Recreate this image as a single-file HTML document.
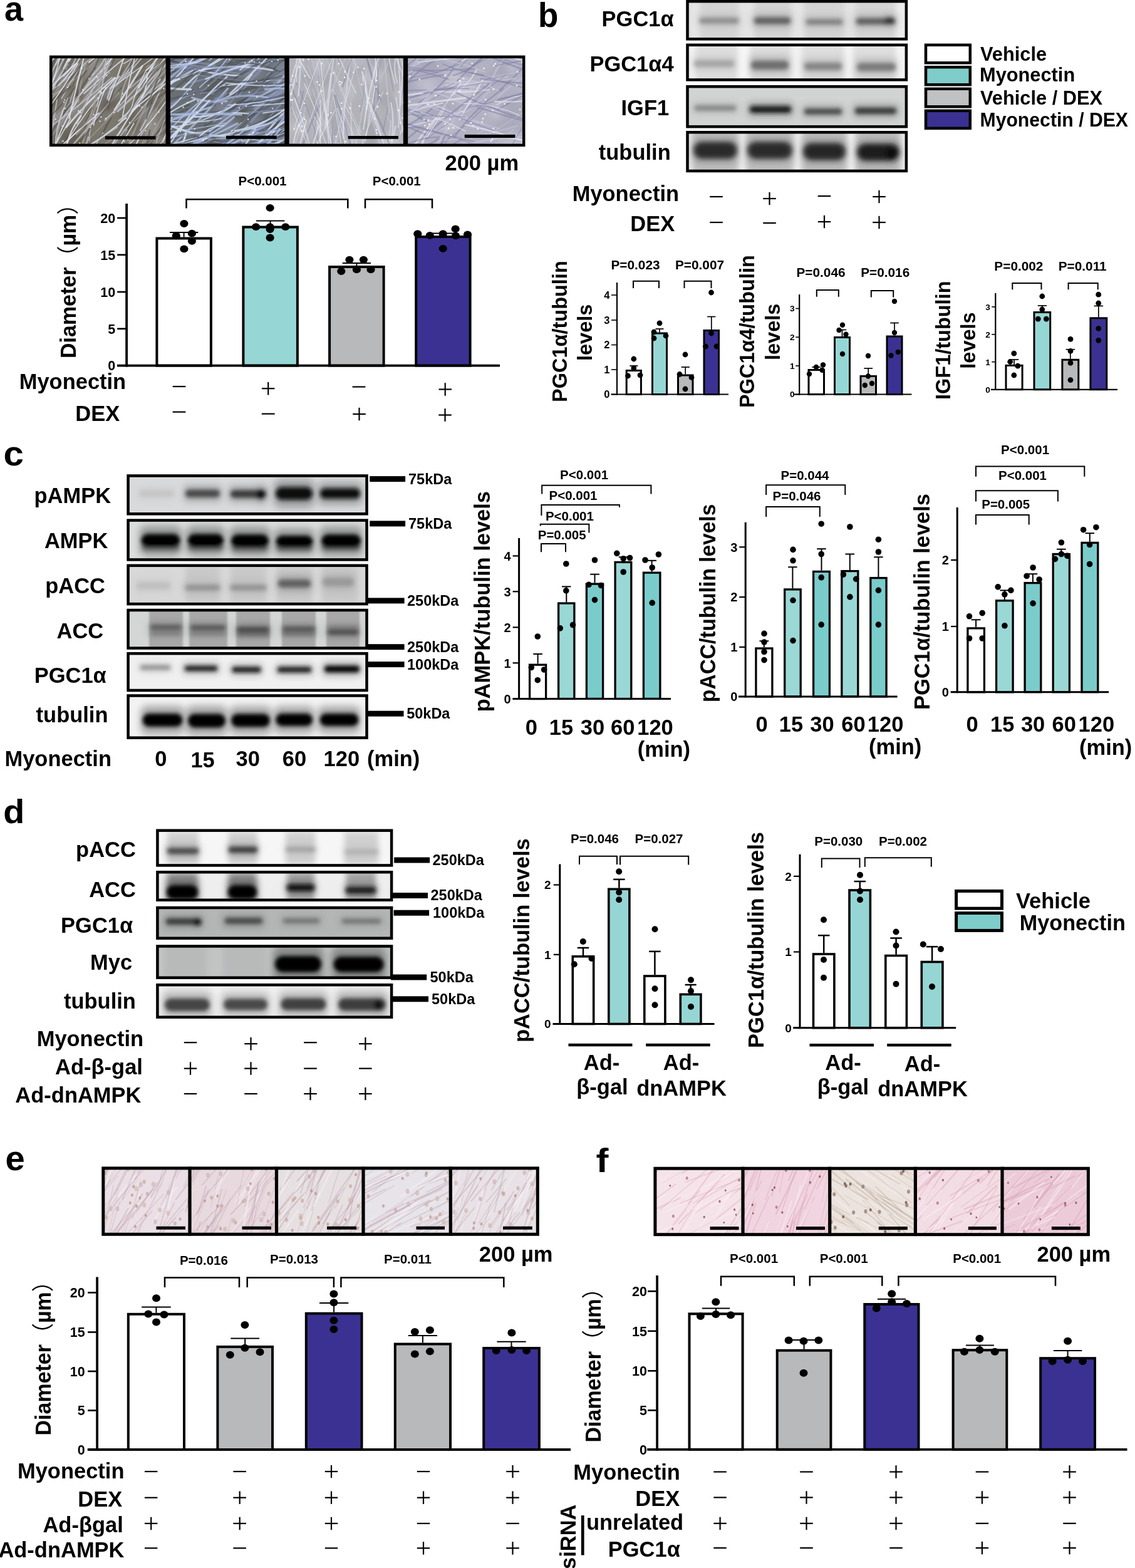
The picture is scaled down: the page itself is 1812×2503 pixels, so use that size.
<!DOCTYPE html>
<html><head><meta charset="utf-8"><title>Figure</title>
<style>
html,body{margin:0;padding:0;background:#fff;}
body{width:1812px;height:2503px;overflow:hidden;}
svg{display:block;}
text{font-family:"Liberation Sans", "Noto Sans CJK SC", sans-serif;}
</style></head><body>
<svg width="1812" height="2503" viewBox="0 0 1812 2503">
<defs>
<filter id="bl" x="-20%" y="-50%" width="140%" height="200%"><feGaussianBlur stdDeviation="3"/></filter>
<filter id="bl5" x="-20%" y="-50%" width="140%" height="200%"><feGaussianBlur stdDeviation="4"/></filter>
<filter id="blur4" x="-20%" y="-20%" width="140%" height="140%"><feGaussianBlur stdDeviation="4"/></filter>
<filter id="bl6" x="-30%" y="-100%" width="160%" height="300%"><feGaussianBlur stdDeviation="6"/></filter>
<filter id="fb" x="-5%" y="-5%" width="110%" height="110%"><feGaussianBlur stdDeviation="0.7"/></filter>
<filter id="bl2" x="-20%" y="-50%" width="140%" height="200%"><feGaussianBlur stdDeviation="1.5"/></filter>
</defs>
<rect x="0" y="0" width="1812" height="2503" fill="#fff"/>
<text x="7.0" y="32.5" font-size="54" text-anchor="start" font-weight="bold" fill="#000" transform="translate(7.0 32.5) scale(1.0 1.035) translate(-7.0 -32.5)">a</text>
<clipPath id="clip1"><rect x="81.0" y="91.0" width="186.0" height="141.0"/></clipPath>
<g clip-path="url(#clip1)">
<rect x="81.0" y="91.0" width="186.0" height="141.0" fill="#7c786e"/>
<g filter="url(#bl6)">
<ellipse cx="106.0" cy="210.5" rx="21.5" ry="13.8" fill="#5a5248" fill-opacity="0.5"/>
<ellipse cx="173.2" cy="154.4" rx="19.8" ry="21.8" fill="#5a5248" fill-opacity="0.5"/>
<ellipse cx="98.5" cy="95.0" rx="22.5" ry="16.5" fill="#5a5248" fill-opacity="0.5"/>
<ellipse cx="222.8" cy="91.3" rx="16.7" ry="20.8" fill="#5a5248" fill-opacity="0.5"/>
<ellipse cx="123.5" cy="224.3" rx="23.5" ry="10.5" fill="#5a5248" fill-opacity="0.5"/>
<ellipse cx="85.7" cy="167.3" rx="24.1" ry="15.7" fill="#5a5248" fill-opacity="0.5"/>
<ellipse cx="121.3" cy="150.5" rx="10.4" ry="13.3" fill="#5a5248" fill-opacity="0.5"/>
<ellipse cx="162.4" cy="160.9" rx="13.5" ry="13.5" fill="#5a5248" fill-opacity="0.5"/>
<ellipse cx="121.7" cy="155.8" rx="14.3" ry="10.3" fill="#5a5248" fill-opacity="0.5"/>
<ellipse cx="236.8" cy="169.5" rx="19.6" ry="12.8" fill="#5a5248" fill-opacity="0.5"/>
<ellipse cx="265.6" cy="212.3" rx="11.8" ry="15.0" fill="#5a5248" fill-opacity="0.5"/>
<ellipse cx="215.2" cy="191.3" rx="24.0" ry="16.3" fill="#5a5248" fill-opacity="0.5"/>
<ellipse cx="235.4" cy="185.5" rx="13.0" ry="15.9" fill="#b0b0b4" fill-opacity="0.4"/>
<ellipse cx="245.1" cy="210.3" rx="15.1" ry="15.9" fill="#b0b0b4" fill-opacity="0.4"/>
<ellipse cx="87.4" cy="125.2" rx="18.0" ry="14.1" fill="#b0b0b4" fill-opacity="0.4"/>
<ellipse cx="113.2" cy="168.4" rx="17.0" ry="16.7" fill="#b0b0b4" fill-opacity="0.4"/>
<ellipse cx="150.7" cy="152.9" rx="15.1" ry="17.8" fill="#b0b0b4" fill-opacity="0.4"/>
<ellipse cx="177.9" cy="146.4" rx="14.9" ry="10.3" fill="#b0b0b4" fill-opacity="0.4"/>
<ellipse cx="89.1" cy="190.2" rx="19.8" ry="15.9" fill="#b0b0b4" fill-opacity="0.4"/>
<ellipse cx="154.2" cy="115.0" rx="15.0" ry="19.8" fill="#b0b0b4" fill-opacity="0.4"/>
</g>
<g filter="url(#fb)">
<path d="M75.6 219.6 Q114.5 164.7 151.4 108.4" fill="none" stroke="#54504a" stroke-opacity="0.6" stroke-width="2.9" stroke-linecap="round"/>
<path d="M154.9 238.5 Q202.2 207.5 242.3 167.6" fill="none" stroke="#a8a4a0" stroke-opacity="0.6" stroke-width="1.9" stroke-linecap="round"/>
<path d="M129.3 123.7 Q158.2 81.8 185.3 38.7" fill="none" stroke="#54504a" stroke-opacity="0.6" stroke-width="2.8" stroke-linecap="round"/>
<path d="M211.0 172.1 Q245.2 146.5 278.7 119.9" fill="none" stroke="#54504a" stroke-opacity="0.6" stroke-width="1.2" stroke-linecap="round"/>
<path d="M101.9 121.6 Q117.9 106.0 123.9 84.5" fill="none" stroke="#c4c8d4" stroke-opacity="0.75" stroke-width="2.3" stroke-linecap="round"/>
<path d="M62.6 298.6 Q80.9 228.9 91.2 157.7" fill="none" stroke="#c4c8d4" stroke-opacity="0.75" stroke-width="2.0" stroke-linecap="round"/>
<path d="M192.8 157.6 Q197.1 131.4 211.6 109.1" fill="none" stroke="#c4c8d4" stroke-opacity="0.75" stroke-width="1.3" stroke-linecap="round"/>
<path d="M92.1 241.1 Q122.8 194.2 163.0 155.3" fill="none" stroke="#54504a" stroke-opacity="0.6" stroke-width="2.1" stroke-linecap="round"/>
<path d="M83.6 129.0 Q103.6 90.8 123.4 52.4" fill="none" stroke="#c4c8d4" stroke-opacity="0.75" stroke-width="2.8" stroke-linecap="round"/>
<path d="M246.3 137.8 Q277.0 105.8 316.6 85.7" fill="none" stroke="#54504a" stroke-opacity="0.6" stroke-width="1.9" stroke-linecap="round"/>
<path d="M133.5 263.1 Q159.2 222.7 181.4 180.2" fill="none" stroke="#54504a" stroke-opacity="0.6" stroke-width="3.0" stroke-linecap="round"/>
<path d="M131.2 227.5 Q152.2 175.9 169.3 122.9" fill="none" stroke="#a8a4a0" stroke-opacity="0.6" stroke-width="1.8" stroke-linecap="round"/>
<path d="M90.5 99.2 Q104.0 74.9 127.4 60.0" fill="none" stroke="#e2e6f0" stroke-opacity="0.85" stroke-width="1.3" stroke-linecap="round"/>
<path d="M88.5 103.7 Q112.7 67.4 147.5 41.4" fill="none" stroke="#c4c8d4" stroke-opacity="0.75" stroke-width="2.8" stroke-linecap="round"/>
<path d="M58.6 258.8 Q101.7 230.7 140.9 197.4" fill="none" stroke="#54504a" stroke-opacity="0.6" stroke-width="3.0" stroke-linecap="round"/>
<path d="M89.8 227.8 Q103.1 190.8 125.2 158.2" fill="none" stroke="#e2e6f0" stroke-opacity="0.85" stroke-width="2.0" stroke-linecap="round"/>
<path d="M142.2 99.5 Q174.0 72.9 207.7 48.7" fill="none" stroke="#e2e6f0" stroke-opacity="0.85" stroke-width="2.3" stroke-linecap="round"/>
<path d="M129.2 280.2 Q132.5 249.2 140.9 219.2" fill="none" stroke="#c4c8d4" stroke-opacity="0.75" stroke-width="2.6" stroke-linecap="round"/>
<path d="M137.2 193.6 Q151.7 172.1 156.2 146.7" fill="none" stroke="#54504a" stroke-opacity="0.6" stroke-width="2.8" stroke-linecap="round"/>
<path d="M41.2 113.4 Q72.0 74.6 110.3 43.2" fill="none" stroke="#a8a4a0" stroke-opacity="0.6" stroke-width="1.4" stroke-linecap="round"/>
<path d="M161.0 152.7 Q169.6 114.9 189.7 81.7" fill="none" stroke="#54504a" stroke-opacity="0.6" stroke-width="1.8" stroke-linecap="round"/>
<path d="M236.5 266.5 Q277.2 232.2 316.9 196.7" fill="none" stroke="#54504a" stroke-opacity="0.6" stroke-width="1.4" stroke-linecap="round"/>
<path d="M129.4 289.0 Q141.5 247.9 164.5 211.8" fill="none" stroke="#e2e6f0" stroke-opacity="0.85" stroke-width="1.5" stroke-linecap="round"/>
<path d="M107.9 224.2 Q141.1 170.2 185.0 124.4" fill="none" stroke="#e2e6f0" stroke-opacity="0.85" stroke-width="1.6" stroke-linecap="round"/>
<path d="M165.6 124.2 Q176.1 88.9 197.9 59.2" fill="none" stroke="#c4c8d4" stroke-opacity="0.75" stroke-width="2.8" stroke-linecap="round"/>
<path d="M197.3 101.6 Q216.7 92.1 227.7 73.6" fill="none" stroke="#e2e6f0" stroke-opacity="0.85" stroke-width="1.4" stroke-linecap="round"/>
<path d="M173.6 160.3 Q196.4 101.2 213.6 40.4" fill="none" stroke="#e2e6f0" stroke-opacity="0.85" stroke-width="2.0" stroke-linecap="round"/>
<path d="M249.2 158.1 Q271.6 144.0 284.5 120.9" fill="none" stroke="#54504a" stroke-opacity="0.6" stroke-width="2.9" stroke-linecap="round"/>
<path d="M98.4 157.2 Q125.9 104.3 165.8 60.0" fill="none" stroke="#c4c8d4" stroke-opacity="0.75" stroke-width="1.8" stroke-linecap="round"/>
<path d="M123.9 170.8 Q147.3 141.2 174.9 115.5" fill="none" stroke="#c4c8d4" stroke-opacity="0.75" stroke-width="1.3" stroke-linecap="round"/>
<path d="M192.4 279.1 Q203.5 249.2 208.9 217.6" fill="none" stroke="#a8a4a0" stroke-opacity="0.6" stroke-width="2.2" stroke-linecap="round"/>
<path d="M112.1 161.9 Q127.2 114.3 148.8 69.3" fill="none" stroke="#c4c8d4" stroke-opacity="0.75" stroke-width="1.3" stroke-linecap="round"/>
<path d="M125.0 162.2 Q130.5 110.4 150.1 62.1" fill="none" stroke="#a8a4a0" stroke-opacity="0.6" stroke-width="2.9" stroke-linecap="round"/>
<path d="M235.6 186.5 Q263.6 126.1 290.3 65.1" fill="none" stroke="#54504a" stroke-opacity="0.6" stroke-width="1.8" stroke-linecap="round"/>
<path d="M108.5 103.8 Q109.7 81.6 123.7 64.4" fill="none" stroke="#e2e6f0" stroke-opacity="0.85" stroke-width="2.2" stroke-linecap="round"/>
<path d="M226.8 156.2 Q236.3 137.1 234.6 115.8" fill="none" stroke="#e2e6f0" stroke-opacity="0.85" stroke-width="2.0" stroke-linecap="round"/>
<path d="M44.1 296.5 Q82.2 245.2 112.7 189.1" fill="none" stroke="#e2e6f0" stroke-opacity="0.85" stroke-width="1.5" stroke-linecap="round"/>
<path d="M57.7 189.7 Q82.9 161.7 112.6 138.4" fill="none" stroke="#54504a" stroke-opacity="0.6" stroke-width="2.9" stroke-linecap="round"/>
<path d="M48.4 195.4 Q72.8 129.6 87.9 61.0" fill="none" stroke="#54504a" stroke-opacity="0.6" stroke-width="2.8" stroke-linecap="round"/>
<path d="M83.1 242.0 Q92.9 199.2 110.2 158.7" fill="none" stroke="#54504a" stroke-opacity="0.6" stroke-width="2.4" stroke-linecap="round"/>
<path d="M129.2 150.1 Q158.7 116.7 187.3 82.5" fill="none" stroke="#e2e6f0" stroke-opacity="0.85" stroke-width="2.0" stroke-linecap="round"/>
<path d="M101.3 109.6 Q118.1 74.8 137.3 41.3" fill="none" stroke="#e2e6f0" stroke-opacity="0.85" stroke-width="2.4" stroke-linecap="round"/>
<path d="M83.5 132.2 Q97.4 94.8 101.0 55.1" fill="none" stroke="#e2e6f0" stroke-opacity="0.85" stroke-width="1.7" stroke-linecap="round"/>
<path d="M64.1 183.0 Q78.8 157.3 98.2 134.9" fill="none" stroke="#a8a4a0" stroke-opacity="0.6" stroke-width="1.5" stroke-linecap="round"/>
<path d="M68.6 161.7 Q116.5 133.4 155.4 93.6" fill="none" stroke="#a8a4a0" stroke-opacity="0.6" stroke-width="2.4" stroke-linecap="round"/>
<path d="M202.8 237.8 Q221.5 187.4 248.4 140.7" fill="none" stroke="#a8a4a0" stroke-opacity="0.6" stroke-width="3.0" stroke-linecap="round"/>
<path d="M105.5 203.3 Q140.9 160.3 183.1 123.9" fill="none" stroke="#e2e6f0" stroke-opacity="0.85" stroke-width="2.6" stroke-linecap="round"/>
<path d="M101.1 248.1 Q146.1 198.9 188.9 147.7" fill="none" stroke="#c4c8d4" stroke-opacity="0.75" stroke-width="2.5" stroke-linecap="round"/>
<path d="M134.0 149.4 Q187.2 99.4 246.2 56.4" fill="none" stroke="#e2e6f0" stroke-opacity="0.85" stroke-width="1.7" stroke-linecap="round"/>
<path d="M182.7 175.7 Q205.6 140.9 227.2 105.3" fill="none" stroke="#e2e6f0" stroke-opacity="0.85" stroke-width="2.7" stroke-linecap="round"/>
<path d="M104.9 110.1 Q113.1 85.6 132.5 68.5" fill="none" stroke="#e2e6f0" stroke-opacity="0.85" stroke-width="2.5" stroke-linecap="round"/>
<path d="M236.1 227.3 Q282.8 199.8 322.9 163.3" fill="none" stroke="#54504a" stroke-opacity="0.6" stroke-width="1.3" stroke-linecap="round"/>
<path d="M209.3 173.6 Q240.8 147.1 275.5 125.1" fill="none" stroke="#54504a" stroke-opacity="0.6" stroke-width="1.5" stroke-linecap="round"/>
<path d="M80.1 186.0 Q114.1 153.1 137.8 112.2" fill="none" stroke="#54504a" stroke-opacity="0.6" stroke-width="2.2" stroke-linecap="round"/>
<path d="M171.8 282.5 Q188.6 245.2 203.0 207.0" fill="none" stroke="#c4c8d4" stroke-opacity="0.75" stroke-width="2.2" stroke-linecap="round"/>
<path d="M216.8 150.3 Q250.3 108.8 282.8 66.5" fill="none" stroke="#e2e6f0" stroke-opacity="0.85" stroke-width="1.7" stroke-linecap="round"/>
<path d="M224.0 208.1 Q254.3 154.1 274.2 95.5" fill="none" stroke="#c4c8d4" stroke-opacity="0.75" stroke-width="2.8" stroke-linecap="round"/>
<path d="M227.7 248.9 Q252.8 209.1 281.0 171.5" fill="none" stroke="#54504a" stroke-opacity="0.6" stroke-width="2.2" stroke-linecap="round"/>
<path d="M15.9 222.1 Q64.2 171.7 117.0 126.0" fill="none" stroke="#c4c8d4" stroke-opacity="0.75" stroke-width="1.2" stroke-linecap="round"/>
<path d="M233.7 189.6 Q247.1 151.1 252.4 110.7" fill="none" stroke="#54504a" stroke-opacity="0.6" stroke-width="2.4" stroke-linecap="round"/>
<path d="M154.9 169.8 Q167.1 127.0 170.3 82.5" fill="none" stroke="#c4c8d4" stroke-opacity="0.75" stroke-width="1.9" stroke-linecap="round"/>
<path d="M129.1 239.8 Q149.5 172.4 165.8 103.7" fill="none" stroke="#a8a4a0" stroke-opacity="0.6" stroke-width="3.0" stroke-linecap="round"/>
<path d="M212.7 171.4 Q254.2 151.4 286.5 118.6" fill="none" stroke="#54504a" stroke-opacity="0.6" stroke-width="2.5" stroke-linecap="round"/>
<path d="M182.5 140.1 Q214.3 108.6 241.9 73.3" fill="none" stroke="#c4c8d4" stroke-opacity="0.75" stroke-width="2.1" stroke-linecap="round"/>
<path d="M170.5 270.2 Q205.9 253.4 232.5 224.6" fill="none" stroke="#a8a4a0" stroke-opacity="0.6" stroke-width="2.5" stroke-linecap="round"/>
<path d="M173.2 240.1 Q204.5 187.6 238.2 136.8" fill="none" stroke="#e2e6f0" stroke-opacity="0.85" stroke-width="2.3" stroke-linecap="round"/>
<path d="M193.3 280.1 Q241.8 227.3 282.4 168.2" fill="none" stroke="#54504a" stroke-opacity="0.6" stroke-width="2.6" stroke-linecap="round"/>
<path d="M206.0 260.3 Q216.0 226.8 236.0 198.1" fill="none" stroke="#e2e6f0" stroke-opacity="0.85" stroke-width="2.2" stroke-linecap="round"/>
<path d="M47.2 202.2 Q70.2 162.7 95.3 124.5" fill="none" stroke="#c4c8d4" stroke-opacity="0.75" stroke-width="2.5" stroke-linecap="round"/>
<path d="M88.1 242.8 Q91.8 198.1 108.1 156.4" fill="none" stroke="#c4c8d4" stroke-opacity="0.75" stroke-width="1.5" stroke-linecap="round"/>
<path d="M88.9 256.4 Q102.5 227.3 127.0 206.3" fill="none" stroke="#c4c8d4" stroke-opacity="0.75" stroke-width="1.7" stroke-linecap="round"/>
<path d="M46.1 168.1 Q79.0 128.8 98.4 81.3" fill="none" stroke="#c4c8d4" stroke-opacity="0.75" stroke-width="2.5" stroke-linecap="round"/>
<path d="M123.1 197.9 Q146.3 141.7 176.3 88.8" fill="none" stroke="#c4c8d4" stroke-opacity="0.75" stroke-width="2.1" stroke-linecap="round"/>
<path d="M175.8 140.6 Q203.0 119.0 221.9 89.9" fill="none" stroke="#c4c8d4" stroke-opacity="0.75" stroke-width="2.4" stroke-linecap="round"/>
<path d="M215.2 253.0 Q235.0 214.0 251.1 173.3" fill="none" stroke="#a8a4a0" stroke-opacity="0.6" stroke-width="1.5" stroke-linecap="round"/>
<path d="M153.2 273.7 Q197.1 245.3 231.7 206.0" fill="none" stroke="#54504a" stroke-opacity="0.6" stroke-width="1.5" stroke-linecap="round"/>
<path d="M76.9 223.5 Q95.6 202.8 107.5 177.6" fill="none" stroke="#a8a4a0" stroke-opacity="0.6" stroke-width="1.8" stroke-linecap="round"/>
<path d="M206.8 113.6 Q212.2 82.6 223.2 53.1" fill="none" stroke="#54504a" stroke-opacity="0.6" stroke-width="1.6" stroke-linecap="round"/>
<path d="M226.0 88.7 Q245.7 77.6 261.9 61.7" fill="none" stroke="#e2e6f0" stroke-opacity="0.85" stroke-width="2.6" stroke-linecap="round"/>
<path d="M235.8 230.4 Q282.9 185.6 322.0 133.6" fill="none" stroke="#a8a4a0" stroke-opacity="0.6" stroke-width="1.8" stroke-linecap="round"/>
<path d="M93.2 136.6 Q114.4 115.7 129.2 89.8" fill="none" stroke="#e2e6f0" stroke-opacity="0.85" stroke-width="2.0" stroke-linecap="round"/>
<path d="M172.1 174.8 Q181.0 140.2 197.2 108.2" fill="none" stroke="#54504a" stroke-opacity="0.6" stroke-width="2.0" stroke-linecap="round"/>
<path d="M243.9 135.5 Q290.3 82.8 327.6 23.2" fill="none" stroke="#a8a4a0" stroke-opacity="0.6" stroke-width="2.6" stroke-linecap="round"/>
<path d="M74.9 149.3 Q129.2 110.4 177.0 63.6" fill="none" stroke="#c4c8d4" stroke-opacity="0.75" stroke-width="1.5" stroke-linecap="round"/>
<path d="M133.0 244.7 Q149.2 230.4 164.0 214.5" fill="none" stroke="#54504a" stroke-opacity="0.6" stroke-width="2.2" stroke-linecap="round"/>
<path d="M238.4 278.7 Q244.1 233.1 263.3 191.3" fill="none" stroke="#c4c8d4" stroke-opacity="0.75" stroke-width="1.3" stroke-linecap="round"/>
<path d="M80.3 121.8 Q89.7 87.9 94.8 53.2" fill="none" stroke="#54504a" stroke-opacity="0.6" stroke-width="1.2" stroke-linecap="round"/>
<path d="M167.3 191.8 Q216.5 146.5 254.4 91.3" fill="none" stroke="#c4c8d4" stroke-opacity="0.75" stroke-width="2.3" stroke-linecap="round"/>
<path d="M220.3 151.6 Q242.0 103.9 257.9 53.9" fill="none" stroke="#54504a" stroke-opacity="0.6" stroke-width="2.0" stroke-linecap="round"/>
<path d="M143.8 231.5 Q186.9 205.0 221.4 168.1" fill="none" stroke="#e2e6f0" stroke-opacity="0.85" stroke-width="2.2" stroke-linecap="round"/>
<path d="M183.1 252.3 Q229.6 212.3 264.8 162.0" fill="none" stroke="#e2e6f0" stroke-opacity="0.85" stroke-width="1.7" stroke-linecap="round"/>
<path d="M150.9 109.6 Q164.2 80.6 164.6 48.7" fill="none" stroke="#54504a" stroke-opacity="0.6" stroke-width="2.3" stroke-linecap="round"/>
<path d="M118.0 115.4 Q133.9 95.3 145.4 72.5" fill="none" stroke="#a8a4a0" stroke-opacity="0.6" stroke-width="1.3" stroke-linecap="round"/>
<path d="M113.3 254.0 Q159.0 201.5 210.4 154.7" fill="none" stroke="#a8a4a0" stroke-opacity="0.6" stroke-width="1.7" stroke-linecap="round"/>
<path d="M142.6 224.8 Q142.1 202.2 153.1 182.4" fill="none" stroke="#c4c8d4" stroke-opacity="0.75" stroke-width="1.8" stroke-linecap="round"/>
<path d="M81.1 194.2 Q130.3 148.6 178.1 101.6" fill="none" stroke="#a8a4a0" stroke-opacity="0.6" stroke-width="1.6" stroke-linecap="round"/>
<path d="M111.8 263.0 Q145.7 228.5 187.0 203.3" fill="none" stroke="#c4c8d4" stroke-opacity="0.75" stroke-width="2.1" stroke-linecap="round"/>
<path d="M223.7 218.5 Q245.5 172.1 279.8 134.0" fill="none" stroke="#a8a4a0" stroke-opacity="0.6" stroke-width="2.1" stroke-linecap="round"/>
<path d="M127.7 152.2 Q144.6 125.6 170.3 107.2" fill="none" stroke="#c4c8d4" stroke-opacity="0.75" stroke-width="1.9" stroke-linecap="round"/>
<path d="M194.7 191.2 Q205.8 127.3 221.6 64.4" fill="none" stroke="#e2e6f0" stroke-opacity="0.85" stroke-width="1.7" stroke-linecap="round"/>
<path d="M29.4 128.2 Q65.6 95.6 96.5 57.9" fill="none" stroke="#c4c8d4" stroke-opacity="0.75" stroke-width="1.8" stroke-linecap="round"/>
<path d="M98.0 189.6 Q127.3 155.5 150.4 116.8" fill="none" stroke="#c4c8d4" stroke-opacity="0.75" stroke-width="1.9" stroke-linecap="round"/>
<path d="M217.8 264.7 Q269.7 216.3 321.0 167.4" fill="none" stroke="#a8a4a0" stroke-opacity="0.6" stroke-width="1.4" stroke-linecap="round"/>
<path d="M188.1 177.7 Q231.4 138.1 271.4 95.2" fill="none" stroke="#c4c8d4" stroke-opacity="0.75" stroke-width="2.9" stroke-linecap="round"/>
<path d="M116.6 211.3 Q134.3 161.2 159.3 114.5" fill="none" stroke="#a8a4a0" stroke-opacity="0.6" stroke-width="1.3" stroke-linecap="round"/>
<path d="M62.3 202.4 Q96.8 141.2 143.1 88.4" fill="none" stroke="#54504a" stroke-opacity="0.6" stroke-width="2.5" stroke-linecap="round"/>
<path d="M176.0 141.7 Q223.2 108.9 269.0 74.2" fill="none" stroke="#e2e6f0" stroke-opacity="0.85" stroke-width="1.3" stroke-linecap="round"/>
<path d="M62.4 264.9 Q109.4 221.9 157.8 180.5" fill="none" stroke="#e2e6f0" stroke-opacity="0.85" stroke-width="2.1" stroke-linecap="round"/>
<path d="M207.4 140.6 Q243.4 110.7 279.6 81.1" fill="none" stroke="#c4c8d4" stroke-opacity="0.75" stroke-width="1.6" stroke-linecap="round"/>
<path d="M156.2 291.9 Q187.2 243.8 211.9 192.1" fill="none" stroke="#54504a" stroke-opacity="0.6" stroke-width="2.6" stroke-linecap="round"/>
<path d="M171.5 157.9 Q175.3 136.7 190.9 121.9" fill="none" stroke="#c4c8d4" stroke-opacity="0.75" stroke-width="2.8" stroke-linecap="round"/>
<path d="M150.9 170.7 Q167.6 106.0 178.3 39.9" fill="none" stroke="#a8a4a0" stroke-opacity="0.6" stroke-width="1.7" stroke-linecap="round"/>
<path d="M140.0 304.7 Q180.5 253.4 213.6 197.1" fill="none" stroke="#e2e6f0" stroke-opacity="0.85" stroke-width="1.8" stroke-linecap="round"/>
<path d="M218.4 285.0 Q247.7 244.7 273.6 202.1" fill="none" stroke="#c4c8d4" stroke-opacity="0.75" stroke-width="1.9" stroke-linecap="round"/>
<path d="M147.6 119.9 Q167.9 100.2 175.1 72.9" fill="none" stroke="#c4c8d4" stroke-opacity="0.75" stroke-width="2.6" stroke-linecap="round"/>
<path d="M180.7 231.8 Q226.1 172.5 274.0 115.1" fill="none" stroke="#c4c8d4" stroke-opacity="0.75" stroke-width="1.9" stroke-linecap="round"/>
<path d="M197.6 185.5 Q255.3 144.0 306.9 95.3" fill="none" stroke="#e2e6f0" stroke-opacity="0.85" stroke-width="2.0" stroke-linecap="round"/>
<path d="M193.0 193.6 Q234.5 141.1 276.4 89.1" fill="none" stroke="#c4c8d4" stroke-opacity="0.75" stroke-width="2.6" stroke-linecap="round"/>
<path d="M89.8 136.5 Q101.1 118.8 110.0 99.7" fill="none" stroke="#54504a" stroke-opacity="0.6" stroke-width="2.7" stroke-linecap="round"/>
<path d="M239.2 148.9 Q271.0 120.1 307.2 97.1" fill="none" stroke="#c4c8d4" stroke-opacity="0.75" stroke-width="2.0" stroke-linecap="round"/>
<path d="M189.7 193.0 Q225.1 162.4 255.7 126.9" fill="none" stroke="#c4c8d4" stroke-opacity="0.75" stroke-width="2.9" stroke-linecap="round"/>
<path d="M87.8 233.7 Q89.4 201.9 101.8 172.6" fill="none" stroke="#e2e6f0" stroke-opacity="0.85" stroke-width="1.4" stroke-linecap="round"/>
<path d="M221.5 140.0 Q256.6 90.9 277.6 34.3" fill="none" stroke="#e2e6f0" stroke-opacity="0.85" stroke-width="2.3" stroke-linecap="round"/>
<path d="M252.9 278.9 Q275.5 247.0 296.7 214.1" fill="none" stroke="#54504a" stroke-opacity="0.6" stroke-width="1.4" stroke-linecap="round"/>
<path d="M241.0 235.9 Q289.2 198.5 330.7 153.9" fill="none" stroke="#a8a4a0" stroke-opacity="0.6" stroke-width="1.5" stroke-linecap="round"/>
<path d="M40.0 181.7 Q78.4 139.2 121.4 101.4" fill="none" stroke="#e2e6f0" stroke-opacity="0.85" stroke-width="2.4" stroke-linecap="round"/>
<path d="M233.5 106.9 Q258.1 95.2 274.4 73.5" fill="none" stroke="#a8a4a0" stroke-opacity="0.6" stroke-width="1.9" stroke-linecap="round"/>
<path d="M218.7 272.8 Q234.6 242.0 239.2 207.7" fill="none" stroke="#54504a" stroke-opacity="0.6" stroke-width="2.2" stroke-linecap="round"/>
<path d="M216.9 127.7 Q258.2 92.2 294.3 51.6" fill="none" stroke="#54504a" stroke-opacity="0.6" stroke-width="2.6" stroke-linecap="round"/>
<path d="M64.0 214.3 Q124.0 172.1 178.9 123.4" fill="none" stroke="#c4c8d4" stroke-opacity="0.75" stroke-width="2.0" stroke-linecap="round"/>
<path d="M208.4 178.4 Q216.0 143.8 232.8 112.6" fill="none" stroke="#e2e6f0" stroke-opacity="0.85" stroke-width="1.4" stroke-linecap="round"/>
<path d="M64.7 190.3 Q97.2 147.6 124.5 101.5" fill="none" stroke="#e2e6f0" stroke-opacity="0.85" stroke-width="1.7" stroke-linecap="round"/>
<path d="M171.2 154.9 Q199.9 116.9 221.6 74.6" fill="none" stroke="#c4c8d4" stroke-opacity="0.75" stroke-width="1.5" stroke-linecap="round"/>
<path d="M121.7 215.1 Q138.8 198.7 147.7 176.7" fill="none" stroke="#a8a4a0" stroke-opacity="0.6" stroke-width="2.4" stroke-linecap="round"/>
<path d="M116.3 137.2 Q132.0 92.6 154.9 51.1" fill="none" stroke="#54504a" stroke-opacity="0.6" stroke-width="1.5" stroke-linecap="round"/>
<path d="M31.4 153.4 Q73.1 102.8 113.2 50.9" fill="none" stroke="#e2e6f0" stroke-opacity="0.85" stroke-width="1.4" stroke-linecap="round"/>
<path d="M55.7 144.0 Q59.7 123.0 75.3 108.6" fill="none" stroke="#c4c8d4" stroke-opacity="0.75" stroke-width="2.3" stroke-linecap="round"/>
<path d="M234.7 169.9 Q253.9 119.0 276.6 69.5" fill="none" stroke="#54504a" stroke-opacity="0.6" stroke-width="2.5" stroke-linecap="round"/>
<path d="M106.1 235.5 Q111.0 207.3 129.3 185.3" fill="none" stroke="#e2e6f0" stroke-opacity="0.85" stroke-width="2.4" stroke-linecap="round"/>
<path d="M110.5 188.7 Q126.7 115.5 147.1 43.4" fill="none" stroke="#e2e6f0" stroke-opacity="0.85" stroke-width="2.2" stroke-linecap="round"/>
<path d="M260.3 226.8 Q274.8 187.4 283.8 146.3" fill="none" stroke="#e2e6f0" stroke-opacity="0.85" stroke-width="1.6" stroke-linecap="round"/>
<path d="M265.3 159.0 Q282.3 92.1 290.1 23.6" fill="none" stroke="#c4c8d4" stroke-opacity="0.75" stroke-width="2.9" stroke-linecap="round"/>
<path d="M111.5 247.9 Q152.9 194.2 193.7 139.9" fill="none" stroke="#54504a" stroke-opacity="0.6" stroke-width="2.3" stroke-linecap="round"/>
<path d="M240.7 220.0 Q258.1 181.5 287.4 151.0" fill="none" stroke="#a8a4a0" stroke-opacity="0.6" stroke-width="2.2" stroke-linecap="round"/>
<path d="M149.5 200.1 Q155.7 168.7 169.0 139.5" fill="none" stroke="#e2e6f0" stroke-opacity="0.85" stroke-width="1.7" stroke-linecap="round"/>
<path d="M62.5 174.6 Q85.1 139.0 106.4 102.6" fill="none" stroke="#c4c8d4" stroke-opacity="0.75" stroke-width="2.4" stroke-linecap="round"/>
<path d="M63.6 119.6 Q93.1 86.2 118.2 49.3" fill="none" stroke="#e2e6f0" stroke-opacity="0.85" stroke-width="2.2" stroke-linecap="round"/>
<path d="M200.7 191.5 Q229.7 134.2 268.2 82.6" fill="none" stroke="#54504a" stroke-opacity="0.6" stroke-width="1.7" stroke-linecap="round"/>
<path d="M250.5 125.9 Q283.8 99.5 312.9 68.7" fill="none" stroke="#a8a4a0" stroke-opacity="0.6" stroke-width="1.7" stroke-linecap="round"/>
<path d="M233.7 112.0 Q251.1 99.0 256.8 78.0" fill="none" stroke="#e2e6f0" stroke-opacity="0.85" stroke-width="2.5" stroke-linecap="round"/>
</g>
<circle cx="99.8" cy="95.3" r="1.2" fill="#f0f0f4" fill-opacity="0.8"/>
<circle cx="161.3" cy="186.8" r="1.2" fill="#f0f0f4" fill-opacity="0.8"/>
<circle cx="132.3" cy="143.2" r="1.2" fill="#f0f0f4" fill-opacity="0.8"/>
<circle cx="156.5" cy="156.1" r="1.2" fill="#f0f0f4" fill-opacity="0.8"/>
<circle cx="99.4" cy="200.9" r="1.2" fill="#f0f0f4" fill-opacity="0.8"/>
<circle cx="201.2" cy="189.3" r="1.2" fill="#f0f0f4" fill-opacity="0.8"/>
<circle cx="232.1" cy="208.3" r="1.2" fill="#f0f0f4" fill-opacity="0.8"/>
<circle cx="190.3" cy="165.8" r="1.2" fill="#f0f0f4" fill-opacity="0.8"/>
<circle cx="223.0" cy="168.7" r="1.2" fill="#f0f0f4" fill-opacity="0.8"/>
<circle cx="226.6" cy="171.1" r="1.2" fill="#f0f0f4" fill-opacity="0.8"/>
<circle cx="261.2" cy="141.3" r="1.2" fill="#f0f0f4" fill-opacity="0.8"/>
<circle cx="169.1" cy="189.3" r="1.2" fill="#f0f0f4" fill-opacity="0.8"/>
<circle cx="253.5" cy="178.7" r="1.2" fill="#f0f0f4" fill-opacity="0.8"/>
<circle cx="100.6" cy="225.2" r="1.2" fill="#f0f0f4" fill-opacity="0.8"/>
<circle cx="243.2" cy="107.4" r="1.2" fill="#f0f0f4" fill-opacity="0.8"/>
<circle cx="88.5" cy="190.3" r="1.2" fill="#f0f0f4" fill-opacity="0.8"/>
<circle cx="159.6" cy="193.5" r="1.2" fill="#f0f0f4" fill-opacity="0.8"/>
<circle cx="128.1" cy="179.2" r="1.2" fill="#f0f0f4" fill-opacity="0.8"/>
<circle cx="248.1" cy="220.1" r="1.2" fill="#f0f0f4" fill-opacity="0.8"/>
<circle cx="195.8" cy="149.5" r="1.2" fill="#f0f0f4" fill-opacity="0.8"/>
<circle cx="147.7" cy="197.3" r="1.2" fill="#f0f0f4" fill-opacity="0.8"/>
<circle cx="144.5" cy="203.5" r="1.2" fill="#f0f0f4" fill-opacity="0.8"/>
<circle cx="125.3" cy="177.0" r="1.2" fill="#f0f0f4" fill-opacity="0.8"/>
<circle cx="107.9" cy="139.2" r="1.2" fill="#f0f0f4" fill-opacity="0.8"/>
<circle cx="102.1" cy="163.3" r="1.2" fill="#f0f0f4" fill-opacity="0.8"/>
<circle cx="182.0" cy="179.3" r="1.2" fill="#f0f0f4" fill-opacity="0.8"/>
<circle cx="247.4" cy="197.8" r="1.2" fill="#f0f0f4" fill-opacity="0.8"/>
<circle cx="103.6" cy="173.2" r="1.2" fill="#f0f0f4" fill-opacity="0.8"/>
<circle cx="170.3" cy="120.5" r="1.2" fill="#f0f0f4" fill-opacity="0.8"/>
<circle cx="198.5" cy="225.4" r="1.2" fill="#f0f0f4" fill-opacity="0.8"/>
<circle cx="154.9" cy="123.1" r="1.2" fill="#f0f0f4" fill-opacity="0.8"/>
<circle cx="127.2" cy="228.5" r="1.2" fill="#f0f0f4" fill-opacity="0.8"/>
<circle cx="142.2" cy="125.6" r="1.2" fill="#f0f0f4" fill-opacity="0.8"/>
<circle cx="206.9" cy="195.8" r="1.2" fill="#f0f0f4" fill-opacity="0.8"/>
<circle cx="149.7" cy="182.9" r="1.2" fill="#f0f0f4" fill-opacity="0.8"/>
<circle cx="204.4" cy="223.1" r="1.2" fill="#f0f0f4" fill-opacity="0.8"/>
<circle cx="161.4" cy="147.2" r="1.2" fill="#f0f0f4" fill-opacity="0.8"/>
<circle cx="103.4" cy="159.8" r="1.2" fill="#f0f0f4" fill-opacity="0.8"/>
<circle cx="130.6" cy="108.7" r="1.2" fill="#f0f0f4" fill-opacity="0.8"/>
<circle cx="83.2" cy="149.5" r="1.2" fill="#f0f0f4" fill-opacity="0.8"/>
</g>
<clipPath id="clip2"><rect x="268.0" y="91.0" width="190.0" height="141.0"/></clipPath>
<g clip-path="url(#clip2)">
<rect x="268.0" y="91.0" width="190.0" height="141.0" fill="#6a6f72"/>
<g filter="url(#bl6)">
<ellipse cx="449.6" cy="224.6" rx="10.8" ry="11.3" fill="#484c48" fill-opacity="0.55"/>
<ellipse cx="426.7" cy="194.8" rx="20.0" ry="14.6" fill="#484c48" fill-opacity="0.55"/>
<ellipse cx="383.1" cy="176.6" rx="18.7" ry="12.4" fill="#484c48" fill-opacity="0.55"/>
<ellipse cx="349.8" cy="146.5" rx="20.8" ry="24.9" fill="#484c48" fill-opacity="0.55"/>
<ellipse cx="448.4" cy="167.7" rx="16.7" ry="14.0" fill="#484c48" fill-opacity="0.55"/>
<ellipse cx="274.8" cy="94.9" rx="17.0" ry="14.8" fill="#484c48" fill-opacity="0.55"/>
<ellipse cx="340.2" cy="216.7" rx="17.9" ry="18.4" fill="#484c48" fill-opacity="0.55"/>
<ellipse cx="312.9" cy="94.4" rx="14.9" ry="12.1" fill="#484c48" fill-opacity="0.55"/>
<ellipse cx="364.9" cy="231.8" rx="20.1" ry="12.7" fill="#484c48" fill-opacity="0.55"/>
<ellipse cx="437.8" cy="203.3" rx="21.0" ry="23.6" fill="#484c48" fill-opacity="0.55"/>
<ellipse cx="412.9" cy="202.4" rx="13.5" ry="19.8" fill="#9aa6c4" fill-opacity="0.4"/>
<ellipse cx="450.8" cy="113.7" rx="17.5" ry="17.2" fill="#9aa6c4" fill-opacity="0.4"/>
<ellipse cx="355.7" cy="165.8" rx="14.9" ry="19.2" fill="#9aa6c4" fill-opacity="0.4"/>
<ellipse cx="363.2" cy="208.2" rx="13.5" ry="18.8" fill="#9aa6c4" fill-opacity="0.4"/>
<ellipse cx="438.9" cy="156.0" rx="15.7" ry="19.2" fill="#9aa6c4" fill-opacity="0.4"/>
<ellipse cx="405.5" cy="159.6" rx="12.2" ry="13.2" fill="#9aa6c4" fill-opacity="0.4"/>
<ellipse cx="400.9" cy="114.4" rx="19.1" ry="12.7" fill="#9aa6c4" fill-opacity="0.4"/>
<ellipse cx="441.2" cy="134.6" rx="19.6" ry="17.1" fill="#9aa6c4" fill-opacity="0.4"/>
</g>
<g filter="url(#fb)">
<path d="M339.1 256.7 Q359.4 230.0 392.4 223.5" fill="none" stroke="#8a96bc" stroke-opacity="0.6" stroke-width="2.7" stroke-linecap="round"/>
<path d="M222.8 215.4 Q292.6 210.0 361.3 196.2" fill="none" stroke="#aebee2" stroke-opacity="0.8" stroke-width="1.6" stroke-linecap="round"/>
<path d="M403.2 223.1 Q456.9 201.2 514.0 192.0" fill="none" stroke="#aebee2" stroke-opacity="0.8" stroke-width="1.8" stroke-linecap="round"/>
<path d="M431.3 206.5 Q454.9 204.6 477.8 210.4" fill="none" stroke="#464c54" stroke-opacity="0.5" stroke-width="1.6" stroke-linecap="round"/>
<path d="M443.4 80.3 Q465.0 62.4 491.7 70.9" fill="none" stroke="#464c54" stroke-opacity="0.5" stroke-width="3.0" stroke-linecap="round"/>
<path d="M364.4 214.1 Q418.7 167.5 469.6 117.3" fill="none" stroke="#aebee2" stroke-opacity="0.8" stroke-width="1.5" stroke-linecap="round"/>
<path d="M310.6 196.9 Q320.0 174.2 343.7 167.9" fill="none" stroke="#464c54" stroke-opacity="0.5" stroke-width="3.0" stroke-linecap="round"/>
<path d="M340.5 194.2 Q372.4 174.4 409.2 166.9" fill="none" stroke="#aebee2" stroke-opacity="0.8" stroke-width="1.6" stroke-linecap="round"/>
<path d="M297.9 111.8 Q356.7 106.7 415.5 111.8" fill="none" stroke="#8a96bc" stroke-opacity="0.6" stroke-width="2.8" stroke-linecap="round"/>
<path d="M424.2 212.3 Q465.8 164.6 508.0 117.3" fill="none" stroke="#d0dcf2" stroke-opacity="0.85" stroke-width="3.1" stroke-linecap="round"/>
<path d="M253.2 229.1 Q298.6 170.6 362.0 132.3" fill="none" stroke="#aebee2" stroke-opacity="0.8" stroke-width="2.3" stroke-linecap="round"/>
<path d="M245.0 108.4 Q276.8 94.5 311.6 95.4" fill="none" stroke="#464c54" stroke-opacity="0.5" stroke-width="2.4" stroke-linecap="round"/>
<path d="M317.8 112.0 Q349.8 119.8 382.8 120.8" fill="none" stroke="#d0dcf2" stroke-opacity="0.85" stroke-width="2.7" stroke-linecap="round"/>
<path d="M333.6 96.8 Q367.6 69.8 404.4 47.0" fill="none" stroke="#aebee2" stroke-opacity="0.8" stroke-width="1.6" stroke-linecap="round"/>
<path d="M248.2 83.2 Q267.6 64.2 294.7 66.0" fill="none" stroke="#d0dcf2" stroke-opacity="0.85" stroke-width="3.0" stroke-linecap="round"/>
<path d="M276.4 202.6 Q323.1 197.9 362.1 171.7" fill="none" stroke="#d0dcf2" stroke-opacity="0.85" stroke-width="1.9" stroke-linecap="round"/>
<path d="M322.2 182.1 Q365.3 173.9 409.1 170.3" fill="none" stroke="#464c54" stroke-opacity="0.5" stroke-width="1.6" stroke-linecap="round"/>
<path d="M302.0 71.2 Q359.0 63.9 414.7 77.9" fill="none" stroke="#464c54" stroke-opacity="0.5" stroke-width="3.4" stroke-linecap="round"/>
<path d="M271.6 115.0 Q327.5 65.1 395.6 33.9" fill="none" stroke="#aebee2" stroke-opacity="0.8" stroke-width="2.9" stroke-linecap="round"/>
<path d="M388.8 257.0 Q440.2 221.0 486.9 179.0" fill="none" stroke="#aebee2" stroke-opacity="0.8" stroke-width="1.6" stroke-linecap="round"/>
<path d="M223.7 154.7 Q272.5 132.1 306.3 90.3" fill="none" stroke="#8a96bc" stroke-opacity="0.6" stroke-width="2.2" stroke-linecap="round"/>
<path d="M237.3 167.0 Q268.5 130.6 312.0 110.1" fill="none" stroke="#d0dcf2" stroke-opacity="0.85" stroke-width="2.9" stroke-linecap="round"/>
<path d="M252.2 97.7 Q277.8 89.1 299.8 73.4" fill="none" stroke="#aebee2" stroke-opacity="0.8" stroke-width="3.2" stroke-linecap="round"/>
<path d="M378.6 215.3 Q399.6 211.6 420.7 208.0" fill="none" stroke="#464c54" stroke-opacity="0.5" stroke-width="2.9" stroke-linecap="round"/>
<path d="M306.6 155.9 Q333.6 164.8 361.9 161.4" fill="none" stroke="#aebee2" stroke-opacity="0.8" stroke-width="3.2" stroke-linecap="round"/>
<path d="M250.4 108.3 Q316.7 106.2 382.1 117.6" fill="none" stroke="#8a96bc" stroke-opacity="0.6" stroke-width="2.5" stroke-linecap="round"/>
<path d="M209.8 212.5 Q265.4 190.9 325.0 192.9" fill="none" stroke="#8a96bc" stroke-opacity="0.6" stroke-width="2.7" stroke-linecap="round"/>
<path d="M316.1 79.3 Q342.3 94.1 371.6 86.9" fill="none" stroke="#464c54" stroke-opacity="0.5" stroke-width="1.7" stroke-linecap="round"/>
<path d="M274.5 216.9 Q300.1 191.1 328.0 167.9" fill="none" stroke="#d0dcf2" stroke-opacity="0.85" stroke-width="2.9" stroke-linecap="round"/>
<path d="M430.4 242.0 Q466.8 208.1 502.6 173.6" fill="none" stroke="#aebee2" stroke-opacity="0.8" stroke-width="1.7" stroke-linecap="round"/>
<path d="M444.0 131.9 Q463.3 110.4 487.8 94.9" fill="none" stroke="#aebee2" stroke-opacity="0.8" stroke-width="3.2" stroke-linecap="round"/>
<path d="M379.4 163.6 Q433.1 137.6 489.1 117.2" fill="none" stroke="#464c54" stroke-opacity="0.5" stroke-width="3.0" stroke-linecap="round"/>
<path d="M372.2 256.4 Q411.1 239.8 450.6 224.7" fill="none" stroke="#d0dcf2" stroke-opacity="0.85" stroke-width="2.9" stroke-linecap="round"/>
<path d="M197.4 229.9 Q266.9 220.3 336.1 208.8" fill="none" stroke="#aebee2" stroke-opacity="0.8" stroke-width="3.0" stroke-linecap="round"/>
<path d="M422.1 211.3 Q472.3 185.0 523.4 160.5" fill="none" stroke="#464c54" stroke-opacity="0.5" stroke-width="1.5" stroke-linecap="round"/>
<path d="M188.5 255.5 Q252.6 244.6 315.3 227.9" fill="none" stroke="#8a96bc" stroke-opacity="0.6" stroke-width="3.0" stroke-linecap="round"/>
<path d="M410.1 209.2 Q435.4 216.7 461.1 210.4" fill="none" stroke="#464c54" stroke-opacity="0.5" stroke-width="1.9" stroke-linecap="round"/>
<path d="M200.1 213.6 Q250.1 194.2 299.8 174.1" fill="none" stroke="#464c54" stroke-opacity="0.5" stroke-width="2.5" stroke-linecap="round"/>
<path d="M441.6 96.4 Q470.2 83.8 499.2 72.0" fill="none" stroke="#464c54" stroke-opacity="0.5" stroke-width="1.5" stroke-linecap="round"/>
<path d="M356.8 136.7 Q403.2 131.7 449.6 126.6" fill="none" stroke="#d0dcf2" stroke-opacity="0.85" stroke-width="2.0" stroke-linecap="round"/>
<path d="M274.6 201.7 Q326.2 222.3 381.3 215.3" fill="none" stroke="#d0dcf2" stroke-opacity="0.85" stroke-width="3.4" stroke-linecap="round"/>
<path d="M384.5 107.3 Q446.1 92.2 508.9 83.5" fill="none" stroke="#aebee2" stroke-opacity="0.8" stroke-width="1.8" stroke-linecap="round"/>
<path d="M284.9 161.0 Q310.6 142.8 341.1 150.2" fill="none" stroke="#8a96bc" stroke-opacity="0.6" stroke-width="1.5" stroke-linecap="round"/>
<path d="M373.7 170.5 Q405.2 166.3 433.4 151.9" fill="none" stroke="#8a96bc" stroke-opacity="0.6" stroke-width="1.8" stroke-linecap="round"/>
<path d="M272.2 234.6 Q321.0 191.0 363.7 141.3" fill="none" stroke="#aebee2" stroke-opacity="0.8" stroke-width="3.1" stroke-linecap="round"/>
<path d="M298.6 133.2 Q368.3 118.3 431.3 85.0" fill="none" stroke="#8a96bc" stroke-opacity="0.6" stroke-width="2.7" stroke-linecap="round"/>
<path d="M264.4 116.7 Q318.4 105.7 373.3 109.6" fill="none" stroke="#464c54" stroke-opacity="0.5" stroke-width="2.4" stroke-linecap="round"/>
<path d="M385.3 232.5 Q397.5 208.0 421.4 194.6" fill="none" stroke="#aebee2" stroke-opacity="0.8" stroke-width="3.2" stroke-linecap="round"/>
<path d="M254.7 183.2 Q294.2 158.7 317.9 118.8" fill="none" stroke="#aebee2" stroke-opacity="0.8" stroke-width="2.1" stroke-linecap="round"/>
<path d="M279.2 95.6 Q310.9 98.9 342.4 103.9" fill="none" stroke="#8a96bc" stroke-opacity="0.6" stroke-width="3.3" stroke-linecap="round"/>
<path d="M257.7 137.2 Q277.0 117.0 300.6 102.1" fill="none" stroke="#aebee2" stroke-opacity="0.8" stroke-width="2.6" stroke-linecap="round"/>
<path d="M335.3 209.2 Q382.1 172.0 434.5 143.0" fill="none" stroke="#aebee2" stroke-opacity="0.8" stroke-width="3.0" stroke-linecap="round"/>
<path d="M395.8 215.0 Q462.5 201.6 530.6 199.8" fill="none" stroke="#8a96bc" stroke-opacity="0.6" stroke-width="3.5" stroke-linecap="round"/>
<path d="M251.6 264.4 Q287.9 243.8 324.8 224.3" fill="none" stroke="#d0dcf2" stroke-opacity="0.85" stroke-width="2.2" stroke-linecap="round"/>
<path d="M435.9 111.4 Q464.4 79.8 505.4 68.4" fill="none" stroke="#464c54" stroke-opacity="0.5" stroke-width="1.8" stroke-linecap="round"/>
<path d="M413.3 207.2 Q437.1 178.1 462.2 150.0" fill="none" stroke="#8a96bc" stroke-opacity="0.6" stroke-width="2.6" stroke-linecap="round"/>
<path d="M335.5 261.8 Q360.3 242.6 389.8 231.6" fill="none" stroke="#464c54" stroke-opacity="0.5" stroke-width="3.1" stroke-linecap="round"/>
<path d="M296.4 130.2 Q328.2 118.4 357.3 101.0" fill="none" stroke="#464c54" stroke-opacity="0.5" stroke-width="2.0" stroke-linecap="round"/>
<path d="M333.2 222.7 Q389.6 214.9 444.1 231.5" fill="none" stroke="#aebee2" stroke-opacity="0.8" stroke-width="1.9" stroke-linecap="round"/>
<path d="M341.1 226.3 Q368.9 231.5 395.5 221.7" fill="none" stroke="#8a96bc" stroke-opacity="0.6" stroke-width="2.2" stroke-linecap="round"/>
<path d="M405.9 173.4 Q425.1 160.7 442.7 145.9" fill="none" stroke="#8a96bc" stroke-opacity="0.6" stroke-width="3.2" stroke-linecap="round"/>
<path d="M426.8 263.6 Q474.2 248.8 522.3 236.4" fill="none" stroke="#d0dcf2" stroke-opacity="0.85" stroke-width="3.2" stroke-linecap="round"/>
<path d="M410.4 173.5 Q445.2 143.2 489.9 131.9" fill="none" stroke="#8a96bc" stroke-opacity="0.6" stroke-width="2.7" stroke-linecap="round"/>
<path d="M405.7 98.9 Q428.5 69.7 457.3 46.3" fill="none" stroke="#464c54" stroke-opacity="0.5" stroke-width="1.7" stroke-linecap="round"/>
<path d="M445.4 164.4 Q473.4 131.2 503.0 99.2" fill="none" stroke="#464c54" stroke-opacity="0.5" stroke-width="3.1" stroke-linecap="round"/>
<path d="M338.9 123.4 Q369.3 86.1 414.1 68.8" fill="none" stroke="#8a96bc" stroke-opacity="0.6" stroke-width="2.5" stroke-linecap="round"/>
<path d="M416.0 138.5 Q433.0 125.2 454.6 125.7" fill="none" stroke="#464c54" stroke-opacity="0.5" stroke-width="2.6" stroke-linecap="round"/>
<path d="M249.4 100.6 Q270.2 78.9 300.2 80.6" fill="none" stroke="#aebee2" stroke-opacity="0.8" stroke-width="1.9" stroke-linecap="round"/>
<path d="M359.5 151.4 Q397.1 143.0 434.4 133.2" fill="none" stroke="#464c54" stroke-opacity="0.5" stroke-width="3.4" stroke-linecap="round"/>
<path d="M221.1 267.2 Q279.9 236.4 344.5 221.3" fill="none" stroke="#464c54" stroke-opacity="0.5" stroke-width="1.8" stroke-linecap="round"/>
<path d="M300.1 233.8 Q340.3 217.0 379.0 197.0" fill="none" stroke="#aebee2" stroke-opacity="0.8" stroke-width="3.1" stroke-linecap="round"/>
<path d="M319.9 149.2 Q354.7 113.3 401.0 94.1" fill="none" stroke="#8a96bc" stroke-opacity="0.6" stroke-width="2.3" stroke-linecap="round"/>
<path d="M260.9 143.7 Q297.5 108.9 328.0 68.6" fill="none" stroke="#d0dcf2" stroke-opacity="0.85" stroke-width="2.7" stroke-linecap="round"/>
<path d="M299.1 86.7 Q358.4 88.6 415.5 72.6" fill="none" stroke="#d0dcf2" stroke-opacity="0.85" stroke-width="3.0" stroke-linecap="round"/>
<path d="M271.7 96.4 Q293.4 91.8 314.4 84.8" fill="none" stroke="#464c54" stroke-opacity="0.5" stroke-width="2.8" stroke-linecap="round"/>
<path d="M381.0 230.7 Q407.3 241.0 430.9 225.6" fill="none" stroke="#464c54" stroke-opacity="0.5" stroke-width="2.8" stroke-linecap="round"/>
<path d="M253.3 236.6 Q311.7 231.9 370.3 232.1" fill="none" stroke="#464c54" stroke-opacity="0.5" stroke-width="2.6" stroke-linecap="round"/>
<path d="M295.0 231.3 Q317.7 233.5 337.8 222.8" fill="none" stroke="#8a96bc" stroke-opacity="0.6" stroke-width="2.8" stroke-linecap="round"/>
<path d="M341.4 165.4 Q379.0 151.4 402.1 118.7" fill="none" stroke="#d0dcf2" stroke-opacity="0.85" stroke-width="2.6" stroke-linecap="round"/>
<path d="M262.8 240.8 Q292.9 241.2 311.8 217.8" fill="none" stroke="#464c54" stroke-opacity="0.5" stroke-width="3.2" stroke-linecap="round"/>
<path d="M260.5 170.2 Q291.6 156.4 323.3 144.1" fill="none" stroke="#8a96bc" stroke-opacity="0.6" stroke-width="1.9" stroke-linecap="round"/>
<path d="M362.3 242.3 Q388.9 229.4 412.1 211.1" fill="none" stroke="#aebee2" stroke-opacity="0.8" stroke-width="1.9" stroke-linecap="round"/>
<path d="M259.4 229.2 Q293.2 209.1 332.0 215.8" fill="none" stroke="#464c54" stroke-opacity="0.5" stroke-width="2.1" stroke-linecap="round"/>
<path d="M292.2 140.5 Q318.6 113.9 350.5 94.1" fill="none" stroke="#d0dcf2" stroke-opacity="0.85" stroke-width="2.9" stroke-linecap="round"/>
<path d="M379.7 155.1 Q405.9 116.5 443.7 89.2" fill="none" stroke="#8a96bc" stroke-opacity="0.6" stroke-width="2.6" stroke-linecap="round"/>
<path d="M223.6 187.9 Q264.0 181.4 302.2 167.1" fill="none" stroke="#464c54" stroke-opacity="0.5" stroke-width="3.3" stroke-linecap="round"/>
<path d="M244.0 197.2 Q306.4 182.5 361.3 149.3" fill="none" stroke="#8a96bc" stroke-opacity="0.6" stroke-width="3.2" stroke-linecap="round"/>
<path d="M403.0 214.4 Q449.5 178.6 495.2 141.7" fill="none" stroke="#464c54" stroke-opacity="0.5" stroke-width="2.9" stroke-linecap="round"/>
<path d="M258.5 127.3 Q309.6 122.5 357.8 105.0" fill="none" stroke="#464c54" stroke-opacity="0.5" stroke-width="3.4" stroke-linecap="round"/>
<path d="M305.9 275.7 Q333.9 239.6 371.8 214.2" fill="none" stroke="#8a96bc" stroke-opacity="0.6" stroke-width="2.1" stroke-linecap="round"/>
<path d="M207.4 263.4 Q264.7 230.4 330.2 220.9" fill="none" stroke="#d0dcf2" stroke-opacity="0.85" stroke-width="2.8" stroke-linecap="round"/>
<path d="M228.1 185.1 Q274.8 170.4 314.4 141.6" fill="none" stroke="#8a96bc" stroke-opacity="0.6" stroke-width="2.5" stroke-linecap="round"/>
<path d="M239.2 85.1 Q297.2 65.2 358.5 65.9" fill="none" stroke="#d0dcf2" stroke-opacity="0.85" stroke-width="2.5" stroke-linecap="round"/>
<path d="M233.0 117.7 Q263.7 103.0 285.4 76.7" fill="none" stroke="#464c54" stroke-opacity="0.5" stroke-width="2.1" stroke-linecap="round"/>
<path d="M383.6 82.2 Q409.5 70.8 437.7 72.0" fill="none" stroke="#d0dcf2" stroke-opacity="0.85" stroke-width="2.5" stroke-linecap="round"/>
<path d="M286.8 234.7 Q327.1 227.0 365.6 241.3" fill="none" stroke="#d0dcf2" stroke-opacity="0.85" stroke-width="2.7" stroke-linecap="round"/>
<path d="M331.1 251.6 Q394.4 216.9 457.4 181.8" fill="none" stroke="#aebee2" stroke-opacity="0.8" stroke-width="3.3" stroke-linecap="round"/>
<path d="M415.0 101.5 Q451.2 81.7 466.3 43.5" fill="none" stroke="#464c54" stroke-opacity="0.5" stroke-width="2.8" stroke-linecap="round"/>
<path d="M348.1 181.3 Q372.3 179.1 396.5 181.3" fill="none" stroke="#d0dcf2" stroke-opacity="0.85" stroke-width="2.4" stroke-linecap="round"/>
<path d="M367.3 260.5 Q387.6 249.6 401.5 231.3" fill="none" stroke="#464c54" stroke-opacity="0.5" stroke-width="3.2" stroke-linecap="round"/>
<path d="M426.1 224.5 Q464.8 168.3 515.4 122.4" fill="none" stroke="#aebee2" stroke-opacity="0.8" stroke-width="3.4" stroke-linecap="round"/>
<path d="M359.2 82.0 Q385.7 74.6 411.4 84.5" fill="none" stroke="#d0dcf2" stroke-opacity="0.85" stroke-width="2.0" stroke-linecap="round"/>
<path d="M420.1 180.5 Q444.3 177.0 468.2 172.2" fill="none" stroke="#d0dcf2" stroke-opacity="0.85" stroke-width="1.9" stroke-linecap="round"/>
<path d="M226.6 121.3 Q278.3 83.1 340.6 67.6" fill="none" stroke="#8a96bc" stroke-opacity="0.6" stroke-width="3.0" stroke-linecap="round"/>
<path d="M307.1 258.3 Q350.0 247.0 390.1 228.0" fill="none" stroke="#464c54" stroke-opacity="0.5" stroke-width="3.1" stroke-linecap="round"/>
<path d="M374.7 124.4 Q440.9 89.2 513.5 70.4" fill="none" stroke="#464c54" stroke-opacity="0.5" stroke-width="2.0" stroke-linecap="round"/>
<path d="M255.6 162.6 Q305.1 149.0 355.6 139.5" fill="none" stroke="#464c54" stroke-opacity="0.5" stroke-width="2.4" stroke-linecap="round"/>
<path d="M354.2 80.2 Q394.3 86.0 432.7 73.2" fill="none" stroke="#aebee2" stroke-opacity="0.8" stroke-width="2.3" stroke-linecap="round"/>
<path d="M415.9 205.7 Q474.5 174.6 527.6 134.6" fill="none" stroke="#8a96bc" stroke-opacity="0.6" stroke-width="2.6" stroke-linecap="round"/>
<path d="M326.5 200.6 Q365.3 176.4 409.6 165.4" fill="none" stroke="#464c54" stroke-opacity="0.5" stroke-width="3.3" stroke-linecap="round"/>
<path d="M355.1 175.6 Q426.0 157.2 488.1 118.4" fill="none" stroke="#464c54" stroke-opacity="0.5" stroke-width="2.5" stroke-linecap="round"/>
<path d="M353.0 189.5 Q400.5 162.8 430.1 117.1" fill="none" stroke="#8a96bc" stroke-opacity="0.6" stroke-width="3.4" stroke-linecap="round"/>
<path d="M345.9 233.7 Q412.3 206.2 477.3 175.9" fill="none" stroke="#8a96bc" stroke-opacity="0.6" stroke-width="3.3" stroke-linecap="round"/>
<path d="M355.0 182.4 Q406.4 155.2 439.7 107.5" fill="none" stroke="#464c54" stroke-opacity="0.5" stroke-width="2.5" stroke-linecap="round"/>
<path d="M316.3 175.5 Q382.7 151.4 442.0 113.1" fill="none" stroke="#464c54" stroke-opacity="0.5" stroke-width="2.8" stroke-linecap="round"/>
<path d="M284.5 89.2 Q338.1 67.7 395.8 67.4" fill="none" stroke="#aebee2" stroke-opacity="0.8" stroke-width="2.4" stroke-linecap="round"/>
<path d="M309.4 225.8 Q345.5 213.1 373.4 186.9" fill="none" stroke="#aebee2" stroke-opacity="0.8" stroke-width="3.3" stroke-linecap="round"/>
<path d="M287.2 119.8 Q344.4 76.3 413.3 56.4" fill="none" stroke="#8a96bc" stroke-opacity="0.6" stroke-width="1.5" stroke-linecap="round"/>
<path d="M206.3 183.8 Q252.3 146.8 294.0 105.1" fill="none" stroke="#8a96bc" stroke-opacity="0.6" stroke-width="2.8" stroke-linecap="round"/>
<path d="M325.1 110.6 Q380.4 102.0 435.4 112.1" fill="none" stroke="#d0dcf2" stroke-opacity="0.85" stroke-width="2.7" stroke-linecap="round"/>
<path d="M344.2 162.3 Q384.6 147.4 426.9 155.5" fill="none" stroke="#aebee2" stroke-opacity="0.8" stroke-width="3.0" stroke-linecap="round"/>
<path d="M410.6 258.2 Q440.4 241.7 474.3 239.0" fill="none" stroke="#464c54" stroke-opacity="0.5" stroke-width="1.9" stroke-linecap="round"/>
<path d="M303.4 147.2 Q345.8 127.1 375.7 91.0" fill="none" stroke="#464c54" stroke-opacity="0.5" stroke-width="1.9" stroke-linecap="round"/>
<path d="M290.0 124.1 Q333.7 108.6 372.4 83.1" fill="none" stroke="#d0dcf2" stroke-opacity="0.85" stroke-width="1.9" stroke-linecap="round"/>
<path d="M376.1 96.2 Q430.0 100.9 483.8 94.2" fill="none" stroke="#464c54" stroke-opacity="0.5" stroke-width="1.9" stroke-linecap="round"/>
<path d="M351.1 216.0 Q395.7 208.3 438.6 194.3" fill="none" stroke="#d0dcf2" stroke-opacity="0.85" stroke-width="2.0" stroke-linecap="round"/>
<path d="M273.7 226.2 Q310.1 167.5 362.5 122.5" fill="none" stroke="#d0dcf2" stroke-opacity="0.85" stroke-width="2.4" stroke-linecap="round"/>
<path d="M400.8 194.3 Q442.3 143.8 499.5 112.0" fill="none" stroke="#8a96bc" stroke-opacity="0.6" stroke-width="3.4" stroke-linecap="round"/>
<path d="M408.1 232.9 Q457.8 227.5 507.3 233.7" fill="none" stroke="#464c54" stroke-opacity="0.5" stroke-width="2.9" stroke-linecap="round"/>
<path d="M217.6 251.9 Q264.2 230.8 314.1 220.0" fill="none" stroke="#d0dcf2" stroke-opacity="0.85" stroke-width="1.9" stroke-linecap="round"/>
<path d="M295.3 82.6 Q353.7 92.2 411.9 82.0" fill="none" stroke="#464c54" stroke-opacity="0.5" stroke-width="3.5" stroke-linecap="round"/>
<path d="M333.8 239.4 Q399.1 236.3 458.9 210.2" fill="none" stroke="#aebee2" stroke-opacity="0.8" stroke-width="1.8" stroke-linecap="round"/>
<path d="M303.9 102.1 Q338.9 92.4 363.7 65.8" fill="none" stroke="#d0dcf2" stroke-opacity="0.85" stroke-width="3.1" stroke-linecap="round"/>
<path d="M353.3 142.4 Q409.9 94.8 479.6 70.6" fill="none" stroke="#464c54" stroke-opacity="0.5" stroke-width="2.6" stroke-linecap="round"/>
<path d="M240.5 183.7 Q271.6 180.9 289.3 155.3" fill="none" stroke="#d0dcf2" stroke-opacity="0.85" stroke-width="1.6" stroke-linecap="round"/>
<path d="M301.7 117.5 Q358.1 127.9 415.4 131.3" fill="none" stroke="#8a96bc" stroke-opacity="0.6" stroke-width="1.6" stroke-linecap="round"/>
<path d="M264.7 251.1 Q290.4 240.2 297.0 213.1" fill="none" stroke="#d0dcf2" stroke-opacity="0.85" stroke-width="2.9" stroke-linecap="round"/>
<path d="M329.0 262.1 Q376.2 208.7 429.9 161.8" fill="none" stroke="#464c54" stroke-opacity="0.5" stroke-width="2.0" stroke-linecap="round"/>
<path d="M239.6 187.8 Q296.1 201.7 353.0 189.3" fill="none" stroke="#d0dcf2" stroke-opacity="0.85" stroke-width="1.6" stroke-linecap="round"/>
<path d="M271.5 100.9 Q327.0 108.8 383.1 108.0" fill="none" stroke="#8a96bc" stroke-opacity="0.6" stroke-width="3.4" stroke-linecap="round"/>
<path d="M228.2 258.7 Q283.9 212.4 334.5 160.5" fill="none" stroke="#d0dcf2" stroke-opacity="0.85" stroke-width="3.0" stroke-linecap="round"/>
<path d="M367.1 149.7 Q416.1 105.5 460.3 56.5" fill="none" stroke="#d0dcf2" stroke-opacity="0.85" stroke-width="2.8" stroke-linecap="round"/>
<path d="M328.3 126.1 Q362.7 111.5 398.9 102.0" fill="none" stroke="#d0dcf2" stroke-opacity="0.85" stroke-width="2.4" stroke-linecap="round"/>
<path d="M253.4 86.2 Q277.2 81.7 291.8 62.4" fill="none" stroke="#d0dcf2" stroke-opacity="0.85" stroke-width="1.7" stroke-linecap="round"/>
<path d="M263.4 108.1 Q303.8 107.8 336.9 84.5" fill="none" stroke="#aebee2" stroke-opacity="0.8" stroke-width="3.4" stroke-linecap="round"/>
<path d="M330.0 243.5 Q391.3 199.6 462.7 175.1" fill="none" stroke="#464c54" stroke-opacity="0.5" stroke-width="2.4" stroke-linecap="round"/>
<path d="M226.8 82.8 Q291.1 68.0 356.5 59.9" fill="none" stroke="#d0dcf2" stroke-opacity="0.85" stroke-width="3.1" stroke-linecap="round"/>
<path d="M414.6 218.0 Q444.4 230.6 473.8 217.1" fill="none" stroke="#aebee2" stroke-opacity="0.8" stroke-width="2.6" stroke-linecap="round"/>
<path d="M322.9 246.2 Q366.4 235.0 395.6 200.7" fill="none" stroke="#aebee2" stroke-opacity="0.8" stroke-width="3.0" stroke-linecap="round"/>
<path d="M387.6 163.5 Q430.9 159.6 472.0 145.3" fill="none" stroke="#464c54" stroke-opacity="0.5" stroke-width="2.3" stroke-linecap="round"/>
<path d="M310.4 186.5 Q346.1 186.8 375.4 166.2" fill="none" stroke="#d0dcf2" stroke-opacity="0.85" stroke-width="2.9" stroke-linecap="round"/>
<path d="M436.8 149.8 Q467.5 130.6 503.4 126.1" fill="none" stroke="#8a96bc" stroke-opacity="0.6" stroke-width="1.7" stroke-linecap="round"/>
<path d="M385.8 193.8 Q448.5 154.3 519.1 132.0" fill="none" stroke="#464c54" stroke-opacity="0.5" stroke-width="3.3" stroke-linecap="round"/>
<path d="M383.2 111.7 Q416.7 80.3 459.5 63.8" fill="none" stroke="#d0dcf2" stroke-opacity="0.85" stroke-width="2.2" stroke-linecap="round"/>
<path d="M318.3 218.4 Q334.1 200.8 357.8 200.3" fill="none" stroke="#d0dcf2" stroke-opacity="0.85" stroke-width="2.0" stroke-linecap="round"/>
<path d="M393.9 179.8 Q463.0 175.0 532.2 170.0" fill="none" stroke="#8a96bc" stroke-opacity="0.6" stroke-width="3.1" stroke-linecap="round"/>
<path d="M233.7 204.4 Q284.5 188.2 335.1 171.4" fill="none" stroke="#aebee2" stroke-opacity="0.8" stroke-width="3.4" stroke-linecap="round"/>
<path d="M343.3 275.1 Q383.8 248.7 407.7 206.7" fill="none" stroke="#d0dcf2" stroke-opacity="0.85" stroke-width="3.0" stroke-linecap="round"/>
<path d="M231.2 149.2 Q258.4 136.1 286.7 125.8" fill="none" stroke="#d0dcf2" stroke-opacity="0.85" stroke-width="3.4" stroke-linecap="round"/>
<path d="M318.6 139.6 Q347.8 115.4 369.7 84.3" fill="none" stroke="#aebee2" stroke-opacity="0.8" stroke-width="2.3" stroke-linecap="round"/>
<path d="M197.3 279.5 Q259.6 235.9 332.7 214.9" fill="none" stroke="#464c54" stroke-opacity="0.5" stroke-width="3.0" stroke-linecap="round"/>
<path d="M201.2 131.7 Q252.4 141.5 304.6 142.8" fill="none" stroke="#d0dcf2" stroke-opacity="0.85" stroke-width="3.5" stroke-linecap="round"/>
<path d="M374.4 219.6 Q430.0 204.2 477.4 171.5" fill="none" stroke="#8a96bc" stroke-opacity="0.6" stroke-width="2.2" stroke-linecap="round"/>
<path d="M395.9 247.1 Q434.8 200.0 489.8 173.5" fill="none" stroke="#d0dcf2" stroke-opacity="0.85" stroke-width="3.3" stroke-linecap="round"/>
<path d="M373.6 89.0 Q392.5 69.3 418.3 60.2" fill="none" stroke="#d0dcf2" stroke-opacity="0.85" stroke-width="2.2" stroke-linecap="round"/>
<path d="M343.4 156.8 Q401.4 156.1 455.0 134.2" fill="none" stroke="#8a96bc" stroke-opacity="0.6" stroke-width="2.0" stroke-linecap="round"/>
<path d="M290.9 121.3 Q309.1 106.8 332.3 107.5" fill="none" stroke="#8a96bc" stroke-opacity="0.6" stroke-width="2.0" stroke-linecap="round"/>
<path d="M426.2 76.5 Q455.8 73.4 484.6 65.7" fill="none" stroke="#464c54" stroke-opacity="0.5" stroke-width="3.4" stroke-linecap="round"/>
<path d="M401.3 140.3 Q454.0 114.9 497.9 76.0" fill="none" stroke="#464c54" stroke-opacity="0.5" stroke-width="1.8" stroke-linecap="round"/>
<path d="M367.7 103.9 Q408.9 95.2 446.6 114.1" fill="none" stroke="#464c54" stroke-opacity="0.5" stroke-width="2.3" stroke-linecap="round"/>
<path d="M347.2 126.1 Q398.8 136.8 449.3 121.6" fill="none" stroke="#464c54" stroke-opacity="0.5" stroke-width="3.1" stroke-linecap="round"/>
<path d="M403.7 168.9 Q477.2 163.5 550.3 154.5" fill="none" stroke="#d0dcf2" stroke-opacity="0.85" stroke-width="1.8" stroke-linecap="round"/>
<path d="M423.2 142.5 Q478.4 136.9 531.3 153.6" fill="none" stroke="#aebee2" stroke-opacity="0.8" stroke-width="2.8" stroke-linecap="round"/>
<path d="M359.5 102.0 Q392.2 97.9 423.6 87.8" fill="none" stroke="#464c54" stroke-opacity="0.5" stroke-width="2.4" stroke-linecap="round"/>
<path d="M331.2 196.0 Q367.5 173.8 385.3 135.3" fill="none" stroke="#8a96bc" stroke-opacity="0.6" stroke-width="1.8" stroke-linecap="round"/>
<path d="M247.8 196.3 Q277.2 173.4 311.5 158.9" fill="none" stroke="#d0dcf2" stroke-opacity="0.85" stroke-width="2.4" stroke-linecap="round"/>
<path d="M184.8 117.2 Q249.5 106.9 314.7 99.7" fill="none" stroke="#d0dcf2" stroke-opacity="0.85" stroke-width="1.6" stroke-linecap="round"/>
<path d="M203.4 132.1 Q256.6 92.7 307.6 50.6" fill="none" stroke="#464c54" stroke-opacity="0.5" stroke-width="1.7" stroke-linecap="round"/>
<path d="M350.9 222.6 Q423.7 216.8 491.1 188.6" fill="none" stroke="#8a96bc" stroke-opacity="0.6" stroke-width="1.8" stroke-linecap="round"/>
<path d="M387.8 165.9 Q412.0 158.5 436.6 164.2" fill="none" stroke="#464c54" stroke-opacity="0.5" stroke-width="2.6" stroke-linecap="round"/>
<path d="M380.9 90.1 Q416.1 73.6 453.8 83.2" fill="none" stroke="#464c54" stroke-opacity="0.5" stroke-width="2.9" stroke-linecap="round"/>
<path d="M363.8 167.9 Q434.4 165.1 500.8 140.7" fill="none" stroke="#d0dcf2" stroke-opacity="0.85" stroke-width="1.5" stroke-linecap="round"/>
<path d="M362.8 132.6 Q436.3 142.0 509.4 129.5" fill="none" stroke="#d0dcf2" stroke-opacity="0.85" stroke-width="1.6" stroke-linecap="round"/>
<path d="M201.3 250.8 Q275.8 258.6 348.1 238.9" fill="none" stroke="#aebee2" stroke-opacity="0.8" stroke-width="1.7" stroke-linecap="round"/>
<path d="M236.2 184.5 Q310.8 180.3 385.4 183.0" fill="none" stroke="#aebee2" stroke-opacity="0.8" stroke-width="3.2" stroke-linecap="round"/>
<path d="M237.2 171.4 Q277.7 146.8 310.7 112.8" fill="none" stroke="#464c54" stroke-opacity="0.5" stroke-width="3.2" stroke-linecap="round"/>
<path d="M374.9 209.0 Q419.1 201.3 455.0 174.4" fill="none" stroke="#d0dcf2" stroke-opacity="0.85" stroke-width="2.9" stroke-linecap="round"/>
<path d="M393.8 231.3 Q456.2 224.9 510.5 193.6" fill="none" stroke="#8a96bc" stroke-opacity="0.6" stroke-width="3.1" stroke-linecap="round"/>
<path d="M394.3 255.6 Q425.4 236.3 446.7 206.6" fill="none" stroke="#aebee2" stroke-opacity="0.8" stroke-width="3.5" stroke-linecap="round"/>
<path d="M241.9 75.6 Q275.4 65.8 308.6 76.9" fill="none" stroke="#464c54" stroke-opacity="0.5" stroke-width="2.6" stroke-linecap="round"/>
</g>
<circle cx="435.2" cy="173.1" r="1.2" fill="#f4f6fc" fill-opacity="0.8"/>
<circle cx="274.1" cy="187.7" r="1.2" fill="#f4f6fc" fill-opacity="0.8"/>
<circle cx="402.2" cy="97.2" r="1.2" fill="#f4f6fc" fill-opacity="0.8"/>
<circle cx="443.8" cy="96.3" r="1.2" fill="#f4f6fc" fill-opacity="0.8"/>
<circle cx="440.3" cy="191.5" r="1.2" fill="#f4f6fc" fill-opacity="0.8"/>
<circle cx="370.3" cy="208.8" r="1.2" fill="#f4f6fc" fill-opacity="0.8"/>
<circle cx="297.8" cy="231.8" r="1.2" fill="#f4f6fc" fill-opacity="0.8"/>
<circle cx="396.1" cy="190.5" r="1.2" fill="#f4f6fc" fill-opacity="0.8"/>
<circle cx="456.7" cy="177.0" r="1.2" fill="#f4f6fc" fill-opacity="0.8"/>
<circle cx="299.1" cy="149.9" r="1.2" fill="#f4f6fc" fill-opacity="0.8"/>
<circle cx="314.6" cy="180.0" r="1.2" fill="#f4f6fc" fill-opacity="0.8"/>
<circle cx="414.4" cy="99.2" r="1.2" fill="#f4f6fc" fill-opacity="0.8"/>
<circle cx="310.8" cy="205.7" r="1.2" fill="#f4f6fc" fill-opacity="0.8"/>
<circle cx="398.2" cy="215.3" r="1.2" fill="#f4f6fc" fill-opacity="0.8"/>
<circle cx="410.5" cy="154.7" r="1.2" fill="#f4f6fc" fill-opacity="0.8"/>
<circle cx="412.4" cy="93.3" r="1.2" fill="#f4f6fc" fill-opacity="0.8"/>
<circle cx="326.9" cy="210.2" r="1.2" fill="#f4f6fc" fill-opacity="0.8"/>
<circle cx="386.5" cy="224.3" r="1.2" fill="#f4f6fc" fill-opacity="0.8"/>
<circle cx="309.2" cy="150.8" r="1.2" fill="#f4f6fc" fill-opacity="0.8"/>
<circle cx="354.4" cy="165.3" r="1.2" fill="#f4f6fc" fill-opacity="0.8"/>
<circle cx="393.1" cy="169.6" r="1.2" fill="#f4f6fc" fill-opacity="0.8"/>
<circle cx="324.9" cy="224.1" r="1.2" fill="#f4f6fc" fill-opacity="0.8"/>
<circle cx="404.1" cy="211.1" r="1.2" fill="#f4f6fc" fill-opacity="0.8"/>
<circle cx="366.1" cy="94.9" r="1.2" fill="#f4f6fc" fill-opacity="0.8"/>
<circle cx="406.0" cy="98.7" r="1.2" fill="#f4f6fc" fill-opacity="0.8"/>
<circle cx="409.4" cy="129.5" r="1.2" fill="#f4f6fc" fill-opacity="0.8"/>
<circle cx="421.4" cy="136.7" r="1.2" fill="#f4f6fc" fill-opacity="0.8"/>
<circle cx="381.9" cy="172.4" r="1.2" fill="#f4f6fc" fill-opacity="0.8"/>
<circle cx="292.6" cy="171.3" r="1.2" fill="#f4f6fc" fill-opacity="0.8"/>
<circle cx="294.7" cy="220.1" r="1.2" fill="#f4f6fc" fill-opacity="0.8"/>
<circle cx="332.6" cy="136.4" r="1.2" fill="#f4f6fc" fill-opacity="0.8"/>
<circle cx="437.4" cy="210.9" r="1.2" fill="#f4f6fc" fill-opacity="0.8"/>
<circle cx="434.1" cy="97.9" r="1.2" fill="#f4f6fc" fill-opacity="0.8"/>
<circle cx="336.7" cy="92.9" r="1.2" fill="#f4f6fc" fill-opacity="0.8"/>
<circle cx="397.9" cy="147.2" r="1.2" fill="#f4f6fc" fill-opacity="0.8"/>
<circle cx="296.5" cy="97.8" r="1.2" fill="#f4f6fc" fill-opacity="0.8"/>
<circle cx="391.3" cy="100.6" r="1.2" fill="#f4f6fc" fill-opacity="0.8"/>
<circle cx="299.1" cy="163.7" r="1.2" fill="#f4f6fc" fill-opacity="0.8"/>
<circle cx="287.9" cy="209.8" r="1.2" fill="#f4f6fc" fill-opacity="0.8"/>
<circle cx="315.9" cy="161.2" r="1.2" fill="#f4f6fc" fill-opacity="0.8"/>
</g>
<clipPath id="clip3"><rect x="458.0" y="91.0" width="190.0" height="141.0"/></clipPath>
<g clip-path="url(#clip3)">
<rect x="458.0" y="91.0" width="190.0" height="141.0" fill="#b2b2b8"/>
<g filter="url(#bl6)">
<ellipse cx="503.2" cy="167.7" rx="15.5" ry="19.1" fill="#9c9ca4" fill-opacity="0.4"/>
<ellipse cx="576.9" cy="100.2" rx="10.2" ry="22.6" fill="#9c9ca4" fill-opacity="0.4"/>
<ellipse cx="507.3" cy="124.0" rx="24.9" ry="17.1" fill="#9c9ca4" fill-opacity="0.4"/>
<ellipse cx="616.9" cy="158.2" rx="19.6" ry="12.3" fill="#9c9ca4" fill-opacity="0.4"/>
<ellipse cx="578.6" cy="213.4" rx="17.8" ry="21.1" fill="#9c9ca4" fill-opacity="0.4"/>
<ellipse cx="585.6" cy="100.0" rx="21.4" ry="18.9" fill="#9c9ca4" fill-opacity="0.4"/>
<ellipse cx="515.2" cy="95.4" rx="23.0" ry="17.1" fill="#9c9ca4" fill-opacity="0.4"/>
<ellipse cx="594.6" cy="214.9" rx="20.7" ry="23.8" fill="#9c9ca4" fill-opacity="0.4"/>
<ellipse cx="533.0" cy="203.9" rx="16.7" ry="24.0" fill="#9c9ca4" fill-opacity="0.4"/>
<ellipse cx="625.0" cy="104.7" rx="12.0" ry="13.3" fill="#9c9ca4" fill-opacity="0.4"/>
<ellipse cx="641.4" cy="152.5" rx="14.3" ry="11.0" fill="#d0d0d6" fill-opacity="0.5"/>
<ellipse cx="554.4" cy="145.4" rx="11.5" ry="13.9" fill="#d0d0d6" fill-opacity="0.5"/>
<ellipse cx="569.0" cy="218.5" rx="14.8" ry="17.3" fill="#d0d0d6" fill-opacity="0.5"/>
<ellipse cx="620.7" cy="230.7" rx="14.7" ry="9.6" fill="#d0d0d6" fill-opacity="0.5"/>
<ellipse cx="621.5" cy="227.0" rx="17.0" ry="13.7" fill="#d0d0d6" fill-opacity="0.5"/>
<ellipse cx="593.6" cy="120.8" rx="16.3" ry="13.7" fill="#d0d0d6" fill-opacity="0.5"/>
<ellipse cx="512.1" cy="99.9" rx="16.5" ry="17.9" fill="#d0d0d6" fill-opacity="0.5"/>
<ellipse cx="474.8" cy="203.9" rx="12.1" ry="9.5" fill="#d0d0d6" fill-opacity="0.5"/>
<ellipse cx="513.8" cy="199.4" rx="16.7" ry="8.4" fill="#d0d0d6" fill-opacity="0.5"/>
<ellipse cx="574.8" cy="97.3" rx="15.2" ry="11.3" fill="#d0d0d6" fill-opacity="0.5"/>
</g>
<g filter="url(#fb)">
<path d="M508.9 159.8 Q501.7 84.9 509.6 10.0" fill="none" stroke="#c6c6d6" stroke-opacity="0.6" stroke-width="1.9" stroke-linecap="round"/>
<path d="M484.2 228.9 Q496.2 194.8 513.0 162.8" fill="none" stroke="#8c8cac" stroke-opacity="0.6" stroke-width="2.5" stroke-linecap="round"/>
<path d="M497.9 218.2 Q527.0 155.2 551.9 90.5" fill="none" stroke="#c6c6d6" stroke-opacity="0.6" stroke-width="1.8" stroke-linecap="round"/>
<path d="M547.1 220.4 Q550.4 148.6 562.1 77.7" fill="none" stroke="#dcdce8" stroke-opacity="0.75" stroke-width="2.1" stroke-linecap="round"/>
<path d="M509.6 166.5 Q515.5 131.9 505.8 98.2" fill="none" stroke="#c6c6d6" stroke-opacity="0.6" stroke-width="2.2" stroke-linecap="round"/>
<path d="M605.3 131.1 Q582.9 82.1 561.5 32.7" fill="none" stroke="#c6c6d6" stroke-opacity="0.6" stroke-width="1.9" stroke-linecap="round"/>
<path d="M547.2 212.9 Q543.0 177.0 553.9 142.5" fill="none" stroke="#c6c6d6" stroke-opacity="0.6" stroke-width="2.4" stroke-linecap="round"/>
<path d="M584.0 173.0 Q571.4 129.6 564.6 84.9" fill="none" stroke="#c6c6d6" stroke-opacity="0.6" stroke-width="1.5" stroke-linecap="round"/>
<path d="M608.9 123.0 Q626.3 92.2 629.3 57.0" fill="none" stroke="#c6c6d6" stroke-opacity="0.6" stroke-width="2.2" stroke-linecap="round"/>
<path d="M628.2 146.0 Q621.9 114.4 617.6 82.4" fill="none" stroke="#8c8cac" stroke-opacity="0.6" stroke-width="1.3" stroke-linecap="round"/>
<path d="M527.6 257.3 Q520.1 219.9 501.9 186.4" fill="none" stroke="#dcdce8" stroke-opacity="0.75" stroke-width="1.7" stroke-linecap="round"/>
<path d="M509.9 230.7 Q492.4 172.2 466.3 117.1" fill="none" stroke="#8c8cac" stroke-opacity="0.6" stroke-width="1.4" stroke-linecap="round"/>
<path d="M622.8 253.2 Q620.0 222.7 624.3 192.3" fill="none" stroke="#dcdce8" stroke-opacity="0.75" stroke-width="1.3" stroke-linecap="round"/>
<path d="M457.5 161.4 Q464.3 122.9 478.1 86.2" fill="none" stroke="#dcdce8" stroke-opacity="0.75" stroke-width="2.2" stroke-linecap="round"/>
<path d="M564.5 113.2 Q563.9 76.9 572.9 41.7" fill="none" stroke="#c6c6d6" stroke-opacity="0.6" stroke-width="1.6" stroke-linecap="round"/>
<path d="M639.2 213.0 Q671.3 152.2 690.8 86.3" fill="none" stroke="#f0f0f6" stroke-opacity="0.6" stroke-width="2.4" stroke-linecap="round"/>
<path d="M629.2 247.8 Q611.9 206.1 593.4 165.0" fill="none" stroke="#8c8cac" stroke-opacity="0.6" stroke-width="2.4" stroke-linecap="round"/>
<path d="M640.5 156.6 Q654.3 90.4 682.2 28.8" fill="none" stroke="#8c8cac" stroke-opacity="0.6" stroke-width="1.4" stroke-linecap="round"/>
<path d="M547.1 138.7 Q565.8 71.6 594.3 8.0" fill="none" stroke="#8c8cac" stroke-opacity="0.6" stroke-width="2.1" stroke-linecap="round"/>
<path d="M566.3 101.2 Q555.5 82.0 556.7 60.1" fill="none" stroke="#c6c6d6" stroke-opacity="0.6" stroke-width="2.4" stroke-linecap="round"/>
<path d="M562.2 278.4 Q543.0 213.6 533.3 146.8" fill="none" stroke="#8c8cac" stroke-opacity="0.6" stroke-width="1.5" stroke-linecap="round"/>
<path d="M668.0 277.8 Q642.4 219.1 632.0 155.9" fill="none" stroke="#dcdce8" stroke-opacity="0.75" stroke-width="2.2" stroke-linecap="round"/>
<path d="M513.1 198.7 Q499.4 166.6 486.4 134.2" fill="none" stroke="#f0f0f6" stroke-opacity="0.6" stroke-width="1.6" stroke-linecap="round"/>
<path d="M429.4 139.6 Q441.5 77.7 467.8 20.4" fill="none" stroke="#dcdce8" stroke-opacity="0.75" stroke-width="1.7" stroke-linecap="round"/>
<path d="M473.5 130.9 Q472.4 84.0 474.8 37.0" fill="none" stroke="#dcdce8" stroke-opacity="0.75" stroke-width="1.6" stroke-linecap="round"/>
<path d="M517.3 123.7 Q517.0 93.0 509.9 63.1" fill="none" stroke="#c6c6d6" stroke-opacity="0.6" stroke-width="1.8" stroke-linecap="round"/>
<path d="M434.8 203.9 Q448.5 154.6 460.9 104.9" fill="none" stroke="#f0f0f6" stroke-opacity="0.6" stroke-width="2.0" stroke-linecap="round"/>
<path d="M519.0 204.3 Q522.4 160.7 528.3 117.3" fill="none" stroke="#dcdce8" stroke-opacity="0.75" stroke-width="2.1" stroke-linecap="round"/>
<path d="M562.4 230.3 Q560.0 196.9 560.1 163.4" fill="none" stroke="#f0f0f6" stroke-opacity="0.6" stroke-width="1.1" stroke-linecap="round"/>
<path d="M519.7 266.8 Q518.5 244.5 506.1 225.9" fill="none" stroke="#f0f0f6" stroke-opacity="0.6" stroke-width="1.8" stroke-linecap="round"/>
<path d="M625.9 217.6 Q629.7 190.7 624.2 164.1" fill="none" stroke="#dcdce8" stroke-opacity="0.75" stroke-width="2.3" stroke-linecap="round"/>
<path d="M451.4 227.3 Q456.1 176.2 472.1 127.4" fill="none" stroke="#dcdce8" stroke-opacity="0.75" stroke-width="1.0" stroke-linecap="round"/>
<path d="M470.5 253.5 Q453.8 233.3 451.1 207.3" fill="none" stroke="#f0f0f6" stroke-opacity="0.6" stroke-width="1.3" stroke-linecap="round"/>
<path d="M559.4 221.1 Q545.9 198.3 538.2 172.9" fill="none" stroke="#dcdce8" stroke-opacity="0.75" stroke-width="1.4" stroke-linecap="round"/>
<path d="M580.1 257.6 Q559.3 198.9 531.1 143.3" fill="none" stroke="#dcdce8" stroke-opacity="0.75" stroke-width="1.2" stroke-linecap="round"/>
<path d="M476.5 152.8 Q481.8 85.1 482.5 17.2" fill="none" stroke="#dcdce8" stroke-opacity="0.75" stroke-width="2.5" stroke-linecap="round"/>
<path d="M522.3 198.6 Q526.2 137.3 534.8 76.4" fill="none" stroke="#f0f0f6" stroke-opacity="0.6" stroke-width="1.6" stroke-linecap="round"/>
<path d="M476.0 276.6 Q499.0 242.2 508.2 201.9" fill="none" stroke="#f0f0f6" stroke-opacity="0.6" stroke-width="2.3" stroke-linecap="round"/>
<path d="M582.8 225.3 Q595.2 165.0 603.2 103.9" fill="none" stroke="#f0f0f6" stroke-opacity="0.6" stroke-width="1.7" stroke-linecap="round"/>
<path d="M563.0 242.8 Q550.5 197.1 535.5 152.1" fill="none" stroke="#8c8cac" stroke-opacity="0.6" stroke-width="2.4" stroke-linecap="round"/>
<path d="M490.9 222.6 Q477.1 162.6 452.6 106.0" fill="none" stroke="#8c8cac" stroke-opacity="0.6" stroke-width="2.4" stroke-linecap="round"/>
<path d="M564.9 243.1 Q581.1 177.7 584.9 110.5" fill="none" stroke="#c6c6d6" stroke-opacity="0.6" stroke-width="2.5" stroke-linecap="round"/>
<path d="M544.8 144.6 Q523.4 103.3 507.3 59.8" fill="none" stroke="#c6c6d6" stroke-opacity="0.6" stroke-width="1.5" stroke-linecap="round"/>
<path d="M603.5 166.5 Q605.8 107.8 595.2 50.0" fill="none" stroke="#8c8cac" stroke-opacity="0.6" stroke-width="1.9" stroke-linecap="round"/>
<path d="M636.0 203.1 Q642.4 143.3 634.1 83.8" fill="none" stroke="#dcdce8" stroke-opacity="0.75" stroke-width="2.1" stroke-linecap="round"/>
<path d="M562.9 276.3 Q582.9 210.1 611.3 147.1" fill="none" stroke="#f0f0f6" stroke-opacity="0.6" stroke-width="1.1" stroke-linecap="round"/>
<path d="M504.3 134.5 Q503.1 103.6 490.7 75.2" fill="none" stroke="#c6c6d6" stroke-opacity="0.6" stroke-width="2.1" stroke-linecap="round"/>
<path d="M486.5 109.0 Q474.3 89.2 473.8 65.9" fill="none" stroke="#c6c6d6" stroke-opacity="0.6" stroke-width="2.2" stroke-linecap="round"/>
<path d="M509.7 210.6 Q512.5 173.8 530.4 141.5" fill="none" stroke="#c6c6d6" stroke-opacity="0.6" stroke-width="2.0" stroke-linecap="round"/>
<path d="M461.9 228.1 Q455.8 187.6 449.9 147.2" fill="none" stroke="#c6c6d6" stroke-opacity="0.6" stroke-width="2.1" stroke-linecap="round"/>
<path d="M500.2 218.0 Q507.4 191.7 502.2 164.9" fill="none" stroke="#8c8cac" stroke-opacity="0.6" stroke-width="1.2" stroke-linecap="round"/>
<path d="M548.8 278.2 Q521.0 211.9 499.3 143.4" fill="none" stroke="#c6c6d6" stroke-opacity="0.6" stroke-width="2.1" stroke-linecap="round"/>
<path d="M540.0 241.2 Q518.4 172.6 491.7 105.7" fill="none" stroke="#c6c6d6" stroke-opacity="0.6" stroke-width="1.8" stroke-linecap="round"/>
<path d="M619.0 238.9 Q608.8 204.0 591.8 171.8" fill="none" stroke="#c6c6d6" stroke-opacity="0.6" stroke-width="2.0" stroke-linecap="round"/>
<path d="M607.8 159.5 Q583.2 94.9 569.7 27.0" fill="none" stroke="#8c8cac" stroke-opacity="0.6" stroke-width="2.4" stroke-linecap="round"/>
<path d="M527.6 180.7 Q534.4 125.4 541.7 70.1" fill="none" stroke="#c6c6d6" stroke-opacity="0.6" stroke-width="1.3" stroke-linecap="round"/>
<path d="M475.1 196.7 Q478.0 170.9 484.3 145.7" fill="none" stroke="#8c8cac" stroke-opacity="0.6" stroke-width="1.9" stroke-linecap="round"/>
<path d="M647.0 118.9 Q634.7 79.4 630.3 38.4" fill="none" stroke="#dcdce8" stroke-opacity="0.75" stroke-width="1.8" stroke-linecap="round"/>
<path d="M517.9 285.6 Q541.1 217.4 564.2 149.3" fill="none" stroke="#c6c6d6" stroke-opacity="0.6" stroke-width="1.1" stroke-linecap="round"/>
<path d="M610.4 223.2 Q588.8 175.0 579.0 123.1" fill="none" stroke="#dcdce8" stroke-opacity="0.75" stroke-width="2.4" stroke-linecap="round"/>
<path d="M524.6 305.8 Q529.7 249.1 531.3 192.2" fill="none" stroke="#8c8cac" stroke-opacity="0.6" stroke-width="1.2" stroke-linecap="round"/>
<path d="M464.3 151.7 Q475.2 102.8 490.0 55.1" fill="none" stroke="#f0f0f6" stroke-opacity="0.6" stroke-width="2.3" stroke-linecap="round"/>
<path d="M668.6 301.7 Q643.7 242.5 617.4 184.0" fill="none" stroke="#c6c6d6" stroke-opacity="0.6" stroke-width="1.6" stroke-linecap="round"/>
<path d="M587.3 198.4 Q595.7 125.2 604.5 52.0" fill="none" stroke="#c6c6d6" stroke-opacity="0.6" stroke-width="2.3" stroke-linecap="round"/>
<path d="M611.2 210.5 Q615.6 190.9 619.2 171.1" fill="none" stroke="#8c8cac" stroke-opacity="0.6" stroke-width="1.7" stroke-linecap="round"/>
<path d="M503.1 279.0 Q493.6 216.2 470.4 157.2" fill="none" stroke="#f0f0f6" stroke-opacity="0.6" stroke-width="2.4" stroke-linecap="round"/>
<path d="M639.0 168.2 Q645.1 95.7 647.4 22.9" fill="none" stroke="#dcdce8" stroke-opacity="0.75" stroke-width="2.2" stroke-linecap="round"/>
<path d="M576.1 210.7 Q552.0 162.3 532.6 111.8" fill="none" stroke="#dcdce8" stroke-opacity="0.75" stroke-width="1.0" stroke-linecap="round"/>
<path d="M450.4 281.5 Q475.4 228.5 487.4 171.2" fill="none" stroke="#c6c6d6" stroke-opacity="0.6" stroke-width="1.9" stroke-linecap="round"/>
<path d="M615.5 277.7 Q622.6 239.4 631.6 201.6" fill="none" stroke="#dcdce8" stroke-opacity="0.75" stroke-width="2.3" stroke-linecap="round"/>
<path d="M448.2 111.1 Q442.4 85.2 447.5 59.1" fill="none" stroke="#8c8cac" stroke-opacity="0.6" stroke-width="1.3" stroke-linecap="round"/>
<path d="M634.5 132.5 Q626.3 108.9 633.4 85.0" fill="none" stroke="#f0f0f6" stroke-opacity="0.6" stroke-width="1.7" stroke-linecap="round"/>
<path d="M470.2 274.8 Q477.5 233.3 488.9 192.8" fill="none" stroke="#f0f0f6" stroke-opacity="0.6" stroke-width="2.1" stroke-linecap="round"/>
<path d="M532.2 286.4 Q526.6 246.7 528.6 206.7" fill="none" stroke="#c6c6d6" stroke-opacity="0.6" stroke-width="2.2" stroke-linecap="round"/>
<path d="M496.8 152.0 Q481.5 109.4 469.1 65.8" fill="none" stroke="#c6c6d6" stroke-opacity="0.6" stroke-width="1.3" stroke-linecap="round"/>
<path d="M574.7 178.6 Q583.4 151.8 581.3 123.7" fill="none" stroke="#8c8cac" stroke-opacity="0.6" stroke-width="1.3" stroke-linecap="round"/>
<path d="M601.7 122.6 Q598.1 80.3 597.9 37.9" fill="none" stroke="#f0f0f6" stroke-opacity="0.6" stroke-width="1.6" stroke-linecap="round"/>
<path d="M469.6 205.7 Q491.1 140.5 517.5 77.2" fill="none" stroke="#dcdce8" stroke-opacity="0.75" stroke-width="1.3" stroke-linecap="round"/>
<path d="M453.5 229.3 Q454.5 202.1 446.4 176.1" fill="none" stroke="#dcdce8" stroke-opacity="0.75" stroke-width="1.4" stroke-linecap="round"/>
<path d="M532.2 243.1 Q547.8 171.9 568.6 102.0" fill="none" stroke="#f0f0f6" stroke-opacity="0.6" stroke-width="1.0" stroke-linecap="round"/>
<path d="M541.8 110.0 Q531.9 88.2 534.5 64.4" fill="none" stroke="#c6c6d6" stroke-opacity="0.6" stroke-width="1.9" stroke-linecap="round"/>
<path d="M568.2 148.8 Q546.4 106.3 529.4 61.7" fill="none" stroke="#dcdce8" stroke-opacity="0.75" stroke-width="1.8" stroke-linecap="round"/>
<path d="M525.3 236.1 Q522.8 189.7 512.4 144.3" fill="none" stroke="#f0f0f6" stroke-opacity="0.6" stroke-width="1.6" stroke-linecap="round"/>
<path d="M646.2 125.6 Q631.0 92.7 620.8 57.9" fill="none" stroke="#f0f0f6" stroke-opacity="0.6" stroke-width="1.6" stroke-linecap="round"/>
<path d="M623.8 280.5 Q613.3 220.4 589.8 164.0" fill="none" stroke="#f0f0f6" stroke-opacity="0.6" stroke-width="1.8" stroke-linecap="round"/>
<path d="M528.7 240.8 Q545.2 199.5 551.7 155.6" fill="none" stroke="#c6c6d6" stroke-opacity="0.6" stroke-width="1.5" stroke-linecap="round"/>
<path d="M468.9 227.7 Q471.5 204.6 486.0 186.4" fill="none" stroke="#f0f0f6" stroke-opacity="0.6" stroke-width="2.2" stroke-linecap="round"/>
<path d="M630.6 133.6 Q615.2 82.3 614.0 28.8" fill="none" stroke="#dcdce8" stroke-opacity="0.75" stroke-width="1.9" stroke-linecap="round"/>
<path d="M494.3 194.7 Q513.2 137.4 535.2 81.3" fill="none" stroke="#f0f0f6" stroke-opacity="0.6" stroke-width="1.1" stroke-linecap="round"/>
<path d="M546.8 256.5 Q544.6 219.3 536.4 183.0" fill="none" stroke="#dcdce8" stroke-opacity="0.75" stroke-width="1.3" stroke-linecap="round"/>
<path d="M654.3 117.2 Q660.3 89.6 675.0 65.4" fill="none" stroke="#8c8cac" stroke-opacity="0.6" stroke-width="1.4" stroke-linecap="round"/>
<path d="M511.0 300.7 Q510.8 230.8 511.7 160.9" fill="none" stroke="#f0f0f6" stroke-opacity="0.6" stroke-width="2.2" stroke-linecap="round"/>
<path d="M600.6 285.7 Q582.1 223.7 550.5 167.2" fill="none" stroke="#dcdce8" stroke-opacity="0.75" stroke-width="1.2" stroke-linecap="round"/>
<path d="M505.4 263.8 Q491.4 220.3 473.1 178.5" fill="none" stroke="#c6c6d6" stroke-opacity="0.6" stroke-width="1.9" stroke-linecap="round"/>
<path d="M621.7 180.0 Q616.0 123.9 612.1 67.7" fill="none" stroke="#c6c6d6" stroke-opacity="0.6" stroke-width="2.4" stroke-linecap="round"/>
<path d="M557.4 250.8 Q542.4 203.4 532.2 154.7" fill="none" stroke="#f0f0f6" stroke-opacity="0.6" stroke-width="1.1" stroke-linecap="round"/>
<path d="M580.3 206.1 Q589.1 135.5 611.4 67.9" fill="none" stroke="#f0f0f6" stroke-opacity="0.6" stroke-width="2.2" stroke-linecap="round"/>
<path d="M466.7 178.3 Q448.5 114.6 438.1 49.2" fill="none" stroke="#8c8cac" stroke-opacity="0.6" stroke-width="1.7" stroke-linecap="round"/>
<path d="M625.6 297.5 Q606.8 228.8 584.6 161.1" fill="none" stroke="#c6c6d6" stroke-opacity="0.6" stroke-width="2.5" stroke-linecap="round"/>
<path d="M585.0 175.4 Q589.1 144.2 578.0 114.8" fill="none" stroke="#f0f0f6" stroke-opacity="0.6" stroke-width="2.3" stroke-linecap="round"/>
<path d="M475.5 304.2 Q499.3 237.4 534.9 176.0" fill="none" stroke="#f0f0f6" stroke-opacity="0.6" stroke-width="1.3" stroke-linecap="round"/>
<path d="M593.7 126.1 Q581.5 79.0 576.4 30.6" fill="none" stroke="#8c8cac" stroke-opacity="0.6" stroke-width="2.1" stroke-linecap="round"/>
<path d="M501.2 254.6 Q482.4 212.9 465.3 170.5" fill="none" stroke="#f0f0f6" stroke-opacity="0.6" stroke-width="1.2" stroke-linecap="round"/>
<path d="M551.6 248.9 Q548.1 217.7 548.5 186.3" fill="none" stroke="#f0f0f6" stroke-opacity="0.6" stroke-width="1.4" stroke-linecap="round"/>
<path d="M637.7 197.3 Q650.1 155.1 670.7 116.3" fill="none" stroke="#c6c6d6" stroke-opacity="0.6" stroke-width="2.5" stroke-linecap="round"/>
<path d="M650.4 261.8 Q637.9 217.9 633.5 172.4" fill="none" stroke="#c6c6d6" stroke-opacity="0.6" stroke-width="1.4" stroke-linecap="round"/>
<path d="M494.8 124.5 Q465.0 78.1 449.8 25.0" fill="none" stroke="#dcdce8" stroke-opacity="0.75" stroke-width="2.4" stroke-linecap="round"/>
<path d="M530.7 243.6 Q517.3 171.6 512.2 98.5" fill="none" stroke="#f0f0f6" stroke-opacity="0.6" stroke-width="1.7" stroke-linecap="round"/>
<path d="M452.1 208.4 Q446.8 170.0 447.5 131.3" fill="none" stroke="#c6c6d6" stroke-opacity="0.6" stroke-width="1.1" stroke-linecap="round"/>
<path d="M597.2 179.3 Q596.9 131.3 611.4 85.6" fill="none" stroke="#8c8cac" stroke-opacity="0.6" stroke-width="1.0" stroke-linecap="round"/>
</g>
<circle cx="647.2" cy="114.3" r="1.4" fill="#f4f4f8" fill-opacity="0.9"/>
<circle cx="602.7" cy="170.5" r="1.4" fill="#f4f4f8" fill-opacity="0.9"/>
<circle cx="639.2" cy="195.9" r="1.4" fill="#f4f4f8" fill-opacity="0.9"/>
<circle cx="617.9" cy="149.2" r="1.4" fill="#f4f4f8" fill-opacity="0.9"/>
<circle cx="600.6" cy="138.6" r="1.4" fill="#f4f4f8" fill-opacity="0.9"/>
<circle cx="483.4" cy="93.3" r="1.4" fill="#f4f4f8" fill-opacity="0.9"/>
<circle cx="466.6" cy="159.5" r="1.4" fill="#f4f4f8" fill-opacity="0.9"/>
<circle cx="469.5" cy="206.1" r="1.4" fill="#f4f4f8" fill-opacity="0.9"/>
<circle cx="545.4" cy="164.5" r="1.4" fill="#f4f4f8" fill-opacity="0.9"/>
<circle cx="601.4" cy="212.3" r="1.4" fill="#f4f4f8" fill-opacity="0.9"/>
<circle cx="643.7" cy="163.6" r="1.4" fill="#f4f4f8" fill-opacity="0.9"/>
<circle cx="528.5" cy="180.1" r="1.4" fill="#f4f4f8" fill-opacity="0.9"/>
<circle cx="513.8" cy="101.4" r="1.4" fill="#f4f4f8" fill-opacity="0.9"/>
<circle cx="484.5" cy="208.3" r="1.4" fill="#f4f4f8" fill-opacity="0.9"/>
<circle cx="477.3" cy="200.2" r="1.4" fill="#f4f4f8" fill-opacity="0.9"/>
<circle cx="542.4" cy="130.3" r="1.4" fill="#f4f4f8" fill-opacity="0.9"/>
<circle cx="506.6" cy="130.9" r="1.4" fill="#f4f4f8" fill-opacity="0.9"/>
<circle cx="558.7" cy="172.4" r="1.4" fill="#f4f4f8" fill-opacity="0.9"/>
<circle cx="484.5" cy="96.3" r="1.4" fill="#f4f4f8" fill-opacity="0.9"/>
<circle cx="550.3" cy="123.5" r="1.4" fill="#f4f4f8" fill-opacity="0.9"/>
<circle cx="545.2" cy="173.6" r="1.4" fill="#f4f4f8" fill-opacity="0.9"/>
<circle cx="509.9" cy="135.6" r="1.4" fill="#f4f4f8" fill-opacity="0.9"/>
<circle cx="571.6" cy="107.4" r="1.4" fill="#f4f4f8" fill-opacity="0.9"/>
<circle cx="481.8" cy="201.8" r="1.4" fill="#f4f4f8" fill-opacity="0.9"/>
<circle cx="601.2" cy="128.7" r="1.4" fill="#f4f4f8" fill-opacity="0.9"/>
<circle cx="540.7" cy="101.7" r="1.4" fill="#f4f4f8" fill-opacity="0.9"/>
<circle cx="464.4" cy="159.7" r="1.4" fill="#f4f4f8" fill-opacity="0.9"/>
<circle cx="601.0" cy="207.5" r="1.4" fill="#f4f4f8" fill-opacity="0.9"/>
<circle cx="543.1" cy="134.9" r="1.4" fill="#f4f4f8" fill-opacity="0.9"/>
<circle cx="523.7" cy="183.2" r="1.4" fill="#f4f4f8" fill-opacity="0.9"/>
<circle cx="636.9" cy="146.9" r="1.4" fill="#f4f4f8" fill-opacity="0.9"/>
<circle cx="467.4" cy="121.2" r="1.4" fill="#f4f4f8" fill-opacity="0.9"/>
<circle cx="465.2" cy="135.7" r="1.4" fill="#f4f4f8" fill-opacity="0.9"/>
<circle cx="574.0" cy="169.3" r="1.4" fill="#f4f4f8" fill-opacity="0.9"/>
<circle cx="464.8" cy="149.8" r="1.4" fill="#f4f4f8" fill-opacity="0.9"/>
<circle cx="536.5" cy="217.8" r="1.4" fill="#f4f4f8" fill-opacity="0.9"/>
<circle cx="552.1" cy="225.9" r="1.4" fill="#f4f4f8" fill-opacity="0.9"/>
<circle cx="598.1" cy="189.4" r="1.4" fill="#f4f4f8" fill-opacity="0.9"/>
<circle cx="479.9" cy="180.2" r="1.4" fill="#f4f4f8" fill-opacity="0.9"/>
<circle cx="481.5" cy="209.2" r="1.4" fill="#f4f4f8" fill-opacity="0.9"/>
<circle cx="625.3" cy="223.8" r="1.4" fill="#f4f4f8" fill-opacity="0.9"/>
<circle cx="643.1" cy="188.6" r="1.4" fill="#f4f4f8" fill-opacity="0.9"/>
<circle cx="539.9" cy="229.7" r="1.4" fill="#f4f4f8" fill-opacity="0.9"/>
<circle cx="545.7" cy="131.8" r="1.4" fill="#f4f4f8" fill-opacity="0.9"/>
<circle cx="564.3" cy="115.6" r="1.4" fill="#f4f4f8" fill-opacity="0.9"/>
<circle cx="550.5" cy="114.7" r="1.4" fill="#f4f4f8" fill-opacity="0.9"/>
<circle cx="486.5" cy="190.5" r="1.4" fill="#f4f4f8" fill-opacity="0.9"/>
<circle cx="589.1" cy="156.9" r="1.4" fill="#f4f4f8" fill-opacity="0.9"/>
<circle cx="533.5" cy="92.2" r="1.4" fill="#f4f4f8" fill-opacity="0.9"/>
<circle cx="532.4" cy="116.4" r="1.4" fill="#f4f4f8" fill-opacity="0.9"/>
<circle cx="577.1" cy="134.8" r="1.4" fill="#f4f4f8" fill-opacity="0.9"/>
<circle cx="581.2" cy="109.4" r="1.4" fill="#f4f4f8" fill-opacity="0.9"/>
<circle cx="485.9" cy="164.9" r="1.4" fill="#f4f4f8" fill-opacity="0.9"/>
<circle cx="486.9" cy="121.2" r="1.4" fill="#f4f4f8" fill-opacity="0.9"/>
<circle cx="606.0" cy="152.1" r="1.4" fill="#f4f4f8" fill-opacity="0.9"/>
<circle cx="492.5" cy="94.7" r="1.4" fill="#f4f4f8" fill-opacity="0.9"/>
<circle cx="477.9" cy="107.2" r="1.4" fill="#f4f4f8" fill-opacity="0.9"/>
<circle cx="514.1" cy="145.1" r="1.4" fill="#f4f4f8" fill-opacity="0.9"/>
<circle cx="636.2" cy="176.1" r="1.4" fill="#f4f4f8" fill-opacity="0.9"/>
<circle cx="635.6" cy="92.0" r="1.4" fill="#f4f4f8" fill-opacity="0.9"/>
</g>
<clipPath id="clip4"><rect x="648.0" y="91.0" width="188.0" height="141.0"/></clipPath>
<g clip-path="url(#clip4)">
<rect x="648.0" y="91.0" width="188.0" height="141.0" fill="#b2b2c2"/>
<g filter="url(#bl6)">
<ellipse cx="692.4" cy="105.5" rx="15.9" ry="12.3" fill="#9e9eb2" fill-opacity="0.4"/>
<ellipse cx="660.5" cy="147.6" rx="23.8" ry="22.0" fill="#9e9eb2" fill-opacity="0.4"/>
<ellipse cx="791.9" cy="122.3" rx="18.1" ry="14.2" fill="#9e9eb2" fill-opacity="0.4"/>
<ellipse cx="680.5" cy="106.0" rx="13.2" ry="23.9" fill="#9e9eb2" fill-opacity="0.4"/>
<ellipse cx="803.8" cy="204.7" rx="22.0" ry="12.9" fill="#9e9eb2" fill-opacity="0.4"/>
<ellipse cx="706.3" cy="179.4" rx="21.0" ry="22.8" fill="#9e9eb2" fill-opacity="0.4"/>
<ellipse cx="813.4" cy="103.2" rx="19.1" ry="20.1" fill="#9e9eb2" fill-opacity="0.4"/>
<ellipse cx="743.1" cy="116.1" rx="17.1" ry="11.3" fill="#9e9eb2" fill-opacity="0.4"/>
<ellipse cx="823.7" cy="213.0" rx="18.2" ry="14.5" fill="#9e9eb2" fill-opacity="0.4"/>
<ellipse cx="818.9" cy="171.7" rx="23.2" ry="22.7" fill="#9e9eb2" fill-opacity="0.4"/>
<ellipse cx="743.6" cy="149.4" rx="14.0" ry="12.3" fill="#d2d2dc" fill-opacity="0.5"/>
<ellipse cx="678.3" cy="134.0" rx="16.1" ry="8.4" fill="#d2d2dc" fill-opacity="0.5"/>
<ellipse cx="656.7" cy="179.3" rx="10.8" ry="13.3" fill="#d2d2dc" fill-opacity="0.5"/>
<ellipse cx="736.6" cy="139.3" rx="18.0" ry="10.0" fill="#d2d2dc" fill-opacity="0.5"/>
<ellipse cx="725.6" cy="119.6" rx="14.3" ry="10.8" fill="#d2d2dc" fill-opacity="0.5"/>
<ellipse cx="714.9" cy="196.3" rx="11.2" ry="13.6" fill="#d2d2dc" fill-opacity="0.5"/>
<ellipse cx="818.0" cy="105.2" rx="8.6" ry="10.3" fill="#d2d2dc" fill-opacity="0.5"/>
<ellipse cx="791.9" cy="177.8" rx="10.4" ry="11.3" fill="#d2d2dc" fill-opacity="0.5"/>
<ellipse cx="681.4" cy="155.7" rx="8.4" ry="15.0" fill="#d2d2dc" fill-opacity="0.5"/>
<ellipse cx="816.4" cy="225.6" rx="15.3" ry="17.6" fill="#d2d2dc" fill-opacity="0.5"/>
</g>
<g filter="url(#fb)">
<path d="M631.1 209.3 Q666.8 195.2 694.6 168.7" fill="none" stroke="#8686ae" stroke-opacity="0.6" stroke-width="2.8" stroke-linecap="round"/>
<path d="M704.3 113.2 Q734.6 103.3 754.3 78.2" fill="none" stroke="#8686ae" stroke-opacity="0.6" stroke-width="1.9" stroke-linecap="round"/>
<path d="M692.5 144.9 Q733.6 146.9 770.9 129.3" fill="none" stroke="#c6c6da" stroke-opacity="0.6" stroke-width="2.6" stroke-linecap="round"/>
<path d="M808.0 103.7 Q838.8 95.9 865.9 79.5" fill="none" stroke="#8686ae" stroke-opacity="0.6" stroke-width="1.3" stroke-linecap="round"/>
<path d="M711.3 136.5 Q761.8 135.8 810.3 121.8" fill="none" stroke="#e4e4f0" stroke-opacity="0.75" stroke-width="1.3" stroke-linecap="round"/>
<path d="M810.9 153.2 Q853.4 155.7 895.5 161.8" fill="none" stroke="#c6c6da" stroke-opacity="0.6" stroke-width="1.6" stroke-linecap="round"/>
<path d="M742.3 177.8 Q771.5 143.8 808.9 119.1" fill="none" stroke="#8686ae" stroke-opacity="0.6" stroke-width="1.6" stroke-linecap="round"/>
<path d="M649.3 133.6 Q671.0 107.3 701.6 92.2" fill="none" stroke="#8686ae" stroke-opacity="0.6" stroke-width="2.8" stroke-linecap="round"/>
<path d="M618.7 164.0 Q653.8 177.1 690.5 184.2" fill="none" stroke="#8686ae" stroke-opacity="0.6" stroke-width="2.9" stroke-linecap="round"/>
<path d="M652.2 236.9 Q678.7 237.2 700.0 221.4" fill="none" stroke="#8686ae" stroke-opacity="0.6" stroke-width="2.8" stroke-linecap="round"/>
<path d="M795.7 154.2 Q830.1 123.3 871.1 101.8" fill="none" stroke="#c6c6da" stroke-opacity="0.6" stroke-width="2.0" stroke-linecap="round"/>
<path d="M705.6 248.0 Q742.5 228.6 776.7 204.9" fill="none" stroke="#c6c6da" stroke-opacity="0.6" stroke-width="1.7" stroke-linecap="round"/>
<path d="M618.5 304.0 Q649.8 241.4 695.7 188.6" fill="none" stroke="#e4e4f0" stroke-opacity="0.75" stroke-width="2.4" stroke-linecap="round"/>
<path d="M690.1 145.3 Q735.8 150.0 781.2 142.9" fill="none" stroke="#e4e4f0" stroke-opacity="0.75" stroke-width="1.9" stroke-linecap="round"/>
<path d="M808.2 85.4 Q826.0 97.3 847.5 98.5" fill="none" stroke="#e4e4f0" stroke-opacity="0.75" stroke-width="2.7" stroke-linecap="round"/>
<path d="M607.5 208.1 Q675.8 200.2 740.5 176.9" fill="none" stroke="#e4e4f0" stroke-opacity="0.75" stroke-width="1.8" stroke-linecap="round"/>
<path d="M603.9 183.4 Q645.6 198.0 688.1 210.4" fill="none" stroke="#7878a0" stroke-opacity="0.5" stroke-width="1.4" stroke-linecap="round"/>
<path d="M683.3 213.9 Q709.3 200.2 738.0 205.9" fill="none" stroke="#c6c6da" stroke-opacity="0.6" stroke-width="2.1" stroke-linecap="round"/>
<path d="M727.6 135.6 Q752.6 136.3 776.2 144.4" fill="none" stroke="#c6c6da" stroke-opacity="0.6" stroke-width="2.6" stroke-linecap="round"/>
<path d="M652.4 79.7 Q718.7 90.9 786.1 90.2" fill="none" stroke="#e4e4f0" stroke-opacity="0.75" stroke-width="2.8" stroke-linecap="round"/>
<path d="M781.5 224.0 Q825.7 218.9 865.7 199.1" fill="none" stroke="#c6c6da" stroke-opacity="0.6" stroke-width="1.3" stroke-linecap="round"/>
<path d="M666.4 99.7 Q736.9 89.8 807.9 85.1" fill="none" stroke="#e4e4f0" stroke-opacity="0.75" stroke-width="2.2" stroke-linecap="round"/>
<path d="M720.7 152.2 Q746.4 138.0 760.6 112.3" fill="none" stroke="#e4e4f0" stroke-opacity="0.75" stroke-width="2.2" stroke-linecap="round"/>
<path d="M733.4 191.1 Q752.0 158.9 771.1 127.0" fill="none" stroke="#e4e4f0" stroke-opacity="0.75" stroke-width="2.5" stroke-linecap="round"/>
<path d="M653.9 124.0 Q696.9 119.5 735.9 100.9" fill="none" stroke="#8686ae" stroke-opacity="0.6" stroke-width="1.5" stroke-linecap="round"/>
<path d="M646.0 238.5 Q699.8 244.4 752.9 233.9" fill="none" stroke="#8686ae" stroke-opacity="0.6" stroke-width="2.0" stroke-linecap="round"/>
<path d="M683.4 166.7 Q730.2 178.1 773.6 198.8" fill="none" stroke="#c6c6da" stroke-opacity="0.6" stroke-width="1.9" stroke-linecap="round"/>
<path d="M691.4 165.0 Q725.8 182.9 762.2 196.2" fill="none" stroke="#c6c6da" stroke-opacity="0.6" stroke-width="2.4" stroke-linecap="round"/>
<path d="M720.6 122.8 Q761.7 126.6 798.1 146.0" fill="none" stroke="#c6c6da" stroke-opacity="0.6" stroke-width="2.3" stroke-linecap="round"/>
<path d="M633.7 144.5 Q703.8 145.9 772.6 132.1" fill="none" stroke="#7878a0" stroke-opacity="0.5" stroke-width="1.5" stroke-linecap="round"/>
<path d="M589.0 152.4 Q646.1 128.2 707.5 119.6" fill="none" stroke="#8686ae" stroke-opacity="0.6" stroke-width="2.7" stroke-linecap="round"/>
<path d="M712.4 249.2 Q760.5 250.0 805.3 232.3" fill="none" stroke="#e4e4f0" stroke-opacity="0.75" stroke-width="2.6" stroke-linecap="round"/>
<path d="M797.5 144.2 Q832.4 113.5 862.6 78.2" fill="none" stroke="#8686ae" stroke-opacity="0.6" stroke-width="2.6" stroke-linecap="round"/>
<path d="M707.7 102.5 Q738.4 115.8 771.6 119.5" fill="none" stroke="#7878a0" stroke-opacity="0.5" stroke-width="1.9" stroke-linecap="round"/>
<path d="M679.1 207.1 Q719.9 217.3 759.6 230.8" fill="none" stroke="#7878a0" stroke-opacity="0.5" stroke-width="1.7" stroke-linecap="round"/>
<path d="M678.4 215.9 Q731.3 171.1 786.7 129.3" fill="none" stroke="#8686ae" stroke-opacity="0.6" stroke-width="2.7" stroke-linecap="round"/>
<path d="M615.1 250.8 Q644.5 255.6 671.8 243.8" fill="none" stroke="#7878a0" stroke-opacity="0.5" stroke-width="3.0" stroke-linecap="round"/>
<path d="M679.5 168.5 Q737.6 188.8 797.0 205.2" fill="none" stroke="#c6c6da" stroke-opacity="0.6" stroke-width="2.1" stroke-linecap="round"/>
<path d="M673.8 266.9 Q700.5 246.5 718.6 218.2" fill="none" stroke="#8686ae" stroke-opacity="0.6" stroke-width="1.5" stroke-linecap="round"/>
<path d="M781.8 136.7 Q792.2 103.8 816.8 79.7" fill="none" stroke="#c6c6da" stroke-opacity="0.6" stroke-width="2.9" stroke-linecap="round"/>
<path d="M650.9 293.1 Q697.7 234.8 736.9 171.2" fill="none" stroke="#c6c6da" stroke-opacity="0.6" stroke-width="2.5" stroke-linecap="round"/>
<path d="M728.2 147.9 Q790.4 176.5 855.8 196.8" fill="none" stroke="#7878a0" stroke-opacity="0.5" stroke-width="2.4" stroke-linecap="round"/>
<path d="M793.3 167.1 Q818.5 152.3 847.7 150.2" fill="none" stroke="#e4e4f0" stroke-opacity="0.75" stroke-width="1.3" stroke-linecap="round"/>
<path d="M649.5 157.4 Q694.6 135.1 744.6 129.7" fill="none" stroke="#c6c6da" stroke-opacity="0.6" stroke-width="1.5" stroke-linecap="round"/>
<path d="M651.2 247.8 Q692.8 207.7 743.4 180.0" fill="none" stroke="#8686ae" stroke-opacity="0.6" stroke-width="1.4" stroke-linecap="round"/>
<path d="M698.2 233.7 Q740.9 206.0 775.2 168.4" fill="none" stroke="#8686ae" stroke-opacity="0.6" stroke-width="1.5" stroke-linecap="round"/>
<path d="M723.7 120.4 Q753.1 111.9 774.1 89.6" fill="none" stroke="#7878a0" stroke-opacity="0.5" stroke-width="2.1" stroke-linecap="round"/>
<path d="M786.5 210.7 Q834.0 181.8 878.6 148.5" fill="none" stroke="#c6c6da" stroke-opacity="0.6" stroke-width="1.3" stroke-linecap="round"/>
<path d="M699.8 225.0 Q764.0 219.5 825.7 201.0" fill="none" stroke="#c6c6da" stroke-opacity="0.6" stroke-width="2.1" stroke-linecap="round"/>
<path d="M762.9 171.4 Q828.8 192.2 895.9 209.0" fill="none" stroke="#8686ae" stroke-opacity="0.6" stroke-width="2.5" stroke-linecap="round"/>
<path d="M610.6 184.2 Q646.2 201.0 682.6 216.1" fill="none" stroke="#7878a0" stroke-opacity="0.5" stroke-width="2.1" stroke-linecap="round"/>
<path d="M673.3 227.7 Q701.5 177.8 736.1 132.1" fill="none" stroke="#e4e4f0" stroke-opacity="0.75" stroke-width="1.4" stroke-linecap="round"/>
<path d="M671.4 270.0 Q698.2 249.3 709.6 217.5" fill="none" stroke="#8686ae" stroke-opacity="0.6" stroke-width="2.8" stroke-linecap="round"/>
<path d="M683.7 241.4 Q712.1 238.1 736.4 222.8" fill="none" stroke="#8686ae" stroke-opacity="0.6" stroke-width="2.5" stroke-linecap="round"/>
<path d="M666.4 90.0 Q721.7 93.8 773.2 114.5" fill="none" stroke="#c6c6da" stroke-opacity="0.6" stroke-width="2.1" stroke-linecap="round"/>
<path d="M640.6 206.0 Q674.1 192.7 710.1 190.7" fill="none" stroke="#c6c6da" stroke-opacity="0.6" stroke-width="1.8" stroke-linecap="round"/>
<path d="M622.2 188.9 Q690.2 210.3 759.6 226.7" fill="none" stroke="#7878a0" stroke-opacity="0.5" stroke-width="1.9" stroke-linecap="round"/>
<path d="M640.8 192.7 Q683.8 159.5 731.9 134.3" fill="none" stroke="#7878a0" stroke-opacity="0.5" stroke-width="1.3" stroke-linecap="round"/>
<path d="M712.5 130.1 Q768.0 133.3 823.0 125.1" fill="none" stroke="#c6c6da" stroke-opacity="0.6" stroke-width="2.9" stroke-linecap="round"/>
<path d="M614.4 110.6 Q685.9 115.4 757.2 109.6" fill="none" stroke="#8686ae" stroke-opacity="0.6" stroke-width="2.4" stroke-linecap="round"/>
<path d="M648.3 132.1 Q667.5 83.8 700.7 43.8" fill="none" stroke="#c6c6da" stroke-opacity="0.6" stroke-width="2.1" stroke-linecap="round"/>
<path d="M736.6 264.4 Q782.6 240.9 820.7 206.0" fill="none" stroke="#c6c6da" stroke-opacity="0.6" stroke-width="1.3" stroke-linecap="round"/>
<path d="M741.8 198.8 Q801.7 211.5 858.9 233.3" fill="none" stroke="#e4e4f0" stroke-opacity="0.75" stroke-width="2.4" stroke-linecap="round"/>
<path d="M743.5 230.4 Q802.8 217.0 863.7 217.1" fill="none" stroke="#c6c6da" stroke-opacity="0.6" stroke-width="3.0" stroke-linecap="round"/>
<path d="M651.7 260.1 Q667.5 243.0 677.5 222.1" fill="none" stroke="#e4e4f0" stroke-opacity="0.75" stroke-width="2.9" stroke-linecap="round"/>
<path d="M763.5 90.0 Q820.2 82.6 877.0 89.7" fill="none" stroke="#c6c6da" stroke-opacity="0.6" stroke-width="1.6" stroke-linecap="round"/>
<path d="M655.1 156.1 Q700.4 139.7 748.5 141.5" fill="none" stroke="#7878a0" stroke-opacity="0.5" stroke-width="1.9" stroke-linecap="round"/>
<path d="M667.4 164.7 Q701.8 143.1 723.9 109.0" fill="none" stroke="#8686ae" stroke-opacity="0.6" stroke-width="2.8" stroke-linecap="round"/>
<path d="M609.6 134.4 Q650.6 106.0 697.4 88.9" fill="none" stroke="#c6c6da" stroke-opacity="0.6" stroke-width="3.0" stroke-linecap="round"/>
<path d="M681.7 218.4 Q696.4 196.3 709.6 173.4" fill="none" stroke="#e4e4f0" stroke-opacity="0.75" stroke-width="1.8" stroke-linecap="round"/>
<path d="M751.0 77.9 Q810.1 102.8 870.7 123.4" fill="none" stroke="#8686ae" stroke-opacity="0.6" stroke-width="3.0" stroke-linecap="round"/>
<path d="M620.4 98.5 Q661.4 80.4 697.8 54.3" fill="none" stroke="#c6c6da" stroke-opacity="0.6" stroke-width="2.6" stroke-linecap="round"/>
<path d="M735.9 106.4 Q759.7 75.8 792.6 55.3" fill="none" stroke="#7878a0" stroke-opacity="0.5" stroke-width="1.3" stroke-linecap="round"/>
<path d="M726.5 217.3 Q758.1 172.7 803.1 141.7" fill="none" stroke="#8686ae" stroke-opacity="0.6" stroke-width="2.5" stroke-linecap="round"/>
<path d="M730.0 129.0 Q766.3 91.2 809.5 61.5" fill="none" stroke="#7878a0" stroke-opacity="0.5" stroke-width="2.3" stroke-linecap="round"/>
<path d="M755.2 248.8 Q795.2 242.1 833.7 229.2" fill="none" stroke="#c6c6da" stroke-opacity="0.6" stroke-width="2.7" stroke-linecap="round"/>
<path d="M720.3 193.2 Q755.1 175.2 780.8 145.8" fill="none" stroke="#c6c6da" stroke-opacity="0.6" stroke-width="1.9" stroke-linecap="round"/>
<path d="M582.5 204.9 Q642.8 178.1 707.2 164.4" fill="none" stroke="#e4e4f0" stroke-opacity="0.75" stroke-width="1.6" stroke-linecap="round"/>
<path d="M792.4 232.9 Q816.4 237.9 837.5 225.6" fill="none" stroke="#e4e4f0" stroke-opacity="0.75" stroke-width="1.3" stroke-linecap="round"/>
<path d="M607.6 165.3 Q639.7 151.4 674.5 148.9" fill="none" stroke="#e4e4f0" stroke-opacity="0.75" stroke-width="2.8" stroke-linecap="round"/>
<path d="M750.9 78.3 Q799.1 90.7 848.8 86.3" fill="none" stroke="#7878a0" stroke-opacity="0.5" stroke-width="1.5" stroke-linecap="round"/>
<path d="M797.9 266.3 Q821.5 223.2 847.3 181.5" fill="none" stroke="#8686ae" stroke-opacity="0.6" stroke-width="1.3" stroke-linecap="round"/>
<path d="M572.6 98.1 Q636.3 101.0 698.2 115.9" fill="none" stroke="#8686ae" stroke-opacity="0.6" stroke-width="2.4" stroke-linecap="round"/>
<path d="M786.7 299.7 Q831.7 244.5 890.1 203.8" fill="none" stroke="#e4e4f0" stroke-opacity="0.75" stroke-width="1.2" stroke-linecap="round"/>
<path d="M595.8 179.0 Q641.0 159.3 689.8 152.4" fill="none" stroke="#c6c6da" stroke-opacity="0.6" stroke-width="1.8" stroke-linecap="round"/>
<path d="M737.2 97.0 Q783.2 75.7 833.4 68.3" fill="none" stroke="#e4e4f0" stroke-opacity="0.75" stroke-width="2.0" stroke-linecap="round"/>
<path d="M700.2 173.2 Q744.5 192.9 790.0 209.5" fill="none" stroke="#8686ae" stroke-opacity="0.6" stroke-width="1.4" stroke-linecap="round"/>
<path d="M617.8 123.4 Q638.7 125.7 657.9 117.2" fill="none" stroke="#8686ae" stroke-opacity="0.6" stroke-width="2.4" stroke-linecap="round"/>
<path d="M684.3 143.1 Q711.0 152.8 737.0 164.3" fill="none" stroke="#c6c6da" stroke-opacity="0.6" stroke-width="3.0" stroke-linecap="round"/>
<path d="M586.8 150.2 Q635.9 167.7 681.0 193.8" fill="none" stroke="#7878a0" stroke-opacity="0.5" stroke-width="2.9" stroke-linecap="round"/>
<path d="M637.5 234.4 Q663.2 248.2 691.7 254.3" fill="none" stroke="#7878a0" stroke-opacity="0.5" stroke-width="2.7" stroke-linecap="round"/>
<path d="M789.7 105.6 Q823.5 95.7 858.7 96.5" fill="none" stroke="#7878a0" stroke-opacity="0.5" stroke-width="1.4" stroke-linecap="round"/>
<path d="M698.1 250.5 Q728.7 247.8 759.1 244.3" fill="none" stroke="#c6c6da" stroke-opacity="0.6" stroke-width="1.8" stroke-linecap="round"/>
<path d="M757.8 166.8 Q778.6 166.7 796.9 176.4" fill="none" stroke="#8686ae" stroke-opacity="0.6" stroke-width="1.6" stroke-linecap="round"/>
<path d="M795.5 174.3 Q842.9 146.5 893.0 124.2" fill="none" stroke="#7878a0" stroke-opacity="0.5" stroke-width="2.1" stroke-linecap="round"/>
<path d="M614.8 268.9 Q632.8 253.8 643.3 232.7" fill="none" stroke="#8686ae" stroke-opacity="0.6" stroke-width="2.0" stroke-linecap="round"/>
<path d="M671.9 179.4 Q708.7 192.0 743.5 209.6" fill="none" stroke="#e4e4f0" stroke-opacity="0.75" stroke-width="1.2" stroke-linecap="round"/>
<path d="M795.6 158.5 Q841.2 147.2 887.6 140.1" fill="none" stroke="#7878a0" stroke-opacity="0.5" stroke-width="2.5" stroke-linecap="round"/>
<path d="M753.9 105.9 Q796.5 80.7 844.6 69.5" fill="none" stroke="#8686ae" stroke-opacity="0.6" stroke-width="1.4" stroke-linecap="round"/>
<path d="M767.8 125.6 Q829.1 136.3 891.1 131.4" fill="none" stroke="#7878a0" stroke-opacity="0.5" stroke-width="2.4" stroke-linecap="round"/>
<path d="M752.3 115.9 Q809.9 132.9 867.6 149.5" fill="none" stroke="#7878a0" stroke-opacity="0.5" stroke-width="1.9" stroke-linecap="round"/>
<path d="M747.7 229.7 Q791.6 232.4 835.5 230.3" fill="none" stroke="#8686ae" stroke-opacity="0.6" stroke-width="2.2" stroke-linecap="round"/>
<path d="M604.9 252.4 Q638.1 232.7 667.3 207.4" fill="none" stroke="#7878a0" stroke-opacity="0.5" stroke-width="2.3" stroke-linecap="round"/>
<path d="M618.7 173.2 Q680.6 163.6 742.8 156.3" fill="none" stroke="#e4e4f0" stroke-opacity="0.75" stroke-width="2.9" stroke-linecap="round"/>
<path d="M751.0 171.2 Q821.7 156.3 887.7 126.9" fill="none" stroke="#8686ae" stroke-opacity="0.6" stroke-width="1.8" stroke-linecap="round"/>
<path d="M634.9 195.2 Q668.5 175.0 690.8 142.7" fill="none" stroke="#c6c6da" stroke-opacity="0.6" stroke-width="2.9" stroke-linecap="round"/>
<path d="M785.9 232.8 Q849.5 236.1 912.4 245.4" fill="none" stroke="#7878a0" stroke-opacity="0.5" stroke-width="2.5" stroke-linecap="round"/>
<path d="M629.3 180.4 Q685.8 186.4 742.7 186.6" fill="none" stroke="#8686ae" stroke-opacity="0.6" stroke-width="1.5" stroke-linecap="round"/>
<path d="M740.2 165.2 Q786.5 164.8 828.8 183.9" fill="none" stroke="#e4e4f0" stroke-opacity="0.75" stroke-width="1.4" stroke-linecap="round"/>
<path d="M785.9 220.0 Q814.7 218.3 842.7 225.5" fill="none" stroke="#e4e4f0" stroke-opacity="0.75" stroke-width="2.2" stroke-linecap="round"/>
<path d="M631.4 205.5 Q653.3 203.8 675.3 203.1" fill="none" stroke="#8686ae" stroke-opacity="0.6" stroke-width="1.6" stroke-linecap="round"/>
<path d="M644.6 232.4 Q671.3 219.5 700.9 218.6" fill="none" stroke="#8686ae" stroke-opacity="0.6" stroke-width="2.1" stroke-linecap="round"/>
<path d="M652.2 155.8 Q690.0 149.3 724.7 133.1" fill="none" stroke="#8686ae" stroke-opacity="0.6" stroke-width="1.4" stroke-linecap="round"/>
<path d="M710.3 122.7 Q769.2 128.3 826.9 114.8" fill="none" stroke="#c6c6da" stroke-opacity="0.6" stroke-width="1.3" stroke-linecap="round"/>
<path d="M635.3 105.5 Q675.7 113.7 715.0 126.3" fill="none" stroke="#8686ae" stroke-opacity="0.6" stroke-width="2.1" stroke-linecap="round"/>
<path d="M733.6 65.2 Q788.7 94.0 849.5 107.5" fill="none" stroke="#8686ae" stroke-opacity="0.6" stroke-width="1.5" stroke-linecap="round"/>
<path d="M771.1 237.3 Q814.7 230.0 858.2 237.0" fill="none" stroke="#7878a0" stroke-opacity="0.5" stroke-width="1.4" stroke-linecap="round"/>
<path d="M790.0 161.9 Q840.0 165.3 888.0 150.9" fill="none" stroke="#e4e4f0" stroke-opacity="0.75" stroke-width="2.0" stroke-linecap="round"/>
<path d="M646.7 107.1 Q690.4 73.3 732.5 37.6" fill="none" stroke="#7878a0" stroke-opacity="0.5" stroke-width="1.9" stroke-linecap="round"/>
<path d="M596.8 157.0 Q654.2 172.5 713.5 170.8" fill="none" stroke="#c6c6da" stroke-opacity="0.6" stroke-width="1.5" stroke-linecap="round"/>
</g>
<circle cx="678.5" cy="200.3" r="1.4" fill="#f4f4f8" fill-opacity="0.9"/>
<circle cx="772.4" cy="109.2" r="1.4" fill="#f4f4f8" fill-opacity="0.9"/>
<circle cx="682.6" cy="204.8" r="1.4" fill="#f4f4f8" fill-opacity="0.9"/>
<circle cx="753.7" cy="101.1" r="1.4" fill="#f4f4f8" fill-opacity="0.9"/>
<circle cx="787.7" cy="205.4" r="1.4" fill="#f4f4f8" fill-opacity="0.9"/>
<circle cx="653.9" cy="162.3" r="1.4" fill="#f4f4f8" fill-opacity="0.9"/>
<circle cx="774.8" cy="182.2" r="1.4" fill="#f4f4f8" fill-opacity="0.9"/>
<circle cx="649.3" cy="128.3" r="1.4" fill="#f4f4f8" fill-opacity="0.9"/>
<circle cx="685.0" cy="198.3" r="1.4" fill="#f4f4f8" fill-opacity="0.9"/>
<circle cx="669.9" cy="127.0" r="1.4" fill="#f4f4f8" fill-opacity="0.9"/>
<circle cx="723.0" cy="165.4" r="1.4" fill="#f4f4f8" fill-opacity="0.9"/>
<circle cx="699.1" cy="105.4" r="1.4" fill="#f4f4f8" fill-opacity="0.9"/>
<circle cx="716.2" cy="205.0" r="1.4" fill="#f4f4f8" fill-opacity="0.9"/>
<circle cx="786.4" cy="175.8" r="1.4" fill="#f4f4f8" fill-opacity="0.9"/>
<circle cx="784.0" cy="225.1" r="1.4" fill="#f4f4f8" fill-opacity="0.9"/>
<circle cx="788.7" cy="210.8" r="1.4" fill="#f4f4f8" fill-opacity="0.9"/>
<circle cx="740.2" cy="125.5" r="1.4" fill="#f4f4f8" fill-opacity="0.9"/>
<circle cx="826.1" cy="114.7" r="1.4" fill="#f4f4f8" fill-opacity="0.9"/>
<circle cx="785.8" cy="222.5" r="1.4" fill="#f4f4f8" fill-opacity="0.9"/>
<circle cx="683.5" cy="166.9" r="1.4" fill="#f4f4f8" fill-opacity="0.9"/>
<circle cx="825.1" cy="136.5" r="1.4" fill="#f4f4f8" fill-opacity="0.9"/>
<circle cx="762.6" cy="205.8" r="1.4" fill="#f4f4f8" fill-opacity="0.9"/>
<circle cx="756.7" cy="151.6" r="1.4" fill="#f4f4f8" fill-opacity="0.9"/>
<circle cx="787.7" cy="142.4" r="1.4" fill="#f4f4f8" fill-opacity="0.9"/>
<circle cx="834.0" cy="230.4" r="1.4" fill="#f4f4f8" fill-opacity="0.9"/>
<circle cx="790.9" cy="102.0" r="1.4" fill="#f4f4f8" fill-opacity="0.9"/>
<circle cx="734.4" cy="129.4" r="1.4" fill="#f4f4f8" fill-opacity="0.9"/>
<circle cx="676.9" cy="191.1" r="1.4" fill="#f4f4f8" fill-opacity="0.9"/>
<circle cx="696.1" cy="152.8" r="1.4" fill="#f4f4f8" fill-opacity="0.9"/>
<circle cx="830.1" cy="174.8" r="1.4" fill="#f4f4f8" fill-opacity="0.9"/>
<circle cx="771.0" cy="189.3" r="1.4" fill="#f4f4f8" fill-opacity="0.9"/>
<circle cx="734.0" cy="128.9" r="1.4" fill="#f4f4f8" fill-opacity="0.9"/>
<circle cx="788.4" cy="105.0" r="1.4" fill="#f4f4f8" fill-opacity="0.9"/>
<circle cx="704.8" cy="92.3" r="1.4" fill="#f4f4f8" fill-opacity="0.9"/>
<circle cx="720.0" cy="216.1" r="1.4" fill="#f4f4f8" fill-opacity="0.9"/>
<circle cx="775.1" cy="159.0" r="1.4" fill="#f4f4f8" fill-opacity="0.9"/>
<circle cx="654.2" cy="122.0" r="1.4" fill="#f4f4f8" fill-opacity="0.9"/>
<circle cx="693.6" cy="166.1" r="1.4" fill="#f4f4f8" fill-opacity="0.9"/>
<circle cx="683.9" cy="191.8" r="1.4" fill="#f4f4f8" fill-opacity="0.9"/>
<circle cx="734.2" cy="145.7" r="1.4" fill="#f4f4f8" fill-opacity="0.9"/>
<circle cx="710.8" cy="120.2" r="1.4" fill="#f4f4f8" fill-opacity="0.9"/>
<circle cx="769.6" cy="194.9" r="1.4" fill="#f4f4f8" fill-opacity="0.9"/>
<circle cx="755.6" cy="200.8" r="1.4" fill="#f4f4f8" fill-opacity="0.9"/>
<circle cx="751.8" cy="196.2" r="1.4" fill="#f4f4f8" fill-opacity="0.9"/>
<circle cx="805.4" cy="165.9" r="1.4" fill="#f4f4f8" fill-opacity="0.9"/>
<circle cx="710.8" cy="198.1" r="1.4" fill="#f4f4f8" fill-opacity="0.9"/>
<circle cx="833.6" cy="99.1" r="1.4" fill="#f4f4f8" fill-opacity="0.9"/>
<circle cx="718.4" cy="190.5" r="1.4" fill="#f4f4f8" fill-opacity="0.9"/>
<circle cx="723.6" cy="203.9" r="1.4" fill="#f4f4f8" fill-opacity="0.9"/>
<circle cx="694.8" cy="152.8" r="1.4" fill="#f4f4f8" fill-opacity="0.9"/>
</g>
<rect x="81.2" y="90.8" width="755.0" height="141.0" fill="none" stroke="#000" stroke-width="4.5"/>
<rect x="264.6" y="89.0" width="7.4" height="145.0" fill="#000"/>
<rect x="454.3" y="89.0" width="7.4" height="145.0" fill="#000"/>
<rect x="643.8" y="89.0" width="7.4" height="145.0" fill="#000"/>
<rect x="167.9" y="217.3" width="80.7" height="5.2" fill="#000"/>
<rect x="361.0" y="216.6" width="80.7" height="5.2" fill="#000"/>
<rect x="555.7" y="217.0" width="80.3" height="4.8" fill="#000"/>
<rect x="741.7" y="214.9" width="80.7" height="5.2" fill="#000"/>
<text x="710.5" y="272.4" font-size="34.5" text-anchor="start" font-weight="bold" fill="#000" transform="translate(710.5 272.4) scale(1.0 1.035) translate(-710.5 -272.4)">200 µm</text>
<text x="419.0" y="296.0" font-size="20.5" text-anchor="middle" font-weight="bold" fill="#000">P&lt;0.001</text>
<text x="633.3" y="296.0" font-size="20.5" text-anchor="middle" font-weight="bold" fill="#000">P&lt;0.001</text>
<path d="M297.5 332.4 V318.2 H555.3 V332.4" fill="none" stroke="#000" stroke-width="2.5" stroke-linejoin="miter"/>
<path d="M583.0 332.4 V318.2 H690.0 V332.4" fill="none" stroke="#000" stroke-width="2.5" stroke-linejoin="miter"/>
<line x1="293.6" y1="378.5" x2="293.6" y2="371.0" stroke="#000" stroke-width="1.9"/>
<line x1="271.0" y1="371.0" x2="316.3" y2="371.0" stroke="#000" stroke-width="1.9"/>
<rect x="250.4" y="380.5" width="86.5" height="203.1" fill="#fff" stroke="#000" stroke-width="4"/>
<line x1="431.6" y1="360.5" x2="431.6" y2="352.5" stroke="#000" stroke-width="1.9"/>
<line x1="409.0" y1="352.5" x2="454.3" y2="352.5" stroke="#000" stroke-width="1.9"/>
<rect x="388.4" y="362.5" width="86.5" height="221.1" fill="#96d7d5" stroke="#000" stroke-width="4"/>
<line x1="569.4" y1="424.0" x2="569.4" y2="420.0" stroke="#000" stroke-width="1.9"/>
<line x1="546.7" y1="420.0" x2="592.0" y2="420.0" stroke="#000" stroke-width="1.9"/>
<rect x="526.1" y="426.0" width="86.5" height="157.6" fill="#b8b9ba" stroke="#000" stroke-width="4"/>
<line x1="707.4" y1="376.0" x2="707.4" y2="372.5" stroke="#000" stroke-width="1.9"/>
<line x1="684.8" y1="372.5" x2="730.0" y2="372.5" stroke="#000" stroke-width="1.9"/>
<rect x="664.2" y="378.0" width="86.4" height="205.6" fill="#3b3192" stroke="#000" stroke-width="4"/>
<ellipse cx="293.9" cy="357.0" rx="6.6" ry="5.9" fill="#000"/>
<ellipse cx="281.3" cy="376.4" rx="6.6" ry="5.9" fill="#000"/>
<ellipse cx="306.4" cy="372.7" rx="6.6" ry="5.9" fill="#000"/>
<ellipse cx="306.4" cy="384.8" rx="6.6" ry="5.9" fill="#000"/>
<ellipse cx="293.9" cy="397.3" rx="6.6" ry="5.9" fill="#000"/>
<ellipse cx="431.1" cy="331.9" rx="6.6" ry="5.9" fill="#000"/>
<ellipse cx="408.6" cy="362.2" rx="6.6" ry="5.9" fill="#000"/>
<ellipse cx="431.1" cy="362.2" rx="6.6" ry="5.9" fill="#000"/>
<ellipse cx="431.1" cy="366.0" rx="6.6" ry="5.9" fill="#000"/>
<ellipse cx="455.7" cy="362.2" rx="6.6" ry="5.9" fill="#000"/>
<ellipse cx="431.1" cy="379.5" rx="6.6" ry="5.9" fill="#000"/>
<ellipse cx="557.9" cy="414.6" rx="6.6" ry="5.9" fill="#000"/>
<ellipse cx="580.4" cy="414.6" rx="6.6" ry="5.9" fill="#000"/>
<ellipse cx="544.8" cy="433.0" rx="6.6" ry="5.9" fill="#000"/>
<ellipse cx="569.4" cy="430.3" rx="6.6" ry="5.9" fill="#000"/>
<ellipse cx="592.0" cy="430.3" rx="6.6" ry="5.9" fill="#000"/>
<ellipse cx="666.8" cy="373.2" rx="6.6" ry="5.9" fill="#000"/>
<ellipse cx="686.2" cy="375.9" rx="6.6" ry="5.9" fill="#000"/>
<ellipse cx="707.2" cy="373.2" rx="6.6" ry="5.9" fill="#000"/>
<ellipse cx="727.1" cy="365.4" rx="6.6" ry="5.9" fill="#000"/>
<ellipse cx="727.5" cy="376.4" rx="6.6" ry="5.9" fill="#000"/>
<ellipse cx="746.5" cy="374.3" rx="6.6" ry="5.9" fill="#000"/>
<ellipse cx="707.2" cy="396.8" rx="6.6" ry="5.9" fill="#000"/>
<line x1="202.1" y1="325.0" x2="202.1" y2="585.5" stroke="#000" stroke-width="3.8"/>
<line x1="187.0" y1="583.6" x2="798.0" y2="583.6" stroke="#000" stroke-width="3.8"/>
<line x1="187.1" y1="348.0" x2="202.1" y2="348.0" stroke="#000" stroke-width="2.6"/>
<text x="184.1" y="355.7" font-size="21.5" text-anchor="end" font-weight="bold" fill="#000">20</text>
<line x1="187.1" y1="406.8" x2="202.1" y2="406.8" stroke="#000" stroke-width="2.6"/>
<text x="184.1" y="414.5" font-size="21.5" text-anchor="end" font-weight="bold" fill="#000">15</text>
<line x1="187.1" y1="466.0" x2="202.1" y2="466.0" stroke="#000" stroke-width="2.6"/>
<text x="184.1" y="473.7" font-size="21.5" text-anchor="end" font-weight="bold" fill="#000">10</text>
<line x1="187.1" y1="524.8" x2="202.1" y2="524.8" stroke="#000" stroke-width="2.6"/>
<text x="184.1" y="532.5" font-size="21.5" text-anchor="end" font-weight="bold" fill="#000">5</text>
<line x1="187.1" y1="583.6" x2="202.1" y2="583.6" stroke="#000" stroke-width="2.6"/>
<text x="184.1" y="591.3" font-size="21.5" text-anchor="end" font-weight="bold" fill="#000">0</text>
<text x="121.2" y="572" font-size="34" font-weight="bold" transform="translate(121.2 572) rotate(-90) scale(1 1.035) translate(-121.2 -572)">Diameter<tspan font-weight="normal" font-family='"Liberation Sans", "Noto Sans CJK SC", sans-serif'>（</tspan>µm<tspan font-weight="normal" font-family='"Liberation Sans", "Noto Sans CJK SC", sans-serif'>）</tspan></text>
<text x="201.2" y="621.5" font-size="34.5" text-anchor="end" font-weight="bold" fill="#000" transform="translate(201.2 621.5) scale(1.0 1.035) translate(-201.2 -621.5)">Myonectin</text>
<text x="191.2" y="672.5" font-size="34.5" text-anchor="end" font-weight="bold" fill="#000" transform="translate(191.2 672.5) scale(1.0 1.035) translate(-191.2 -672.5)">DEX</text>
<line x1="275.6" y1="617.0" x2="296.4" y2="617.0" stroke="#000" stroke-width="2.2"/>
<line x1="417.9" y1="620.2" x2="438.4" y2="620.2" stroke="#000" stroke-width="2.2"/>
<line x1="428.2" y1="610.0" x2="428.2" y2="630.5" stroke="#000" stroke-width="2.2"/>
<line x1="562.6" y1="617.5" x2="583.4" y2="617.5" stroke="#000" stroke-width="2.2"/>
<line x1="700.5" y1="621.5" x2="721.0" y2="621.5" stroke="#000" stroke-width="2.2"/>
<line x1="710.7" y1="611.2" x2="710.7" y2="631.8" stroke="#000" stroke-width="2.2"/>
<line x1="275.6" y1="657.6" x2="296.4" y2="657.6" stroke="#000" stroke-width="2.2"/>
<line x1="417.8" y1="660.6" x2="438.6" y2="660.6" stroke="#000" stroke-width="2.2"/>
<line x1="563.2" y1="661.0" x2="583.8" y2="661.0" stroke="#000" stroke-width="2.2"/>
<line x1="573.5" y1="650.8" x2="573.5" y2="671.2" stroke="#000" stroke-width="2.2"/>
<line x1="700.2" y1="662.5" x2="720.8" y2="662.5" stroke="#000" stroke-width="2.2"/>
<line x1="710.5" y1="652.2" x2="710.5" y2="672.8" stroke="#000" stroke-width="2.2"/>
<text x="859.0" y="42.5" font-size="53" text-anchor="start" font-weight="bold" fill="#000" transform="translate(859.0 42.5) scale(1.0 1.035) translate(-859.0 -42.5)">b</text>
<clipPath id="c947"><rect x="1095.3" y="0.0" width="353.9" height="64.6"/></clipPath>
<g clip-path="url(#c947)">
<rect x="1095.3" y="0.0" width="353.9" height="64.6" fill="#d4d4d4"/>
<g filter="url(#blur4)">
<rect x="1099.0" y="-10.0" width="18.0" height="84.6" fill="#e6e6e6"/>
<rect x="1179.0" y="-10.0" width="25.0" height="84.6" fill="#e4e4e4"/>
<rect x="1263.0" y="-10.0" width="21.0" height="84.6" fill="#e4e4e4"/>
<rect x="1348.0" y="-10.0" width="18.0" height="84.6" fill="#e2e2e2"/>
<rect x="1430.0" y="-10.0" width="20.0" height="84.6" fill="#ececec"/>
</g>
<g filter="url(#bl6)" opacity="0.3">
<rect x="1113.9" y="24.2" width="68.2" height="17.6" rx="4.0" fill="#8a8a8a"/>
<rect x="1201.1" y="22.0" width="63.8" height="22.0" rx="5.0" fill="#5e5e5e"/>
<rect x="1284.1" y="26.2" width="63.8" height="17.6" rx="4.0" fill="#7e7e7e"/>
<rect x="1363.9" y="24.1" width="68.2" height="19.8" rx="4.5" fill="#5a5a5a"/>
<rect x="1411.2" y="23.1" width="17.6" height="19.8" rx="4.5" fill="#333"/>
</g>
<g filter="url(#bl)">
<rect x="1117.0" y="29.0" width="62.0" height="8.0" rx="4.0" fill="#8a8a8a"/>
<rect x="1204.0" y="28.0" width="58.0" height="10.0" rx="5.0" fill="#5e5e5e"/>
<rect x="1287.0" y="31.0" width="58.0" height="8.0" rx="4.0" fill="#7e7e7e"/>
<rect x="1367.0" y="29.5" width="62.0" height="9.0" rx="4.5" fill="#5a5a5a"/>
<rect x="1412.0" y="28.5" width="16.0" height="9.0" rx="4.5" fill="#333"/>
</g></g>
<rect x="1097.5" y="2.2" width="349.4" height="60.1" fill="none" stroke="#000" stroke-width="4.5"/>
<clipPath id="c972"><rect x="1095.3" y="69.6" width="353.9" height="60.1"/></clipPath>
<g clip-path="url(#c972)">
<rect x="1095.3" y="69.6" width="353.9" height="60.1" fill="#dedede"/>
<g filter="url(#blur4)">
<rect x="1099.0" y="59.6" width="11.0" height="80.1" fill="#f4f4f4"/>
<rect x="1178.0" y="59.6" width="19.0" height="80.1" fill="#f6f6f6"/>
<rect x="1263.0" y="59.6" width="17.0" height="80.1" fill="#f2f2f2"/>
<rect x="1348.0" y="59.6" width="14.0" height="80.1" fill="#f4f4f4"/>
<rect x="1430.0" y="59.6" width="20.0" height="80.1" fill="#f4f4f4"/>
</g>
<g filter="url(#bl6)" opacity="0.3">
<rect x="1104.8" y="89.4" width="70.4" height="24.2" rx="5.5" fill="#a6a6a6"/>
<rect x="1196.0" y="88.6" width="66.0" height="30.8" rx="7.0" fill="#6e6e6e"/>
<rect x="1281.0" y="92.8" width="66.0" height="26.4" rx="6.0" fill="#858585"/>
<rect x="1364.9" y="92.7" width="68.2" height="28.6" rx="6.5" fill="#7a7a7a"/>
</g>
<g filter="url(#bl)">
<rect x="1108.0" y="96.0" width="64.0" height="11.0" rx="5.5" fill="#a6a6a6"/>
<rect x="1199.0" y="97.0" width="60.0" height="14.0" rx="7.0" fill="#6e6e6e"/>
<rect x="1284.0" y="100.0" width="60.0" height="12.0" rx="6.0" fill="#858585"/>
<rect x="1368.0" y="100.5" width="62.0" height="13.0" rx="6.5" fill="#7a7a7a"/>
</g></g>
<rect x="1097.5" y="71.8" width="349.4" height="55.6" fill="none" stroke="#000" stroke-width="4.5"/>
<clipPath id="c995"><rect x="1095.3" y="135.9" width="353.9" height="68.5"/></clipPath>
<g clip-path="url(#c995)">
<rect x="1095.3" y="135.9" width="353.9" height="68.5" fill="#d2d4d4"/>
<g filter="url(#bl6)" opacity="0.3">
<rect x="1105.7" y="163.6" width="72.6" height="17.6" rx="4.0" fill="#858585"/>
<rect x="1193.7" y="163.7" width="72.6" height="22.0" rx="5.0" fill="#151515"/>
<rect x="1281.0" y="168.1" width="66.0" height="19.8" rx="4.5" fill="#4a4a4a"/>
<rect x="1361.7" y="166.0" width="72.6" height="22.0" rx="5.0" fill="#3a3a3a"/>
</g>
<g filter="url(#bl)">
<rect x="1109.0" y="168.4" width="66.0" height="8.0" rx="4.0" fill="#858585"/>
<rect x="1197.0" y="169.7" width="66.0" height="10.0" rx="5.0" fill="#151515"/>
<rect x="1284.0" y="173.5" width="60.0" height="9.0" rx="4.5" fill="#4a4a4a"/>
<rect x="1365.0" y="172.0" width="66.0" height="10.0" rx="5.0" fill="#3a3a3a"/>
</g></g>
<rect x="1097.5" y="138.2" width="349.4" height="64.0" fill="none" stroke="#000" stroke-width="4.5"/>
<clipPath id="c1011"><rect x="1095.3" y="209.0" width="353.9" height="66.2"/></clipPath>
<g clip-path="url(#c1011)">
<rect x="1095.3" y="209.0" width="353.9" height="66.2" fill="#e6e6e6"/>
<g filter="url(#blur4)">
<rect x="1099.0" y="199.0" width="7.0" height="86.2" fill="#f0f0f0"/>
<rect x="1178.0" y="199.0" width="14.0" height="86.2" fill="#f2f2f2"/>
<rect x="1266.0" y="199.0" width="15.0" height="86.2" fill="#f0f0f0"/>
<rect x="1351.0" y="199.0" width="15.0" height="86.2" fill="#f2f2f2"/>
<rect x="1437.0" y="199.0" width="13.0" height="86.2" fill="#f0f0f0"/>
</g>
<g filter="url(#blur4)">
<rect x="1106.0" y="205.0" width="72.0" height="75.0" fill="#d2d2d2"/>
<rect x="1192.0" y="205.0" width="74.0" height="75.0" fill="#d2d2d2"/>
<rect x="1281.0" y="205.0" width="70.0" height="75.0" fill="#d2d2d2"/>
<rect x="1367.0" y="205.0" width="70.0" height="75.0" fill="#d2d2d2"/>
</g>
<g filter="url(#bl6)" opacity="0.18">
<rect x="1103.5" y="209.2" width="77.0" height="61.6" rx="14.0" fill="#2a2a2a"/>
<rect x="1189.4" y="209.2" width="79.2" height="61.6" rx="14.0" fill="#2c2c2c"/>
<rect x="1278.6" y="211.2" width="74.8" height="61.6" rx="14.0" fill="#262626"/>
<rect x="1364.6" y="212.2" width="74.8" height="61.6" rx="14.0" fill="#1e1e1e"/>
<rect x="1414.1" y="223.0" width="19.8" height="44.0" rx="9.0" fill="#080808"/>
</g>
<g filter="url(#bl5)">
<rect x="1107.0" y="226.0" width="70.0" height="28.0" rx="14.0" fill="#2a2a2a"/>
<rect x="1193.0" y="226.0" width="72.0" height="28.0" rx="14.0" fill="#2c2c2c"/>
<rect x="1282.0" y="228.0" width="68.0" height="28.0" rx="14.0" fill="#262626"/>
<rect x="1368.0" y="229.0" width="68.0" height="28.0" rx="14.0" fill="#1e1e1e"/>
<rect x="1415.0" y="235.0" width="18.0" height="20.0" rx="9.0" fill="#080808"/>
</g></g>
<rect x="1097.5" y="211.2" width="349.4" height="61.7" fill="none" stroke="#000" stroke-width="4.5"/>
<text x="1075.7" y="42.5" font-size="34.5" text-anchor="end" font-weight="bold" fill="#000" transform="translate(1075.7 42.5) scale(1.0 1.035) translate(-1075.7 -42.5)">PGC1α</text>
<text x="1075.7" y="114.0" font-size="34.5" text-anchor="end" font-weight="bold" fill="#000" transform="translate(1075.7 114.0) scale(1.0 1.035) translate(-1075.7 -114.0)">PGC1α4</text>
<text x="1068.2" y="184.0" font-size="34.5" text-anchor="end" font-weight="bold" fill="#000" transform="translate(1068.2 184.0) scale(1.0 1.035) translate(-1068.2 -184.0)">IGF1</text>
<text x="1070.7" y="255.0" font-size="34.5" text-anchor="end" font-weight="bold" fill="#000" transform="translate(1070.7 255.0) scale(1.0 1.035) translate(-1070.7 -255.0)">tubulin</text>
<text x="1084.2" y="321.5" font-size="34.5" text-anchor="end" font-weight="bold" fill="#000" transform="translate(1084.2 321.5) scale(1.0 1.035) translate(-1084.2 -321.5)">Myonectin</text>
<text x="1077.2" y="369.0" font-size="34.5" text-anchor="end" font-weight="bold" fill="#000" transform="translate(1077.2 369.0) scale(1.0 1.035) translate(-1077.2 -369.0)">DEX</text>
<line x1="1133.2" y1="314.0" x2="1153.8" y2="314.0" stroke="#000" stroke-width="2.2"/>
<line x1="1218.2" y1="317.0" x2="1238.8" y2="317.0" stroke="#000" stroke-width="2.2"/>
<line x1="1228.5" y1="306.8" x2="1228.5" y2="327.2" stroke="#000" stroke-width="2.2"/>
<line x1="1305.7" y1="313.0" x2="1326.3" y2="313.0" stroke="#000" stroke-width="2.2"/>
<line x1="1393.2" y1="314.0" x2="1413.8" y2="314.0" stroke="#000" stroke-width="2.2"/>
<line x1="1403.5" y1="303.8" x2="1403.5" y2="324.2" stroke="#000" stroke-width="2.2"/>
<line x1="1133.2" y1="355.0" x2="1153.8" y2="355.0" stroke="#000" stroke-width="2.2"/>
<line x1="1218.2" y1="356.0" x2="1238.8" y2="356.0" stroke="#000" stroke-width="2.2"/>
<line x1="1305.8" y1="354.0" x2="1326.2" y2="354.0" stroke="#000" stroke-width="2.2"/>
<line x1="1316.0" y1="343.8" x2="1316.0" y2="364.2" stroke="#000" stroke-width="2.2"/>
<line x1="1393.2" y1="355.0" x2="1413.8" y2="355.0" stroke="#000" stroke-width="2.2"/>
<line x1="1403.5" y1="344.8" x2="1403.5" y2="365.2" stroke="#000" stroke-width="2.2"/>
<rect x="1478.0" y="71.8" width="70.8" height="28.5" fill="#fff" stroke="#000" stroke-width="4.5"/>
<rect x="1478.0" y="107.2" width="70.8" height="28.0" fill="#7ecdcb" stroke="#000" stroke-width="4.5"/>
<rect x="1478.0" y="141.8" width="70.8" height="28.5" fill="#bfc1c2" stroke="#000" stroke-width="4.5"/>
<rect x="1478.0" y="176.8" width="70.8" height="28.0" fill="#3a3192" stroke="#000" stroke-width="4.5"/>
<text x="1565.0" y="97.5" font-size="30.8" text-anchor="start" font-weight="bold" fill="#000" transform="translate(1565.0 97.5) scale(1.0 1.035) translate(-1565.0 -97.5)">Vehicle</text>
<text x="1564.0" y="130.0" font-size="30.8" text-anchor="start" font-weight="bold" fill="#000" transform="translate(1564.0 130.0) scale(1.0 1.035) translate(-1564.0 -130.0)">Myonectin</text>
<text x="1565.0" y="167.0" font-size="30.8" text-anchor="start" font-weight="bold" fill="#000" transform="translate(1565.0 167.0) scale(1.0 1.035) translate(-1565.0 -167.0)">Vehicle / DEX</text>
<text x="1564.5" y="202.0" font-size="30.2" text-anchor="start" font-weight="bold" fill="#000" transform="translate(1564.5 202.0) scale(1.0 1.035) translate(-1564.5 -202.0)">Myonectin / DEX</text>
<line x1="1011.9" y1="590.0" x2="1011.9" y2="584.0" stroke="#000" stroke-width="1.7"/>
<line x1="1005.3" y1="584.0" x2="1018.4" y2="584.0" stroke="#000" stroke-width="1.7"/>
<rect x="1000.2" y="591.5" width="23.2" height="38.0" fill="#fff" stroke="#000" stroke-width="3"/>
<line x1="1053.0" y1="530.5" x2="1053.0" y2="525.0" stroke="#000" stroke-width="1.7"/>
<line x1="1046.5" y1="525.0" x2="1059.5" y2="525.0" stroke="#000" stroke-width="1.7"/>
<rect x="1041.5" y="532.0" width="23.0" height="97.5" fill="#96d7d5" stroke="#000" stroke-width="3"/>
<line x1="1094.2" y1="597.5" x2="1094.2" y2="586.0" stroke="#000" stroke-width="1.7"/>
<line x1="1087.6" y1="586.0" x2="1100.9" y2="586.0" stroke="#000" stroke-width="1.7"/>
<rect x="1082.5" y="599.0" width="23.5" height="30.5" fill="#b8b9ba" stroke="#000" stroke-width="3"/>
<line x1="1135.8" y1="526.0" x2="1135.8" y2="505.5" stroke="#000" stroke-width="1.7"/>
<line x1="1129.1" y1="505.5" x2="1142.4" y2="505.5" stroke="#000" stroke-width="1.7"/>
<rect x="1124.0" y="527.5" width="23.5" height="102.0" fill="#3b3192" stroke="#000" stroke-width="3"/>
<circle cx="1011.8" cy="573.0" r="4.4" fill="#000"/>
<circle cx="1011.8" cy="587.5" r="4.4" fill="#000"/>
<circle cx="1002.5" cy="600.0" r="4.4" fill="#000"/>
<circle cx="1022.0" cy="598.8" r="4.4" fill="#000"/>
<circle cx="1053.0" cy="515.8" r="4.4" fill="#000"/>
<circle cx="1044.0" cy="530.0" r="4.4" fill="#000"/>
<circle cx="1044.0" cy="540.0" r="4.4" fill="#000"/>
<circle cx="1063.0" cy="536.0" r="4.4" fill="#000"/>
<circle cx="1094.0" cy="566.0" r="4.4" fill="#000"/>
<circle cx="1085.0" cy="597.5" r="4.4" fill="#000"/>
<circle cx="1104.0" cy="602.5" r="4.4" fill="#000"/>
<circle cx="1094.0" cy="621.0" r="4.4" fill="#000"/>
<circle cx="1135.5" cy="467.0" r="4.4" fill="#000"/>
<circle cx="1135.5" cy="532.0" r="4.4" fill="#000"/>
<circle cx="1126.5" cy="553.0" r="4.4" fill="#000"/>
<circle cx="1144.0" cy="553.0" r="4.4" fill="#000"/>
<line x1="985.0" y1="451.0" x2="985.0" y2="630.6" stroke="#000" stroke-width="2.2"/>
<line x1="975.5" y1="629.5" x2="1163.0" y2="629.5" stroke="#000" stroke-width="2.2"/>
<line x1="976.0" y1="471.0" x2="985.0" y2="471.0" stroke="#000" stroke-width="1.6"/>
<text x="973.4" y="476.9" font-size="16.5" text-anchor="end" font-weight="bold" fill="#000">4</text>
<line x1="976.0" y1="511.0" x2="985.0" y2="511.0" stroke="#000" stroke-width="1.6"/>
<text x="973.4" y="516.9" font-size="16.5" text-anchor="end" font-weight="bold" fill="#000">3</text>
<line x1="976.0" y1="550.5" x2="985.0" y2="550.5" stroke="#000" stroke-width="1.6"/>
<text x="973.4" y="556.4" font-size="16.5" text-anchor="end" font-weight="bold" fill="#000">2</text>
<line x1="976.0" y1="590.0" x2="985.0" y2="590.0" stroke="#000" stroke-width="1.6"/>
<text x="973.4" y="595.9" font-size="16.5" text-anchor="end" font-weight="bold" fill="#000">1</text>
<line x1="976.0" y1="629.5" x2="985.0" y2="629.5" stroke="#000" stroke-width="1.6"/>
<text x="973.4" y="635.4" font-size="16.5" text-anchor="end" font-weight="bold" fill="#000">0</text>
<path d="M1011.0 460.0 V448.8 H1052.0 V460.0" fill="none" stroke="#000" stroke-width="2" stroke-linejoin="miter"/>
<path d="M1092.5 460.0 V448.8 H1135.5 V460.0" fill="none" stroke="#000" stroke-width="2" stroke-linejoin="miter"/>
<text x="1014.5" y="429.5" font-size="20.8" text-anchor="middle" font-weight="bold" fill="#000">P=0.023</text>
<text x="1117.0" y="429.5" font-size="20.8" text-anchor="middle" font-weight="bold" fill="#000">P=0.007</text>
<text x="905.0" y="642.0" font-size="32.5" text-anchor="start" font-weight="bold" fill="#000" transform="translate(905.0 642.0) rotate(-90) scale(1.0 1.035) translate(-905.0 -642.0)">PGC1α/tubulin</text>
<text x="945.0" y="576.0" font-size="32.5" text-anchor="start" font-weight="bold" fill="#000" transform="translate(945.0 576.0) rotate(-90) scale(1.0 1.035) translate(-945.0 -576.0)">levels</text>
<line x1="1303.2" y1="589.0" x2="1303.2" y2="586.0" stroke="#000" stroke-width="1.7"/>
<line x1="1296.4" y1="586.0" x2="1310.1" y2="586.0" stroke="#000" stroke-width="1.7"/>
<rect x="1291.0" y="590.5" width="24.5" height="39.0" fill="#fff" stroke="#000" stroke-width="3"/>
<line x1="1344.5" y1="537.0" x2="1344.5" y2="526.5" stroke="#000" stroke-width="1.7"/>
<line x1="1337.8" y1="526.5" x2="1351.2" y2="526.5" stroke="#000" stroke-width="1.7"/>
<rect x="1332.5" y="538.5" width="24.0" height="91.0" fill="#96d7d5" stroke="#000" stroke-width="3"/>
<line x1="1386.2" y1="599.0" x2="1386.2" y2="588.0" stroke="#000" stroke-width="1.7"/>
<line x1="1379.4" y1="588.0" x2="1393.1" y2="588.0" stroke="#000" stroke-width="1.7"/>
<rect x="1374.0" y="600.5" width="24.5" height="29.0" fill="#b8b9ba" stroke="#000" stroke-width="3"/>
<line x1="1428.0" y1="535.5" x2="1428.0" y2="515.5" stroke="#000" stroke-width="1.7"/>
<line x1="1421.2" y1="515.5" x2="1434.8" y2="515.5" stroke="#000" stroke-width="1.7"/>
<rect x="1416.0" y="537.0" width="24.0" height="92.5" fill="#3b3192" stroke="#000" stroke-width="3"/>
<circle cx="1292.0" cy="597.0" r="4.2" fill="#000"/>
<circle cx="1303.0" cy="586.0" r="4.2" fill="#000"/>
<circle cx="1314.0" cy="582.5" r="4.2" fill="#000"/>
<circle cx="1312.5" cy="590.8" r="4.2" fill="#000"/>
<circle cx="1345.0" cy="518.8" r="4.2" fill="#000"/>
<circle cx="1339.5" cy="527.0" r="4.2" fill="#000"/>
<circle cx="1350.5" cy="533.8" r="4.2" fill="#000"/>
<circle cx="1345.0" cy="565.0" r="4.2" fill="#000"/>
<circle cx="1386.0" cy="568.0" r="4.2" fill="#000"/>
<circle cx="1386.0" cy="600.5" r="4.2" fill="#000"/>
<circle cx="1380.8" cy="615.0" r="4.2" fill="#000"/>
<circle cx="1392.0" cy="612.0" r="4.2" fill="#000"/>
<circle cx="1428.0" cy="481.0" r="4.2" fill="#000"/>
<circle cx="1428.0" cy="531.0" r="4.2" fill="#000"/>
<circle cx="1422.5" cy="567.5" r="4.2" fill="#000"/>
<circle cx="1433.8" cy="562.0" r="4.2" fill="#000"/>
<line x1="1276.2" y1="470.0" x2="1276.2" y2="630.6" stroke="#000" stroke-width="2.2"/>
<line x1="1267.0" y1="629.5" x2="1455.5" y2="629.5" stroke="#000" stroke-width="2.2"/>
<line x1="1270.2" y1="492.5" x2="1276.2" y2="492.5" stroke="#000" stroke-width="1.6"/>
<text x="1268.5" y="497.4" font-size="13.7" text-anchor="end" font-weight="bold" fill="#000">3</text>
<line x1="1270.2" y1="538.2" x2="1276.2" y2="538.2" stroke="#000" stroke-width="1.6"/>
<text x="1268.5" y="543.2" font-size="13.7" text-anchor="end" font-weight="bold" fill="#000">2</text>
<line x1="1270.2" y1="584.0" x2="1276.2" y2="584.0" stroke="#000" stroke-width="1.6"/>
<text x="1268.5" y="588.9" font-size="13.7" text-anchor="end" font-weight="bold" fill="#000">1</text>
<line x1="1270.2" y1="629.5" x2="1276.2" y2="629.5" stroke="#000" stroke-width="1.6"/>
<text x="1268.5" y="634.4" font-size="13.7" text-anchor="end" font-weight="bold" fill="#000">0</text>
<path d="M1303.8 473.8 V463.0 H1338.8 V473.8" fill="none" stroke="#000" stroke-width="2" stroke-linejoin="miter"/>
<path d="M1390.8 474.5 V464.0 H1426.2 V474.5" fill="none" stroke="#000" stroke-width="2" stroke-linejoin="miter"/>
<text x="1310.5" y="442.0" font-size="20.8" text-anchor="middle" font-weight="bold" fill="#000">P=0.046</text>
<text x="1413.2" y="442.0" font-size="20.8" text-anchor="middle" font-weight="bold" fill="#000">P=0.016</text>
<text x="1204.2" y="651.0" font-size="32.5" text-anchor="start" font-weight="bold" fill="#000" transform="translate(1204.2 651.0) rotate(-90) scale(1.0 1.035) translate(-1204.2 -651.0)">PGC1α4/tubulin</text>
<text x="1245.1" y="575.0" font-size="32.5" text-anchor="start" font-weight="bold" fill="#000" transform="translate(1245.1 575.0) rotate(-90) scale(1.0 1.035) translate(-1245.1 -575.0)">levels</text>
<line x1="1619.0" y1="581.9" x2="1619.0" y2="574.0" stroke="#000" stroke-width="1.7"/>
<line x1="1611.8" y1="574.0" x2="1626.3" y2="574.0" stroke="#000" stroke-width="1.7"/>
<rect x="1606.0" y="583.4" width="26.1" height="38.4" fill="#fff" stroke="#000" stroke-width="3"/>
<line x1="1663.8" y1="497.0" x2="1663.8" y2="487.9" stroke="#000" stroke-width="1.7"/>
<line x1="1656.7" y1="487.9" x2="1671.0" y2="487.9" stroke="#000" stroke-width="1.7"/>
<rect x="1651.0" y="498.5" width="25.7" height="123.3" fill="#96d7d5" stroke="#000" stroke-width="3"/>
<line x1="1708.8" y1="572.8" x2="1708.8" y2="557.8" stroke="#000" stroke-width="1.7"/>
<line x1="1701.6" y1="557.8" x2="1716.1" y2="557.8" stroke="#000" stroke-width="1.7"/>
<rect x="1695.9" y="574.3" width="25.9" height="47.5" fill="#b8b9ba" stroke="#000" stroke-width="3"/>
<line x1="1753.8" y1="506.3" x2="1753.8" y2="488.4" stroke="#000" stroke-width="1.7"/>
<line x1="1746.6" y1="488.4" x2="1761.1" y2="488.4" stroke="#000" stroke-width="1.7"/>
<rect x="1740.9" y="507.8" width="25.9" height="114.0" fill="#3b3192" stroke="#000" stroke-width="3"/>
<circle cx="1618.8" cy="564.2" r="4.4" fill="#000"/>
<circle cx="1612.7" cy="577.5" r="4.4" fill="#000"/>
<circle cx="1624.8" cy="584.2" r="4.4" fill="#000"/>
<circle cx="1618.8" cy="599.0" r="4.4" fill="#000"/>
<circle cx="1663.8" cy="473.0" r="4.4" fill="#000"/>
<circle cx="1663.8" cy="494.0" r="4.4" fill="#000"/>
<circle cx="1657.3" cy="509.1" r="4.4" fill="#000"/>
<circle cx="1670.4" cy="509.1" r="4.4" fill="#000"/>
<circle cx="1709.0" cy="541.4" r="4.4" fill="#000"/>
<circle cx="1709.0" cy="560.4" r="4.4" fill="#000"/>
<circle cx="1709.0" cy="579.4" r="4.4" fill="#000"/>
<circle cx="1709.0" cy="606.6" r="4.4" fill="#000"/>
<circle cx="1753.7" cy="470.2" r="4.4" fill="#000"/>
<circle cx="1753.7" cy="484.0" r="4.4" fill="#000"/>
<circle cx="1753.7" cy="524.3" r="4.4" fill="#000"/>
<circle cx="1753.7" cy="543.3" r="4.4" fill="#000"/>
<line x1="1589.3" y1="467.9" x2="1589.3" y2="622.9" stroke="#000" stroke-width="2.2"/>
<line x1="1582.0" y1="621.8" x2="1784.0" y2="621.8" stroke="#000" stroke-width="2.2"/>
<line x1="1583.3" y1="489.8" x2="1589.3" y2="489.8" stroke="#000" stroke-width="1.6"/>
<text x="1580.9" y="494.7" font-size="13.7" text-anchor="end" font-weight="bold" fill="#000">3</text>
<line x1="1583.3" y1="533.8" x2="1589.3" y2="533.8" stroke="#000" stroke-width="1.6"/>
<text x="1580.9" y="538.7" font-size="13.7" text-anchor="end" font-weight="bold" fill="#000">2</text>
<line x1="1583.3" y1="577.7" x2="1589.3" y2="577.7" stroke="#000" stroke-width="1.6"/>
<text x="1580.9" y="582.6" font-size="13.7" text-anchor="end" font-weight="bold" fill="#000">1</text>
<line x1="1583.3" y1="621.8" x2="1589.3" y2="621.8" stroke="#000" stroke-width="1.6"/>
<text x="1580.9" y="626.7" font-size="13.7" text-anchor="end" font-weight="bold" fill="#000">0</text>
<path d="M1616.3 462.2 V452.0 H1662.5 V462.2" fill="none" stroke="#000" stroke-width="2" stroke-linejoin="miter"/>
<path d="M1705.6 462.2 V452.0 H1752.7 V462.2" fill="none" stroke="#000" stroke-width="2" stroke-linejoin="miter"/>
<text x="1626.4" y="432.4" font-size="20.8" text-anchor="middle" font-weight="bold" fill="#000">P=0.002</text>
<text x="1728.2" y="432.4" font-size="20.8" text-anchor="middle" font-weight="bold" fill="#000">P=0.011</text>
<text x="1517.0" y="638.0" font-size="32.5" text-anchor="start" font-weight="bold" fill="#000" transform="translate(1517.0 638.0) rotate(-90) scale(1.0 1.035) translate(-1517.0 -638.0)">IGF1/tubulin</text>
<text x="1557.0" y="588.7" font-size="32.5" text-anchor="start" font-weight="bold" fill="#000" transform="translate(1557.0 588.7) rotate(-90) scale(1.0 1.035) translate(-1557.0 -588.7)">levels</text>
<text x="5.4" y="743.0" font-size="54" text-anchor="start" font-weight="bold" fill="#000" transform="translate(5.4 743.0) scale(1.08 1.035) translate(-5.4 -743.0)">c</text>
<clipPath id="c1203"><rect x="202.3" y="757.3" width="385.4" height="65.3"/></clipPath>
<g clip-path="url(#c1203)">
<rect x="202.3" y="757.3" width="385.4" height="65.3" fill="#d8dadb"/>
<g filter="url(#bl6)" opacity="0.3">
<rect x="219.2" y="776.8" width="61.6" height="22.0" rx="5.0" fill="#c4c4c4"/>
<rect x="293.2" y="774.6" width="60.5" height="26.4" rx="6.0" fill="#4a4a4a"/>
<rect x="365.1" y="775.3" width="62.7" height="26.4" rx="6.0" fill="#3a3a3a"/>
<rect x="408.3" y="773.6" width="15.4" height="30.8" rx="7.0" fill="#111"/>
<rect x="437.1" y="765.8" width="64.9" height="44.0" rx="10.0" fill="#080808"/>
<rect x="507.8" y="770.2" width="70.4" height="35.2" rx="8.0" fill="#0a0a0a"/>
</g>
<g filter="url(#bl)">
<rect x="222.0" y="782.8" width="56.0" height="10.0" rx="5.0" fill="#c4c4c4"/>
<rect x="296.0" y="781.8" width="55.0" height="12.0" rx="6.0" fill="#4a4a4a"/>
<rect x="368.0" y="782.5" width="57.0" height="12.0" rx="6.0" fill="#3a3a3a"/>
<rect x="409.0" y="782.0" width="14.0" height="14.0" rx="7.0" fill="#111"/>
<rect x="440.0" y="777.8" width="59.0" height="20.0" rx="10.0" fill="#080808"/>
<rect x="511.0" y="779.8" width="64.0" height="16.0" rx="8.0" fill="#0a0a0a"/>
</g></g>
<rect x="204.6" y="759.5" width="380.9" height="60.8" fill="none" stroke="#000" stroke-width="4.5"/>
<clipPath id="c1223"><rect x="202.3" y="828.4" width="385.4" height="67.3"/></clipPath>
<g clip-path="url(#c1223)">
<rect x="202.3" y="828.4" width="385.4" height="67.3" fill="#dcdede"/>
<g filter="url(#bl6)" opacity="0.3">
<rect x="223.5" y="856.6" width="66.0" height="30.8" rx="7.0" fill="#6a6a6a"/>
<rect x="297.5" y="856.6" width="61.6" height="30.8" rx="7.0" fill="#6a6a6a"/>
<rect x="367.1" y="857.6" width="63.8" height="30.8" rx="7.0" fill="#6a6a6a"/>
<rect x="438.1" y="857.6" width="63.8" height="30.8" rx="7.0" fill="#6a6a6a"/>
<rect x="510.5" y="856.6" width="68.2" height="30.8" rx="7.0" fill="#666"/>
<rect x="222.4" y="839.1" width="68.2" height="48.4" rx="11.0" fill="#050505"/>
<rect x="296.9" y="839.1" width="62.7" height="48.4" rx="11.0" fill="#050505"/>
<rect x="366.0" y="839.8" width="66.0" height="48.4" rx="11.0" fill="#050505"/>
<rect x="437.6" y="843.0" width="64.9" height="44.0" rx="10.0" fill="#050505"/>
<rect x="510.0" y="839.8" width="69.3" height="48.4" rx="11.0" fill="#050505"/>
</g>
<g filter="url(#bl)">
<rect x="226.5" y="865.0" width="60.0" height="14.0" rx="7.0" fill="#6a6a6a"/>
<rect x="300.3" y="865.0" width="56.0" height="14.0" rx="7.0" fill="#6a6a6a"/>
<rect x="370.0" y="866.0" width="58.0" height="14.0" rx="7.0" fill="#6a6a6a"/>
<rect x="441.0" y="866.0" width="58.0" height="14.0" rx="7.0" fill="#6a6a6a"/>
<rect x="513.6" y="865.0" width="62.0" height="14.0" rx="7.0" fill="#666"/>
<rect x="225.5" y="852.3" width="62.0" height="22.0" rx="11.0" fill="#050505"/>
<rect x="299.8" y="852.3" width="57.0" height="22.0" rx="11.0" fill="#050505"/>
<rect x="369.0" y="853.0" width="60.0" height="22.0" rx="11.0" fill="#050505"/>
<rect x="440.5" y="855.0" width="59.0" height="20.0" rx="10.0" fill="#050505"/>
<rect x="513.1" y="853.0" width="63.0" height="22.0" rx="11.0" fill="#050505"/>
</g></g>
<rect x="204.6" y="830.6" width="380.9" height="62.8" fill="none" stroke="#000" stroke-width="4.5"/>
<clipPath id="c1251"><rect x="202.3" y="900.5" width="385.4" height="65.8"/></clipPath>
<g clip-path="url(#c1251)">
<rect x="202.3" y="900.5" width="385.4" height="65.8" fill="#d8d8d8"/>
<g filter="url(#blur4)">
<rect x="296.0" y="905.0" width="55.0" height="57.0" fill="#c8c8c8"/>
<rect x="368.0" y="905.0" width="57.0" height="57.0" fill="#c8c8c8"/>
<rect x="442.0" y="905.0" width="56.0" height="57.0" fill="#c8c8c8"/>
<rect x="514.0" y="905.0" width="58.0" height="57.0" fill="#c8c8c8"/>
</g>
<g filter="url(#bl6)" opacity="0.3">
<rect x="214.8" y="921.8" width="60.5" height="26.4" rx="6.0" fill="#c0c0c0"/>
<rect x="293.2" y="929.2" width="60.5" height="17.6" rx="4.0" fill="#909090"/>
<rect x="365.1" y="929.2" width="62.7" height="17.6" rx="4.0" fill="#909090"/>
<rect x="441.4" y="918.3" width="57.2" height="26.4" rx="6.0" fill="#5e5e5e"/>
<rect x="512.5" y="913.6" width="55.0" height="30.8" rx="7.0" fill="#9a9a9a"/>
</g>
<g filter="url(#bl)">
<rect x="217.5" y="929.0" width="55.0" height="12.0" rx="6.0" fill="#c0c0c0"/>
<rect x="296.0" y="934.0" width="55.0" height="8.0" rx="4.0" fill="#909090"/>
<rect x="368.0" y="934.0" width="57.0" height="8.0" rx="4.0" fill="#909090"/>
<rect x="444.0" y="925.5" width="52.0" height="12.0" rx="6.0" fill="#5e5e5e"/>
<rect x="515.0" y="922.0" width="50.0" height="14.0" rx="7.0" fill="#9a9a9a"/>
</g></g>
<rect x="204.6" y="902.8" width="380.9" height="61.3" fill="none" stroke="#000" stroke-width="4.5"/>
<clipPath id="c1275"><rect x="202.3" y="971.8" width="385.4" height="65.1"/></clipPath>
<g clip-path="url(#c1275)">
<rect x="202.3" y="971.8" width="385.4" height="65.1" fill="#d4d6d6"/>
<g filter="url(#bl2)">
<rect x="238.0" y="972.0" width="54.0" height="65.0" fill="#a9a9a9"/>
<rect x="302.0" y="972.0" width="61.0" height="65.0" fill="#a9a9a9"/>
<rect x="377.0" y="972.0" width="54.0" height="65.0" fill="#a9a9a9"/>
<rect x="450.0" y="972.0" width="54.0" height="65.0" fill="#a9a9a9"/>
<rect x="521.0" y="972.0" width="53.0" height="65.0" fill="#a9a9a9"/>
</g>
<g filter="url(#bl6)" opacity="0.3">
<rect x="237.5" y="992.7" width="55.0" height="17.6" rx="4.0" fill="#5a5a5a"/>
<rect x="301.2" y="993.2" width="61.6" height="17.6" rx="4.0" fill="#555"/>
<rect x="375.4" y="995.1" width="57.2" height="19.8" rx="4.5" fill="#4a4a4a"/>
<rect x="448.4" y="995.2" width="57.2" height="17.6" rx="4.0" fill="#555"/>
<rect x="520.1" y="999.1" width="55.0" height="19.8" rx="4.5" fill="#4e4e4e"/>
<rect x="237.5" y="1004.4" width="55.0" height="13.2" rx="3.0" fill="#7a7a7a"/>
<rect x="301.2" y="1004.4" width="61.6" height="13.2" rx="3.0" fill="#7a7a7a"/>
<rect x="375.4" y="1006.4" width="57.2" height="13.2" rx="3.0" fill="#6a6a6a"/>
<rect x="448.4" y="1005.4" width="57.2" height="13.2" rx="3.0" fill="#707070"/>
<rect x="520.1" y="994.4" width="55.0" height="13.2" rx="3.0" fill="#808080"/>
</g>
<g filter="url(#bl)">
<rect x="240.0" y="997.5" width="50.0" height="8.0" rx="4.0" fill="#5a5a5a"/>
<rect x="304.0" y="998.0" width="56.0" height="8.0" rx="4.0" fill="#555"/>
<rect x="378.0" y="1000.5" width="52.0" height="9.0" rx="4.5" fill="#4a4a4a"/>
<rect x="451.0" y="1000.0" width="52.0" height="8.0" rx="4.0" fill="#555"/>
<rect x="522.6" y="1004.5" width="50.0" height="9.0" rx="4.5" fill="#4e4e4e"/>
<rect x="240.0" y="1008.0" width="50.0" height="6.0" rx="3.0" fill="#7a7a7a"/>
<rect x="304.0" y="1008.0" width="56.0" height="6.0" rx="3.0" fill="#7a7a7a"/>
<rect x="378.0" y="1010.0" width="52.0" height="6.0" rx="3.0" fill="#6a6a6a"/>
<rect x="451.0" y="1009.0" width="52.0" height="6.0" rx="3.0" fill="#707070"/>
<rect x="522.6" y="998.0" width="50.0" height="6.0" rx="3.0" fill="#808080"/>
</g></g>
<rect x="204.6" y="974.0" width="380.9" height="60.6" fill="none" stroke="#000" stroke-width="4.5"/>
<clipPath id="c1310"><rect x="202.3" y="1041.0" width="385.4" height="63.3"/></clipPath>
<g clip-path="url(#c1310)">
<rect x="202.3" y="1041.0" width="385.4" height="63.3" fill="#f0f0f0"/>
<g filter="url(#bl6)" opacity="0.3">
<rect x="221.6" y="1057.8" width="52.8" height="15.4" rx="3.5" fill="#909090"/>
<rect x="292.4" y="1058.2" width="57.2" height="17.6" rx="4.0" fill="#1e1e1e"/>
<rect x="368.2" y="1060.2" width="50.6" height="17.6" rx="4.0" fill="#151515"/>
<rect x="440.3" y="1060.2" width="59.4" height="17.6" rx="4.0" fill="#151515"/>
<rect x="515.2" y="1057.0" width="61.6" height="22.0" rx="5.0" fill="#050505"/>
</g>
<g filter="url(#bl)">
<rect x="224.0" y="1062.0" width="48.0" height="7.0" rx="3.5" fill="#909090"/>
<rect x="295.0" y="1063.0" width="52.0" height="8.0" rx="4.0" fill="#1e1e1e"/>
<rect x="370.5" y="1065.0" width="46.0" height="8.0" rx="4.0" fill="#151515"/>
<rect x="443.0" y="1065.0" width="54.0" height="8.0" rx="4.0" fill="#151515"/>
<rect x="518.0" y="1063.0" width="56.0" height="10.0" rx="5.0" fill="#050505"/>
</g></g>
<rect x="204.6" y="1043.2" width="380.9" height="58.8" fill="none" stroke="#000" stroke-width="4.5"/>
<clipPath id="c1328"><rect x="202.3" y="1108.2" width="385.4" height="71.7"/></clipPath>
<g clip-path="url(#c1328)">
<rect x="202.3" y="1108.2" width="385.4" height="71.7" fill="#f2f2f2"/>
<g filter="url(#bl6)" opacity="0.3">
<rect x="224.3" y="1126.4" width="70.4" height="46.2" rx="10.5" fill="#050505"/>
<rect x="297.0" y="1126.3" width="66.0" height="48.4" rx="11.0" fill="#050505"/>
<rect x="365.9" y="1126.9" width="68.2" height="46.2" rx="10.5" fill="#050505"/>
<rect x="437.2" y="1127.0" width="64.9" height="44.0" rx="10.0" fill="#050505"/>
<rect x="507.4" y="1127.0" width="68.2" height="44.0" rx="10.0" fill="#050505"/>
</g>
<g filter="url(#bl)">
<rect x="227.5" y="1139.0" width="64.0" height="21.0" rx="10.5" fill="#050505"/>
<rect x="300.0" y="1139.5" width="60.0" height="22.0" rx="11.0" fill="#050505"/>
<rect x="369.0" y="1139.5" width="62.0" height="21.0" rx="10.5" fill="#050505"/>
<rect x="440.1" y="1139.0" width="59.0" height="20.0" rx="10.0" fill="#050505"/>
<rect x="510.5" y="1139.0" width="62.0" height="20.0" rx="10.0" fill="#050505"/>
</g></g>
<rect x="204.6" y="1110.5" width="380.9" height="67.2" fill="none" stroke="#000" stroke-width="4.5"/>
<text x="177.1" y="802.7" font-size="34.5" text-anchor="end" font-weight="bold" fill="#000" transform="translate(177.1 802.7) scale(1.0 1.035) translate(-177.1 -802.7)">pAMPK</text>
<text x="172.5" y="874.9" font-size="34.5" text-anchor="end" font-weight="bold" fill="#000" transform="translate(172.5 874.9) scale(1.0 1.035) translate(-172.5 -874.9)">AMPK</text>
<text x="168.0" y="947.0" font-size="34.5" text-anchor="end" font-weight="bold" fill="#000" transform="translate(168.0 947.0) scale(1.0 1.035) translate(-168.0 -947.0)">pACC</text>
<text x="165.2" y="1019.0" font-size="34.5" text-anchor="end" font-weight="bold" fill="#000" transform="translate(165.2 1019.0) scale(1.0 1.035) translate(-165.2 -1019.0)">ACC</text>
<text x="169.8" y="1089.8" font-size="34.5" text-anchor="end" font-weight="bold" fill="#000" transform="translate(169.8 1089.8) scale(1.0 1.035) translate(-169.8 -1089.8)">PGC1α</text>
<text x="172.5" y="1152.9" font-size="34.5" text-anchor="end" font-weight="bold" fill="#000" transform="translate(172.5 1152.9) scale(1.0 1.035) translate(-172.5 -1152.9)">tubulin</text>
<rect x="590.2" y="760.1" width="56.9" height="9.0" fill="#000"/>
<text x="652.0" y="772.5" font-size="23.5" text-anchor="start" font-weight="bold" fill="#000">75kDa</text>
<rect x="590.2" y="831.4" width="56.9" height="9.0" fill="#000"/>
<text x="652.0" y="843.8" font-size="23.5" text-anchor="start" font-weight="bold" fill="#000">75kDa</text>
<rect x="587.1" y="954.4" width="58.5" height="9.0" fill="#000"/>
<text x="650.0" y="966.8" font-size="23.5" text-anchor="start" font-weight="bold" fill="#000">250kDa</text>
<rect x="587.1" y="1028.2" width="58.5" height="9.0" fill="#000"/>
<text x="650.0" y="1040.6" font-size="23.5" text-anchor="start" font-weight="bold" fill="#000">250kDa</text>
<rect x="587.1" y="1056.1" width="58.5" height="9.0" fill="#000"/>
<text x="650.0" y="1068.5" font-size="23.5" text-anchor="start" font-weight="bold" fill="#000">100kDa</text>
<rect x="587.0" y="1134.7" width="57.5" height="9.0" fill="#000"/>
<text x="649.2" y="1147.1" font-size="23.5" text-anchor="start" font-weight="bold" fill="#000">50kDa</text>
<text x="178.0" y="1222.7" font-size="34.5" text-anchor="end" font-weight="bold" fill="#000" transform="translate(178.0 1222.7) scale(1.0 1.035) translate(-178.0 -1222.7)">Myonectin</text>
<text x="256.9" y="1222.7" font-size="34.5" text-anchor="middle" font-weight="bold" fill="#000" transform="translate(256.9 1222.7) scale(1.0 1.035) translate(-256.9 -1222.7)">0</text>
<text x="323.6" y="1225.0" font-size="34.5" text-anchor="middle" font-weight="bold" fill="#000" transform="translate(323.6 1225.0) scale(1.0 1.035) translate(-323.6 -1225.0)">15</text>
<text x="395.7" y="1222.7" font-size="34.5" text-anchor="middle" font-weight="bold" fill="#000" transform="translate(395.7 1222.7) scale(1.0 1.035) translate(-395.7 -1222.7)">30</text>
<text x="470.0" y="1222.7" font-size="34.5" text-anchor="middle" font-weight="bold" fill="#000" transform="translate(470.0 1222.7) scale(1.0 1.035) translate(-470.0 -1222.7)">60</text>
<text x="545.3" y="1222.7" font-size="34.5" text-anchor="middle" font-weight="bold" fill="#000" transform="translate(545.3 1222.7) scale(1.0 1.035) translate(-545.3 -1222.7)">120</text>
<text x="586.0" y="1222.7" font-size="34.5" text-anchor="start" font-weight="bold" fill="#000" transform="translate(586.0 1222.7) scale(1.0 1.035) translate(-586.0 -1222.7)">(min)</text>
<line x1="858.6" y1="1059.5" x2="858.6" y2="1044.0" stroke="#000" stroke-width="2"/>
<line x1="851.3" y1="1044.0" x2="866.0" y2="1044.0" stroke="#000" stroke-width="2"/>
<rect x="845.6" y="1061.2" width="26.0" height="54.4" fill="#fff" stroke="#000" stroke-width="3.3"/>
<line x1="904.3" y1="961.4" x2="904.3" y2="936.4" stroke="#000" stroke-width="2"/>
<line x1="897.1" y1="936.4" x2="911.4" y2="936.4" stroke="#000" stroke-width="2"/>
<rect x="891.6" y="963.0" width="25.3" height="152.5" fill="#9ad8d6" stroke="#000" stroke-width="3.3"/>
<line x1="949.5" y1="930.5" x2="949.5" y2="916.7" stroke="#000" stroke-width="2"/>
<line x1="942.2" y1="916.7" x2="956.9" y2="916.7" stroke="#000" stroke-width="2"/>
<rect x="936.4" y="932.1" width="26.2" height="183.3" fill="#7acccb" stroke="#000" stroke-width="3.3"/>
<line x1="995.0" y1="895.7" x2="995.0" y2="889.3" stroke="#000" stroke-width="2"/>
<line x1="987.8" y1="889.3" x2="1002.2" y2="889.3" stroke="#000" stroke-width="2"/>
<rect x="982.1" y="897.4" width="25.7" height="218.1" fill="#9ad8d6" stroke="#000" stroke-width="3.3"/>
<line x1="1040.6" y1="912.6" x2="1040.6" y2="894.8" stroke="#000" stroke-width="2"/>
<line x1="1033.1" y1="894.8" x2="1048.0" y2="894.8" stroke="#000" stroke-width="2"/>
<rect x="1027.4" y="914.2" width="26.5" height="201.2" fill="#7acccb" stroke="#000" stroke-width="3.3"/>
<circle cx="858.3" cy="1016.0" r="4.8" fill="#000"/>
<circle cx="848.3" cy="1065.5" r="4.8" fill="#000"/>
<circle cx="868.6" cy="1069.0" r="4.8" fill="#000"/>
<circle cx="858.3" cy="1085.7" r="4.8" fill="#000"/>
<circle cx="903.8" cy="900.0" r="4.8" fill="#000"/>
<circle cx="903.8" cy="942.9" r="4.8" fill="#000"/>
<circle cx="894.3" cy="1002.9" r="4.8" fill="#000"/>
<circle cx="914.5" cy="997.6" r="4.8" fill="#000"/>
<circle cx="949.5" cy="894.0" r="4.8" fill="#000"/>
<circle cx="940.0" cy="933.3" r="4.8" fill="#000"/>
<circle cx="959.5" cy="934.5" r="4.8" fill="#000"/>
<circle cx="949.5" cy="957.6" r="4.8" fill="#000"/>
<circle cx="984.8" cy="883.3" r="4.8" fill="#000"/>
<circle cx="995.2" cy="891.7" r="4.8" fill="#000"/>
<circle cx="1005.5" cy="890.5" r="4.8" fill="#000"/>
<circle cx="995.2" cy="913.0" r="4.8" fill="#000"/>
<circle cx="1030.0" cy="894.0" r="4.8" fill="#000"/>
<circle cx="1051.4" cy="885.0" r="4.8" fill="#000"/>
<circle cx="1041.2" cy="906.0" r="4.8" fill="#000"/>
<circle cx="1041.2" cy="962.4" r="4.8" fill="#000"/>
<line x1="828.6" y1="859.0" x2="828.6" y2="1117.0" stroke="#000" stroke-width="3"/>
<line x1="818.6" y1="1115.5" x2="1071.0" y2="1115.5" stroke="#000" stroke-width="3"/>
<line x1="818.6" y1="887.4" x2="828.6" y2="887.4" stroke="#000" stroke-width="2.2"/>
<text x="815.6" y="894.6" font-size="20" text-anchor="end" font-weight="bold" fill="#000">4</text>
<line x1="818.6" y1="944.3" x2="828.6" y2="944.3" stroke="#000" stroke-width="2.2"/>
<text x="815.6" y="951.5" font-size="20" text-anchor="end" font-weight="bold" fill="#000">3</text>
<line x1="818.6" y1="1001.4" x2="828.6" y2="1001.4" stroke="#000" stroke-width="2.2"/>
<text x="815.6" y="1008.6" font-size="20" text-anchor="end" font-weight="bold" fill="#000">2</text>
<line x1="818.6" y1="1058.3" x2="828.6" y2="1058.3" stroke="#000" stroke-width="2.2"/>
<text x="815.6" y="1065.5" font-size="20" text-anchor="end" font-weight="bold" fill="#000">1</text>
<line x1="818.6" y1="1115.5" x2="828.6" y2="1115.5" stroke="#000" stroke-width="2.2"/>
<text x="815.6" y="1122.7" font-size="20" text-anchor="end" font-weight="bold" fill="#000">0</text>
<path d="M864.0 881.3 V867.9 H903.0 V881.3" fill="none" stroke="#000" stroke-width="2" stroke-linejoin="miter"/>
<path d="M862.8 839.5 V836.7 H940.4 V850.5" fill="none" stroke="#000" stroke-width="2" stroke-linejoin="miter"/>
<path d="M864.4 823.1 V806.0 H988.9 V809.7" fill="none" stroke="#000" stroke-width="2" stroke-linejoin="miter"/>
<path d="M865.2 788.4 V774.7 H1039.4 V788.4" fill="none" stroke="#000" stroke-width="2" stroke-linejoin="miter"/>
<text x="897.2" y="860.8" font-size="20.5" text-anchor="middle" font-weight="bold" fill="#000">P=0.005</text>
<text x="909.4" y="830.6" font-size="20.5" text-anchor="middle" font-weight="bold" fill="#000">P&lt;0.001</text>
<text x="915.0" y="797.7" font-size="20.5" text-anchor="middle" font-weight="bold" fill="#000">P&lt;0.001</text>
<text x="932.6" y="764.6" font-size="20.5" text-anchor="middle" font-weight="bold" fill="#000">P&lt;0.001</text>
<text x="782.0" y="1136.5" font-size="34.5" text-anchor="start" font-weight="bold" fill="#000" transform="translate(782.0 1136.5) rotate(-90) scale(1.0 1.035) translate(-782.0 -1136.5)">pAMPK/tubulin levels</text>
<text x="848.3" y="1172.6" font-size="34.5" text-anchor="middle" font-weight="bold" fill="#000" transform="translate(848.3 1172.6) scale(1.0 1.035) translate(-848.3 -1172.6)">0</text>
<text x="896.0" y="1172.6" font-size="34.5" text-anchor="middle" font-weight="bold" fill="#000" transform="translate(896.0 1172.6) scale(1.0 1.035) translate(-896.0 -1172.6)">15</text>
<text x="946.0" y="1172.6" font-size="34.5" text-anchor="middle" font-weight="bold" fill="#000" transform="translate(946.0 1172.6) scale(1.0 1.035) translate(-946.0 -1172.6)">30</text>
<text x="994.3" y="1172.6" font-size="34.5" text-anchor="middle" font-weight="bold" fill="#000" transform="translate(994.3 1172.6) scale(1.0 1.035) translate(-994.3 -1172.6)">60</text>
<text x="1046.0" y="1172.6" font-size="34.5" text-anchor="middle" font-weight="bold" fill="#000" transform="translate(1046.0 1172.6) scale(1.0 1.035) translate(-1046.0 -1172.6)">120</text>
<text x="1017.8" y="1208.3" font-size="34.5" text-anchor="start" font-weight="bold" fill="#000" transform="translate(1017.8 1208.3) scale(1.0 1.035) translate(-1017.8 -1208.3)">(min)</text>
<line x1="1219.8" y1="1033.3" x2="1219.8" y2="1023.3" stroke="#000" stroke-width="2"/>
<line x1="1212.5" y1="1023.3" x2="1227.2" y2="1023.3" stroke="#000" stroke-width="2"/>
<rect x="1206.9" y="1035.0" width="26.0" height="77.0" fill="#fff" stroke="#000" stroke-width="3.3"/>
<line x1="1265.4" y1="939.3" x2="1265.4" y2="905.2" stroke="#000" stroke-width="2"/>
<line x1="1258.2" y1="905.2" x2="1272.6" y2="905.2" stroke="#000" stroke-width="2"/>
<rect x="1252.7" y="940.9" width="25.5" height="171.0" fill="#9ad8d6" stroke="#000" stroke-width="3.3"/>
<line x1="1311.5" y1="910.7" x2="1311.5" y2="876.2" stroke="#000" stroke-width="2"/>
<line x1="1304.2" y1="876.2" x2="1318.7" y2="876.2" stroke="#000" stroke-width="2"/>
<rect x="1298.6" y="912.4" width="25.8" height="199.6" fill="#7acccb" stroke="#000" stroke-width="3.3"/>
<line x1="1356.8" y1="910.0" x2="1356.8" y2="884.5" stroke="#000" stroke-width="2"/>
<line x1="1349.4" y1="884.5" x2="1364.1" y2="884.5" stroke="#000" stroke-width="2"/>
<rect x="1343.8" y="911.6" width="26.0" height="200.3" fill="#9ad8d6" stroke="#000" stroke-width="3.3"/>
<line x1="1402.4" y1="921.0" x2="1402.4" y2="889.3" stroke="#000" stroke-width="2"/>
<line x1="1395.2" y1="889.3" x2="1409.6" y2="889.3" stroke="#000" stroke-width="2"/>
<rect x="1389.8" y="922.6" width="25.3" height="189.3" fill="#7acccb" stroke="#000" stroke-width="3.3"/>
<circle cx="1220.0" cy="1011.4" r="4.8" fill="#000"/>
<circle cx="1220.0" cy="1025.0" r="4.8" fill="#000"/>
<circle cx="1220.0" cy="1040.5" r="4.8" fill="#000"/>
<circle cx="1220.0" cy="1053.6" r="4.8" fill="#000"/>
<circle cx="1266.0" cy="877.4" r="4.8" fill="#000"/>
<circle cx="1266.0" cy="894.8" r="4.8" fill="#000"/>
<circle cx="1266.0" cy="958.3" r="4.8" fill="#000"/>
<circle cx="1266.0" cy="1022.6" r="4.8" fill="#000"/>
<circle cx="1311.2" cy="836.2" r="4.8" fill="#000"/>
<circle cx="1311.2" cy="884.5" r="4.8" fill="#000"/>
<circle cx="1311.2" cy="921.9" r="4.8" fill="#000"/>
<circle cx="1311.2" cy="997.1" r="4.8" fill="#000"/>
<circle cx="1356.9" cy="841.0" r="4.8" fill="#000"/>
<circle cx="1346.4" cy="917.1" r="4.8" fill="#000"/>
<circle cx="1366.7" cy="924.3" r="4.8" fill="#000"/>
<circle cx="1356.9" cy="952.9" r="4.8" fill="#000"/>
<circle cx="1402.4" cy="861.2" r="4.8" fill="#000"/>
<circle cx="1402.4" cy="881.0" r="4.8" fill="#000"/>
<circle cx="1402.4" cy="942.4" r="4.8" fill="#000"/>
<circle cx="1402.4" cy="997.1" r="4.8" fill="#000"/>
<line x1="1190.2" y1="833.8" x2="1190.2" y2="1113.4" stroke="#000" stroke-width="3"/>
<line x1="1179.0" y1="1111.9" x2="1432.6" y2="1111.9" stroke="#000" stroke-width="3"/>
<line x1="1180.2" y1="873.3" x2="1190.2" y2="873.3" stroke="#000" stroke-width="2.2"/>
<text x="1177.3" y="880.5" font-size="20" text-anchor="end" font-weight="bold" fill="#000">3</text>
<line x1="1180.2" y1="953.1" x2="1190.2" y2="953.1" stroke="#000" stroke-width="2.2"/>
<text x="1177.3" y="960.3" font-size="20" text-anchor="end" font-weight="bold" fill="#000">2</text>
<line x1="1180.2" y1="1032.9" x2="1190.2" y2="1032.9" stroke="#000" stroke-width="2.2"/>
<text x="1177.3" y="1040.1" font-size="20" text-anchor="end" font-weight="bold" fill="#000">1</text>
<line x1="1180.2" y1="1111.9" x2="1190.2" y2="1111.9" stroke="#000" stroke-width="2.2"/>
<text x="1177.3" y="1119.1" font-size="20" text-anchor="end" font-weight="bold" fill="#000">0</text>
<path d="M1223.1 825.0 V809.0 H1308.8 V825.0" fill="none" stroke="#000" stroke-width="2" stroke-linejoin="miter"/>
<path d="M1223.1 790.0 V774.3 H1349.3 V790.0" fill="none" stroke="#000" stroke-width="2" stroke-linejoin="miter"/>
<text x="1272.0" y="798.8" font-size="20.5" text-anchor="middle" font-weight="bold" fill="#000">P=0.046</text>
<text x="1285.0" y="765.5" font-size="20.5" text-anchor="middle" font-weight="bold" fill="#000">P=0.044</text>
<text x="1141.7" y="1121.0" font-size="33.5" text-anchor="start" font-weight="bold" fill="#000" transform="translate(1141.7 1121.0) rotate(-90) scale(1.0 1.035) translate(-1141.7 -1121.0)">pACC/tubulin levels</text>
<text x="1216.0" y="1167.9" font-size="34.5" text-anchor="middle" font-weight="bold" fill="#000" transform="translate(1216.0 1167.9) scale(1.0 1.035) translate(-1216.0 -1167.9)">0</text>
<text x="1263.0" y="1167.9" font-size="34.5" text-anchor="middle" font-weight="bold" fill="#000" transform="translate(1263.0 1167.9) scale(1.0 1.035) translate(-1263.0 -1167.9)">15</text>
<text x="1312.4" y="1167.9" font-size="34.5" text-anchor="middle" font-weight="bold" fill="#000" transform="translate(1312.4 1167.9) scale(1.0 1.035) translate(-1312.4 -1167.9)">30</text>
<text x="1362.4" y="1167.9" font-size="34.5" text-anchor="middle" font-weight="bold" fill="#000" transform="translate(1362.4 1167.9) scale(1.0 1.035) translate(-1362.4 -1167.9)">60</text>
<text x="1413.6" y="1167.9" font-size="34.5" text-anchor="middle" font-weight="bold" fill="#000" transform="translate(1413.6 1167.9) scale(1.0 1.035) translate(-1413.6 -1167.9)">120</text>
<text x="1387.0" y="1203.6" font-size="34.5" text-anchor="start" font-weight="bold" fill="#000" transform="translate(1387.0 1203.6) scale(1.0 1.035) translate(-1387.0 -1203.6)">(min)</text>
<line x1="1558.1" y1="1001.2" x2="1558.1" y2="989.3" stroke="#000" stroke-width="2"/>
<line x1="1550.6" y1="989.3" x2="1565.5" y2="989.3" stroke="#000" stroke-width="2"/>
<rect x="1544.9" y="1002.9" width="26.5" height="101.9" fill="#fff" stroke="#000" stroke-width="3.3"/>
<line x1="1603.8" y1="957.1" x2="1603.8" y2="942.4" stroke="#000" stroke-width="2"/>
<line x1="1596.4" y1="942.4" x2="1611.3" y2="942.4" stroke="#000" stroke-width="2"/>
<rect x="1590.6" y="958.8" width="26.5" height="146.0" fill="#9ad8d6" stroke="#000" stroke-width="3.3"/>
<line x1="1648.9" y1="929.0" x2="1648.9" y2="916.2" stroke="#000" stroke-width="2"/>
<line x1="1641.7" y1="916.2" x2="1656.2" y2="916.2" stroke="#000" stroke-width="2"/>
<rect x="1636.1" y="930.6" width="25.7" height="174.1" fill="#7acccb" stroke="#000" stroke-width="3.3"/>
<line x1="1694.3" y1="882.9" x2="1694.3" y2="876.7" stroke="#000" stroke-width="2"/>
<line x1="1687.0" y1="876.7" x2="1701.7" y2="876.7" stroke="#000" stroke-width="2"/>
<rect x="1681.2" y="884.5" width="26.2" height="220.2" fill="#9ad8d6" stroke="#000" stroke-width="3.3"/>
<line x1="1739.8" y1="864.8" x2="1739.8" y2="851.2" stroke="#000" stroke-width="2"/>
<line x1="1732.6" y1="851.2" x2="1747.1" y2="851.2" stroke="#000" stroke-width="2"/>
<rect x="1727.0" y="866.4" width="25.8" height="238.3" fill="#7acccb" stroke="#000" stroke-width="3.3"/>
<circle cx="1547.5" cy="983.8" r="4.8" fill="#000"/>
<circle cx="1568.2" cy="978.6" r="4.8" fill="#000"/>
<circle cx="1547.5" cy="1019.0" r="4.8" fill="#000"/>
<circle cx="1568.2" cy="1019.0" r="4.8" fill="#000"/>
<circle cx="1593.2" cy="936.9" r="4.8" fill="#000"/>
<circle cx="1603.9" cy="948.8" r="4.8" fill="#000"/>
<circle cx="1613.9" cy="942.4" r="4.8" fill="#000"/>
<circle cx="1603.9" cy="998.8" r="4.8" fill="#000"/>
<circle cx="1649.1" cy="906.0" r="4.8" fill="#000"/>
<circle cx="1639.1" cy="919.5" r="4.8" fill="#000"/>
<circle cx="1659.1" cy="925.0" r="4.8" fill="#000"/>
<circle cx="1649.1" cy="963.1" r="4.8" fill="#000"/>
<circle cx="1694.4" cy="866.0" r="4.8" fill="#000"/>
<circle cx="1684.4" cy="892.4" r="4.8" fill="#000"/>
<circle cx="1694.4" cy="884.5" r="4.8" fill="#000"/>
<circle cx="1703.9" cy="887.4" r="4.8" fill="#000"/>
<circle cx="1729.6" cy="845.7" r="4.8" fill="#000"/>
<circle cx="1749.9" cy="841.7" r="4.8" fill="#000"/>
<circle cx="1739.6" cy="869.5" r="4.8" fill="#000"/>
<circle cx="1739.6" cy="900.5" r="4.8" fill="#000"/>
<line x1="1528.2" y1="810.0" x2="1528.2" y2="1106.3" stroke="#000" stroke-width="3"/>
<line x1="1517.7" y1="1104.8" x2="1770.1" y2="1104.8" stroke="#000" stroke-width="3"/>
<line x1="1518.2" y1="894.0" x2="1528.2" y2="894.0" stroke="#000" stroke-width="2.2"/>
<text x="1514.9" y="901.2" font-size="20" text-anchor="end" font-weight="bold" fill="#000">2</text>
<line x1="1518.2" y1="1000.0" x2="1528.2" y2="1000.0" stroke="#000" stroke-width="2.2"/>
<text x="1514.9" y="1007.2" font-size="20" text-anchor="end" font-weight="bold" fill="#000">1</text>
<line x1="1518.2" y1="1104.8" x2="1528.2" y2="1104.8" stroke="#000" stroke-width="2.2"/>
<text x="1514.9" y="1112.0" font-size="20" text-anchor="end" font-weight="bold" fill="#000">0</text>
<path d="M1558.0 837.6 V822.1 H1642.7 V837.6" fill="none" stroke="#000" stroke-width="2" stroke-linejoin="miter"/>
<path d="M1558.0 800.5 V783.3 H1688.9 V800.5" fill="none" stroke="#000" stroke-width="2" stroke-linejoin="miter"/>
<path d="M1558.0 760.7 V744.5 H1731.3 V760.7" fill="none" stroke="#000" stroke-width="2" stroke-linejoin="miter"/>
<text x="1605.7" y="811.9" font-size="20.5" text-anchor="middle" font-weight="bold" fill="#000">P=0.005</text>
<text x="1632.5" y="765.5" font-size="20.5" text-anchor="middle" font-weight="bold" fill="#000">P&lt;0.001</text>
<text x="1636.6" y="725.0" font-size="20.5" text-anchor="middle" font-weight="bold" fill="#000">P&lt;0.001</text>
<text x="1483.7" y="1133.0" font-size="34.5" text-anchor="start" font-weight="bold" fill="#000" transform="translate(1483.7 1133.0) rotate(-90) scale(1.0 1.035) translate(-1483.7 -1133.0)">PGC1α/tubulin levels</text>
<text x="1552.0" y="1167.9" font-size="34.5" text-anchor="middle" font-weight="bold" fill="#000" transform="translate(1552.0 1167.9) scale(1.0 1.035) translate(-1552.0 -1167.9)">0</text>
<text x="1600.3" y="1167.9" font-size="34.5" text-anchor="middle" font-weight="bold" fill="#000" transform="translate(1600.3 1167.9) scale(1.0 1.035) translate(-1600.3 -1167.9)">15</text>
<text x="1649.1" y="1167.9" font-size="34.5" text-anchor="middle" font-weight="bold" fill="#000" transform="translate(1649.1 1167.9) scale(1.0 1.035) translate(-1649.1 -1167.9)">30</text>
<text x="1698.7" y="1167.9" font-size="34.5" text-anchor="middle" font-weight="bold" fill="#000" transform="translate(1698.7 1167.9) scale(1.0 1.035) translate(-1698.7 -1167.9)">60</text>
<text x="1750.3" y="1167.9" font-size="34.5" text-anchor="middle" font-weight="bold" fill="#000" transform="translate(1750.3 1167.9) scale(1.0 1.035) translate(-1750.3 -1167.9)">120</text>
<text x="1723.0" y="1204.8" font-size="34.5" text-anchor="start" font-weight="bold" fill="#000" transform="translate(1723.0 1204.8) scale(1.0 1.035) translate(-1723.0 -1204.8)">(min)</text>
<text x="5.2" y="1313.6" font-size="52" text-anchor="start" font-weight="bold" fill="#000" transform="translate(5.2 1313.6) scale(1.07 1.035) translate(-5.2 -1313.6)">d</text>
<clipPath id="c1546"><rect x="249.2" y="1323.4" width="378.2" height="60.2"/></clipPath>
<g clip-path="url(#c1546)">
<rect x="249.2" y="1323.4" width="378.2" height="60.2" fill="#f6f6f6"/>
<g filter="url(#blur4)">
<rect x="266.6" y="1328.0" width="50.4" height="52.0" fill="#d0d0d0"/>
<rect x="364.6" y="1328.0" width="46.3" height="52.0" fill="#d0d0d0"/>
<rect x="455.7" y="1328.0" width="47.6" height="52.0" fill="#d0d0d0"/>
<rect x="549.5" y="1328.0" width="54.5" height="52.0" fill="#d0d0d0"/>
</g>
<g filter="url(#bl6)" opacity="0.3">
<rect x="264.5" y="1348.5" width="55.0" height="19.8" rx="4.5" fill="#4a4a4a"/>
<rect x="362.7" y="1346.6" width="50.6" height="19.8" rx="4.5" fill="#3a3a3a"/>
<rect x="454.7" y="1348.3" width="50.6" height="15.4" rx="3.5" fill="#a0a0a0"/>
<rect x="548.4" y="1352.3" width="57.2" height="15.4" rx="3.5" fill="#b0b0b0"/>
</g>
<g filter="url(#bl)">
<rect x="267.0" y="1353.9" width="50.0" height="9.0" rx="4.5" fill="#4a4a4a"/>
<rect x="365.0" y="1352.0" width="46.0" height="9.0" rx="4.5" fill="#3a3a3a"/>
<rect x="457.0" y="1352.5" width="46.0" height="7.0" rx="3.5" fill="#a0a0a0"/>
<rect x="551.0" y="1356.5" width="52.0" height="7.0" rx="3.5" fill="#b0b0b0"/>
</g></g>
<rect x="251.4" y="1325.7" width="373.7" height="55.7" fill="none" stroke="#000" stroke-width="4.5"/>
<clipPath id="c1568"><rect x="249.2" y="1390.0" width="378.2" height="49.0"/></clipPath>
<g clip-path="url(#c1568)">
<rect x="249.2" y="1390.0" width="378.2" height="49.0" fill="#eeeeee"/>
<g filter="url(#blur4)">
<rect x="266.6" y="1392.0" width="49.0" height="45.0" fill="#a4a4a4"/>
<rect x="364.6" y="1392.0" width="44.9" height="45.0" fill="#a4a4a4"/>
<rect x="458.5" y="1392.0" width="43.5" height="45.0" fill="#a4a4a4"/>
<rect x="552.3" y="1392.0" width="47.7" height="45.0" fill="#a4a4a4"/>
</g>
<g filter="url(#bl6)" opacity="0.3">
<rect x="263.5" y="1399.8" width="55.0" height="48.4" rx="11.0" fill="#060606"/>
<rect x="361.7" y="1399.8" width="50.6" height="48.4" rx="11.0" fill="#060606"/>
<rect x="455.8" y="1406.0" width="48.4" height="22.0" rx="5.0" fill="#111"/>
<rect x="549.6" y="1411.1" width="52.8" height="19.8" rx="4.5" fill="#151515"/>
</g>
<g filter="url(#bl)">
<rect x="266.0" y="1413.0" width="50.0" height="22.0" rx="11.0" fill="#060606"/>
<rect x="364.0" y="1413.0" width="46.0" height="22.0" rx="11.0" fill="#060606"/>
<rect x="458.0" y="1412.0" width="44.0" height="10.0" rx="5.0" fill="#111"/>
<rect x="552.0" y="1416.5" width="48.0" height="9.0" rx="4.5" fill="#151515"/>
</g></g>
<rect x="251.4" y="1392.2" width="373.7" height="44.5" fill="none" stroke="#000" stroke-width="4.5"/>
<clipPath id="c1590"><rect x="249.2" y="1446.7" width="378.2" height="53.2"/></clipPath>
<g clip-path="url(#c1590)">
<rect x="249.2" y="1446.7" width="378.2" height="53.2" fill="#b4b6b6"/>
<g filter="url(#bl6)" opacity="0.3">
<rect x="262.2" y="1461.1" width="61.6" height="19.8" rx="4.5" fill="#383838"/>
<rect x="308.4" y="1462.1" width="13.2" height="19.8" rx="4.5" fill="#111"/>
<rect x="356.0" y="1460.1" width="66.0" height="19.8" rx="4.5" fill="#464646"/>
<rect x="449.1" y="1462.3" width="63.8" height="15.4" rx="3.5" fill="#707070"/>
<rect x="542.9" y="1462.8" width="68.2" height="15.4" rx="3.5" fill="#727272"/>
</g>
<g filter="url(#bl)">
<rect x="265.0" y="1466.5" width="56.0" height="9.0" rx="4.5" fill="#383838"/>
<rect x="309.0" y="1467.5" width="12.0" height="9.0" rx="4.5" fill="#111"/>
<rect x="359.0" y="1465.5" width="60.0" height="9.0" rx="4.5" fill="#464646"/>
<rect x="452.0" y="1466.5" width="58.0" height="7.0" rx="3.5" fill="#707070"/>
<rect x="546.0" y="1467.0" width="62.0" height="7.0" rx="3.5" fill="#727272"/>
</g></g>
<rect x="251.4" y="1449.0" width="373.7" height="48.7" fill="none" stroke="#000" stroke-width="4.5"/>
<clipPath id="c1608"><rect x="249.2" y="1508.3" width="378.2" height="54.7"/></clipPath>
<g clip-path="url(#c1608)">
<rect x="249.2" y="1508.3" width="378.2" height="54.7" fill="#c2c4c4"/>
<g filter="url(#blur4)">
<rect x="262.0" y="1510.0" width="68.0" height="52.0" fill="#b8baba"/>
<rect x="356.0" y="1510.0" width="69.0" height="52.0" fill="#b8baba"/>
</g>
<g filter="url(#bl6)" opacity="0.3">
<rect x="435.3" y="1510.4" width="81.4" height="57.2" rx="13.0" fill="#050505"/>
<rect x="528.6" y="1512.0" width="88.0" height="55.0" rx="12.5" fill="#050505"/>
</g>
<g filter="url(#bl)">
<rect x="439.0" y="1526.0" width="74.0" height="26.0" rx="13.0" fill="#050505"/>
<rect x="532.6" y="1527.0" width="80.0" height="25.0" rx="12.5" fill="#050505"/>
</g></g>
<rect x="251.4" y="1510.5" width="373.7" height="50.2" fill="none" stroke="#000" stroke-width="4.5"/>
<clipPath id="c1624"><rect x="249.2" y="1570.0" width="378.2" height="56.0"/></clipPath>
<g clip-path="url(#c1624)">
<rect x="249.2" y="1570.0" width="378.2" height="56.0" fill="#f0f0f0"/>
<g filter="url(#bl6)" opacity="0.3">
<rect x="259.2" y="1582.0" width="79.2" height="44.0" rx="10.0" fill="#444"/>
<rect x="353.5" y="1583.7" width="77.0" height="39.6" rx="9.0" fill="#484848"/>
<rect x="444.8" y="1582.1" width="79.2" height="41.8" rx="9.5" fill="#404040"/>
<rect x="536.2" y="1581.5" width="83.6" height="44.0" rx="10.0" fill="#3c3c3c"/>
<rect x="596.3" y="1588.6" width="15.4" height="30.8" rx="7.0" fill="#111"/>
</g>
<g filter="url(#bl)">
<rect x="262.8" y="1594.0" width="72.0" height="20.0" rx="10.0" fill="#444"/>
<rect x="357.0" y="1594.5" width="70.0" height="18.0" rx="9.0" fill="#484848"/>
<rect x="448.4" y="1593.5" width="72.0" height="19.0" rx="9.5" fill="#404040"/>
<rect x="540.0" y="1593.5" width="76.0" height="20.0" rx="10.0" fill="#3c3c3c"/>
<rect x="597.0" y="1597.0" width="14.0" height="14.0" rx="7.0" fill="#111"/>
</g></g>
<rect x="251.4" y="1572.2" width="373.7" height="51.5" fill="none" stroke="#000" stroke-width="4.5"/>
<text x="216.9" y="1368.3" font-size="34.5" text-anchor="end" font-weight="bold" fill="#000" transform="translate(216.9 1368.3) scale(1.0 1.035) translate(-216.9 -1368.3)">pACC</text>
<text x="216.9" y="1432.4" font-size="34.5" text-anchor="end" font-weight="bold" fill="#000" transform="translate(216.9 1432.4) scale(1.0 1.035) translate(-216.9 -1432.4)">ACC</text>
<text x="212.2" y="1489.4" font-size="34.5" text-anchor="end" font-weight="bold" fill="#000" transform="translate(212.2 1489.4) scale(1.0 1.035) translate(-212.2 -1489.4)">PGC1α</text>
<text x="211.2" y="1547.8" font-size="34.5" text-anchor="end" font-weight="bold" fill="#000" transform="translate(211.2 1547.8) scale(1.0 1.035) translate(-211.2 -1547.8)">Myc</text>
<text x="216.9" y="1609.6" font-size="34.5" text-anchor="end" font-weight="bold" fill="#000" transform="translate(216.9 1609.6) scale(1.0 1.035) translate(-216.9 -1609.6)">tubulin</text>
<rect x="629.2" y="1368.5" width="56.9" height="9.0" fill="#000"/>
<text x="690.5" y="1380.9" font-size="23.5" text-anchor="start" font-weight="bold" fill="#000">250kDa</text>
<rect x="626.6" y="1425.0" width="56.4" height="9.0" fill="#000"/>
<text x="687.5" y="1437.4" font-size="23.5" text-anchor="start" font-weight="bold" fill="#000">250kDa</text>
<rect x="628.6" y="1452.7" width="56.5" height="9.0" fill="#000"/>
<text x="691.0" y="1465.1" font-size="23.5" text-anchor="start" font-weight="bold" fill="#000">100kDa</text>
<rect x="624.0" y="1555.5" width="57.2" height="9.0" fill="#000"/>
<text x="686.5" y="1567.9" font-size="23.5" text-anchor="start" font-weight="bold" fill="#000">50kDa</text>
<rect x="626.6" y="1590.3" width="57.4" height="9.0" fill="#000"/>
<text x="689.0" y="1602.7" font-size="23.5" text-anchor="start" font-weight="bold" fill="#000">50kDa</text>
<text x="229.2" y="1670.0" font-size="34.5" text-anchor="end" font-weight="bold" fill="#000" transform="translate(229.2 1670.0) scale(1.0 1.035) translate(-229.2 -1670.0)">Myonectin</text>
<text x="227.9" y="1715.0" font-size="34.5" text-anchor="end" font-weight="bold" fill="#000" transform="translate(227.9 1715.0) scale(1.0 1.035) translate(-227.9 -1715.0)">Ad-β-gal</text>
<text x="225.5" y="1760.0" font-size="34.5" text-anchor="end" font-weight="bold" fill="#000" transform="translate(225.5 1760.0) scale(1.0 1.035) translate(-225.5 -1760.0)">Ad-dnAMPK</text>
<line x1="293.8" y1="1664.2" x2="314.2" y2="1664.2" stroke="#000" stroke-width="2.2"/>
<line x1="390.2" y1="1666.2" x2="410.8" y2="1666.2" stroke="#000" stroke-width="2.2"/>
<line x1="400.5" y1="1656.0" x2="400.5" y2="1676.5" stroke="#000" stroke-width="2.2"/>
<line x1="485.2" y1="1664.2" x2="505.8" y2="1664.2" stroke="#000" stroke-width="2.2"/>
<line x1="573.1" y1="1666.2" x2="593.6" y2="1666.2" stroke="#000" stroke-width="2.2"/>
<line x1="583.4" y1="1656.0" x2="583.4" y2="1676.5" stroke="#000" stroke-width="2.2"/>
<line x1="293.8" y1="1705.6" x2="314.2" y2="1705.6" stroke="#000" stroke-width="2.2"/>
<line x1="304.0" y1="1695.3" x2="304.0" y2="1715.8" stroke="#000" stroke-width="2.2"/>
<line x1="390.2" y1="1705.6" x2="410.8" y2="1705.6" stroke="#000" stroke-width="2.2"/>
<line x1="400.5" y1="1695.3" x2="400.5" y2="1715.8" stroke="#000" stroke-width="2.2"/>
<line x1="485.2" y1="1705.6" x2="505.8" y2="1705.6" stroke="#000" stroke-width="2.2"/>
<line x1="573.1" y1="1705.6" x2="593.6" y2="1705.6" stroke="#000" stroke-width="2.2"/>
<line x1="293.8" y1="1746.0" x2="314.2" y2="1746.0" stroke="#000" stroke-width="2.2"/>
<line x1="390.2" y1="1746.0" x2="410.8" y2="1746.0" stroke="#000" stroke-width="2.2"/>
<line x1="485.2" y1="1746.0" x2="505.8" y2="1746.0" stroke="#000" stroke-width="2.2"/>
<line x1="495.5" y1="1735.8" x2="495.5" y2="1756.2" stroke="#000" stroke-width="2.2"/>
<line x1="573.1" y1="1746.0" x2="593.6" y2="1746.0" stroke="#000" stroke-width="2.2"/>
<line x1="583.4" y1="1735.8" x2="583.4" y2="1756.2" stroke="#000" stroke-width="2.2"/>
<line x1="931.0" y1="1525.0" x2="931.0" y2="1513.0" stroke="#000" stroke-width="2.5"/>
<line x1="921.8" y1="1513.0" x2="940.2" y2="1513.0" stroke="#000" stroke-width="2.5"/>
<rect x="914.3" y="1526.8" width="33.4" height="107.7" fill="#fff" stroke="#000" stroke-width="3.6"/>
<line x1="988.4" y1="1417.5" x2="988.4" y2="1403.8" stroke="#000" stroke-width="2.5"/>
<line x1="979.2" y1="1403.8" x2="997.6" y2="1403.8" stroke="#000" stroke-width="2.5"/>
<rect x="971.8" y="1419.3" width="33.1" height="215.2" fill="#95d6d4" stroke="#000" stroke-width="3.6"/>
<line x1="1045.4" y1="1556.2" x2="1045.4" y2="1518.8" stroke="#000" stroke-width="2.5"/>
<line x1="1036.2" y1="1518.8" x2="1054.6" y2="1518.8" stroke="#000" stroke-width="2.5"/>
<rect x="1028.8" y="1558.0" width="33.1" height="76.5" fill="#fff" stroke="#000" stroke-width="3.6"/>
<line x1="1102.6" y1="1585.5" x2="1102.6" y2="1572.0" stroke="#000" stroke-width="2.5"/>
<line x1="1093.6" y1="1572.0" x2="1111.7" y2="1572.0" stroke="#000" stroke-width="2.5"/>
<rect x="1086.3" y="1587.3" width="32.6" height="47.2" fill="#95d6d4" stroke="#000" stroke-width="3.6"/>
<circle cx="930.8" cy="1503.0" r="5.0" fill="#000"/>
<circle cx="916.8" cy="1539.2" r="5.0" fill="#000"/>
<circle cx="944.5" cy="1530.0" r="5.0" fill="#000"/>
<circle cx="988.2" cy="1391.2" r="5.0" fill="#000"/>
<circle cx="988.2" cy="1424.5" r="5.0" fill="#000"/>
<circle cx="988.2" cy="1436.2" r="5.0" fill="#000"/>
<circle cx="1045.5" cy="1483.2" r="5.0" fill="#000"/>
<circle cx="1045.5" cy="1578.2" r="5.0" fill="#000"/>
<circle cx="1045.5" cy="1604.2" r="5.0" fill="#000"/>
<circle cx="1103.0" cy="1564.2" r="5.0" fill="#000"/>
<circle cx="1103.0" cy="1582.0" r="5.0" fill="#000"/>
<circle cx="1103.0" cy="1607.0" r="5.0" fill="#000"/>
<line x1="893.8" y1="1379.5" x2="893.8" y2="1636.0" stroke="#000" stroke-width="3"/>
<line x1="882.5" y1="1634.5" x2="1140.5" y2="1634.5" stroke="#000" stroke-width="3"/>
<line x1="883.8" y1="1412.5" x2="893.8" y2="1412.5" stroke="#000" stroke-width="2.2"/>
<text x="879.5" y="1419.3" font-size="19" text-anchor="end" font-weight="bold" fill="#000">2</text>
<line x1="883.8" y1="1523.8" x2="893.8" y2="1523.8" stroke="#000" stroke-width="2.2"/>
<text x="879.5" y="1530.6" font-size="19" text-anchor="end" font-weight="bold" fill="#000">1</text>
<line x1="883.8" y1="1634.5" x2="893.8" y2="1634.5" stroke="#000" stroke-width="2.2"/>
<text x="879.5" y="1641.3" font-size="19" text-anchor="end" font-weight="bold" fill="#000">0</text>
<path d="M925.0 1380.0 V1366.8 H985.0 V1380.0" fill="none" stroke="#000" stroke-width="2" stroke-linejoin="miter"/>
<path d="M990.0 1380.5 V1366.8 H1099.2 V1380.5" fill="none" stroke="#000" stroke-width="2" stroke-linejoin="miter"/>
<text x="949.5" y="1346.2" font-size="20.5" text-anchor="middle" font-weight="bold" fill="#000">P=0.046</text>
<text x="1052.0" y="1346.2" font-size="20.5" text-anchor="middle" font-weight="bold" fill="#000">P=0.027</text>
<rect x="907.5" y="1665.8" width="102.0" height="4.5" fill="#000"/>
<rect x="1031.2" y="1665.8" width="102.5" height="4.5" fill="#000"/>
<text x="960.6" y="1708.0" font-size="34.5" text-anchor="middle" font-weight="bold" fill="#000" transform="translate(960.6 1708.0) scale(1.0 1.035) translate(-960.6 -1708.0)">Ad-</text>
<text x="961.5" y="1747.0" font-size="34.5" text-anchor="middle" font-weight="bold" fill="#000" transform="translate(961.5 1747.0) scale(1.0 1.035) translate(-961.5 -1747.0)">β-gal</text>
<text x="1087.5" y="1708.0" font-size="34.5" text-anchor="middle" font-weight="bold" fill="#000" transform="translate(1087.5 1708.0) scale(1.0 1.035) translate(-1087.5 -1708.0)">Ad-</text>
<text x="1088.0" y="1749.5" font-size="34.5" text-anchor="middle" font-weight="bold" fill="#000" transform="translate(1088.0 1749.5) scale(1.0 1.035) translate(-1088.0 -1749.5)">dnAMPK</text>
<text x="845.0" y="1664.0" font-size="34.5" text-anchor="start" font-weight="bold" fill="#000" transform="translate(845.0 1664.0) rotate(-90) scale(1.0 1.035) translate(-845.0 -1664.0)">pACC/tubulin levels</text>
<line x1="1315.2" y1="1521.2" x2="1315.2" y2="1493.2" stroke="#000" stroke-width="2.5"/>
<line x1="1306.0" y1="1493.2" x2="1324.5" y2="1493.2" stroke="#000" stroke-width="2.5"/>
<rect x="1298.5" y="1523.0" width="33.4" height="117.7" fill="#fff" stroke="#000" stroke-width="3.6"/>
<line x1="1372.8" y1="1419.2" x2="1372.8" y2="1407.0" stroke="#000" stroke-width="2.5"/>
<line x1="1363.5" y1="1407.0" x2="1382.0" y2="1407.0" stroke="#000" stroke-width="2.5"/>
<rect x="1356.0" y="1421.0" width="33.4" height="219.7" fill="#95d6d4" stroke="#000" stroke-width="3.6"/>
<line x1="1430.6" y1="1523.8" x2="1430.6" y2="1497.5" stroke="#000" stroke-width="2.5"/>
<line x1="1421.3" y1="1497.5" x2="1439.9" y2="1497.5" stroke="#000" stroke-width="2.5"/>
<rect x="1413.8" y="1525.5" width="33.6" height="115.2" fill="#fff" stroke="#000" stroke-width="3.6"/>
<line x1="1488.1" y1="1533.8" x2="1488.1" y2="1511.2" stroke="#000" stroke-width="2.5"/>
<line x1="1478.8" y1="1511.2" x2="1497.4" y2="1511.2" stroke="#000" stroke-width="2.5"/>
<rect x="1471.3" y="1535.5" width="33.6" height="105.2" fill="#95d6d4" stroke="#000" stroke-width="3.6"/>
<circle cx="1315.0" cy="1468.2" r="5.0" fill="#000"/>
<circle cx="1315.0" cy="1532.0" r="5.0" fill="#000"/>
<circle cx="1315.0" cy="1560.8" r="5.0" fill="#000"/>
<circle cx="1373.0" cy="1396.8" r="5.0" fill="#000"/>
<circle cx="1373.0" cy="1422.5" r="5.0" fill="#000"/>
<circle cx="1373.0" cy="1436.2" r="5.0" fill="#000"/>
<circle cx="1430.5" cy="1487.5" r="5.0" fill="#000"/>
<circle cx="1430.5" cy="1509.5" r="5.0" fill="#000"/>
<circle cx="1430.5" cy="1570.8" r="5.0" fill="#000"/>
<circle cx="1473.8" cy="1507.5" r="5.0" fill="#000"/>
<circle cx="1502.0" cy="1515.0" r="5.0" fill="#000"/>
<circle cx="1488.0" cy="1575.0" r="5.0" fill="#000"/>
<line x1="1277.0" y1="1363.8" x2="1277.0" y2="1642.2" stroke="#000" stroke-width="3"/>
<line x1="1266.2" y1="1640.8" x2="1526.2" y2="1640.8" stroke="#000" stroke-width="3"/>
<line x1="1267.0" y1="1398.8" x2="1277.0" y2="1398.8" stroke="#000" stroke-width="2.2"/>
<text x="1263.8" y="1405.6" font-size="19" text-anchor="end" font-weight="bold" fill="#000">2</text>
<line x1="1267.0" y1="1519.5" x2="1277.0" y2="1519.5" stroke="#000" stroke-width="2.2"/>
<text x="1263.8" y="1526.3" font-size="19" text-anchor="end" font-weight="bold" fill="#000">1</text>
<line x1="1267.0" y1="1640.8" x2="1277.0" y2="1640.8" stroke="#000" stroke-width="2.2"/>
<text x="1263.8" y="1647.6" font-size="19" text-anchor="end" font-weight="bold" fill="#000">0</text>
<path d="M1311.8 1385.0 V1370.5 H1372.5 V1385.0" fill="none" stroke="#000" stroke-width="2" stroke-linejoin="miter"/>
<path d="M1380.8 1383.8 V1369.2 H1486.8 V1383.8" fill="none" stroke="#000" stroke-width="2" stroke-linejoin="miter"/>
<text x="1338.8" y="1350.0" font-size="20.5" text-anchor="middle" font-weight="bold" fill="#000">P=0.030</text>
<text x="1441.5" y="1350.0" font-size="20.5" text-anchor="middle" font-weight="bold" fill="#000">P=0.002</text>
<rect x="1292.5" y="1666.0" width="102.5" height="4.5" fill="#000"/>
<rect x="1416.2" y="1666.0" width="102.5" height="4.5" fill="#000"/>
<text x="1346.0" y="1708.2" font-size="34.5" text-anchor="middle" font-weight="bold" fill="#000" transform="translate(1346.0 1708.2) scale(1.0 1.035) translate(-1346.0 -1708.2)">Ad-</text>
<text x="1346.0" y="1747.0" font-size="34.5" text-anchor="middle" font-weight="bold" fill="#000" transform="translate(1346.0 1747.0) scale(1.0 1.035) translate(-1346.0 -1747.0)">β-gal</text>
<text x="1472.5" y="1710.5" font-size="34.5" text-anchor="middle" font-weight="bold" fill="#000" transform="translate(1472.5 1710.5) scale(1.0 1.035) translate(-1472.5 -1710.5)">Ad-</text>
<text x="1473.0" y="1750.5" font-size="34.5" text-anchor="middle" font-weight="bold" fill="#000" transform="translate(1473.0 1750.5) scale(1.0 1.035) translate(-1473.0 -1750.5)">dnAMPK</text>
<text x="1218.8" y="1673.0" font-size="34.5" text-anchor="start" font-weight="bold" fill="#000" transform="translate(1218.8 1673.0) rotate(-90) scale(1.0 1.035) translate(-1218.8 -1673.0)">PGC1α/tubulin levels</text>
<rect x="1526.6" y="1422.4" width="72.9" height="27.7" fill="#fff" stroke="#000" stroke-width="5"/>
<rect x="1526.6" y="1457.5" width="72.9" height="27.9" fill="#7ecdcb" stroke="#000" stroke-width="5"/>
<text x="1622.0" y="1449.9" font-size="34.5" text-anchor="start" font-weight="bold" fill="#000" transform="translate(1622.0 1449.9) scale(1.0 1.035) translate(-1622.0 -1449.9)">Vehicle</text>
<text x="1627.8" y="1484.9" font-size="34.2" text-anchor="start" font-weight="bold" fill="#000" transform="translate(1627.8 1484.9) scale(1.0 1.035) translate(-1627.8 -1484.9)">Myonectin</text>
<text x="8.5" y="1868.5" font-size="53" text-anchor="start" font-weight="bold" fill="#000" transform="translate(8.5 1868.5) scale(1.06 1.035) translate(-8.5 -1868.5)">e</text>
<clipPath id="cc100"><rect x="165.0" y="1865.0" width="138.0" height="105.0"/></clipPath>
<g clip-path="url(#cc100)">
<rect x="165.0" y="1865.0" width="138.0" height="105.0" fill="#eadfe5"/>
<line x1="157.1" y1="1956.3" x2="208.1" y2="1852.0" stroke="#b8a0ac" stroke-opacity="0.35" stroke-width="1.5" stroke-linecap="round"/>
<line x1="215.9" y1="1881.4" x2="238.2" y2="1840.6" stroke="#c4a4b2" stroke-opacity="0.45" stroke-width="2.4" stroke-linecap="round"/>
<line x1="264.4" y1="1910.6" x2="288.3" y2="1850.4" stroke="#b8a0ac" stroke-opacity="0.35" stroke-width="1.3" stroke-linecap="round"/>
<line x1="196.8" y1="1985.5" x2="242.7" y2="1933.2" stroke="#b8a0ac" stroke-opacity="0.35" stroke-width="1.6" stroke-linecap="round"/>
<line x1="256.7" y1="1923.9" x2="311.8" y2="1826.2" stroke="#d8c0c8" stroke-opacity="0.5" stroke-width="2.0" stroke-linecap="round"/>
<line x1="165.9" y1="2003.8" x2="190.7" y2="1919.1" stroke="#c4a4b2" stroke-opacity="0.45" stroke-width="1.2" stroke-linecap="round"/>
<line x1="156.6" y1="1954.7" x2="228.4" y2="1867.4" stroke="#b8a0ac" stroke-opacity="0.35" stroke-width="2.0" stroke-linecap="round"/>
<line x1="297.5" y1="1972.0" x2="318.5" y2="1890.3" stroke="#d8c0c8" stroke-opacity="0.5" stroke-width="2.1" stroke-linecap="round"/>
<line x1="243.9" y1="1950.6" x2="281.6" y2="1895.0" stroke="#f6f0f4" stroke-opacity="0.6" stroke-width="2.4" stroke-linecap="round"/>
<line x1="161.8" y1="1913.0" x2="180.2" y2="1872.0" stroke="#d8c0c8" stroke-opacity="0.5" stroke-width="1.7" stroke-linecap="round"/>
<line x1="232.0" y1="1994.3" x2="303.9" y2="1907.5" stroke="#b8a0ac" stroke-opacity="0.35" stroke-width="1.8" stroke-linecap="round"/>
<line x1="144.2" y1="1950.7" x2="184.2" y2="1905.6" stroke="#d8c0c8" stroke-opacity="0.5" stroke-width="1.5" stroke-linecap="round"/>
<line x1="145.5" y1="1900.2" x2="202.7" y2="1822.5" stroke="#c4a4b2" stroke-opacity="0.45" stroke-width="1.9" stroke-linecap="round"/>
<line x1="162.3" y1="1986.5" x2="216.1" y2="1924.6" stroke="#b8a0ac" stroke-opacity="0.35" stroke-width="2.1" stroke-linecap="round"/>
<line x1="165.4" y1="1898.2" x2="180.6" y2="1860.1" stroke="#f6f0f4" stroke-opacity="0.6" stroke-width="1.8" stroke-linecap="round"/>
<line x1="161.6" y1="1987.8" x2="181.2" y2="1891.8" stroke="#b8a0ac" stroke-opacity="0.35" stroke-width="1.2" stroke-linecap="round"/>
<line x1="210.7" y1="1877.0" x2="240.0" y2="1845.3" stroke="#d8c0c8" stroke-opacity="0.5" stroke-width="1.7" stroke-linecap="round"/>
<line x1="139.4" y1="1900.6" x2="220.3" y2="1819.2" stroke="#c4a4b2" stroke-opacity="0.45" stroke-width="1.3" stroke-linecap="round"/>
<line x1="298.8" y1="1927.2" x2="310.0" y2="1883.3" stroke="#c4a4b2" stroke-opacity="0.45" stroke-width="1.8" stroke-linecap="round"/>
<line x1="216.9" y1="1973.9" x2="258.5" y2="1887.7" stroke="#d8c0c8" stroke-opacity="0.5" stroke-width="2.3" stroke-linecap="round"/>
<line x1="212.8" y1="1998.7" x2="227.6" y2="1943.9" stroke="#d8c0c8" stroke-opacity="0.5" stroke-width="1.9" stroke-linecap="round"/>
<line x1="135.7" y1="1924.7" x2="204.3" y2="1842.2" stroke="#d8c0c8" stroke-opacity="0.5" stroke-width="1.1" stroke-linecap="round"/>
<line x1="151.9" y1="1909.3" x2="170.1" y2="1807.2" stroke="#f6f0f4" stroke-opacity="0.6" stroke-width="2.2" stroke-linecap="round"/>
<line x1="161.3" y1="1911.6" x2="174.0" y2="1872.9" stroke="#f6f0f4" stroke-opacity="0.6" stroke-width="2.0" stroke-linecap="round"/>
<line x1="176.8" y1="1979.8" x2="244.6" y2="1898.7" stroke="#c4a4b2" stroke-opacity="0.45" stroke-width="1.7" stroke-linecap="round"/>
<line x1="249.0" y1="1979.0" x2="280.0" y2="1944.1" stroke="#b8a0ac" stroke-opacity="0.35" stroke-width="2.3" stroke-linecap="round"/>
<line x1="250.0" y1="1902.8" x2="275.7" y2="1810.6" stroke="#b8a0ac" stroke-opacity="0.35" stroke-width="1.5" stroke-linecap="round"/>
<line x1="215.8" y1="1915.5" x2="235.4" y2="1847.7" stroke="#d8c0c8" stroke-opacity="0.5" stroke-width="1.2" stroke-linecap="round"/>
<line x1="264.6" y1="1947.1" x2="281.2" y2="1872.3" stroke="#f6f0f4" stroke-opacity="0.6" stroke-width="2.3" stroke-linecap="round"/>
<line x1="159.0" y1="1953.1" x2="186.1" y2="1911.0" stroke="#c4a4b2" stroke-opacity="0.45" stroke-width="1.1" stroke-linecap="round"/>
<line x1="293.4" y1="1894.5" x2="322.3" y2="1832.8" stroke="#d8c0c8" stroke-opacity="0.5" stroke-width="2.4" stroke-linecap="round"/>
<line x1="166.9" y1="1891.8" x2="176.6" y2="1840.3" stroke="#d8c0c8" stroke-opacity="0.5" stroke-width="1.9" stroke-linecap="round"/>
<line x1="152.0" y1="2022.1" x2="204.5" y2="1929.0" stroke="#c4a4b2" stroke-opacity="0.45" stroke-width="1.8" stroke-linecap="round"/>
<line x1="255.5" y1="1958.2" x2="287.3" y2="1846.7" stroke="#b8a0ac" stroke-opacity="0.35" stroke-width="2.3" stroke-linecap="round"/>
<line x1="184.8" y1="1972.3" x2="227.3" y2="1906.0" stroke="#c4a4b2" stroke-opacity="0.45" stroke-width="2.3" stroke-linecap="round"/>
<line x1="250.7" y1="1975.7" x2="292.6" y2="1929.2" stroke="#d8c0c8" stroke-opacity="0.5" stroke-width="1.5" stroke-linecap="round"/>
<line x1="153.4" y1="1887.7" x2="192.3" y2="1844.6" stroke="#c4a4b2" stroke-opacity="0.45" stroke-width="1.7" stroke-linecap="round"/>
<line x1="210.5" y1="1944.1" x2="250.3" y2="1889.0" stroke="#c4a4b2" stroke-opacity="0.45" stroke-width="2.4" stroke-linecap="round"/>
<line x1="299.3" y1="1991.1" x2="315.0" y2="1910.6" stroke="#f6f0f4" stroke-opacity="0.6" stroke-width="2.0" stroke-linecap="round"/>
<line x1="195.4" y1="1977.4" x2="260.9" y2="1906.3" stroke="#c4a4b2" stroke-opacity="0.45" stroke-width="1.2" stroke-linecap="round"/>
<line x1="186.2" y1="1912.1" x2="218.6" y2="1874.5" stroke="#f6f0f4" stroke-opacity="0.6" stroke-width="2.3" stroke-linecap="round"/>
<line x1="150.2" y1="1918.3" x2="187.7" y2="1877.6" stroke="#d8c0c8" stroke-opacity="0.5" stroke-width="2.1" stroke-linecap="round"/>
<line x1="135.0" y1="1930.0" x2="200.9" y2="1858.7" stroke="#b8a0ac" stroke-opacity="0.35" stroke-width="1.3" stroke-linecap="round"/>
<line x1="295.6" y1="1991.7" x2="308.5" y2="1944.6" stroke="#f6f0f4" stroke-opacity="0.6" stroke-width="1.3" stroke-linecap="round"/>
<line x1="239.1" y1="1998.5" x2="278.4" y2="1919.8" stroke="#b8a0ac" stroke-opacity="0.35" stroke-width="1.7" stroke-linecap="round"/>
<line x1="215.1" y1="1941.9" x2="229.3" y2="1863.4" stroke="#f6f0f4" stroke-opacity="0.6" stroke-width="1.3" stroke-linecap="round"/>
<line x1="296.6" y1="1933.8" x2="314.4" y2="1876.2" stroke="#b8a0ac" stroke-opacity="0.35" stroke-width="2.4" stroke-linecap="round"/>
<line x1="190.1" y1="1982.0" x2="204.0" y2="1942.1" stroke="#d8c0c8" stroke-opacity="0.5" stroke-width="1.3" stroke-linecap="round"/>
<line x1="174.0" y1="1965.2" x2="189.6" y2="1898.9" stroke="#d8c0c8" stroke-opacity="0.5" stroke-width="1.6" stroke-linecap="round"/>
<line x1="279.0" y1="1878.9" x2="296.0" y2="1840.8" stroke="#b8a0ac" stroke-opacity="0.35" stroke-width="1.7" stroke-linecap="round"/>
<line x1="281.0" y1="1914.4" x2="322.8" y2="1860.2" stroke="#c4a4b2" stroke-opacity="0.45" stroke-width="1.9" stroke-linecap="round"/>
<line x1="163.3" y1="1901.1" x2="196.4" y2="1840.5" stroke="#f6f0f4" stroke-opacity="0.6" stroke-width="1.3" stroke-linecap="round"/>
<line x1="167.1" y1="1953.1" x2="221.0" y2="1881.7" stroke="#d8c0c8" stroke-opacity="0.5" stroke-width="1.1" stroke-linecap="round"/>
<line x1="149.7" y1="1982.8" x2="166.3" y2="1925.5" stroke="#b8a0ac" stroke-opacity="0.35" stroke-width="1.4" stroke-linecap="round"/>
<line x1="190.3" y1="1996.6" x2="225.5" y2="1886.2" stroke="#d8c0c8" stroke-opacity="0.5" stroke-width="1.9" stroke-linecap="round"/>
<line x1="254.9" y1="1895.3" x2="280.2" y2="1832.8" stroke="#d8c0c8" stroke-opacity="0.5" stroke-width="1.4" stroke-linecap="round"/>
<line x1="195.5" y1="1914.4" x2="242.0" y2="1805.5" stroke="#b8a0ac" stroke-opacity="0.35" stroke-width="2.4" stroke-linecap="round"/>
<line x1="240.9" y1="1911.2" x2="289.0" y2="1823.5" stroke="#c4a4b2" stroke-opacity="0.45" stroke-width="2.2" stroke-linecap="round"/>
<line x1="171.8" y1="1979.5" x2="226.0" y2="1922.9" stroke="#d8c0c8" stroke-opacity="0.5" stroke-width="1.8" stroke-linecap="round"/>
<line x1="183.4" y1="1905.9" x2="224.9" y2="1825.7" stroke="#c4a4b2" stroke-opacity="0.45" stroke-width="2.1" stroke-linecap="round"/>
<ellipse cx="255.2" cy="1931.3" rx="3.0" ry="3.9" fill="#d0b8b0" fill-opacity="0.7"/>
<ellipse cx="176.8" cy="1929.3" rx="3.0" ry="3.9" fill="#d0b8b0" fill-opacity="0.7"/>
<ellipse cx="301.4" cy="1918.2" rx="2.5" ry="3.2" fill="#c8a89a" fill-opacity="0.7"/>
<ellipse cx="210.8" cy="1907.7" rx="2.0" ry="2.6" fill="#b89080" fill-opacity="0.7"/>
<ellipse cx="224.9" cy="1891.0" rx="3.0" ry="3.9" fill="#d0b8b0" fill-opacity="0.7"/>
<ellipse cx="268.2" cy="1936.6" rx="3.0" ry="3.9" fill="#d0b8b0" fill-opacity="0.7"/>
<ellipse cx="215.8" cy="1957.9" rx="2.0" ry="2.6" fill="#b89080" fill-opacity="0.7"/>
<ellipse cx="223.4" cy="1912.3" rx="2.0" ry="2.6" fill="#b89080" fill-opacity="0.7"/>
<ellipse cx="247.8" cy="1950.2" rx="3.0" ry="3.9" fill="#d0b8b0" fill-opacity="0.7"/>
<ellipse cx="232.5" cy="1940.0" rx="2.0" ry="2.6" fill="#b89080" fill-opacity="0.7"/>
<ellipse cx="230.2" cy="1886.5" rx="2.5" ry="3.2" fill="#c8a89a" fill-opacity="0.7"/>
<ellipse cx="204.5" cy="1866.0" rx="3.0" ry="3.9" fill="#d0b8b0" fill-opacity="0.7"/>
<ellipse cx="287.5" cy="1945.9" rx="2.0" ry="2.6" fill="#b89080" fill-opacity="0.7"/>
<ellipse cx="244.7" cy="1890.5" rx="3.0" ry="3.9" fill="#d0b8b0" fill-opacity="0.7"/>
<ellipse cx="279.4" cy="1952.9" rx="2.5" ry="3.2" fill="#c8a89a" fill-opacity="0.7"/>
<ellipse cx="207.7" cy="1920.1" rx="2.0" ry="2.6" fill="#b89080" fill-opacity="0.7"/>
<ellipse cx="218.1" cy="1925.4" rx="2.0" ry="2.6" fill="#b89080" fill-opacity="0.7"/>
<ellipse cx="230.4" cy="1923.6" rx="3.0" ry="3.9" fill="#d0b8b0" fill-opacity="0.7"/>
<ellipse cx="169.4" cy="1943.4" rx="2.5" ry="3.2" fill="#c8a89a" fill-opacity="0.7"/>
<ellipse cx="235.2" cy="1905.7" rx="2.5" ry="3.2" fill="#c8a89a" fill-opacity="0.7"/>
<ellipse cx="167.8" cy="1872.8" rx="2.5" ry="3.2" fill="#c8a89a" fill-opacity="0.7"/>
<ellipse cx="217.6" cy="1897.5" rx="3.0" ry="3.9" fill="#d0b8b0" fill-opacity="0.7"/>
<ellipse cx="187.5" cy="1929.6" rx="3.0" ry="3.9" fill="#d0b8b0" fill-opacity="0.7"/>
<ellipse cx="268.9" cy="1903.5" rx="3.0" ry="3.9" fill="#d0b8b0" fill-opacity="0.7"/>
<ellipse cx="213.3" cy="1894.2" rx="2.0" ry="2.6" fill="#b89080" fill-opacity="0.7"/>
</g>
<clipPath id="cc101"><rect x="303.0" y="1865.0" width="138.5" height="105.0"/></clipPath>
<g clip-path="url(#cc101)">
<rect x="303.0" y="1865.0" width="138.5" height="105.0" fill="#e8d9df"/>
<line x1="322.1" y1="1892.1" x2="377.6" y2="1830.1" stroke="#b8a0ac" stroke-opacity="0.35" stroke-width="1.8" stroke-linecap="round"/>
<line x1="390.7" y1="1925.4" x2="443.5" y2="1866.9" stroke="#b8a0ac" stroke-opacity="0.35" stroke-width="1.7" stroke-linecap="round"/>
<line x1="408.2" y1="1923.4" x2="421.8" y2="1878.3" stroke="#f6f0f4" stroke-opacity="0.6" stroke-width="1.7" stroke-linecap="round"/>
<line x1="343.7" y1="1911.9" x2="376.2" y2="1813.8" stroke="#f6f0f4" stroke-opacity="0.6" stroke-width="1.7" stroke-linecap="round"/>
<line x1="388.1" y1="1989.5" x2="413.5" y2="1886.7" stroke="#b8a0ac" stroke-opacity="0.35" stroke-width="2.3" stroke-linecap="round"/>
<line x1="287.5" y1="1971.2" x2="322.9" y2="1924.9" stroke="#d8c0c8" stroke-opacity="0.5" stroke-width="1.6" stroke-linecap="round"/>
<line x1="411.9" y1="1924.0" x2="426.3" y2="1878.7" stroke="#d8c0c8" stroke-opacity="0.5" stroke-width="1.5" stroke-linecap="round"/>
<line x1="285.5" y1="1900.3" x2="311.5" y2="1854.9" stroke="#f6f0f4" stroke-opacity="0.6" stroke-width="1.1" stroke-linecap="round"/>
<line x1="399.8" y1="2021.5" x2="448.7" y2="1912.6" stroke="#b8a0ac" stroke-opacity="0.35" stroke-width="1.9" stroke-linecap="round"/>
<line x1="317.0" y1="2012.6" x2="367.7" y2="1914.9" stroke="#b8a0ac" stroke-opacity="0.35" stroke-width="2.0" stroke-linecap="round"/>
<line x1="368.7" y1="1938.2" x2="399.8" y2="1905.3" stroke="#c4a4b2" stroke-opacity="0.45" stroke-width="2.1" stroke-linecap="round"/>
<line x1="389.2" y1="1971.0" x2="420.6" y2="1932.7" stroke="#d8c0c8" stroke-opacity="0.5" stroke-width="2.2" stroke-linecap="round"/>
<line x1="293.0" y1="2018.8" x2="356.7" y2="1924.4" stroke="#b8a0ac" stroke-opacity="0.35" stroke-width="1.8" stroke-linecap="round"/>
<line x1="336.7" y1="1927.2" x2="348.2" y2="1876.5" stroke="#b8a0ac" stroke-opacity="0.35" stroke-width="1.1" stroke-linecap="round"/>
<line x1="388.4" y1="1920.8" x2="412.9" y2="1871.1" stroke="#f6f0f4" stroke-opacity="0.6" stroke-width="1.4" stroke-linecap="round"/>
<line x1="301.7" y1="2004.3" x2="319.8" y2="1950.9" stroke="#b8a0ac" stroke-opacity="0.35" stroke-width="2.4" stroke-linecap="round"/>
<line x1="438.0" y1="1906.6" x2="457.8" y2="1847.4" stroke="#f6f0f4" stroke-opacity="0.6" stroke-width="1.0" stroke-linecap="round"/>
<line x1="358.6" y1="1984.9" x2="407.9" y2="1926.1" stroke="#d8c0c8" stroke-opacity="0.5" stroke-width="1.4" stroke-linecap="round"/>
<line x1="374.6" y1="1919.3" x2="399.4" y2="1869.5" stroke="#f6f0f4" stroke-opacity="0.6" stroke-width="1.0" stroke-linecap="round"/>
<line x1="418.5" y1="1949.4" x2="450.9" y2="1860.8" stroke="#b8a0ac" stroke-opacity="0.35" stroke-width="1.1" stroke-linecap="round"/>
<line x1="384.9" y1="1898.5" x2="411.9" y2="1848.0" stroke="#b8a0ac" stroke-opacity="0.35" stroke-width="1.2" stroke-linecap="round"/>
<line x1="380.1" y1="1982.9" x2="420.4" y2="1898.9" stroke="#c4a4b2" stroke-opacity="0.45" stroke-width="1.5" stroke-linecap="round"/>
<line x1="333.0" y1="1980.0" x2="353.9" y2="1899.0" stroke="#b8a0ac" stroke-opacity="0.35" stroke-width="2.1" stroke-linecap="round"/>
<line x1="429.0" y1="1970.2" x2="465.8" y2="1927.6" stroke="#b8a0ac" stroke-opacity="0.35" stroke-width="1.4" stroke-linecap="round"/>
<line x1="376.6" y1="1919.0" x2="420.7" y2="1858.2" stroke="#f6f0f4" stroke-opacity="0.6" stroke-width="2.1" stroke-linecap="round"/>
<line x1="425.6" y1="2001.1" x2="472.2" y2="1939.5" stroke="#c4a4b2" stroke-opacity="0.45" stroke-width="1.1" stroke-linecap="round"/>
<line x1="383.5" y1="2008.7" x2="446.6" y2="1939.9" stroke="#d8c0c8" stroke-opacity="0.5" stroke-width="1.7" stroke-linecap="round"/>
<line x1="378.1" y1="1923.9" x2="399.5" y2="1816.4" stroke="#c4a4b2" stroke-opacity="0.45" stroke-width="1.1" stroke-linecap="round"/>
<line x1="297.9" y1="1989.9" x2="334.6" y2="1898.5" stroke="#d8c0c8" stroke-opacity="0.5" stroke-width="1.6" stroke-linecap="round"/>
<line x1="389.0" y1="1955.2" x2="401.2" y2="1887.7" stroke="#f6f0f4" stroke-opacity="0.6" stroke-width="2.5" stroke-linecap="round"/>
<line x1="423.7" y1="1975.4" x2="452.8" y2="1930.2" stroke="#b8a0ac" stroke-opacity="0.35" stroke-width="2.1" stroke-linecap="round"/>
<line x1="313.7" y1="1939.0" x2="332.3" y2="1900.2" stroke="#b8a0ac" stroke-opacity="0.35" stroke-width="2.1" stroke-linecap="round"/>
<line x1="285.2" y1="2007.6" x2="304.7" y2="1927.8" stroke="#b8a0ac" stroke-opacity="0.35" stroke-width="1.8" stroke-linecap="round"/>
<line x1="293.7" y1="1902.7" x2="333.2" y2="1834.9" stroke="#b8a0ac" stroke-opacity="0.35" stroke-width="1.1" stroke-linecap="round"/>
<line x1="288.8" y1="1888.1" x2="339.7" y2="1836.8" stroke="#c4a4b2" stroke-opacity="0.45" stroke-width="1.4" stroke-linecap="round"/>
<line x1="307.9" y1="1968.1" x2="352.6" y2="1922.7" stroke="#c4a4b2" stroke-opacity="0.45" stroke-width="1.6" stroke-linecap="round"/>
<line x1="424.4" y1="2001.6" x2="453.0" y2="1897.2" stroke="#d8c0c8" stroke-opacity="0.5" stroke-width="2.4" stroke-linecap="round"/>
<line x1="338.0" y1="1909.6" x2="371.4" y2="1860.8" stroke="#f6f0f4" stroke-opacity="0.6" stroke-width="1.4" stroke-linecap="round"/>
<line x1="355.6" y1="1996.3" x2="369.6" y2="1945.1" stroke="#d8c0c8" stroke-opacity="0.5" stroke-width="2.3" stroke-linecap="round"/>
<line x1="399.8" y1="1905.2" x2="432.7" y2="1860.8" stroke="#c4a4b2" stroke-opacity="0.45" stroke-width="1.8" stroke-linecap="round"/>
<line x1="312.5" y1="1985.9" x2="354.1" y2="1929.6" stroke="#c4a4b2" stroke-opacity="0.45" stroke-width="2.1" stroke-linecap="round"/>
<line x1="331.8" y1="2016.4" x2="399.4" y2="1927.0" stroke="#f6f0f4" stroke-opacity="0.6" stroke-width="1.4" stroke-linecap="round"/>
<line x1="307.0" y1="1886.5" x2="335.0" y2="1828.8" stroke="#c4a4b2" stroke-opacity="0.45" stroke-width="1.7" stroke-linecap="round"/>
<line x1="326.5" y1="1911.1" x2="371.8" y2="1856.8" stroke="#c4a4b2" stroke-opacity="0.45" stroke-width="1.6" stroke-linecap="round"/>
<line x1="400.9" y1="1916.4" x2="475.8" y2="1840.2" stroke="#d8c0c8" stroke-opacity="0.5" stroke-width="2.0" stroke-linecap="round"/>
<line x1="388.9" y1="1996.0" x2="428.0" y2="1885.1" stroke="#d8c0c8" stroke-opacity="0.5" stroke-width="1.4" stroke-linecap="round"/>
<line x1="391.4" y1="1917.8" x2="405.0" y2="1866.5" stroke="#d8c0c8" stroke-opacity="0.5" stroke-width="1.3" stroke-linecap="round"/>
<line x1="400.2" y1="1972.8" x2="410.2" y2="1925.2" stroke="#c4a4b2" stroke-opacity="0.45" stroke-width="1.7" stroke-linecap="round"/>
<line x1="290.9" y1="2011.1" x2="338.4" y2="1934.8" stroke="#d8c0c8" stroke-opacity="0.5" stroke-width="1.4" stroke-linecap="round"/>
<line x1="324.7" y1="1972.4" x2="384.5" y2="1892.9" stroke="#b8a0ac" stroke-opacity="0.35" stroke-width="1.7" stroke-linecap="round"/>
<line x1="397.1" y1="1987.6" x2="447.1" y2="1930.0" stroke="#c4a4b2" stroke-opacity="0.45" stroke-width="1.2" stroke-linecap="round"/>
<line x1="398.4" y1="2005.6" x2="427.2" y2="1954.4" stroke="#c4a4b2" stroke-opacity="0.45" stroke-width="1.8" stroke-linecap="round"/>
<line x1="407.9" y1="1902.7" x2="467.1" y2="1820.9" stroke="#d8c0c8" stroke-opacity="0.5" stroke-width="2.1" stroke-linecap="round"/>
<line x1="401.0" y1="1950.9" x2="412.0" y2="1891.4" stroke="#c4a4b2" stroke-opacity="0.45" stroke-width="1.8" stroke-linecap="round"/>
<line x1="379.6" y1="1923.8" x2="421.0" y2="1847.8" stroke="#f6f0f4" stroke-opacity="0.6" stroke-width="1.8" stroke-linecap="round"/>
<line x1="316.4" y1="1935.6" x2="329.1" y2="1893.4" stroke="#c4a4b2" stroke-opacity="0.45" stroke-width="1.9" stroke-linecap="round"/>
<line x1="300.4" y1="1903.4" x2="330.1" y2="1846.3" stroke="#d8c0c8" stroke-opacity="0.5" stroke-width="1.6" stroke-linecap="round"/>
<line x1="290.4" y1="1936.6" x2="319.2" y2="1836.1" stroke="#c4a4b2" stroke-opacity="0.45" stroke-width="2.0" stroke-linecap="round"/>
<line x1="320.3" y1="1987.2" x2="350.4" y2="1956.5" stroke="#c4a4b2" stroke-opacity="0.45" stroke-width="2.0" stroke-linecap="round"/>
<line x1="326.4" y1="2003.2" x2="361.2" y2="1899.9" stroke="#d8c0c8" stroke-opacity="0.5" stroke-width="1.9" stroke-linecap="round"/>
<ellipse cx="433.2" cy="1954.6" rx="2.0" ry="2.6" fill="#b89080" fill-opacity="0.7"/>
<ellipse cx="347.2" cy="1925.2" rx="2.0" ry="2.6" fill="#b89080" fill-opacity="0.7"/>
<ellipse cx="435.6" cy="1919.2" rx="2.0" ry="2.6" fill="#b89080" fill-opacity="0.7"/>
<ellipse cx="438.1" cy="1881.6" rx="2.0" ry="2.6" fill="#b89080" fill-opacity="0.7"/>
<ellipse cx="401.9" cy="1866.2" rx="2.5" ry="3.2" fill="#c8a89a" fill-opacity="0.7"/>
<ellipse cx="376.1" cy="1951.5" rx="2.5" ry="3.2" fill="#c8a89a" fill-opacity="0.7"/>
<ellipse cx="337.7" cy="1911.8" rx="2.5" ry="3.2" fill="#c8a89a" fill-opacity="0.7"/>
<ellipse cx="332.0" cy="1876.0" rx="3.0" ry="3.9" fill="#d0b8b0" fill-opacity="0.7"/>
<ellipse cx="427.7" cy="1949.3" rx="2.0" ry="2.6" fill="#b89080" fill-opacity="0.7"/>
<ellipse cx="424.4" cy="1866.2" rx="2.0" ry="2.6" fill="#b89080" fill-opacity="0.7"/>
<ellipse cx="388.6" cy="1917.6" rx="2.5" ry="3.2" fill="#c8a89a" fill-opacity="0.7"/>
<ellipse cx="359.2" cy="1961.9" rx="3.0" ry="3.9" fill="#d0b8b0" fill-opacity="0.7"/>
<ellipse cx="352.0" cy="1873.6" rx="3.0" ry="3.9" fill="#d0b8b0" fill-opacity="0.7"/>
<ellipse cx="331.4" cy="1959.0" rx="2.5" ry="3.2" fill="#c8a89a" fill-opacity="0.7"/>
<ellipse cx="416.9" cy="1947.2" rx="3.0" ry="3.9" fill="#d0b8b0" fill-opacity="0.7"/>
<ellipse cx="429.1" cy="1905.5" rx="2.5" ry="3.2" fill="#c8a89a" fill-opacity="0.7"/>
<ellipse cx="372.8" cy="1948.5" rx="3.0" ry="3.9" fill="#d0b8b0" fill-opacity="0.7"/>
<ellipse cx="421.7" cy="1938.2" rx="3.0" ry="3.9" fill="#d0b8b0" fill-opacity="0.7"/>
<ellipse cx="399.9" cy="1889.3" rx="2.0" ry="2.6" fill="#b89080" fill-opacity="0.7"/>
<ellipse cx="326.9" cy="1917.1" rx="2.0" ry="2.6" fill="#b89080" fill-opacity="0.7"/>
<ellipse cx="395.6" cy="1897.5" rx="3.0" ry="3.9" fill="#d0b8b0" fill-opacity="0.7"/>
<ellipse cx="347.4" cy="1909.1" rx="2.0" ry="2.6" fill="#b89080" fill-opacity="0.7"/>
<ellipse cx="352.1" cy="1961.2" rx="2.0" ry="2.6" fill="#b89080" fill-opacity="0.7"/>
<ellipse cx="391.4" cy="1916.2" rx="3.0" ry="3.9" fill="#d0b8b0" fill-opacity="0.7"/>
<ellipse cx="353.7" cy="1925.0" rx="2.5" ry="3.2" fill="#c8a89a" fill-opacity="0.7"/>
</g>
<clipPath id="cc102"><rect x="441.5" y="1865.0" width="138.5" height="105.0"/></clipPath>
<g clip-path="url(#cc102)">
<rect x="441.5" y="1865.0" width="138.5" height="105.0" fill="#e6e0e2"/>
<line x1="500.3" y1="1966.2" x2="538.4" y2="1909.0" stroke="#b8a0ac" stroke-opacity="0.35" stroke-width="1.3" stroke-linecap="round"/>
<line x1="416.0" y1="1957.6" x2="460.7" y2="1884.9" stroke="#f6f0f4" stroke-opacity="0.6" stroke-width="1.9" stroke-linecap="round"/>
<line x1="447.0" y1="1899.5" x2="487.9" y2="1842.5" stroke="#b8a0ac" stroke-opacity="0.35" stroke-width="2.2" stroke-linecap="round"/>
<line x1="491.3" y1="1914.9" x2="530.5" y2="1850.6" stroke="#b8a0ac" stroke-opacity="0.35" stroke-width="1.8" stroke-linecap="round"/>
<line x1="490.7" y1="1896.0" x2="524.0" y2="1831.1" stroke="#b8a0ac" stroke-opacity="0.35" stroke-width="1.9" stroke-linecap="round"/>
<line x1="488.3" y1="1955.9" x2="510.2" y2="1904.8" stroke="#f6f0f4" stroke-opacity="0.6" stroke-width="2.3" stroke-linecap="round"/>
<line x1="446.6" y1="1948.5" x2="482.1" y2="1908.7" stroke="#b8a0ac" stroke-opacity="0.35" stroke-width="1.9" stroke-linecap="round"/>
<line x1="573.3" y1="1994.1" x2="595.5" y2="1907.7" stroke="#d8c0c8" stroke-opacity="0.5" stroke-width="1.4" stroke-linecap="round"/>
<line x1="560.9" y1="1943.7" x2="602.5" y2="1878.1" stroke="#f6f0f4" stroke-opacity="0.6" stroke-width="1.9" stroke-linecap="round"/>
<line x1="506.7" y1="2014.9" x2="546.6" y2="1923.8" stroke="#b8a0ac" stroke-opacity="0.35" stroke-width="1.9" stroke-linecap="round"/>
<line x1="563.0" y1="2004.6" x2="597.3" y2="1941.4" stroke="#f6f0f4" stroke-opacity="0.6" stroke-width="1.3" stroke-linecap="round"/>
<line x1="551.3" y1="1978.4" x2="600.8" y2="1913.2" stroke="#c4a4b2" stroke-opacity="0.45" stroke-width="1.6" stroke-linecap="round"/>
<line x1="525.2" y1="1918.8" x2="547.9" y2="1846.4" stroke="#b8a0ac" stroke-opacity="0.35" stroke-width="1.6" stroke-linecap="round"/>
<line x1="411.9" y1="1920.6" x2="454.4" y2="1849.8" stroke="#b8a0ac" stroke-opacity="0.35" stroke-width="1.4" stroke-linecap="round"/>
<line x1="491.3" y1="1920.0" x2="504.1" y2="1869.5" stroke="#c4a4b2" stroke-opacity="0.45" stroke-width="2.1" stroke-linecap="round"/>
<line x1="518.4" y1="1989.3" x2="562.1" y2="1929.1" stroke="#d8c0c8" stroke-opacity="0.5" stroke-width="2.0" stroke-linecap="round"/>
<line x1="539.9" y1="1959.7" x2="586.2" y2="1865.9" stroke="#c4a4b2" stroke-opacity="0.45" stroke-width="2.3" stroke-linecap="round"/>
<line x1="554.4" y1="1998.8" x2="592.1" y2="1889.8" stroke="#b8a0ac" stroke-opacity="0.35" stroke-width="2.0" stroke-linecap="round"/>
<line x1="488.2" y1="1907.3" x2="503.7" y2="1848.9" stroke="#d8c0c8" stroke-opacity="0.5" stroke-width="1.6" stroke-linecap="round"/>
<line x1="499.4" y1="1962.4" x2="565.9" y2="1866.3" stroke="#b8a0ac" stroke-opacity="0.35" stroke-width="2.3" stroke-linecap="round"/>
<line x1="446.3" y1="1975.5" x2="476.1" y2="1931.6" stroke="#f6f0f4" stroke-opacity="0.6" stroke-width="2.0" stroke-linecap="round"/>
<line x1="483.0" y1="1994.4" x2="507.7" y2="1900.8" stroke="#b8a0ac" stroke-opacity="0.35" stroke-width="1.1" stroke-linecap="round"/>
<line x1="537.6" y1="1974.1" x2="575.2" y2="1906.3" stroke="#f6f0f4" stroke-opacity="0.6" stroke-width="2.2" stroke-linecap="round"/>
<line x1="554.8" y1="1929.8" x2="593.6" y2="1818.0" stroke="#c4a4b2" stroke-opacity="0.45" stroke-width="2.5" stroke-linecap="round"/>
<line x1="540.4" y1="2024.0" x2="561.9" y2="1925.7" stroke="#b8a0ac" stroke-opacity="0.35" stroke-width="1.0" stroke-linecap="round"/>
<line x1="484.6" y1="1927.4" x2="527.8" y2="1850.9" stroke="#d8c0c8" stroke-opacity="0.5" stroke-width="2.4" stroke-linecap="round"/>
<line x1="415.0" y1="1972.3" x2="473.1" y2="1911.2" stroke="#b8a0ac" stroke-opacity="0.35" stroke-width="1.2" stroke-linecap="round"/>
<line x1="508.5" y1="2001.3" x2="577.1" y2="1925.6" stroke="#b8a0ac" stroke-opacity="0.35" stroke-width="1.6" stroke-linecap="round"/>
<line x1="497.8" y1="1932.2" x2="514.9" y2="1867.3" stroke="#d8c0c8" stroke-opacity="0.5" stroke-width="2.4" stroke-linecap="round"/>
<line x1="479.9" y1="1904.8" x2="507.8" y2="1815.3" stroke="#b8a0ac" stroke-opacity="0.35" stroke-width="2.0" stroke-linecap="round"/>
<line x1="423.9" y1="1904.3" x2="467.3" y2="1819.3" stroke="#f6f0f4" stroke-opacity="0.6" stroke-width="2.0" stroke-linecap="round"/>
<line x1="582.1" y1="1996.6" x2="596.2" y2="1921.7" stroke="#b8a0ac" stroke-opacity="0.35" stroke-width="2.5" stroke-linecap="round"/>
<line x1="557.8" y1="1941.9" x2="573.9" y2="1865.8" stroke="#c4a4b2" stroke-opacity="0.45" stroke-width="1.7" stroke-linecap="round"/>
<line x1="547.6" y1="1982.9" x2="616.6" y2="1886.6" stroke="#d8c0c8" stroke-opacity="0.5" stroke-width="1.4" stroke-linecap="round"/>
<line x1="529.8" y1="1979.4" x2="591.3" y2="1901.1" stroke="#b8a0ac" stroke-opacity="0.35" stroke-width="2.4" stroke-linecap="round"/>
<line x1="428.3" y1="1989.0" x2="461.7" y2="1936.0" stroke="#c4a4b2" stroke-opacity="0.45" stroke-width="2.3" stroke-linecap="round"/>
<line x1="448.1" y1="1903.1" x2="476.0" y2="1827.0" stroke="#f6f0f4" stroke-opacity="0.6" stroke-width="2.1" stroke-linecap="round"/>
<line x1="460.8" y1="2009.7" x2="488.3" y2="1926.5" stroke="#b8a0ac" stroke-opacity="0.35" stroke-width="1.0" stroke-linecap="round"/>
<line x1="551.4" y1="1971.9" x2="603.7" y2="1917.9" stroke="#b8a0ac" stroke-opacity="0.35" stroke-width="1.4" stroke-linecap="round"/>
<line x1="489.7" y1="1988.4" x2="535.6" y2="1923.8" stroke="#b8a0ac" stroke-opacity="0.35" stroke-width="1.0" stroke-linecap="round"/>
<line x1="442.4" y1="1958.7" x2="496.0" y2="1856.3" stroke="#f6f0f4" stroke-opacity="0.6" stroke-width="2.2" stroke-linecap="round"/>
<line x1="489.9" y1="1929.2" x2="531.6" y2="1839.1" stroke="#c4a4b2" stroke-opacity="0.45" stroke-width="2.4" stroke-linecap="round"/>
<line x1="445.5" y1="1932.8" x2="510.8" y2="1858.4" stroke="#c4a4b2" stroke-opacity="0.45" stroke-width="2.2" stroke-linecap="round"/>
<line x1="476.5" y1="1996.9" x2="508.5" y2="1951.7" stroke="#c4a4b2" stroke-opacity="0.45" stroke-width="1.5" stroke-linecap="round"/>
<line x1="504.6" y1="1978.0" x2="526.2" y2="1936.8" stroke="#b8a0ac" stroke-opacity="0.35" stroke-width="2.1" stroke-linecap="round"/>
<line x1="474.6" y1="1885.1" x2="522.3" y2="1833.2" stroke="#c4a4b2" stroke-opacity="0.45" stroke-width="2.4" stroke-linecap="round"/>
<line x1="509.8" y1="1950.4" x2="549.6" y2="1895.6" stroke="#c4a4b2" stroke-opacity="0.45" stroke-width="1.6" stroke-linecap="round"/>
<line x1="562.6" y1="1908.8" x2="588.8" y2="1868.7" stroke="#f6f0f4" stroke-opacity="0.6" stroke-width="1.3" stroke-linecap="round"/>
<line x1="477.2" y1="1991.3" x2="506.9" y2="1880.1" stroke="#f6f0f4" stroke-opacity="0.6" stroke-width="1.3" stroke-linecap="round"/>
<line x1="560.2" y1="1922.3" x2="589.0" y2="1859.7" stroke="#b8a0ac" stroke-opacity="0.35" stroke-width="1.8" stroke-linecap="round"/>
<line x1="488.6" y1="1904.3" x2="536.1" y2="1807.7" stroke="#d8c0c8" stroke-opacity="0.5" stroke-width="2.2" stroke-linecap="round"/>
<line x1="557.5" y1="2005.9" x2="591.0" y2="1891.3" stroke="#f6f0f4" stroke-opacity="0.6" stroke-width="1.9" stroke-linecap="round"/>
<line x1="397.6" y1="1992.9" x2="467.9" y2="1903.4" stroke="#b8a0ac" stroke-opacity="0.35" stroke-width="1.7" stroke-linecap="round"/>
<line x1="516.0" y1="1953.4" x2="541.0" y2="1907.0" stroke="#b8a0ac" stroke-opacity="0.35" stroke-width="1.9" stroke-linecap="round"/>
<line x1="500.8" y1="1924.8" x2="550.9" y2="1825.3" stroke="#f6f0f4" stroke-opacity="0.6" stroke-width="2.2" stroke-linecap="round"/>
<line x1="517.8" y1="1973.9" x2="563.5" y2="1916.7" stroke="#b8a0ac" stroke-opacity="0.35" stroke-width="2.0" stroke-linecap="round"/>
<line x1="535.2" y1="1928.4" x2="565.9" y2="1865.5" stroke="#b8a0ac" stroke-opacity="0.35" stroke-width="1.2" stroke-linecap="round"/>
<line x1="410.2" y1="1992.5" x2="486.4" y2="1904.0" stroke="#c4a4b2" stroke-opacity="0.45" stroke-width="1.5" stroke-linecap="round"/>
<line x1="547.1" y1="1972.9" x2="578.1" y2="1890.4" stroke="#d8c0c8" stroke-opacity="0.5" stroke-width="1.4" stroke-linecap="round"/>
<line x1="488.6" y1="1921.8" x2="522.8" y2="1867.7" stroke="#f6f0f4" stroke-opacity="0.6" stroke-width="1.2" stroke-linecap="round"/>
<ellipse cx="481.6" cy="1953.2" rx="3.0" ry="3.9" fill="#d0b8b0" fill-opacity="0.7"/>
<ellipse cx="497.0" cy="1900.9" rx="2.0" ry="2.6" fill="#b89080" fill-opacity="0.7"/>
<ellipse cx="537.2" cy="1955.7" rx="3.0" ry="3.9" fill="#d0b8b0" fill-opacity="0.7"/>
<ellipse cx="480.3" cy="1941.0" rx="3.0" ry="3.9" fill="#d0b8b0" fill-opacity="0.7"/>
<ellipse cx="569.9" cy="1961.5" rx="2.0" ry="2.6" fill="#b89080" fill-opacity="0.7"/>
<ellipse cx="501.8" cy="1868.4" rx="3.0" ry="3.9" fill="#d0b8b0" fill-opacity="0.7"/>
<ellipse cx="445.2" cy="1935.9" rx="2.5" ry="3.2" fill="#c8a89a" fill-opacity="0.7"/>
<ellipse cx="509.2" cy="1952.4" rx="2.0" ry="2.6" fill="#b89080" fill-opacity="0.7"/>
<ellipse cx="457.3" cy="1947.3" rx="2.5" ry="3.2" fill="#c8a89a" fill-opacity="0.7"/>
<ellipse cx="572.0" cy="1925.0" rx="2.5" ry="3.2" fill="#c8a89a" fill-opacity="0.7"/>
<ellipse cx="523.3" cy="1954.1" rx="2.0" ry="2.6" fill="#b89080" fill-opacity="0.7"/>
<ellipse cx="493.4" cy="1878.0" rx="2.5" ry="3.2" fill="#c8a89a" fill-opacity="0.7"/>
<ellipse cx="571.4" cy="1960.0" rx="2.0" ry="2.6" fill="#b89080" fill-opacity="0.7"/>
<ellipse cx="551.6" cy="1946.9" rx="2.0" ry="2.6" fill="#b89080" fill-opacity="0.7"/>
<ellipse cx="559.5" cy="1893.5" rx="2.5" ry="3.2" fill="#c8a89a" fill-opacity="0.7"/>
<ellipse cx="470.6" cy="1912.6" rx="2.5" ry="3.2" fill="#c8a89a" fill-opacity="0.7"/>
<ellipse cx="503.9" cy="1905.3" rx="2.0" ry="2.6" fill="#b89080" fill-opacity="0.7"/>
<ellipse cx="508.2" cy="1943.3" rx="2.0" ry="2.6" fill="#b89080" fill-opacity="0.7"/>
<ellipse cx="467.8" cy="1915.5" rx="2.5" ry="3.2" fill="#c8a89a" fill-opacity="0.7"/>
<ellipse cx="568.0" cy="1874.9" rx="2.0" ry="2.6" fill="#b89080" fill-opacity="0.7"/>
<ellipse cx="558.7" cy="1915.6" rx="3.0" ry="3.9" fill="#d0b8b0" fill-opacity="0.7"/>
<ellipse cx="482.7" cy="1916.7" rx="2.5" ry="3.2" fill="#c8a89a" fill-opacity="0.7"/>
<ellipse cx="539.1" cy="1917.8" rx="2.5" ry="3.2" fill="#c8a89a" fill-opacity="0.7"/>
<ellipse cx="466.6" cy="1963.8" rx="2.0" ry="2.6" fill="#b89080" fill-opacity="0.7"/>
<ellipse cx="479.8" cy="1944.6" rx="2.5" ry="3.2" fill="#c8a89a" fill-opacity="0.7"/>
</g>
<clipPath id="cc103"><rect x="580.0" y="1865.0" width="139.3" height="105.0"/></clipPath>
<g clip-path="url(#cc103)">
<rect x="580.0" y="1865.0" width="139.3" height="105.0" fill="#e6e3e9"/>
<line x1="655.8" y1="1958.5" x2="744.9" y2="1923.7" stroke="#d8c0c8" stroke-opacity="0.5" stroke-width="2.4" stroke-linecap="round"/>
<line x1="589.6" y1="1956.8" x2="658.1" y2="1922.0" stroke="#c4a4b2" stroke-opacity="0.45" stroke-width="1.7" stroke-linecap="round"/>
<line x1="530.7" y1="1914.0" x2="617.2" y2="1852.3" stroke="#b8a0ac" stroke-opacity="0.35" stroke-width="1.2" stroke-linecap="round"/>
<line x1="660.7" y1="1977.5" x2="716.9" y2="1947.8" stroke="#b8a0ac" stroke-opacity="0.35" stroke-width="1.9" stroke-linecap="round"/>
<line x1="655.2" y1="1959.1" x2="730.6" y2="1905.3" stroke="#d8c0c8" stroke-opacity="0.5" stroke-width="1.1" stroke-linecap="round"/>
<line x1="617.6" y1="1941.8" x2="719.4" y2="1886.8" stroke="#b8a0ac" stroke-opacity="0.35" stroke-width="1.4" stroke-linecap="round"/>
<line x1="607.5" y1="1974.2" x2="700.8" y2="1936.7" stroke="#f6f0f4" stroke-opacity="0.6" stroke-width="1.7" stroke-linecap="round"/>
<line x1="618.0" y1="1887.1" x2="675.4" y2="1859.3" stroke="#b8a0ac" stroke-opacity="0.35" stroke-width="1.6" stroke-linecap="round"/>
<line x1="589.0" y1="1974.5" x2="661.9" y2="1945.6" stroke="#f6f0f4" stroke-opacity="0.6" stroke-width="2.0" stroke-linecap="round"/>
<line x1="551.0" y1="1995.2" x2="628.6" y2="1943.1" stroke="#c4a4b2" stroke-opacity="0.45" stroke-width="2.1" stroke-linecap="round"/>
<line x1="629.1" y1="1943.4" x2="686.1" y2="1915.8" stroke="#c4a4b2" stroke-opacity="0.45" stroke-width="1.6" stroke-linecap="round"/>
<line x1="552.5" y1="1984.0" x2="643.8" y2="1920.7" stroke="#d8c0c8" stroke-opacity="0.5" stroke-width="1.5" stroke-linecap="round"/>
<line x1="621.5" y1="1948.8" x2="698.6" y2="1916.8" stroke="#f6f0f4" stroke-opacity="0.6" stroke-width="1.3" stroke-linecap="round"/>
<line x1="658.0" y1="1872.6" x2="695.4" y2="1844.5" stroke="#d8c0c8" stroke-opacity="0.5" stroke-width="1.7" stroke-linecap="round"/>
<line x1="581.0" y1="1963.4" x2="663.4" y2="1917.9" stroke="#c4a4b2" stroke-opacity="0.45" stroke-width="2.3" stroke-linecap="round"/>
<line x1="686.1" y1="1889.0" x2="746.8" y2="1866.5" stroke="#c4a4b2" stroke-opacity="0.45" stroke-width="1.5" stroke-linecap="round"/>
<line x1="634.4" y1="1957.3" x2="716.3" y2="1917.4" stroke="#c4a4b2" stroke-opacity="0.45" stroke-width="1.7" stroke-linecap="round"/>
<line x1="542.8" y1="1883.4" x2="618.4" y2="1833.6" stroke="#b8a0ac" stroke-opacity="0.35" stroke-width="2.3" stroke-linecap="round"/>
<line x1="647.8" y1="1984.4" x2="737.9" y2="1928.6" stroke="#b8a0ac" stroke-opacity="0.35" stroke-width="1.9" stroke-linecap="round"/>
<line x1="549.3" y1="1972.2" x2="601.5" y2="1940.0" stroke="#f6f0f4" stroke-opacity="0.6" stroke-width="1.7" stroke-linecap="round"/>
<line x1="610.2" y1="2000.5" x2="671.3" y2="1954.2" stroke="#d8c0c8" stroke-opacity="0.5" stroke-width="1.8" stroke-linecap="round"/>
<line x1="657.4" y1="1908.6" x2="747.4" y2="1839.3" stroke="#c4a4b2" stroke-opacity="0.45" stroke-width="1.9" stroke-linecap="round"/>
<line x1="543.8" y1="1991.7" x2="599.9" y2="1968.1" stroke="#d8c0c8" stroke-opacity="0.5" stroke-width="2.2" stroke-linecap="round"/>
<line x1="570.5" y1="1910.7" x2="615.7" y2="1887.0" stroke="#c4a4b2" stroke-opacity="0.45" stroke-width="2.2" stroke-linecap="round"/>
<line x1="563.0" y1="1907.8" x2="657.7" y2="1863.7" stroke="#c4a4b2" stroke-opacity="0.45" stroke-width="1.7" stroke-linecap="round"/>
<line x1="616.4" y1="1935.1" x2="708.2" y2="1894.0" stroke="#c4a4b2" stroke-opacity="0.45" stroke-width="1.3" stroke-linecap="round"/>
<line x1="666.9" y1="1893.8" x2="773.7" y2="1843.0" stroke="#d8c0c8" stroke-opacity="0.5" stroke-width="1.4" stroke-linecap="round"/>
<line x1="603.3" y1="1967.8" x2="664.2" y2="1919.7" stroke="#f6f0f4" stroke-opacity="0.6" stroke-width="2.0" stroke-linecap="round"/>
<line x1="613.3" y1="2007.0" x2="693.0" y2="1941.2" stroke="#d8c0c8" stroke-opacity="0.5" stroke-width="1.9" stroke-linecap="round"/>
<line x1="583.9" y1="1896.7" x2="660.8" y2="1844.5" stroke="#f6f0f4" stroke-opacity="0.6" stroke-width="1.1" stroke-linecap="round"/>
<line x1="669.2" y1="1895.6" x2="765.6" y2="1851.2" stroke="#f6f0f4" stroke-opacity="0.6" stroke-width="2.3" stroke-linecap="round"/>
<line x1="631.5" y1="1977.1" x2="687.3" y2="1950.2" stroke="#f6f0f4" stroke-opacity="0.6" stroke-width="1.5" stroke-linecap="round"/>
<line x1="583.9" y1="1977.6" x2="662.8" y2="1918.4" stroke="#f6f0f4" stroke-opacity="0.6" stroke-width="1.5" stroke-linecap="round"/>
<line x1="534.1" y1="1892.7" x2="616.1" y2="1852.7" stroke="#d8c0c8" stroke-opacity="0.5" stroke-width="2.1" stroke-linecap="round"/>
<line x1="688.5" y1="1972.4" x2="735.7" y2="1933.2" stroke="#d8c0c8" stroke-opacity="0.5" stroke-width="2.4" stroke-linecap="round"/>
<line x1="578.1" y1="1882.2" x2="647.1" y2="1855.4" stroke="#f6f0f4" stroke-opacity="0.6" stroke-width="1.4" stroke-linecap="round"/>
<line x1="681.0" y1="1903.0" x2="776.8" y2="1855.2" stroke="#c4a4b2" stroke-opacity="0.45" stroke-width="1.4" stroke-linecap="round"/>
<line x1="640.3" y1="1988.7" x2="730.8" y2="1925.9" stroke="#f6f0f4" stroke-opacity="0.6" stroke-width="1.4" stroke-linecap="round"/>
<line x1="696.4" y1="1900.5" x2="748.3" y2="1862.8" stroke="#b8a0ac" stroke-opacity="0.35" stroke-width="1.4" stroke-linecap="round"/>
<line x1="632.5" y1="1981.6" x2="741.2" y2="1931.3" stroke="#b8a0ac" stroke-opacity="0.35" stroke-width="2.2" stroke-linecap="round"/>
<line x1="570.2" y1="1903.4" x2="665.2" y2="1865.6" stroke="#f6f0f4" stroke-opacity="0.6" stroke-width="1.8" stroke-linecap="round"/>
<line x1="663.8" y1="1916.5" x2="755.0" y2="1870.9" stroke="#d8c0c8" stroke-opacity="0.5" stroke-width="2.2" stroke-linecap="round"/>
<line x1="562.4" y1="1923.8" x2="615.2" y2="1898.2" stroke="#b8a0ac" stroke-opacity="0.35" stroke-width="1.9" stroke-linecap="round"/>
<line x1="576.0" y1="1958.7" x2="633.6" y2="1927.4" stroke="#d8c0c8" stroke-opacity="0.5" stroke-width="1.0" stroke-linecap="round"/>
<line x1="557.1" y1="2004.3" x2="639.7" y2="1952.7" stroke="#b8a0ac" stroke-opacity="0.35" stroke-width="2.3" stroke-linecap="round"/>
<line x1="706.4" y1="1960.9" x2="751.8" y2="1923.1" stroke="#d8c0c8" stroke-opacity="0.5" stroke-width="2.3" stroke-linecap="round"/>
<line x1="660.4" y1="1917.3" x2="704.9" y2="1898.6" stroke="#b8a0ac" stroke-opacity="0.35" stroke-width="1.9" stroke-linecap="round"/>
<line x1="530.1" y1="1927.3" x2="626.3" y2="1877.1" stroke="#b8a0ac" stroke-opacity="0.35" stroke-width="2.0" stroke-linecap="round"/>
<line x1="550.5" y1="1939.7" x2="629.6" y2="1892.3" stroke="#c4a4b2" stroke-opacity="0.45" stroke-width="1.3" stroke-linecap="round"/>
<line x1="530.3" y1="1901.1" x2="611.3" y2="1845.5" stroke="#d8c0c8" stroke-opacity="0.5" stroke-width="2.2" stroke-linecap="round"/>
<line x1="626.7" y1="1880.9" x2="733.8" y2="1833.5" stroke="#f6f0f4" stroke-opacity="0.6" stroke-width="2.2" stroke-linecap="round"/>
<line x1="595.5" y1="1949.7" x2="662.2" y2="1904.7" stroke="#d8c0c8" stroke-opacity="0.5" stroke-width="1.6" stroke-linecap="round"/>
<line x1="530.7" y1="1916.2" x2="616.0" y2="1877.6" stroke="#d8c0c8" stroke-opacity="0.5" stroke-width="1.8" stroke-linecap="round"/>
<line x1="640.1" y1="1910.5" x2="727.2" y2="1845.1" stroke="#f6f0f4" stroke-opacity="0.6" stroke-width="2.4" stroke-linecap="round"/>
<line x1="595.2" y1="1902.4" x2="673.8" y2="1840.7" stroke="#b8a0ac" stroke-opacity="0.35" stroke-width="1.5" stroke-linecap="round"/>
<line x1="633.8" y1="1993.9" x2="707.9" y2="1933.4" stroke="#d8c0c8" stroke-opacity="0.5" stroke-width="2.4" stroke-linecap="round"/>
<line x1="589.2" y1="1975.3" x2="687.8" y2="1916.7" stroke="#b8a0ac" stroke-opacity="0.35" stroke-width="2.1" stroke-linecap="round"/>
<line x1="586.7" y1="1886.7" x2="691.2" y2="1834.9" stroke="#d8c0c8" stroke-opacity="0.5" stroke-width="2.3" stroke-linecap="round"/>
<line x1="596.1" y1="1977.7" x2="670.4" y2="1916.6" stroke="#f6f0f4" stroke-opacity="0.6" stroke-width="1.4" stroke-linecap="round"/>
<line x1="676.9" y1="1923.5" x2="755.2" y2="1882.1" stroke="#c4a4b2" stroke-opacity="0.45" stroke-width="2.3" stroke-linecap="round"/>
<ellipse cx="680.2" cy="1875.8" rx="2.5" ry="3.2" fill="#c8a89a" fill-opacity="0.7"/>
<ellipse cx="671.6" cy="1945.4" rx="3.0" ry="3.9" fill="#d0b8b0" fill-opacity="0.7"/>
<ellipse cx="702.4" cy="1938.4" rx="2.5" ry="3.2" fill="#c8a89a" fill-opacity="0.7"/>
<ellipse cx="666.1" cy="1904.5" rx="3.0" ry="3.9" fill="#d0b8b0" fill-opacity="0.7"/>
<ellipse cx="708.2" cy="1950.5" rx="3.0" ry="3.9" fill="#d0b8b0" fill-opacity="0.7"/>
<ellipse cx="650.6" cy="1901.7" rx="3.0" ry="3.9" fill="#d0b8b0" fill-opacity="0.7"/>
<ellipse cx="711.0" cy="1883.6" rx="2.5" ry="3.2" fill="#c8a89a" fill-opacity="0.7"/>
<ellipse cx="615.7" cy="1966.8" rx="2.5" ry="3.2" fill="#c8a89a" fill-opacity="0.7"/>
<ellipse cx="698.1" cy="1913.5" rx="3.0" ry="3.9" fill="#d0b8b0" fill-opacity="0.7"/>
<ellipse cx="594.4" cy="1966.1" rx="2.5" ry="3.2" fill="#c8a89a" fill-opacity="0.7"/>
<ellipse cx="715.8" cy="1871.6" rx="3.0" ry="3.9" fill="#d0b8b0" fill-opacity="0.7"/>
<ellipse cx="588.0" cy="1909.4" rx="2.5" ry="3.2" fill="#c8a89a" fill-opacity="0.7"/>
<ellipse cx="631.7" cy="1931.7" rx="2.5" ry="3.2" fill="#c8a89a" fill-opacity="0.7"/>
<ellipse cx="696.9" cy="1944.7" rx="2.5" ry="3.2" fill="#c8a89a" fill-opacity="0.7"/>
<ellipse cx="688.5" cy="1929.9" rx="2.5" ry="3.2" fill="#c8a89a" fill-opacity="0.7"/>
<ellipse cx="623.8" cy="1870.0" rx="3.0" ry="3.9" fill="#d0b8b0" fill-opacity="0.7"/>
<ellipse cx="652.4" cy="1922.2" rx="3.0" ry="3.9" fill="#d0b8b0" fill-opacity="0.7"/>
<ellipse cx="609.2" cy="1966.2" rx="2.5" ry="3.2" fill="#c8a89a" fill-opacity="0.7"/>
<ellipse cx="642.6" cy="1881.0" rx="2.0" ry="2.6" fill="#b89080" fill-opacity="0.7"/>
<ellipse cx="681.2" cy="1922.7" rx="3.0" ry="3.9" fill="#d0b8b0" fill-opacity="0.7"/>
<ellipse cx="650.3" cy="1874.5" rx="3.0" ry="3.9" fill="#d0b8b0" fill-opacity="0.7"/>
<ellipse cx="612.1" cy="1925.1" rx="2.0" ry="2.6" fill="#b89080" fill-opacity="0.7"/>
<ellipse cx="680.8" cy="1872.3" rx="2.0" ry="2.6" fill="#b89080" fill-opacity="0.7"/>
<ellipse cx="714.6" cy="1913.8" rx="2.0" ry="2.6" fill="#b89080" fill-opacity="0.7"/>
<ellipse cx="687.1" cy="1942.4" rx="2.0" ry="2.6" fill="#b89080" fill-opacity="0.7"/>
</g>
<clipPath id="cc104"><rect x="719.3" y="1865.0" width="139.2" height="105.0"/></clipPath>
<g clip-path="url(#cc104)">
<rect x="719.3" y="1865.0" width="139.2" height="105.0" fill="#e8e2e6"/>
<line x1="713.5" y1="1933.8" x2="777.5" y2="1858.9" stroke="#c4a4b2" stroke-opacity="0.45" stroke-width="2.1" stroke-linecap="round"/>
<line x1="716.5" y1="1882.5" x2="748.9" y2="1846.5" stroke="#c4a4b2" stroke-opacity="0.45" stroke-width="2.1" stroke-linecap="round"/>
<line x1="772.5" y1="1949.8" x2="831.2" y2="1858.0" stroke="#f6f0f4" stroke-opacity="0.6" stroke-width="1.5" stroke-linecap="round"/>
<line x1="764.3" y1="1952.9" x2="802.8" y2="1891.2" stroke="#b8a0ac" stroke-opacity="0.35" stroke-width="1.4" stroke-linecap="round"/>
<line x1="701.5" y1="1969.7" x2="729.3" y2="1936.7" stroke="#b8a0ac" stroke-opacity="0.35" stroke-width="1.2" stroke-linecap="round"/>
<line x1="844.5" y1="1933.4" x2="868.1" y2="1864.1" stroke="#b8a0ac" stroke-opacity="0.35" stroke-width="2.5" stroke-linecap="round"/>
<line x1="809.5" y1="1931.2" x2="839.1" y2="1894.0" stroke="#b8a0ac" stroke-opacity="0.35" stroke-width="2.2" stroke-linecap="round"/>
<line x1="837.8" y1="1925.3" x2="898.0" y2="1829.5" stroke="#d8c0c8" stroke-opacity="0.5" stroke-width="1.8" stroke-linecap="round"/>
<line x1="772.6" y1="1900.1" x2="793.1" y2="1862.9" stroke="#c4a4b2" stroke-opacity="0.45" stroke-width="1.7" stroke-linecap="round"/>
<line x1="833.4" y1="1905.1" x2="844.2" y2="1865.8" stroke="#c4a4b2" stroke-opacity="0.45" stroke-width="1.1" stroke-linecap="round"/>
<line x1="772.2" y1="1980.5" x2="816.7" y2="1909.4" stroke="#d8c0c8" stroke-opacity="0.5" stroke-width="1.5" stroke-linecap="round"/>
<line x1="807.2" y1="1962.5" x2="878.8" y2="1877.3" stroke="#c4a4b2" stroke-opacity="0.45" stroke-width="1.8" stroke-linecap="round"/>
<line x1="844.6" y1="1898.1" x2="865.9" y2="1861.6" stroke="#c4a4b2" stroke-opacity="0.45" stroke-width="1.7" stroke-linecap="round"/>
<line x1="741.3" y1="1892.8" x2="755.0" y2="1839.1" stroke="#d8c0c8" stroke-opacity="0.5" stroke-width="2.3" stroke-linecap="round"/>
<line x1="723.7" y1="1914.7" x2="748.1" y2="1813.7" stroke="#f6f0f4" stroke-opacity="0.6" stroke-width="2.0" stroke-linecap="round"/>
<line x1="719.3" y1="1919.9" x2="751.2" y2="1872.9" stroke="#d8c0c8" stroke-opacity="0.5" stroke-width="1.3" stroke-linecap="round"/>
<line x1="830.6" y1="1980.9" x2="861.5" y2="1876.9" stroke="#c4a4b2" stroke-opacity="0.45" stroke-width="2.0" stroke-linecap="round"/>
<line x1="802.9" y1="1948.7" x2="840.4" y2="1888.5" stroke="#b8a0ac" stroke-opacity="0.35" stroke-width="2.4" stroke-linecap="round"/>
<line x1="709.2" y1="2003.4" x2="732.2" y2="1927.8" stroke="#d8c0c8" stroke-opacity="0.5" stroke-width="1.8" stroke-linecap="round"/>
<line x1="707.4" y1="1883.7" x2="721.5" y2="1840.2" stroke="#d8c0c8" stroke-opacity="0.5" stroke-width="2.2" stroke-linecap="round"/>
<line x1="750.1" y1="1912.3" x2="809.2" y2="1815.7" stroke="#d8c0c8" stroke-opacity="0.5" stroke-width="1.8" stroke-linecap="round"/>
<line x1="725.7" y1="2019.9" x2="742.8" y2="1935.3" stroke="#f6f0f4" stroke-opacity="0.6" stroke-width="1.3" stroke-linecap="round"/>
<line x1="755.9" y1="1984.5" x2="773.8" y2="1946.1" stroke="#f6f0f4" stroke-opacity="0.6" stroke-width="1.1" stroke-linecap="round"/>
<line x1="718.3" y1="1984.2" x2="739.7" y2="1908.2" stroke="#b8a0ac" stroke-opacity="0.35" stroke-width="1.1" stroke-linecap="round"/>
<line x1="721.5" y1="1991.8" x2="735.0" y2="1918.0" stroke="#f6f0f4" stroke-opacity="0.6" stroke-width="1.7" stroke-linecap="round"/>
<line x1="831.0" y1="1934.5" x2="861.2" y2="1843.9" stroke="#f6f0f4" stroke-opacity="0.6" stroke-width="2.1" stroke-linecap="round"/>
<line x1="798.5" y1="1966.9" x2="847.8" y2="1868.1" stroke="#f6f0f4" stroke-opacity="0.6" stroke-width="2.2" stroke-linecap="round"/>
<line x1="784.3" y1="1900.0" x2="815.1" y2="1850.0" stroke="#b8a0ac" stroke-opacity="0.35" stroke-width="1.9" stroke-linecap="round"/>
<line x1="781.9" y1="1997.2" x2="822.2" y2="1935.4" stroke="#b8a0ac" stroke-opacity="0.35" stroke-width="2.2" stroke-linecap="round"/>
<line x1="776.8" y1="1918.6" x2="807.9" y2="1882.1" stroke="#b8a0ac" stroke-opacity="0.35" stroke-width="2.2" stroke-linecap="round"/>
<line x1="850.7" y1="1891.2" x2="864.1" y2="1850.8" stroke="#b8a0ac" stroke-opacity="0.35" stroke-width="2.1" stroke-linecap="round"/>
<line x1="752.6" y1="1917.2" x2="813.5" y2="1845.3" stroke="#c4a4b2" stroke-opacity="0.45" stroke-width="1.8" stroke-linecap="round"/>
<line x1="740.5" y1="2005.5" x2="772.1" y2="1895.5" stroke="#f6f0f4" stroke-opacity="0.6" stroke-width="1.9" stroke-linecap="round"/>
<line x1="729.8" y1="1947.5" x2="766.7" y2="1866.8" stroke="#b8a0ac" stroke-opacity="0.35" stroke-width="2.1" stroke-linecap="round"/>
<line x1="700.0" y1="1971.9" x2="756.0" y2="1867.5" stroke="#b8a0ac" stroke-opacity="0.35" stroke-width="2.0" stroke-linecap="round"/>
<line x1="745.0" y1="1987.6" x2="776.1" y2="1898.0" stroke="#d8c0c8" stroke-opacity="0.5" stroke-width="2.0" stroke-linecap="round"/>
<line x1="810.2" y1="1942.0" x2="856.0" y2="1867.6" stroke="#f6f0f4" stroke-opacity="0.6" stroke-width="2.0" stroke-linecap="round"/>
<line x1="821.0" y1="2010.7" x2="867.7" y2="1904.1" stroke="#b8a0ac" stroke-opacity="0.35" stroke-width="1.8" stroke-linecap="round"/>
<line x1="770.4" y1="1951.6" x2="804.3" y2="1896.8" stroke="#b8a0ac" stroke-opacity="0.35" stroke-width="1.3" stroke-linecap="round"/>
<line x1="803.5" y1="2017.6" x2="855.3" y2="1928.5" stroke="#f6f0f4" stroke-opacity="0.6" stroke-width="1.4" stroke-linecap="round"/>
<line x1="812.7" y1="1952.4" x2="823.0" y2="1907.3" stroke="#d8c0c8" stroke-opacity="0.5" stroke-width="1.9" stroke-linecap="round"/>
<line x1="833.5" y1="1940.0" x2="864.8" y2="1860.0" stroke="#b8a0ac" stroke-opacity="0.35" stroke-width="1.2" stroke-linecap="round"/>
<line x1="818.2" y1="1927.2" x2="843.1" y2="1895.3" stroke="#f6f0f4" stroke-opacity="0.6" stroke-width="1.1" stroke-linecap="round"/>
<line x1="705.7" y1="2009.4" x2="744.0" y2="1936.5" stroke="#d8c0c8" stroke-opacity="0.5" stroke-width="1.9" stroke-linecap="round"/>
<line x1="751.6" y1="2025.4" x2="783.1" y2="1922.2" stroke="#c4a4b2" stroke-opacity="0.45" stroke-width="1.2" stroke-linecap="round"/>
<line x1="849.9" y1="1928.9" x2="879.6" y2="1879.9" stroke="#b8a0ac" stroke-opacity="0.35" stroke-width="2.0" stroke-linecap="round"/>
<line x1="787.6" y1="2002.0" x2="821.7" y2="1954.1" stroke="#f6f0f4" stroke-opacity="0.6" stroke-width="1.5" stroke-linecap="round"/>
<line x1="789.0" y1="1934.4" x2="816.7" y2="1820.5" stroke="#b8a0ac" stroke-opacity="0.35" stroke-width="2.3" stroke-linecap="round"/>
<line x1="785.2" y1="2031.4" x2="807.6" y2="1920.8" stroke="#c4a4b2" stroke-opacity="0.45" stroke-width="2.2" stroke-linecap="round"/>
<line x1="704.6" y1="1993.5" x2="757.4" y2="1927.8" stroke="#b8a0ac" stroke-opacity="0.35" stroke-width="2.0" stroke-linecap="round"/>
<line x1="775.8" y1="1996.0" x2="805.0" y2="1945.8" stroke="#c4a4b2" stroke-opacity="0.45" stroke-width="1.3" stroke-linecap="round"/>
<line x1="815.1" y1="1951.1" x2="834.5" y2="1903.3" stroke="#f6f0f4" stroke-opacity="0.6" stroke-width="2.3" stroke-linecap="round"/>
<line x1="807.1" y1="1973.4" x2="849.9" y2="1913.3" stroke="#b8a0ac" stroke-opacity="0.35" stroke-width="1.6" stroke-linecap="round"/>
<line x1="718.5" y1="1960.8" x2="762.9" y2="1892.3" stroke="#c4a4b2" stroke-opacity="0.45" stroke-width="1.7" stroke-linecap="round"/>
<line x1="707.0" y1="1943.5" x2="724.6" y2="1866.9" stroke="#b8a0ac" stroke-opacity="0.35" stroke-width="2.0" stroke-linecap="round"/>
<line x1="824.7" y1="1926.9" x2="856.1" y2="1872.7" stroke="#f6f0f4" stroke-opacity="0.6" stroke-width="1.0" stroke-linecap="round"/>
<line x1="803.2" y1="1980.9" x2="823.4" y2="1935.2" stroke="#b8a0ac" stroke-opacity="0.35" stroke-width="1.1" stroke-linecap="round"/>
<line x1="781.6" y1="1959.2" x2="820.2" y2="1902.3" stroke="#c4a4b2" stroke-opacity="0.45" stroke-width="1.8" stroke-linecap="round"/>
<line x1="724.0" y1="2005.8" x2="782.7" y2="1943.9" stroke="#d8c0c8" stroke-opacity="0.5" stroke-width="1.4" stroke-linecap="round"/>
<line x1="817.4" y1="1916.1" x2="848.5" y2="1875.7" stroke="#b8a0ac" stroke-opacity="0.35" stroke-width="1.3" stroke-linecap="round"/>
<ellipse cx="803.8" cy="1905.7" rx="3.0" ry="3.9" fill="#d0b8b0" fill-opacity="0.7"/>
<ellipse cx="767.3" cy="1881.6" rx="2.0" ry="2.6" fill="#b89080" fill-opacity="0.7"/>
<ellipse cx="849.5" cy="1945.1" rx="2.5" ry="3.2" fill="#c8a89a" fill-opacity="0.7"/>
<ellipse cx="849.4" cy="1890.0" rx="3.0" ry="3.9" fill="#d0b8b0" fill-opacity="0.7"/>
<ellipse cx="849.7" cy="1915.5" rx="3.0" ry="3.9" fill="#d0b8b0" fill-opacity="0.7"/>
<ellipse cx="846.4" cy="1866.2" rx="3.0" ry="3.9" fill="#d0b8b0" fill-opacity="0.7"/>
<ellipse cx="826.9" cy="1896.8" rx="2.5" ry="3.2" fill="#c8a89a" fill-opacity="0.7"/>
<ellipse cx="837.4" cy="1871.8" rx="3.0" ry="3.9" fill="#d0b8b0" fill-opacity="0.7"/>
<ellipse cx="782.2" cy="1956.3" rx="3.0" ry="3.9" fill="#d0b8b0" fill-opacity="0.7"/>
<ellipse cx="728.1" cy="1888.4" rx="3.0" ry="3.9" fill="#d0b8b0" fill-opacity="0.7"/>
<ellipse cx="798.5" cy="1967.1" rx="2.0" ry="2.6" fill="#b89080" fill-opacity="0.7"/>
<ellipse cx="789.2" cy="1886.4" rx="3.0" ry="3.9" fill="#d0b8b0" fill-opacity="0.7"/>
<ellipse cx="843.3" cy="1935.4" rx="3.0" ry="3.9" fill="#d0b8b0" fill-opacity="0.7"/>
<ellipse cx="815.6" cy="1954.7" rx="3.0" ry="3.9" fill="#d0b8b0" fill-opacity="0.7"/>
<ellipse cx="822.8" cy="1908.7" rx="2.0" ry="2.6" fill="#b89080" fill-opacity="0.7"/>
<ellipse cx="724.5" cy="1934.8" rx="3.0" ry="3.9" fill="#d0b8b0" fill-opacity="0.7"/>
<ellipse cx="803.2" cy="1904.9" rx="2.5" ry="3.2" fill="#c8a89a" fill-opacity="0.7"/>
<ellipse cx="756.2" cy="1960.6" rx="2.0" ry="2.6" fill="#b89080" fill-opacity="0.7"/>
<ellipse cx="797.5" cy="1935.3" rx="2.5" ry="3.2" fill="#c8a89a" fill-opacity="0.7"/>
<ellipse cx="838.4" cy="1961.6" rx="2.5" ry="3.2" fill="#c8a89a" fill-opacity="0.7"/>
<ellipse cx="756.9" cy="1952.1" rx="2.0" ry="2.6" fill="#b89080" fill-opacity="0.7"/>
<ellipse cx="842.3" cy="1932.0" rx="2.0" ry="2.6" fill="#b89080" fill-opacity="0.7"/>
<ellipse cx="766.9" cy="1914.0" rx="2.5" ry="3.2" fill="#c8a89a" fill-opacity="0.7"/>
<ellipse cx="744.1" cy="1932.6" rx="3.0" ry="3.9" fill="#d0b8b0" fill-opacity="0.7"/>
<ellipse cx="768.5" cy="1953.9" rx="2.0" ry="2.6" fill="#b89080" fill-opacity="0.7"/>
</g>
<rect x="164.8" y="1864.8" width="693.5" height="105.5" fill="none" stroke="#000" stroke-width="5"/>
<rect x="300.4" y="1862.5" width="5.2" height="110.0" fill="#000"/>
<rect x="438.9" y="1862.5" width="5.2" height="110.0" fill="#000"/>
<rect x="577.4" y="1862.5" width="5.2" height="110.0" fill="#000"/>
<rect x="716.7" y="1862.5" width="5.2" height="110.0" fill="#000"/>
<rect x="249.5" y="1957.7" width="46.5" height="5.0" fill="#000"/>
<rect x="386.5" y="1957.7" width="46.5" height="5.0" fill="#000"/>
<rect x="522.0" y="1957.7" width="47.0" height="5.0" fill="#000"/>
<rect x="664.5" y="1957.7" width="45.5" height="5.0" fill="#000"/>
<rect x="803.0" y="1957.7" width="46.8" height="5.0" fill="#000"/>
<text x="764.8" y="2013.8" font-size="34.5" text-anchor="start" font-weight="bold" fill="#000" transform="translate(764.8 2013.8) scale(1.0 1.035) translate(-764.8 -2013.8)">200 µm</text>
<line x1="249.4" y1="2095.8" x2="249.4" y2="2086.5" stroke="#000" stroke-width="2.0"/>
<line x1="226.1" y1="2086.5" x2="272.7" y2="2086.5" stroke="#000" stroke-width="2.0"/>
<rect x="204.8" y="2097.8" width="89.2" height="216.2" fill="#fff" stroke="#000" stroke-width="4"/>
<line x1="391.2" y1="2147.9" x2="391.2" y2="2136.4" stroke="#000" stroke-width="2.0"/>
<line x1="368.3" y1="2136.4" x2="414.1" y2="2136.4" stroke="#000" stroke-width="2.0"/>
<rect x="347.4" y="2149.9" width="87.6" height="164.1" fill="#b8b9ba" stroke="#000" stroke-width="4"/>
<line x1="533.1" y1="2094.7" x2="533.1" y2="2079.9" stroke="#000" stroke-width="2.0"/>
<line x1="510.0" y1="2079.9" x2="556.3" y2="2079.9" stroke="#000" stroke-width="2.0"/>
<rect x="488.8" y="2096.7" width="88.7" height="217.3" fill="#3b3192" stroke="#000" stroke-width="4"/>
<line x1="674.9" y1="2143.5" x2="674.9" y2="2132.0" stroke="#000" stroke-width="2.0"/>
<line x1="651.8" y1="2132.0" x2="698.0" y2="2132.0" stroke="#000" stroke-width="2.0"/>
<rect x="630.8" y="2145.5" width="88.2" height="168.5" fill="#b8b9ba" stroke="#000" stroke-width="4"/>
<line x1="816.5" y1="2150.0" x2="816.5" y2="2141.8" stroke="#000" stroke-width="2.0"/>
<line x1="793.4" y1="2141.8" x2="839.7" y2="2141.8" stroke="#000" stroke-width="2.0"/>
<rect x="772.2" y="2152.0" width="88.7" height="162.0" fill="#3b3192" stroke="#000" stroke-width="4"/>
<ellipse cx="249.5" cy="2072.2" rx="6.5" ry="6" fill="#000"/>
<ellipse cx="236.8" cy="2097.4" rx="6.5" ry="6" fill="#000"/>
<ellipse cx="262.0" cy="2098.5" rx="6.5" ry="6" fill="#000"/>
<ellipse cx="249.5" cy="2110.6" rx="6.5" ry="6" fill="#000"/>
<ellipse cx="390.9" cy="2115.0" rx="6.5" ry="6" fill="#000"/>
<ellipse cx="390.9" cy="2151.7" rx="6.5" ry="6" fill="#000"/>
<ellipse cx="367.3" cy="2162.7" rx="6.5" ry="6" fill="#000"/>
<ellipse cx="415.0" cy="2158.3" rx="6.5" ry="6" fill="#000"/>
<ellipse cx="532.9" cy="2065.6" rx="6.5" ry="6" fill="#000"/>
<ellipse cx="532.9" cy="2079.3" rx="6.5" ry="6" fill="#000"/>
<ellipse cx="532.9" cy="2107.8" rx="6.5" ry="6" fill="#000"/>
<ellipse cx="532.9" cy="2122.1" rx="6.5" ry="6" fill="#000"/>
<ellipse cx="662.3" cy="2126.0" rx="6.5" ry="6" fill="#000"/>
<ellipse cx="686.4" cy="2123.2" rx="6.5" ry="6" fill="#000"/>
<ellipse cx="662.3" cy="2161.6" rx="6.5" ry="6" fill="#000"/>
<ellipse cx="686.4" cy="2157.2" rx="6.5" ry="6" fill="#000"/>
<ellipse cx="816.9" cy="2127.6" rx="6.5" ry="6" fill="#000"/>
<ellipse cx="792.2" cy="2156.1" rx="6.5" ry="6" fill="#000"/>
<ellipse cx="816.9" cy="2155.0" rx="6.5" ry="6" fill="#000"/>
<ellipse cx="840.5" cy="2156.1" rx="6.5" ry="6" fill="#000"/>
<line x1="155.1" y1="2038.5" x2="155.1" y2="2315.9" stroke="#000" stroke-width="3.8"/>
<line x1="139.8" y1="2314.0" x2="911.0" y2="2314.0" stroke="#000" stroke-width="3.8"/>
<line x1="140.1" y1="2063.4" x2="155.1" y2="2063.4" stroke="#000" stroke-width="2.6"/>
<text x="135.7" y="2071.1" font-size="21.5" text-anchor="end" font-weight="bold" fill="#000">20</text>
<line x1="140.1" y1="2126.5" x2="155.1" y2="2126.5" stroke="#000" stroke-width="2.6"/>
<text x="135.7" y="2134.2" font-size="21.5" text-anchor="end" font-weight="bold" fill="#000">15</text>
<line x1="140.1" y1="2189.0" x2="155.1" y2="2189.0" stroke="#000" stroke-width="2.6"/>
<text x="135.7" y="2196.7" font-size="21.5" text-anchor="end" font-weight="bold" fill="#000">10</text>
<line x1="140.1" y1="2251.5" x2="155.1" y2="2251.5" stroke="#000" stroke-width="2.6"/>
<text x="135.7" y="2259.2" font-size="21.5" text-anchor="end" font-weight="bold" fill="#000">5</text>
<line x1="140.1" y1="2314.0" x2="155.1" y2="2314.0" stroke="#000" stroke-width="2.6"/>
<text x="135.7" y="2321.7" font-size="21.5" text-anchor="end" font-weight="bold" fill="#000">0</text>
<path d="M263.0 2055.0 V2039.6 H382.0 V2055.0" fill="none" stroke="#000" stroke-width="2.5" stroke-linejoin="miter"/>
<path d="M394.7 2055.0 V2039.6 H532.9 V2055.0" fill="none" stroke="#000" stroke-width="2.5" stroke-linejoin="miter"/>
<path d="M544.4 2055.0 V2039.6 H804.3 V2055.0" fill="none" stroke="#000" stroke-width="2.5" stroke-linejoin="miter"/>
<text x="325.4" y="2019.3" font-size="20.5" text-anchor="middle" font-weight="bold" fill="#000">P=0.016</text>
<text x="469.5" y="2017.0" font-size="20.5" text-anchor="middle" font-weight="bold" fill="#000">P=0.013</text>
<text x="651.0" y="2017.0" font-size="20.5" text-anchor="middle" font-weight="bold" fill="#000">P=0.011</text>
<text x="81.1" y="2291.5" font-size="34" font-weight="bold" transform="translate(81.1 2291.5) rotate(-90) scale(1 1.035) translate(-81.1 -2291.5)">Diameter<tspan font-weight="normal" font-family='"Liberation Sans", "Noto Sans CJK SC", sans-serif'>（</tspan>µm<tspan font-weight="normal" font-family='"Liberation Sans", "Noto Sans CJK SC", sans-serif'>）</tspan></text>
<text x="198.5" y="2360.0" font-size="34.5" text-anchor="end" font-weight="bold" fill="#000" transform="translate(198.5 2360.0) scale(1.0 1.035) translate(-198.5 -2360.0)">Myonectin</text>
<text x="195.2" y="2405.5" font-size="34.5" text-anchor="end" font-weight="bold" fill="#000" transform="translate(195.2 2405.5) scale(1.0 1.035) translate(-195.2 -2405.5)">DEX</text>
<text x="196.8" y="2445.6" font-size="34.5" text-anchor="end" font-weight="bold" fill="#000" transform="translate(196.8 2445.6) scale(1.0 1.035) translate(-196.8 -2445.6)">Ad-βgal</text>
<text x="198.5" y="2486.0" font-size="34.5" text-anchor="end" font-weight="bold" fill="#000" transform="translate(198.5 2486.0) scale(1.0 1.035) translate(-198.5 -2486.0)">Ad-dnAMPK</text>
<line x1="230.9" y1="2349.0" x2="251.4" y2="2349.0" stroke="#000" stroke-width="2.2"/>
<line x1="372.4" y1="2349.0" x2="392.9" y2="2349.0" stroke="#000" stroke-width="2.2"/>
<line x1="518.8" y1="2349.0" x2="539.2" y2="2349.0" stroke="#000" stroke-width="2.2"/>
<line x1="529.0" y1="2338.8" x2="529.0" y2="2359.2" stroke="#000" stroke-width="2.2"/>
<line x1="665.8" y1="2349.0" x2="686.2" y2="2349.0" stroke="#000" stroke-width="2.2"/>
<line x1="808.2" y1="2349.0" x2="828.8" y2="2349.0" stroke="#000" stroke-width="2.2"/>
<line x1="818.5" y1="2338.8" x2="818.5" y2="2359.2" stroke="#000" stroke-width="2.2"/>
<line x1="230.9" y1="2390.7" x2="251.4" y2="2390.7" stroke="#000" stroke-width="2.2"/>
<line x1="372.4" y1="2390.7" x2="392.9" y2="2390.7" stroke="#000" stroke-width="2.2"/>
<line x1="382.7" y1="2380.4" x2="382.7" y2="2400.9" stroke="#000" stroke-width="2.2"/>
<line x1="518.8" y1="2390.7" x2="539.2" y2="2390.7" stroke="#000" stroke-width="2.2"/>
<line x1="529.0" y1="2380.4" x2="529.0" y2="2400.9" stroke="#000" stroke-width="2.2"/>
<line x1="665.8" y1="2390.7" x2="686.2" y2="2390.7" stroke="#000" stroke-width="2.2"/>
<line x1="676.0" y1="2380.4" x2="676.0" y2="2400.9" stroke="#000" stroke-width="2.2"/>
<line x1="808.2" y1="2390.7" x2="828.8" y2="2390.7" stroke="#000" stroke-width="2.2"/>
<line x1="818.5" y1="2380.4" x2="818.5" y2="2400.9" stroke="#000" stroke-width="2.2"/>
<line x1="230.9" y1="2431.9" x2="251.4" y2="2431.9" stroke="#000" stroke-width="2.2"/>
<line x1="241.2" y1="2421.7" x2="241.2" y2="2442.2" stroke="#000" stroke-width="2.2"/>
<line x1="372.4" y1="2431.9" x2="392.9" y2="2431.9" stroke="#000" stroke-width="2.2"/>
<line x1="382.7" y1="2421.7" x2="382.7" y2="2442.2" stroke="#000" stroke-width="2.2"/>
<line x1="518.8" y1="2431.9" x2="539.2" y2="2431.9" stroke="#000" stroke-width="2.2"/>
<line x1="529.0" y1="2421.7" x2="529.0" y2="2442.2" stroke="#000" stroke-width="2.2"/>
<line x1="665.8" y1="2431.9" x2="686.2" y2="2431.9" stroke="#000" stroke-width="2.2"/>
<line x1="808.2" y1="2431.9" x2="828.8" y2="2431.9" stroke="#000" stroke-width="2.2"/>
<line x1="230.9" y1="2471.3" x2="251.4" y2="2471.3" stroke="#000" stroke-width="2.2"/>
<line x1="372.4" y1="2471.3" x2="392.9" y2="2471.3" stroke="#000" stroke-width="2.2"/>
<line x1="518.8" y1="2471.3" x2="539.2" y2="2471.3" stroke="#000" stroke-width="2.2"/>
<line x1="665.8" y1="2471.3" x2="686.2" y2="2471.3" stroke="#000" stroke-width="2.2"/>
<line x1="676.0" y1="2461.1" x2="676.0" y2="2481.6" stroke="#000" stroke-width="2.2"/>
<line x1="808.2" y1="2471.3" x2="828.8" y2="2471.3" stroke="#000" stroke-width="2.2"/>
<line x1="818.5" y1="2461.1" x2="818.5" y2="2481.6" stroke="#000" stroke-width="2.2"/>
<text x="951.5" y="1871.0" font-size="52" text-anchor="start" font-weight="bold" fill="#000" transform="translate(951.5 1871.0) scale(1.15 1.035) translate(-951.5 -1871.0)">f</text>
<clipPath id="cc200"><rect x="1045.5" y="1865.0" width="140.5" height="106.0"/></clipPath>
<g clip-path="url(#cc200)">
<rect x="1045.5" y="1865.0" width="140.5" height="106.0" fill="#f5e3ea"/>
<line x1="995.2" y1="1952.9" x2="1085.5" y2="1912.8" stroke="#dc9cb2" stroke-opacity="0.35" stroke-width="2.2" stroke-linecap="round"/>
<line x1="1109.9" y1="1936.1" x2="1191.7" y2="1884.4" stroke="#dc9cb2" stroke-opacity="0.35" stroke-width="1.7" stroke-linecap="round"/>
<line x1="1050.6" y1="1986.1" x2="1116.8" y2="1900.5" stroke="#dc9cb2" stroke-opacity="0.35" stroke-width="1.5" stroke-linecap="round"/>
<line x1="1165.5" y1="1911.4" x2="1209.2" y2="1872.8" stroke="#dc9cb2" stroke-opacity="0.35" stroke-width="2.1" stroke-linecap="round"/>
<line x1="1099.7" y1="1984.0" x2="1129.1" y2="1943.0" stroke="#fbf0f4" stroke-opacity="0.55" stroke-width="1.6" stroke-linecap="round"/>
<line x1="1106.4" y1="1921.4" x2="1173.1" y2="1870.7" stroke="#dc9cb2" stroke-opacity="0.35" stroke-width="1.2" stroke-linecap="round"/>
<line x1="1005.5" y1="2003.3" x2="1080.3" y2="1952.9" stroke="#fbf0f4" stroke-opacity="0.55" stroke-width="1.5" stroke-linecap="round"/>
<line x1="1159.0" y1="1905.1" x2="1231.4" y2="1877.9" stroke="#dc9cb2" stroke-opacity="0.35" stroke-width="2.3" stroke-linecap="round"/>
<line x1="1055.9" y1="1981.7" x2="1096.1" y2="1930.2" stroke="#dc9cb2" stroke-opacity="0.35" stroke-width="1.1" stroke-linecap="round"/>
<line x1="1089.3" y1="1872.9" x2="1147.0" y2="1837.6" stroke="#cc8aa2" stroke-opacity="0.3" stroke-width="1.8" stroke-linecap="round"/>
<line x1="1170.3" y1="1907.2" x2="1209.2" y2="1883.3" stroke="#cc8aa2" stroke-opacity="0.3" stroke-width="1.5" stroke-linecap="round"/>
<line x1="1054.0" y1="1890.1" x2="1133.6" y2="1844.8" stroke="#dc9cb2" stroke-opacity="0.35" stroke-width="1.0" stroke-linecap="round"/>
<line x1="1061.4" y1="1935.0" x2="1147.2" y2="1895.8" stroke="#fbf0f4" stroke-opacity="0.55" stroke-width="1.7" stroke-linecap="round"/>
<line x1="1140.0" y1="1997.1" x2="1209.1" y2="1908.6" stroke="#dc9cb2" stroke-opacity="0.35" stroke-width="2.0" stroke-linecap="round"/>
<line x1="1022.2" y1="1989.6" x2="1053.1" y2="1959.5" stroke="#fbf0f4" stroke-opacity="0.55" stroke-width="2.4" stroke-linecap="round"/>
<line x1="1135.8" y1="1925.5" x2="1189.0" y2="1897.1" stroke="#fbf0f4" stroke-opacity="0.55" stroke-width="2.4" stroke-linecap="round"/>
<line x1="1062.3" y1="1927.0" x2="1093.9" y2="1898.8" stroke="#fbf0f4" stroke-opacity="0.55" stroke-width="1.8" stroke-linecap="round"/>
<line x1="1003.1" y1="1955.6" x2="1074.7" y2="1865.4" stroke="#fbf0f4" stroke-opacity="0.55" stroke-width="1.1" stroke-linecap="round"/>
<line x1="1182.4" y1="1959.5" x2="1205.9" y2="1925.1" stroke="#fbf0f4" stroke-opacity="0.55" stroke-width="1.3" stroke-linecap="round"/>
<line x1="1084.2" y1="2000.1" x2="1146.0" y2="1961.8" stroke="#fbf0f4" stroke-opacity="0.55" stroke-width="2.0" stroke-linecap="round"/>
<line x1="1112.0" y1="1909.3" x2="1187.7" y2="1845.9" stroke="#fbf0f4" stroke-opacity="0.55" stroke-width="1.1" stroke-linecap="round"/>
<line x1="1109.8" y1="1929.1" x2="1198.0" y2="1884.3" stroke="#fbf0f4" stroke-opacity="0.55" stroke-width="1.6" stroke-linecap="round"/>
<line x1="1143.7" y1="1940.4" x2="1165.9" y2="1903.1" stroke="#fbf0f4" stroke-opacity="0.55" stroke-width="2.4" stroke-linecap="round"/>
<line x1="1026.5" y1="1927.2" x2="1063.6" y2="1906.3" stroke="#fbf0f4" stroke-opacity="0.55" stroke-width="1.6" stroke-linecap="round"/>
<line x1="1068.7" y1="2000.6" x2="1123.7" y2="1912.4" stroke="#fbf0f4" stroke-opacity="0.55" stroke-width="2.1" stroke-linecap="round"/>
<line x1="1023.5" y1="1930.7" x2="1078.7" y2="1890.3" stroke="#dc9cb2" stroke-opacity="0.35" stroke-width="1.7" stroke-linecap="round"/>
<line x1="1144.9" y1="1944.6" x2="1185.1" y2="1912.3" stroke="#dc9cb2" stroke-opacity="0.35" stroke-width="2.0" stroke-linecap="round"/>
<line x1="1131.1" y1="1953.2" x2="1170.1" y2="1934.6" stroke="#fbf0f4" stroke-opacity="0.55" stroke-width="1.2" stroke-linecap="round"/>
<line x1="1083.9" y1="1953.3" x2="1156.8" y2="1874.8" stroke="#cc8aa2" stroke-opacity="0.3" stroke-width="2.1" stroke-linecap="round"/>
<line x1="1053.9" y1="1931.0" x2="1131.8" y2="1864.3" stroke="#cc8aa2" stroke-opacity="0.3" stroke-width="1.5" stroke-linecap="round"/>
<line x1="1093.8" y1="1887.0" x2="1160.2" y2="1862.8" stroke="#dc9cb2" stroke-opacity="0.35" stroke-width="1.8" stroke-linecap="round"/>
<line x1="1027.3" y1="1975.9" x2="1074.6" y2="1957.2" stroke="#fbf0f4" stroke-opacity="0.55" stroke-width="2.4" stroke-linecap="round"/>
<line x1="1170.1" y1="1967.5" x2="1214.9" y2="1916.0" stroke="#fbf0f4" stroke-opacity="0.55" stroke-width="1.5" stroke-linecap="round"/>
<line x1="1138.0" y1="1984.3" x2="1192.9" y2="1955.4" stroke="#dc9cb2" stroke-opacity="0.35" stroke-width="1.7" stroke-linecap="round"/>
<line x1="1016.4" y1="1910.7" x2="1059.4" y2="1855.7" stroke="#cc8aa2" stroke-opacity="0.3" stroke-width="2.4" stroke-linecap="round"/>
<line x1="1147.0" y1="1987.6" x2="1183.5" y2="1928.6" stroke="#cc8aa2" stroke-opacity="0.3" stroke-width="2.0" stroke-linecap="round"/>
<line x1="1090.5" y1="1910.5" x2="1180.8" y2="1867.1" stroke="#fbf0f4" stroke-opacity="0.55" stroke-width="1.8" stroke-linecap="round"/>
<line x1="1086.2" y1="1920.7" x2="1187.4" y2="1879.6" stroke="#cc8aa2" stroke-opacity="0.3" stroke-width="1.5" stroke-linecap="round"/>
<line x1="1098.3" y1="1936.6" x2="1179.4" y2="1862.3" stroke="#fbf0f4" stroke-opacity="0.55" stroke-width="1.6" stroke-linecap="round"/>
<line x1="1107.1" y1="2006.7" x2="1192.8" y2="1936.0" stroke="#fbf0f4" stroke-opacity="0.55" stroke-width="1.9" stroke-linecap="round"/>
<line x1="1099.2" y1="1920.8" x2="1164.7" y2="1831.0" stroke="#dc9cb2" stroke-opacity="0.35" stroke-width="2.4" stroke-linecap="round"/>
<line x1="1087.4" y1="1977.1" x2="1143.4" y2="1946.1" stroke="#cc8aa2" stroke-opacity="0.3" stroke-width="1.0" stroke-linecap="round"/>
<line x1="1112.7" y1="1919.2" x2="1193.4" y2="1873.1" stroke="#dc9cb2" stroke-opacity="0.35" stroke-width="1.6" stroke-linecap="round"/>
<line x1="1080.5" y1="1972.5" x2="1105.2" y2="1931.4" stroke="#cc8aa2" stroke-opacity="0.3" stroke-width="1.2" stroke-linecap="round"/>
<line x1="1149.9" y1="1980.0" x2="1187.3" y2="1947.9" stroke="#fbf0f4" stroke-opacity="0.55" stroke-width="1.3" stroke-linecap="round"/>
<ellipse cx="1172.6" cy="1931.0" rx="1.6" ry="2.1" fill="#7a3a30" fill-opacity="0.7"/>
<ellipse cx="1158.2" cy="1900.2" rx="1.3" ry="1.7" fill="#5a3028" fill-opacity="0.7"/>
<ellipse cx="1069.8" cy="1892.6" rx="1.3" ry="1.7" fill="#5a3028" fill-opacity="0.7"/>
<ellipse cx="1149.0" cy="1917.9" rx="1.6" ry="2.1" fill="#7a3a30" fill-opacity="0.7"/>
<ellipse cx="1124.2" cy="1942.8" rx="1.6" ry="2.1" fill="#7a3a30" fill-opacity="0.7"/>
<ellipse cx="1155.8" cy="1951.6" rx="1.3" ry="1.7" fill="#5a3028" fill-opacity="0.7"/>
<ellipse cx="1096.7" cy="1880.6" rx="2.0" ry="2.6" fill="#b06070" fill-opacity="0.7"/>
<ellipse cx="1074.9" cy="1941.3" rx="2.0" ry="2.6" fill="#b06070" fill-opacity="0.7"/>
<ellipse cx="1073.7" cy="1961.7" rx="1.6" ry="2.1" fill="#7a3a30" fill-opacity="0.7"/>
<ellipse cx="1175.1" cy="1939.1" rx="1.3" ry="1.7" fill="#5a3028" fill-opacity="0.7"/>
<ellipse cx="1185.5" cy="1897.3" rx="1.6" ry="2.1" fill="#7a3a30" fill-opacity="0.7"/>
<ellipse cx="1180.0" cy="1883.8" rx="2.0" ry="2.6" fill="#b06070" fill-opacity="0.7"/>
</g>
<clipPath id="cc201"><rect x="1186.0" y="1865.0" width="138.7" height="106.0"/></clipPath>
<g clip-path="url(#cc201)">
<rect x="1186.0" y="1865.0" width="138.7" height="106.0" fill="#f0d4df"/>
<line x1="1284.6" y1="1929.7" x2="1314.9" y2="1862.5" stroke="#dc9cb2" stroke-opacity="0.35" stroke-width="2.0" stroke-linecap="round"/>
<line x1="1230.9" y1="2011.2" x2="1264.2" y2="1916.6" stroke="#fbf0f4" stroke-opacity="0.55" stroke-width="1.9" stroke-linecap="round"/>
<line x1="1157.6" y1="1936.1" x2="1214.2" y2="1831.7" stroke="#dc9cb2" stroke-opacity="0.35" stroke-width="2.4" stroke-linecap="round"/>
<line x1="1260.3" y1="1998.0" x2="1269.0" y2="1950.1" stroke="#dc9cb2" stroke-opacity="0.35" stroke-width="2.0" stroke-linecap="round"/>
<line x1="1258.9" y1="1884.3" x2="1275.7" y2="1845.4" stroke="#cc8aa2" stroke-opacity="0.3" stroke-width="2.0" stroke-linecap="round"/>
<line x1="1314.3" y1="1975.5" x2="1350.9" y2="1875.1" stroke="#cc8aa2" stroke-opacity="0.3" stroke-width="2.1" stroke-linecap="round"/>
<line x1="1251.9" y1="2009.9" x2="1269.8" y2="1925.1" stroke="#cc8aa2" stroke-opacity="0.3" stroke-width="2.3" stroke-linecap="round"/>
<line x1="1175.5" y1="2002.9" x2="1189.4" y2="1928.9" stroke="#dc9cb2" stroke-opacity="0.35" stroke-width="1.4" stroke-linecap="round"/>
<line x1="1309.7" y1="1969.7" x2="1343.3" y2="1867.7" stroke="#dc9cb2" stroke-opacity="0.35" stroke-width="1.4" stroke-linecap="round"/>
<line x1="1209.3" y1="1994.0" x2="1227.9" y2="1949.2" stroke="#fbf0f4" stroke-opacity="0.55" stroke-width="1.5" stroke-linecap="round"/>
<line x1="1253.1" y1="1962.7" x2="1287.1" y2="1891.1" stroke="#dc9cb2" stroke-opacity="0.35" stroke-width="1.8" stroke-linecap="round"/>
<line x1="1312.4" y1="1917.1" x2="1328.4" y2="1838.0" stroke="#dc9cb2" stroke-opacity="0.35" stroke-width="1.1" stroke-linecap="round"/>
<line x1="1244.5" y1="1903.6" x2="1262.8" y2="1807.0" stroke="#dc9cb2" stroke-opacity="0.35" stroke-width="1.3" stroke-linecap="round"/>
<line x1="1239.1" y1="1937.8" x2="1276.5" y2="1859.4" stroke="#cc8aa2" stroke-opacity="0.3" stroke-width="2.2" stroke-linecap="round"/>
<line x1="1292.7" y1="1892.3" x2="1318.8" y2="1846.2" stroke="#dc9cb2" stroke-opacity="0.35" stroke-width="1.5" stroke-linecap="round"/>
<line x1="1170.1" y1="1999.1" x2="1183.4" y2="1959.6" stroke="#cc8aa2" stroke-opacity="0.3" stroke-width="2.3" stroke-linecap="round"/>
<line x1="1322.4" y1="1947.5" x2="1342.0" y2="1869.3" stroke="#cc8aa2" stroke-opacity="0.3" stroke-width="2.4" stroke-linecap="round"/>
<line x1="1231.7" y1="1909.0" x2="1255.4" y2="1836.2" stroke="#dc9cb2" stroke-opacity="0.35" stroke-width="2.2" stroke-linecap="round"/>
<line x1="1264.0" y1="1945.3" x2="1277.9" y2="1893.1" stroke="#fbf0f4" stroke-opacity="0.55" stroke-width="2.1" stroke-linecap="round"/>
<line x1="1221.9" y1="1914.7" x2="1253.3" y2="1837.2" stroke="#dc9cb2" stroke-opacity="0.35" stroke-width="1.5" stroke-linecap="round"/>
<line x1="1174.1" y1="1943.2" x2="1191.8" y2="1895.3" stroke="#fbf0f4" stroke-opacity="0.55" stroke-width="1.8" stroke-linecap="round"/>
<line x1="1178.4" y1="1958.6" x2="1215.9" y2="1884.8" stroke="#dc9cb2" stroke-opacity="0.35" stroke-width="1.8" stroke-linecap="round"/>
<line x1="1236.1" y1="1978.3" x2="1252.2" y2="1927.3" stroke="#fbf0f4" stroke-opacity="0.55" stroke-width="1.0" stroke-linecap="round"/>
<line x1="1191.7" y1="1966.6" x2="1206.2" y2="1920.7" stroke="#cc8aa2" stroke-opacity="0.3" stroke-width="2.0" stroke-linecap="round"/>
<line x1="1239.0" y1="1984.5" x2="1266.2" y2="1929.2" stroke="#fbf0f4" stroke-opacity="0.55" stroke-width="1.3" stroke-linecap="round"/>
<line x1="1258.3" y1="1984.9" x2="1268.9" y2="1927.8" stroke="#cc8aa2" stroke-opacity="0.3" stroke-width="1.0" stroke-linecap="round"/>
<line x1="1304.1" y1="1897.8" x2="1343.7" y2="1820.6" stroke="#cc8aa2" stroke-opacity="0.3" stroke-width="1.8" stroke-linecap="round"/>
<line x1="1187.6" y1="1914.0" x2="1223.5" y2="1823.1" stroke="#cc8aa2" stroke-opacity="0.3" stroke-width="2.3" stroke-linecap="round"/>
<line x1="1248.9" y1="1931.2" x2="1269.8" y2="1869.5" stroke="#cc8aa2" stroke-opacity="0.3" stroke-width="1.5" stroke-linecap="round"/>
<line x1="1196.9" y1="1899.8" x2="1229.6" y2="1820.1" stroke="#cc8aa2" stroke-opacity="0.3" stroke-width="1.7" stroke-linecap="round"/>
<line x1="1255.5" y1="2016.7" x2="1271.1" y2="1938.1" stroke="#dc9cb2" stroke-opacity="0.35" stroke-width="1.2" stroke-linecap="round"/>
<line x1="1167.1" y1="1964.1" x2="1186.4" y2="1916.0" stroke="#fbf0f4" stroke-opacity="0.55" stroke-width="1.6" stroke-linecap="round"/>
<line x1="1200.8" y1="1923.3" x2="1229.5" y2="1808.8" stroke="#cc8aa2" stroke-opacity="0.3" stroke-width="1.9" stroke-linecap="round"/>
<line x1="1200.2" y1="1969.9" x2="1227.5" y2="1910.7" stroke="#cc8aa2" stroke-opacity="0.3" stroke-width="1.5" stroke-linecap="round"/>
<line x1="1271.6" y1="1955.9" x2="1302.3" y2="1851.1" stroke="#cc8aa2" stroke-opacity="0.3" stroke-width="2.1" stroke-linecap="round"/>
<line x1="1181.6" y1="1958.3" x2="1207.4" y2="1901.4" stroke="#fbf0f4" stroke-opacity="0.55" stroke-width="2.1" stroke-linecap="round"/>
<line x1="1244.1" y1="2021.1" x2="1296.1" y2="1921.4" stroke="#fbf0f4" stroke-opacity="0.55" stroke-width="1.7" stroke-linecap="round"/>
<line x1="1155.7" y1="2028.6" x2="1202.2" y2="1921.4" stroke="#dc9cb2" stroke-opacity="0.35" stroke-width="2.1" stroke-linecap="round"/>
<line x1="1254.9" y1="2015.1" x2="1282.6" y2="1926.7" stroke="#dc9cb2" stroke-opacity="0.35" stroke-width="1.2" stroke-linecap="round"/>
<line x1="1252.0" y1="1979.8" x2="1289.4" y2="1906.9" stroke="#dc9cb2" stroke-opacity="0.35" stroke-width="2.3" stroke-linecap="round"/>
<line x1="1274.2" y1="1974.1" x2="1300.2" y2="1910.4" stroke="#dc9cb2" stroke-opacity="0.35" stroke-width="1.2" stroke-linecap="round"/>
<line x1="1300.6" y1="1994.0" x2="1321.1" y2="1905.2" stroke="#dc9cb2" stroke-opacity="0.35" stroke-width="1.3" stroke-linecap="round"/>
<line x1="1167.1" y1="1933.7" x2="1204.9" y2="1831.9" stroke="#dc9cb2" stroke-opacity="0.35" stroke-width="2.4" stroke-linecap="round"/>
<line x1="1267.8" y1="1927.7" x2="1309.1" y2="1822.2" stroke="#fbf0f4" stroke-opacity="0.55" stroke-width="1.6" stroke-linecap="round"/>
<line x1="1162.9" y1="1893.2" x2="1199.7" y2="1822.1" stroke="#cc8aa2" stroke-opacity="0.3" stroke-width="2.0" stroke-linecap="round"/>
<ellipse cx="1236.4" cy="1895.8" rx="1.6" ry="2.1" fill="#7a3a30" fill-opacity="0.7"/>
<ellipse cx="1292.8" cy="1868.3" rx="2.0" ry="2.6" fill="#b06070" fill-opacity="0.7"/>
<ellipse cx="1189.3" cy="1970.4" rx="1.6" ry="2.1" fill="#7a3a30" fill-opacity="0.7"/>
<ellipse cx="1239.6" cy="1927.1" rx="2.0" ry="2.6" fill="#b06070" fill-opacity="0.7"/>
<ellipse cx="1202.3" cy="1936.9" rx="1.3" ry="1.7" fill="#5a3028" fill-opacity="0.7"/>
<ellipse cx="1257.3" cy="1957.7" rx="1.3" ry="1.7" fill="#5a3028" fill-opacity="0.7"/>
<ellipse cx="1308.8" cy="1878.2" rx="1.6" ry="2.1" fill="#7a3a30" fill-opacity="0.7"/>
<ellipse cx="1233.0" cy="1899.5" rx="1.3" ry="1.7" fill="#5a3028" fill-opacity="0.7"/>
<ellipse cx="1248.9" cy="1935.4" rx="1.6" ry="2.1" fill="#7a3a30" fill-opacity="0.7"/>
<ellipse cx="1254.8" cy="1868.4" rx="2.0" ry="2.6" fill="#b06070" fill-opacity="0.7"/>
<ellipse cx="1201.2" cy="1923.4" rx="1.6" ry="2.1" fill="#7a3a30" fill-opacity="0.7"/>
<ellipse cx="1293.4" cy="1887.6" rx="1.6" ry="2.1" fill="#7a3a30" fill-opacity="0.7"/>
</g>
<clipPath id="cc202"><rect x="1324.7" y="1865.0" width="136.7" height="106.0"/></clipPath>
<g clip-path="url(#cc202)">
<rect x="1324.7" y="1865.0" width="136.7" height="106.0" fill="#ece3de"/>
<line x1="1317.6" y1="1917.2" x2="1373.9" y2="1963.3" stroke="#c8b8a8" stroke-opacity="0.35" stroke-width="2.5" stroke-linecap="round"/>
<line x1="1423.8" y1="1875.2" x2="1487.4" y2="1917.0" stroke="#c8b8a8" stroke-opacity="0.35" stroke-width="1.4" stroke-linecap="round"/>
<line x1="1354.1" y1="1930.8" x2="1439.2" y2="1998.1" stroke="#f6f0ee" stroke-opacity="0.5" stroke-width="1.5" stroke-linecap="round"/>
<line x1="1402.6" y1="1910.8" x2="1486.4" y2="1964.7" stroke="#b0a090" stroke-opacity="0.35" stroke-width="1.8" stroke-linecap="round"/>
<line x1="1346.0" y1="1946.7" x2="1437.7" y2="2007.2" stroke="#c8b8a8" stroke-opacity="0.35" stroke-width="2.4" stroke-linecap="round"/>
<line x1="1285.5" y1="1851.2" x2="1356.0" y2="1924.5" stroke="#b0a090" stroke-opacity="0.35" stroke-width="1.3" stroke-linecap="round"/>
<line x1="1326.3" y1="1944.6" x2="1372.3" y2="1964.8" stroke="#b0a090" stroke-opacity="0.35" stroke-width="1.3" stroke-linecap="round"/>
<line x1="1304.6" y1="1869.3" x2="1384.9" y2="1914.3" stroke="#b0a090" stroke-opacity="0.35" stroke-width="2.3" stroke-linecap="round"/>
<line x1="1377.7" y1="1916.4" x2="1443.9" y2="1993.3" stroke="#b0a090" stroke-opacity="0.35" stroke-width="1.6" stroke-linecap="round"/>
<line x1="1321.0" y1="1947.3" x2="1383.8" y2="1984.1" stroke="#f6f0ee" stroke-opacity="0.5" stroke-width="2.3" stroke-linecap="round"/>
<line x1="1288.7" y1="1942.7" x2="1345.5" y2="2008.5" stroke="#b0a090" stroke-opacity="0.35" stroke-width="2.5" stroke-linecap="round"/>
<line x1="1333.7" y1="1928.2" x2="1385.9" y2="1967.7" stroke="#c8b8a8" stroke-opacity="0.35" stroke-width="1.4" stroke-linecap="round"/>
<line x1="1317.6" y1="1899.6" x2="1406.5" y2="1975.1" stroke="#f6f0ee" stroke-opacity="0.5" stroke-width="2.4" stroke-linecap="round"/>
<line x1="1350.6" y1="1882.5" x2="1425.1" y2="1938.3" stroke="#b0a090" stroke-opacity="0.35" stroke-width="2.3" stroke-linecap="round"/>
<line x1="1348.0" y1="1907.8" x2="1427.4" y2="1954.4" stroke="#b0a090" stroke-opacity="0.35" stroke-width="1.0" stroke-linecap="round"/>
<line x1="1367.5" y1="1943.6" x2="1461.6" y2="1988.7" stroke="#b0a090" stroke-opacity="0.35" stroke-width="2.2" stroke-linecap="round"/>
<line x1="1328.6" y1="1929.3" x2="1361.8" y2="1952.4" stroke="#b0a090" stroke-opacity="0.35" stroke-width="2.2" stroke-linecap="round"/>
<line x1="1410.9" y1="1855.7" x2="1509.7" y2="1918.3" stroke="#b0a090" stroke-opacity="0.35" stroke-width="1.6" stroke-linecap="round"/>
<line x1="1397.8" y1="1894.1" x2="1440.4" y2="1934.5" stroke="#b0a090" stroke-opacity="0.35" stroke-width="1.9" stroke-linecap="round"/>
<line x1="1403.7" y1="1848.0" x2="1473.0" y2="1882.9" stroke="#b0a090" stroke-opacity="0.35" stroke-width="1.3" stroke-linecap="round"/>
<line x1="1367.5" y1="1887.8" x2="1464.7" y2="1949.8" stroke="#b0a090" stroke-opacity="0.35" stroke-width="2.3" stroke-linecap="round"/>
<line x1="1419.3" y1="1876.5" x2="1491.4" y2="1932.6" stroke="#f6f0ee" stroke-opacity="0.5" stroke-width="2.3" stroke-linecap="round"/>
<line x1="1304.2" y1="1909.8" x2="1356.5" y2="1939.1" stroke="#c8b8a8" stroke-opacity="0.35" stroke-width="2.1" stroke-linecap="round"/>
<line x1="1372.2" y1="1867.1" x2="1431.2" y2="1906.2" stroke="#f6f0ee" stroke-opacity="0.5" stroke-width="2.4" stroke-linecap="round"/>
<line x1="1369.3" y1="1835.9" x2="1432.0" y2="1904.4" stroke="#f6f0ee" stroke-opacity="0.5" stroke-width="1.9" stroke-linecap="round"/>
<line x1="1355.3" y1="1889.4" x2="1405.0" y2="1937.8" stroke="#c8b8a8" stroke-opacity="0.35" stroke-width="1.1" stroke-linecap="round"/>
<line x1="1368.3" y1="1879.0" x2="1409.5" y2="1917.1" stroke="#f6f0ee" stroke-opacity="0.5" stroke-width="1.4" stroke-linecap="round"/>
<line x1="1437.9" y1="1923.5" x2="1484.2" y2="1958.8" stroke="#f6f0ee" stroke-opacity="0.5" stroke-width="2.0" stroke-linecap="round"/>
<line x1="1316.5" y1="1950.1" x2="1362.3" y2="1994.9" stroke="#b0a090" stroke-opacity="0.35" stroke-width="1.0" stroke-linecap="round"/>
<line x1="1320.2" y1="1846.2" x2="1399.7" y2="1914.7" stroke="#b0a090" stroke-opacity="0.35" stroke-width="2.4" stroke-linecap="round"/>
<line x1="1276.9" y1="1824.0" x2="1357.0" y2="1895.7" stroke="#b0a090" stroke-opacity="0.35" stroke-width="2.3" stroke-linecap="round"/>
<line x1="1305.2" y1="1847.6" x2="1348.5" y2="1874.8" stroke="#f6f0ee" stroke-opacity="0.5" stroke-width="1.9" stroke-linecap="round"/>
<line x1="1425.4" y1="1846.3" x2="1499.2" y2="1930.3" stroke="#c8b8a8" stroke-opacity="0.35" stroke-width="1.6" stroke-linecap="round"/>
<line x1="1409.3" y1="1918.7" x2="1455.4" y2="1958.5" stroke="#b0a090" stroke-opacity="0.35" stroke-width="1.6" stroke-linecap="round"/>
<line x1="1387.1" y1="1857.5" x2="1439.9" y2="1912.3" stroke="#f6f0ee" stroke-opacity="0.5" stroke-width="1.3" stroke-linecap="round"/>
<line x1="1383.5" y1="1936.0" x2="1468.5" y2="2004.4" stroke="#b0a090" stroke-opacity="0.35" stroke-width="1.8" stroke-linecap="round"/>
<line x1="1300.0" y1="1925.1" x2="1349.5" y2="1953.8" stroke="#c8b8a8" stroke-opacity="0.35" stroke-width="2.3" stroke-linecap="round"/>
<line x1="1388.0" y1="1862.0" x2="1436.6" y2="1890.0" stroke="#b0a090" stroke-opacity="0.35" stroke-width="1.7" stroke-linecap="round"/>
<line x1="1329.0" y1="1862.0" x2="1420.2" y2="1916.6" stroke="#c8b8a8" stroke-opacity="0.35" stroke-width="1.8" stroke-linecap="round"/>
<line x1="1401.3" y1="1951.7" x2="1452.6" y2="1998.6" stroke="#b0a090" stroke-opacity="0.35" stroke-width="2.2" stroke-linecap="round"/>
<line x1="1388.5" y1="1902.9" x2="1459.0" y2="1984.1" stroke="#b0a090" stroke-opacity="0.35" stroke-width="2.1" stroke-linecap="round"/>
<line x1="1284.2" y1="1950.5" x2="1346.6" y2="1998.5" stroke="#c8b8a8" stroke-opacity="0.35" stroke-width="1.1" stroke-linecap="round"/>
<line x1="1399.0" y1="1913.0" x2="1484.2" y2="1972.4" stroke="#b0a090" stroke-opacity="0.35" stroke-width="1.6" stroke-linecap="round"/>
<line x1="1389.5" y1="1920.1" x2="1487.5" y2="1973.6" stroke="#f6f0ee" stroke-opacity="0.5" stroke-width="2.3" stroke-linecap="round"/>
<line x1="1351.5" y1="1895.1" x2="1385.2" y2="1924.9" stroke="#f6f0ee" stroke-opacity="0.5" stroke-width="1.8" stroke-linecap="round"/>
<line x1="1348.8" y1="1952.1" x2="1394.0" y2="1978.5" stroke="#f6f0ee" stroke-opacity="0.5" stroke-width="1.7" stroke-linecap="round"/>
<line x1="1388.8" y1="1952.9" x2="1433.8" y2="1973.5" stroke="#f6f0ee" stroke-opacity="0.5" stroke-width="2.3" stroke-linecap="round"/>
<line x1="1382.6" y1="1866.0" x2="1454.7" y2="1919.2" stroke="#c8b8a8" stroke-opacity="0.35" stroke-width="1.7" stroke-linecap="round"/>
<line x1="1400.5" y1="1907.0" x2="1508.7" y2="1948.4" stroke="#b0a090" stroke-opacity="0.35" stroke-width="1.5" stroke-linecap="round"/>
<line x1="1421.4" y1="1937.8" x2="1519.0" y2="2001.9" stroke="#b0a090" stroke-opacity="0.35" stroke-width="1.6" stroke-linecap="round"/>
<ellipse cx="1389.8" cy="1931.3" rx="2.0" ry="2.6" fill="#604030" fill-opacity="0.7"/>
<ellipse cx="1377.8" cy="1894.1" rx="2.5" ry="3.2" fill="#8a7060" fill-opacity="0.7"/>
<ellipse cx="1442.1" cy="1869.7" rx="2.0" ry="2.6" fill="#604030" fill-opacity="0.7"/>
<ellipse cx="1362.6" cy="1935.5" rx="2.5" ry="3.2" fill="#8a7060" fill-opacity="0.7"/>
<ellipse cx="1348.8" cy="1889.6" rx="2.0" ry="2.6" fill="#604030" fill-opacity="0.7"/>
<ellipse cx="1333.3" cy="1959.7" rx="2.5" ry="3.2" fill="#8a7060" fill-opacity="0.7"/>
<ellipse cx="1439.1" cy="1872.7" rx="2.5" ry="3.2" fill="#8a7060" fill-opacity="0.7"/>
<ellipse cx="1413.2" cy="1965.9" rx="2.0" ry="2.6" fill="#604030" fill-opacity="0.7"/>
<ellipse cx="1446.5" cy="1919.6" rx="2.0" ry="2.6" fill="#604030" fill-opacity="0.7"/>
<ellipse cx="1381.9" cy="1933.7" rx="2.5" ry="3.2" fill="#8a7060" fill-opacity="0.7"/>
<ellipse cx="1327.0" cy="1950.7" rx="2.5" ry="3.2" fill="#8a7060" fill-opacity="0.7"/>
<ellipse cx="1357.5" cy="1890.1" rx="2.0" ry="2.6" fill="#604030" fill-opacity="0.7"/>
<ellipse cx="1325.5" cy="1900.3" rx="2.5" ry="3.2" fill="#8a7060" fill-opacity="0.7"/>
<ellipse cx="1331.8" cy="1906.4" rx="2.5" ry="3.2" fill="#8a7060" fill-opacity="0.7"/>
<ellipse cx="1450.5" cy="1902.3" rx="2.5" ry="3.2" fill="#8a7060" fill-opacity="0.7"/>
<ellipse cx="1346.2" cy="1942.3" rx="2.0" ry="2.6" fill="#604030" fill-opacity="0.7"/>
<ellipse cx="1447.8" cy="1923.8" rx="2.5" ry="3.2" fill="#8a7060" fill-opacity="0.7"/>
<ellipse cx="1404.0" cy="1934.5" rx="2.5" ry="3.2" fill="#8a7060" fill-opacity="0.7"/>
<ellipse cx="1350.7" cy="1893.1" rx="2.0" ry="2.6" fill="#604030" fill-opacity="0.7"/>
<ellipse cx="1435.3" cy="1964.0" rx="2.5" ry="3.2" fill="#8a7060" fill-opacity="0.7"/>
</g>
<clipPath id="cc203"><rect x="1461.4" y="1865.0" width="138.6" height="106.0"/></clipPath>
<g clip-path="url(#cc203)">
<rect x="1461.4" y="1865.0" width="138.6" height="106.0" fill="#f3dde5"/>
<line x1="1577.0" y1="1892.4" x2="1618.7" y2="1824.9" stroke="#dc9cb2" stroke-opacity="0.35" stroke-width="2.5" stroke-linecap="round"/>
<line x1="1534.5" y1="1926.8" x2="1614.1" y2="1869.9" stroke="#cc8aa2" stroke-opacity="0.3" stroke-width="1.1" stroke-linecap="round"/>
<line x1="1584.6" y1="1933.9" x2="1632.7" y2="1864.4" stroke="#dc9cb2" stroke-opacity="0.35" stroke-width="1.4" stroke-linecap="round"/>
<line x1="1438.7" y1="2000.3" x2="1497.5" y2="1946.9" stroke="#cc8aa2" stroke-opacity="0.3" stroke-width="1.7" stroke-linecap="round"/>
<line x1="1436.5" y1="1981.4" x2="1471.7" y2="1940.0" stroke="#cc8aa2" stroke-opacity="0.3" stroke-width="1.6" stroke-linecap="round"/>
<line x1="1486.7" y1="1966.9" x2="1533.8" y2="1901.0" stroke="#fbf0f4" stroke-opacity="0.55" stroke-width="2.5" stroke-linecap="round"/>
<line x1="1480.1" y1="1923.9" x2="1529.4" y2="1867.7" stroke="#cc8aa2" stroke-opacity="0.3" stroke-width="2.4" stroke-linecap="round"/>
<line x1="1519.6" y1="1914.9" x2="1585.6" y2="1827.2" stroke="#dc9cb2" stroke-opacity="0.35" stroke-width="2.0" stroke-linecap="round"/>
<line x1="1477.8" y1="1914.6" x2="1508.7" y2="1866.4" stroke="#dc9cb2" stroke-opacity="0.35" stroke-width="2.2" stroke-linecap="round"/>
<line x1="1562.8" y1="1984.8" x2="1624.0" y2="1890.3" stroke="#fbf0f4" stroke-opacity="0.55" stroke-width="2.2" stroke-linecap="round"/>
<line x1="1561.9" y1="2008.8" x2="1641.1" y2="1940.5" stroke="#dc9cb2" stroke-opacity="0.35" stroke-width="2.5" stroke-linecap="round"/>
<line x1="1515.6" y1="1945.6" x2="1606.8" y2="1911.4" stroke="#cc8aa2" stroke-opacity="0.3" stroke-width="1.6" stroke-linecap="round"/>
<line x1="1479.3" y1="1891.1" x2="1513.9" y2="1851.8" stroke="#cc8aa2" stroke-opacity="0.3" stroke-width="2.0" stroke-linecap="round"/>
<line x1="1550.9" y1="2011.0" x2="1603.9" y2="1919.8" stroke="#fbf0f4" stroke-opacity="0.55" stroke-width="1.7" stroke-linecap="round"/>
<line x1="1452.6" y1="1883.3" x2="1484.0" y2="1834.5" stroke="#dc9cb2" stroke-opacity="0.35" stroke-width="2.2" stroke-linecap="round"/>
<line x1="1575.1" y1="2021.2" x2="1644.2" y2="1925.7" stroke="#dc9cb2" stroke-opacity="0.35" stroke-width="1.8" stroke-linecap="round"/>
<line x1="1460.0" y1="1988.7" x2="1500.5" y2="1941.0" stroke="#dc9cb2" stroke-opacity="0.35" stroke-width="1.6" stroke-linecap="round"/>
<line x1="1439.6" y1="1972.6" x2="1502.4" y2="1899.9" stroke="#fbf0f4" stroke-opacity="0.55" stroke-width="2.2" stroke-linecap="round"/>
<line x1="1552.7" y1="1994.9" x2="1637.2" y2="1944.5" stroke="#dc9cb2" stroke-opacity="0.35" stroke-width="1.5" stroke-linecap="round"/>
<line x1="1458.2" y1="1926.0" x2="1515.6" y2="1838.1" stroke="#dc9cb2" stroke-opacity="0.35" stroke-width="1.2" stroke-linecap="round"/>
<line x1="1570.5" y1="1973.9" x2="1623.4" y2="1894.2" stroke="#dc9cb2" stroke-opacity="0.35" stroke-width="2.0" stroke-linecap="round"/>
<line x1="1546.5" y1="1973.6" x2="1592.0" y2="1894.9" stroke="#dc9cb2" stroke-opacity="0.35" stroke-width="1.8" stroke-linecap="round"/>
<line x1="1440.8" y1="1893.8" x2="1498.6" y2="1828.5" stroke="#fbf0f4" stroke-opacity="0.55" stroke-width="1.6" stroke-linecap="round"/>
<line x1="1491.1" y1="1973.5" x2="1528.0" y2="1910.4" stroke="#fbf0f4" stroke-opacity="0.55" stroke-width="1.4" stroke-linecap="round"/>
<line x1="1514.1" y1="1972.9" x2="1566.5" y2="1927.4" stroke="#fbf0f4" stroke-opacity="0.55" stroke-width="1.2" stroke-linecap="round"/>
<line x1="1431.0" y1="1930.5" x2="1487.8" y2="1869.5" stroke="#fbf0f4" stroke-opacity="0.55" stroke-width="1.2" stroke-linecap="round"/>
<line x1="1519.2" y1="1919.6" x2="1568.9" y2="1880.4" stroke="#cc8aa2" stroke-opacity="0.3" stroke-width="2.3" stroke-linecap="round"/>
<line x1="1563.5" y1="1967.6" x2="1612.1" y2="1946.4" stroke="#dc9cb2" stroke-opacity="0.35" stroke-width="1.6" stroke-linecap="round"/>
<line x1="1539.5" y1="1930.2" x2="1613.8" y2="1900.1" stroke="#cc8aa2" stroke-opacity="0.3" stroke-width="2.4" stroke-linecap="round"/>
<line x1="1537.5" y1="1971.0" x2="1592.0" y2="1921.0" stroke="#dc9cb2" stroke-opacity="0.35" stroke-width="1.7" stroke-linecap="round"/>
<line x1="1492.7" y1="1878.9" x2="1533.4" y2="1831.7" stroke="#dc9cb2" stroke-opacity="0.35" stroke-width="1.8" stroke-linecap="round"/>
<line x1="1431.1" y1="1899.1" x2="1483.9" y2="1867.8" stroke="#cc8aa2" stroke-opacity="0.3" stroke-width="1.1" stroke-linecap="round"/>
<line x1="1564.9" y1="1888.7" x2="1612.7" y2="1838.6" stroke="#cc8aa2" stroke-opacity="0.3" stroke-width="2.3" stroke-linecap="round"/>
<line x1="1484.8" y1="1966.4" x2="1517.5" y2="1920.1" stroke="#dc9cb2" stroke-opacity="0.35" stroke-width="1.5" stroke-linecap="round"/>
<line x1="1437.3" y1="1987.1" x2="1507.5" y2="1947.2" stroke="#fbf0f4" stroke-opacity="0.55" stroke-width="1.9" stroke-linecap="round"/>
<line x1="1461.8" y1="1933.2" x2="1489.7" y2="1897.9" stroke="#fbf0f4" stroke-opacity="0.55" stroke-width="1.9" stroke-linecap="round"/>
<line x1="1428.3" y1="1989.2" x2="1535.7" y2="1949.4" stroke="#dc9cb2" stroke-opacity="0.35" stroke-width="2.3" stroke-linecap="round"/>
<line x1="1566.4" y1="2025.9" x2="1624.8" y2="1926.8" stroke="#dc9cb2" stroke-opacity="0.35" stroke-width="1.9" stroke-linecap="round"/>
<line x1="1474.4" y1="1946.4" x2="1535.7" y2="1905.8" stroke="#fbf0f4" stroke-opacity="0.55" stroke-width="2.2" stroke-linecap="round"/>
<line x1="1445.0" y1="1921.9" x2="1524.7" y2="1845.8" stroke="#dc9cb2" stroke-opacity="0.35" stroke-width="2.2" stroke-linecap="round"/>
<line x1="1535.1" y1="1887.5" x2="1631.6" y2="1829.7" stroke="#cc8aa2" stroke-opacity="0.3" stroke-width="1.0" stroke-linecap="round"/>
<line x1="1516.8" y1="1908.7" x2="1618.3" y2="1848.1" stroke="#cc8aa2" stroke-opacity="0.3" stroke-width="1.7" stroke-linecap="round"/>
<line x1="1544.7" y1="1936.2" x2="1591.0" y2="1892.3" stroke="#cc8aa2" stroke-opacity="0.3" stroke-width="2.5" stroke-linecap="round"/>
<line x1="1415.8" y1="1901.1" x2="1511.8" y2="1832.5" stroke="#dc9cb2" stroke-opacity="0.35" stroke-width="1.9" stroke-linecap="round"/>
<line x1="1440.4" y1="1922.2" x2="1498.1" y2="1867.8" stroke="#dc9cb2" stroke-opacity="0.35" stroke-width="2.0" stroke-linecap="round"/>
<ellipse cx="1480.5" cy="1866.1" rx="1.6" ry="2.1" fill="#7a3a30" fill-opacity="0.7"/>
<ellipse cx="1518.7" cy="1946.6" rx="1.3" ry="1.7" fill="#5a3028" fill-opacity="0.7"/>
<ellipse cx="1468.4" cy="1913.7" rx="1.6" ry="2.1" fill="#7a3a30" fill-opacity="0.7"/>
<ellipse cx="1595.5" cy="1926.8" rx="1.3" ry="1.7" fill="#5a3028" fill-opacity="0.7"/>
<ellipse cx="1561.8" cy="1884.3" rx="2.0" ry="2.6" fill="#b06070" fill-opacity="0.7"/>
<ellipse cx="1484.2" cy="1871.9" rx="1.6" ry="2.1" fill="#7a3a30" fill-opacity="0.7"/>
<ellipse cx="1550.0" cy="1937.4" rx="1.6" ry="2.1" fill="#7a3a30" fill-opacity="0.7"/>
<ellipse cx="1558.8" cy="1943.4" rx="1.3" ry="1.7" fill="#5a3028" fill-opacity="0.7"/>
<ellipse cx="1578.6" cy="1870.1" rx="2.0" ry="2.6" fill="#b06070" fill-opacity="0.7"/>
<ellipse cx="1496.8" cy="1920.4" rx="2.0" ry="2.6" fill="#b06070" fill-opacity="0.7"/>
<ellipse cx="1507.6" cy="1961.2" rx="1.6" ry="2.1" fill="#7a3a30" fill-opacity="0.7"/>
<ellipse cx="1505.4" cy="1883.9" rx="1.6" ry="2.1" fill="#7a3a30" fill-opacity="0.7"/>
</g>
<clipPath id="cc204"><rect x="1600.0" y="1865.0" width="137.8" height="106.0"/></clipPath>
<g clip-path="url(#cc204)">
<rect x="1600.0" y="1865.0" width="137.8" height="106.0" fill="#eccbd9"/>
<line x1="1571.6" y1="1931.5" x2="1674.5" y2="1882.2" stroke="#cc8aa2" stroke-opacity="0.3" stroke-width="2.3" stroke-linecap="round"/>
<line x1="1720.4" y1="1878.1" x2="1764.9" y2="1850.1" stroke="#dc9cb2" stroke-opacity="0.35" stroke-width="1.1" stroke-linecap="round"/>
<line x1="1609.3" y1="1977.0" x2="1683.8" y2="1942.8" stroke="#fbf0f4" stroke-opacity="0.55" stroke-width="2.4" stroke-linecap="round"/>
<line x1="1597.3" y1="1915.4" x2="1636.5" y2="1871.4" stroke="#dc9cb2" stroke-opacity="0.35" stroke-width="1.6" stroke-linecap="round"/>
<line x1="1585.9" y1="1924.6" x2="1678.5" y2="1887.8" stroke="#cc8aa2" stroke-opacity="0.3" stroke-width="2.2" stroke-linecap="round"/>
<line x1="1649.3" y1="1960.8" x2="1709.5" y2="1862.2" stroke="#fbf0f4" stroke-opacity="0.55" stroke-width="1.6" stroke-linecap="round"/>
<line x1="1620.8" y1="1989.7" x2="1661.4" y2="1926.0" stroke="#fbf0f4" stroke-opacity="0.55" stroke-width="1.4" stroke-linecap="round"/>
<line x1="1678.7" y1="1896.4" x2="1770.3" y2="1850.8" stroke="#dc9cb2" stroke-opacity="0.35" stroke-width="2.0" stroke-linecap="round"/>
<line x1="1607.9" y1="1979.5" x2="1696.2" y2="1929.5" stroke="#fbf0f4" stroke-opacity="0.55" stroke-width="2.3" stroke-linecap="round"/>
<line x1="1694.1" y1="1987.3" x2="1764.6" y2="1919.9" stroke="#fbf0f4" stroke-opacity="0.55" stroke-width="1.3" stroke-linecap="round"/>
<line x1="1711.5" y1="1960.6" x2="1757.4" y2="1938.3" stroke="#dc9cb2" stroke-opacity="0.35" stroke-width="2.2" stroke-linecap="round"/>
<line x1="1623.5" y1="1964.8" x2="1700.2" y2="1918.9" stroke="#cc8aa2" stroke-opacity="0.3" stroke-width="2.1" stroke-linecap="round"/>
<line x1="1611.6" y1="1929.9" x2="1666.4" y2="1887.5" stroke="#fbf0f4" stroke-opacity="0.55" stroke-width="2.5" stroke-linecap="round"/>
<line x1="1619.1" y1="1984.6" x2="1678.5" y2="1927.5" stroke="#dc9cb2" stroke-opacity="0.35" stroke-width="2.2" stroke-linecap="round"/>
<line x1="1698.5" y1="1967.0" x2="1742.2" y2="1932.3" stroke="#dc9cb2" stroke-opacity="0.35" stroke-width="1.6" stroke-linecap="round"/>
<line x1="1711.1" y1="1896.7" x2="1752.3" y2="1841.3" stroke="#fbf0f4" stroke-opacity="0.55" stroke-width="1.7" stroke-linecap="round"/>
<line x1="1634.4" y1="1946.5" x2="1690.1" y2="1874.8" stroke="#cc8aa2" stroke-opacity="0.3" stroke-width="2.3" stroke-linecap="round"/>
<line x1="1674.7" y1="2016.1" x2="1742.5" y2="1938.9" stroke="#dc9cb2" stroke-opacity="0.35" stroke-width="1.4" stroke-linecap="round"/>
<line x1="1709.6" y1="1959.0" x2="1760.0" y2="1874.2" stroke="#cc8aa2" stroke-opacity="0.3" stroke-width="1.8" stroke-linecap="round"/>
<line x1="1630.5" y1="2005.8" x2="1694.3" y2="1929.3" stroke="#dc9cb2" stroke-opacity="0.35" stroke-width="1.8" stroke-linecap="round"/>
<line x1="1606.9" y1="1998.1" x2="1665.1" y2="1899.6" stroke="#fbf0f4" stroke-opacity="0.55" stroke-width="1.9" stroke-linecap="round"/>
<line x1="1681.6" y1="1938.1" x2="1726.1" y2="1906.4" stroke="#fbf0f4" stroke-opacity="0.55" stroke-width="1.5" stroke-linecap="round"/>
<line x1="1634.8" y1="1969.9" x2="1707.9" y2="1911.6" stroke="#cc8aa2" stroke-opacity="0.3" stroke-width="1.3" stroke-linecap="round"/>
<line x1="1628.6" y1="1999.1" x2="1662.8" y2="1942.4" stroke="#cc8aa2" stroke-opacity="0.3" stroke-width="1.5" stroke-linecap="round"/>
<line x1="1583.9" y1="1936.2" x2="1647.6" y2="1861.3" stroke="#fbf0f4" stroke-opacity="0.55" stroke-width="1.1" stroke-linecap="round"/>
<line x1="1651.2" y1="1927.6" x2="1692.7" y2="1873.7" stroke="#cc8aa2" stroke-opacity="0.3" stroke-width="2.2" stroke-linecap="round"/>
<line x1="1630.2" y1="1972.0" x2="1711.2" y2="1892.0" stroke="#dc9cb2" stroke-opacity="0.35" stroke-width="1.3" stroke-linecap="round"/>
<line x1="1653.8" y1="1955.9" x2="1718.2" y2="1857.2" stroke="#fbf0f4" stroke-opacity="0.55" stroke-width="2.3" stroke-linecap="round"/>
<line x1="1563.4" y1="1977.7" x2="1620.4" y2="1954.5" stroke="#dc9cb2" stroke-opacity="0.35" stroke-width="1.6" stroke-linecap="round"/>
<line x1="1565.0" y1="1941.4" x2="1662.0" y2="1897.5" stroke="#fbf0f4" stroke-opacity="0.55" stroke-width="1.3" stroke-linecap="round"/>
<line x1="1581.5" y1="1993.0" x2="1673.8" y2="1957.9" stroke="#fbf0f4" stroke-opacity="0.55" stroke-width="1.1" stroke-linecap="round"/>
<line x1="1575.5" y1="1909.0" x2="1621.7" y2="1872.5" stroke="#fbf0f4" stroke-opacity="0.55" stroke-width="1.5" stroke-linecap="round"/>
<line x1="1665.2" y1="1905.1" x2="1714.4" y2="1876.7" stroke="#cc8aa2" stroke-opacity="0.3" stroke-width="1.0" stroke-linecap="round"/>
<line x1="1617.0" y1="1896.3" x2="1702.1" y2="1852.4" stroke="#cc8aa2" stroke-opacity="0.3" stroke-width="2.2" stroke-linecap="round"/>
<line x1="1619.7" y1="1989.8" x2="1655.3" y2="1969.8" stroke="#fbf0f4" stroke-opacity="0.55" stroke-width="1.9" stroke-linecap="round"/>
<line x1="1698.7" y1="1919.3" x2="1793.3" y2="1849.8" stroke="#fbf0f4" stroke-opacity="0.55" stroke-width="1.9" stroke-linecap="round"/>
<line x1="1717.9" y1="1876.6" x2="1753.0" y2="1851.6" stroke="#fbf0f4" stroke-opacity="0.55" stroke-width="1.1" stroke-linecap="round"/>
<line x1="1587.2" y1="1949.1" x2="1620.5" y2="1916.3" stroke="#cc8aa2" stroke-opacity="0.3" stroke-width="1.2" stroke-linecap="round"/>
<line x1="1651.7" y1="1888.4" x2="1707.7" y2="1840.4" stroke="#dc9cb2" stroke-opacity="0.35" stroke-width="1.4" stroke-linecap="round"/>
<line x1="1610.7" y1="1922.4" x2="1680.4" y2="1838.2" stroke="#cc8aa2" stroke-opacity="0.3" stroke-width="1.4" stroke-linecap="round"/>
<line x1="1622.1" y1="2002.6" x2="1697.6" y2="1957.7" stroke="#dc9cb2" stroke-opacity="0.35" stroke-width="1.3" stroke-linecap="round"/>
<line x1="1681.9" y1="1889.1" x2="1725.2" y2="1842.3" stroke="#fbf0f4" stroke-opacity="0.55" stroke-width="2.3" stroke-linecap="round"/>
<line x1="1691.4" y1="1932.3" x2="1775.5" y2="1873.8" stroke="#dc9cb2" stroke-opacity="0.35" stroke-width="2.5" stroke-linecap="round"/>
<line x1="1711.4" y1="1975.7" x2="1778.8" y2="1918.5" stroke="#cc8aa2" stroke-opacity="0.3" stroke-width="2.1" stroke-linecap="round"/>
<line x1="1579.7" y1="1961.6" x2="1683.6" y2="1922.3" stroke="#fbf0f4" stroke-opacity="0.55" stroke-width="1.3" stroke-linecap="round"/>
<ellipse cx="1655.9" cy="1911.1" rx="1.6" ry="2.1" fill="#7a3a30" fill-opacity="0.7"/>
<ellipse cx="1634.9" cy="1965.4" rx="2.0" ry="2.6" fill="#b06070" fill-opacity="0.7"/>
<ellipse cx="1717.9" cy="1920.0" rx="1.6" ry="2.1" fill="#7a3a30" fill-opacity="0.7"/>
<ellipse cx="1700.5" cy="1920.6" rx="1.6" ry="2.1" fill="#7a3a30" fill-opacity="0.7"/>
<ellipse cx="1707.9" cy="1954.8" rx="1.3" ry="1.7" fill="#5a3028" fill-opacity="0.7"/>
<ellipse cx="1678.3" cy="1878.9" rx="1.3" ry="1.7" fill="#5a3028" fill-opacity="0.7"/>
<ellipse cx="1660.7" cy="1946.3" rx="1.3" ry="1.7" fill="#5a3028" fill-opacity="0.7"/>
<ellipse cx="1603.1" cy="1929.1" rx="1.3" ry="1.7" fill="#5a3028" fill-opacity="0.7"/>
<ellipse cx="1659.4" cy="1963.0" rx="2.0" ry="2.6" fill="#b06070" fill-opacity="0.7"/>
<ellipse cx="1626.1" cy="1921.3" rx="1.3" ry="1.7" fill="#5a3028" fill-opacity="0.7"/>
<ellipse cx="1609.4" cy="1888.1" rx="1.3" ry="1.7" fill="#5a3028" fill-opacity="0.7"/>
<ellipse cx="1700.7" cy="1923.6" rx="2.0" ry="2.6" fill="#b06070" fill-opacity="0.7"/>
</g>
<rect x="1045.9" y="1865.2" width="691.5" height="105.5" fill="none" stroke="#000" stroke-width="5"/>
<rect x="1183.4" y="1862.7" width="5.2" height="110.4" fill="#000"/>
<rect x="1322.1" y="1862.7" width="5.2" height="110.4" fill="#000"/>
<rect x="1458.8" y="1862.7" width="5.2" height="110.4" fill="#000"/>
<rect x="1597.4" y="1862.7" width="5.2" height="110.4" fill="#000"/>
<rect x="1133.6" y="1958.0" width="45.9" height="5.2" fill="#000"/>
<rect x="1271.0" y="1958.0" width="46.0" height="5.2" fill="#000"/>
<rect x="1402.8" y="1958.0" width="46.0" height="5.2" fill="#000"/>
<rect x="1545.8" y="1958.0" width="45.1" height="5.2" fill="#000"/>
<rect x="1678.9" y="1958.0" width="45.9" height="5.2" fill="#000"/>
<text x="1655.5" y="2013.9" font-size="34.5" text-anchor="start" font-weight="bold" fill="#000" transform="translate(1655.5 2013.9) scale(1.0 1.035) translate(-1655.5 -2013.9)">200 µm</text>
<line x1="1143.0" y1="2095.3" x2="1143.0" y2="2088.5" stroke="#000" stroke-width="2.0"/>
<line x1="1120.8" y1="2088.5" x2="1165.3" y2="2088.5" stroke="#000" stroke-width="2.0"/>
<rect x="1100.5" y="2097.3" width="85.1" height="216.5" fill="#fff" stroke="#000" stroke-width="4"/>
<line x1="1283.6" y1="2153.7" x2="1283.6" y2="2139.0" stroke="#000" stroke-width="2.0"/>
<line x1="1261.1" y1="2139.0" x2="1306.0" y2="2139.0" stroke="#000" stroke-width="2.0"/>
<rect x="1240.7" y="2155.7" width="85.7" height="158.1" fill="#b8b9ba" stroke="#000" stroke-width="4"/>
<line x1="1423.4" y1="2080.0" x2="1423.4" y2="2073.7" stroke="#000" stroke-width="2.0"/>
<line x1="1400.9" y1="2073.7" x2="1446.0" y2="2073.7" stroke="#000" stroke-width="2.0"/>
<rect x="1380.3" y="2082.0" width="86.2" height="231.8" fill="#3b3192" stroke="#000" stroke-width="4"/>
<line x1="1564.4" y1="2153.2" x2="1564.4" y2="2147.5" stroke="#000" stroke-width="2.0"/>
<line x1="1542.0" y1="2147.5" x2="1586.9" y2="2147.5" stroke="#000" stroke-width="2.0"/>
<rect x="1521.6" y="2155.2" width="85.7" height="158.6" fill="#b8b9ba" stroke="#000" stroke-width="4"/>
<line x1="1704.6" y1="2166.2" x2="1704.6" y2="2156.0" stroke="#000" stroke-width="2.0"/>
<line x1="1681.9" y1="2156.0" x2="1727.3" y2="2156.0" stroke="#000" stroke-width="2.0"/>
<rect x="1661.2" y="2168.2" width="86.8" height="145.6" fill="#3b3192" stroke="#000" stroke-width="4"/>
<ellipse cx="1142.8" cy="2078.2" rx="6.5" ry="6" fill="#000"/>
<ellipse cx="1118.4" cy="2101.0" rx="6.5" ry="6" fill="#000"/>
<ellipse cx="1142.8" cy="2098.1" rx="6.5" ry="6" fill="#000"/>
<ellipse cx="1166.6" cy="2099.2" rx="6.5" ry="6" fill="#000"/>
<ellipse cx="1259.1" cy="2139.5" rx="6.5" ry="6" fill="#000"/>
<ellipse cx="1283.0" cy="2140.7" rx="6.5" ry="6" fill="#000"/>
<ellipse cx="1306.8" cy="2139.5" rx="6.5" ry="6" fill="#000"/>
<ellipse cx="1283.0" cy="2191.7" rx="6.5" ry="6" fill="#000"/>
<ellipse cx="1423.7" cy="2065.2" rx="6.5" ry="6" fill="#000"/>
<ellipse cx="1399.3" cy="2088.5" rx="6.5" ry="6" fill="#000"/>
<ellipse cx="1423.7" cy="2078.2" rx="6.5" ry="6" fill="#000"/>
<ellipse cx="1447.5" cy="2081.1" rx="6.5" ry="6" fill="#000"/>
<ellipse cx="1563.9" cy="2136.7" rx="6.5" ry="6" fill="#000"/>
<ellipse cx="1539.5" cy="2157.7" rx="6.5" ry="6" fill="#000"/>
<ellipse cx="1563.9" cy="2154.9" rx="6.5" ry="6" fill="#000"/>
<ellipse cx="1588.3" cy="2157.7" rx="6.5" ry="6" fill="#000"/>
<ellipse cx="1704.6" cy="2140.7" rx="6.5" ry="6" fill="#000"/>
<ellipse cx="1680.2" cy="2173.0" rx="6.5" ry="6" fill="#000"/>
<ellipse cx="1704.6" cy="2170.7" rx="6.5" ry="6" fill="#000"/>
<ellipse cx="1728.5" cy="2173.0" rx="6.5" ry="6" fill="#000"/>
<line x1="1049.1" y1="2036.0" x2="1049.1" y2="2315.7" stroke="#000" stroke-width="3.8"/>
<line x1="1033.2" y1="2313.8" x2="1799.5" y2="2313.8" stroke="#000" stroke-width="3.8"/>
<line x1="1034.1" y1="2061.2" x2="1049.1" y2="2061.2" stroke="#000" stroke-width="2.6"/>
<text x="1032.9" y="2068.9" font-size="21.5" text-anchor="end" font-weight="bold" fill="#000">20</text>
<line x1="1034.1" y1="2124.8" x2="1049.1" y2="2124.8" stroke="#000" stroke-width="2.6"/>
<text x="1032.9" y="2132.5" font-size="21.5" text-anchor="end" font-weight="bold" fill="#000">15</text>
<line x1="1034.1" y1="2188.3" x2="1049.1" y2="2188.3" stroke="#000" stroke-width="2.6"/>
<text x="1032.9" y="2196.0" font-size="21.5" text-anchor="end" font-weight="bold" fill="#000">10</text>
<line x1="1034.1" y1="2251.3" x2="1049.1" y2="2251.3" stroke="#000" stroke-width="2.6"/>
<text x="1032.9" y="2259.0" font-size="21.5" text-anchor="end" font-weight="bold" fill="#000">5</text>
<line x1="1034.1" y1="2313.8" x2="1049.1" y2="2313.8" stroke="#000" stroke-width="2.6"/>
<text x="1032.9" y="2321.5" font-size="21.5" text-anchor="end" font-weight="bold" fill="#000">0</text>
<path d="M1151.0 2052.8 V2037.8 H1267.8 V2052.8" fill="none" stroke="#000" stroke-width="2.5" stroke-linejoin="miter"/>
<path d="M1292.8 2052.8 V2037.8 H1408.3 V2052.8" fill="none" stroke="#000" stroke-width="2.5" stroke-linejoin="miter"/>
<path d="M1434.4 2052.8 V2037.8 H1685.0 V2052.8" fill="none" stroke="#000" stroke-width="2.5" stroke-linejoin="miter"/>
<text x="1203.6" y="2015.6" font-size="20.5" text-anchor="middle" font-weight="bold" fill="#000">P&lt;0.001</text>
<text x="1347.2" y="2015.6" font-size="20.5" text-anchor="middle" font-weight="bold" fill="#000">P&lt;0.001</text>
<text x="1559.7" y="2015.6" font-size="20.5" text-anchor="middle" font-weight="bold" fill="#000">P&lt;0.001</text>
<text x="958.6" y="2302.5" font-size="34" font-weight="bold" transform="translate(958.6 2302.5) rotate(-90) scale(1 1.035) translate(-958.6 -2302.5)">Diameter<tspan font-weight="normal" font-family='"Liberation Sans", "Noto Sans CJK SC", sans-serif'>（</tspan>µm<tspan font-weight="normal" font-family='"Liberation Sans", "Noto Sans CJK SC", sans-serif'>）</tspan></text>
<text x="1085.9" y="2361.9" font-size="34.5" text-anchor="end" font-weight="bold" fill="#000" transform="translate(1085.9 2361.9) scale(1.0 1.035) translate(-1085.9 -2361.9)">Myonectin</text>
<text x="1085.2" y="2404.4" font-size="34.5" text-anchor="end" font-weight="bold" fill="#000" transform="translate(1085.2 2404.4) scale(1.0 1.035) translate(-1085.2 -2404.4)">DEX</text>
<text x="1091.2" y="2441.6" font-size="34.5" text-anchor="end" font-weight="bold" fill="#000" transform="translate(1091.2 2441.6) scale(1.0 1.035) translate(-1091.2 -2441.6)">unrelated</text>
<text x="1085.9" y="2484.8" font-size="34.5" text-anchor="end" font-weight="bold" fill="#000" transform="translate(1085.9 2484.8) scale(1.0 1.035) translate(-1085.9 -2484.8)">PGC1α</text>
<text x="918.9" y="2505.0" font-size="34.5" text-anchor="start" font-weight="bold" fill="#000" transform="translate(918.9 2505.0) rotate(-90) scale(1.0 1.035) translate(-918.9 -2505.0)">siRNA</text>
<rect x="927.9" y="2419.1" width="4.7" height="63.4" fill="#000"/>
<line x1="1139.3" y1="2349.5" x2="1159.8" y2="2349.5" stroke="#000" stroke-width="2.2"/>
<line x1="1277.2" y1="2349.5" x2="1297.8" y2="2349.5" stroke="#000" stroke-width="2.2"/>
<line x1="1420.2" y1="2349.5" x2="1440.8" y2="2349.5" stroke="#000" stroke-width="2.2"/>
<line x1="1430.5" y1="2339.2" x2="1430.5" y2="2359.8" stroke="#000" stroke-width="2.2"/>
<line x1="1557.7" y1="2349.5" x2="1578.2" y2="2349.5" stroke="#000" stroke-width="2.2"/>
<line x1="1697.2" y1="2349.5" x2="1717.8" y2="2349.5" stroke="#000" stroke-width="2.2"/>
<line x1="1707.5" y1="2339.2" x2="1707.5" y2="2359.8" stroke="#000" stroke-width="2.2"/>
<line x1="1139.3" y1="2390.4" x2="1159.8" y2="2390.4" stroke="#000" stroke-width="2.2"/>
<line x1="1277.2" y1="2390.4" x2="1297.8" y2="2390.4" stroke="#000" stroke-width="2.2"/>
<line x1="1287.5" y1="2380.2" x2="1287.5" y2="2400.7" stroke="#000" stroke-width="2.2"/>
<line x1="1420.2" y1="2390.4" x2="1440.8" y2="2390.4" stroke="#000" stroke-width="2.2"/>
<line x1="1430.5" y1="2380.2" x2="1430.5" y2="2400.7" stroke="#000" stroke-width="2.2"/>
<line x1="1557.7" y1="2390.4" x2="1578.2" y2="2390.4" stroke="#000" stroke-width="2.2"/>
<line x1="1567.9" y1="2380.2" x2="1567.9" y2="2400.7" stroke="#000" stroke-width="2.2"/>
<line x1="1697.2" y1="2390.4" x2="1717.8" y2="2390.4" stroke="#000" stroke-width="2.2"/>
<line x1="1707.5" y1="2380.2" x2="1707.5" y2="2400.7" stroke="#000" stroke-width="2.2"/>
<line x1="1139.3" y1="2431.8" x2="1159.8" y2="2431.8" stroke="#000" stroke-width="2.2"/>
<line x1="1149.6" y1="2421.6" x2="1149.6" y2="2442.1" stroke="#000" stroke-width="2.2"/>
<line x1="1277.2" y1="2431.8" x2="1297.8" y2="2431.8" stroke="#000" stroke-width="2.2"/>
<line x1="1287.5" y1="2421.6" x2="1287.5" y2="2442.1" stroke="#000" stroke-width="2.2"/>
<line x1="1420.2" y1="2431.8" x2="1440.8" y2="2431.8" stroke="#000" stroke-width="2.2"/>
<line x1="1430.5" y1="2421.6" x2="1430.5" y2="2442.1" stroke="#000" stroke-width="2.2"/>
<line x1="1557.7" y1="2431.8" x2="1578.2" y2="2431.8" stroke="#000" stroke-width="2.2"/>
<line x1="1697.2" y1="2431.8" x2="1717.8" y2="2431.8" stroke="#000" stroke-width="2.2"/>
<line x1="1139.3" y1="2471.0" x2="1159.8" y2="2471.0" stroke="#000" stroke-width="2.2"/>
<line x1="1277.2" y1="2471.0" x2="1297.8" y2="2471.0" stroke="#000" stroke-width="2.2"/>
<line x1="1420.2" y1="2471.0" x2="1440.8" y2="2471.0" stroke="#000" stroke-width="2.2"/>
<line x1="1557.7" y1="2471.0" x2="1578.2" y2="2471.0" stroke="#000" stroke-width="2.2"/>
<line x1="1567.9" y1="2460.8" x2="1567.9" y2="2481.2" stroke="#000" stroke-width="2.2"/>
<line x1="1697.2" y1="2471.0" x2="1717.8" y2="2471.0" stroke="#000" stroke-width="2.2"/>
<line x1="1707.5" y1="2460.8" x2="1707.5" y2="2481.2" stroke="#000" stroke-width="2.2"/>
</svg>
</body></html>
